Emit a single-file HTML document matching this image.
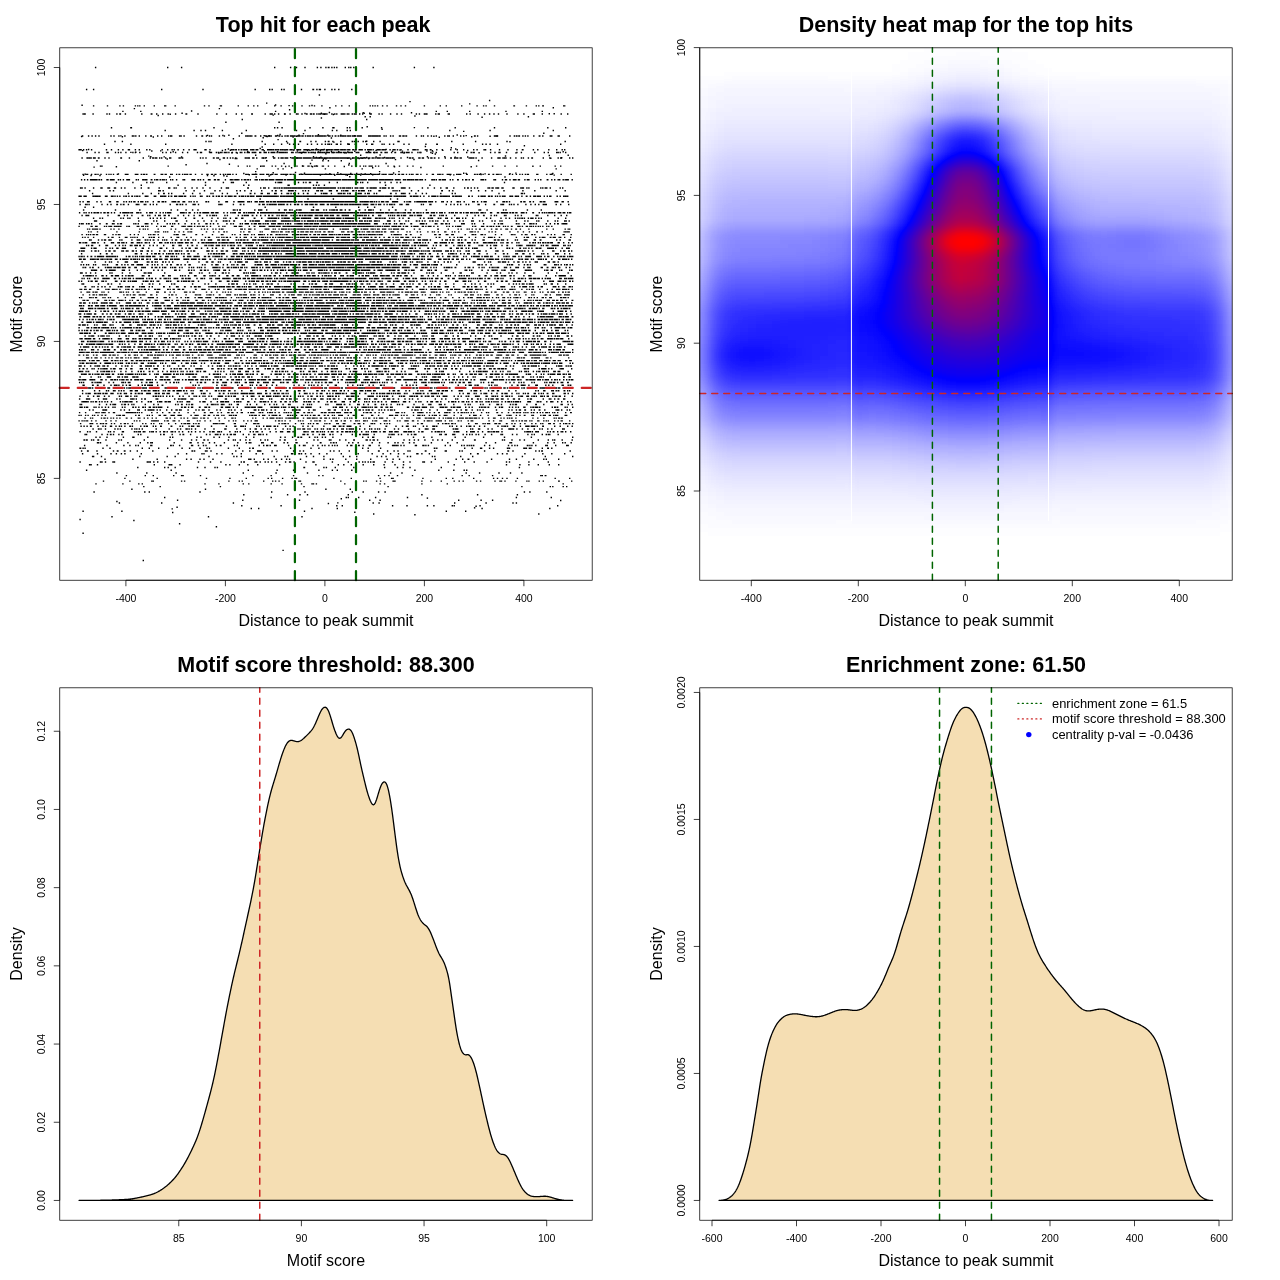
<!DOCTYPE html>
<html><head><meta charset="utf-8"><title>motif enrichment</title>
<style>html,body{margin:0;padding:0;background:#fff}svg{display:block;will-change:transform}text{font-family:"Liberation Sans", sans-serif;fill:#000}</style></head><body>
<svg width="1280" height="1280" viewBox="0 0 1280 1280">
<rect width="1280" height="1280" fill="#fff"/>
<defs>
<clipPath id="c0"><rect x="59.76" y="47.81" width="532.43" height="532.43"/></clipPath>
<clipPath id="c1"><rect x="699.76" y="47.81" width="532.43" height="532.43"/></clipPath>
<clipPath id="c2"><rect x="59.76" y="687.81" width="532.43" height="532.43"/></clipPath>
<clipPath id="c3"><rect x="699.76" y="687.81" width="532.43" height="532.43"/></clipPath>
</defs>
<g clip-path="url(#c0)"><g stroke="#000" stroke-width="1.45" fill="none">
<path d="M94.9 67.53h1.4m70.7 0h1.4m12.5 0h1.4m91.7 0h1.4m14.5 0h1.4m4.5 0h1.4m7.1 0h1.4m11 0h1.4m2.1 0h1.4m3.6 0h1.4m1.1 0h1.9m1.6 0h1.4m1.1 0h1.4m1 0h1.4m7.1 0h1.4m2.1 0h1.4m0.6 0h1.4m1.6 0h1.4m18 0h1.4m39.8 0h1.4m18.1 0h1.4"/>
<path d="M85.9 89.44h1.4m5.6 0h1.4m66.7 0h1.4m39.9 0h1.4m50.8 0h1.4m13.1 0h1.4m1.1 0h1.4m8 0h1.4m1.1 0h1.4m16 0h1.4m10.1 0h1.9m2 0h1.4m1.1 0h2.4m3.1 0h1.4m5.6 0h1.4m1.5 0h1.4m2.6 0h1.4m11.6 0h1.4"/>
<path d="M318.7 94.92h1.4"/>
<path d="M488.9 100.4h1.4"/>
<path d="M409.3 101.63h1.4"/>
<path d="M266 103.14h1.4"/>
<path d="M469 103.89h1.4"/>
<path d="M274.9 104.95h1.4"/>
<path d="M81.4 105.26h1.4"/>
<path d="M311.3 105.43h1.4"/>
<path d="M288.4 105.62h1.4"/>
<path d="M92.9 105.88h1.4m12.5 0h1.4m11 0h1.4m2.1 0h1.4m10.6 0h1.4m1 0h1.4m0.6 0h1.4m3.1 0h1.4m8.6 0h1.4m9 0h2.4m8.1 0h1.4m27.9 0h1.4m3.1 0h1.4m10 0h2.4m15.5 0h1.4m8.6 0h1.4m4.1 0h1.4m2.5 0h1.4m15.6 0h1.4m5 0h1.4m10.1 0h1.4m8 0h1.4m6.1 0h1.4m3.6 0h1.4m6 0h1.4m12.5 0h1.4m4.6 0h1.4m6.1 0h1.4m19.5 0h1.4m1.1 0h1.4m1 0h1.4m1.1 0h1.4m3.6 0h1.4m3.1 0h1.4m8 0h1.4m3.1 0h1.4m3.1 0h1.4m17.5 0h1.4m14.5 0h1.4m4.6 0h1.4m14 0h1.4m14 0h1.4m5.1 0h1.4m1.1 0h1.4m7 0h1.4m18.1 0h1.8m10.6 0h1.4m8.5 0h1.4m1.1 0h1.4m2.6 0h1.9m19 0h2.4"/>
<path d="M329.2 107.67h1.4m222 0h1.4"/>
<path d="M133.7 108.62h1.4m83.6 0h1.4"/>
<path d="M288.9 109.81h1.4"/>
<path d="M190.9 111.05h1.4"/>
<path d="M122.2 111.35h1.4m16.5 0h1.4m133.4 0h1.4m159.3 0h1.4m9.6 0h1.4m21 0h1.4m34.9 0h1.4m34.9 0h1.4"/>
<path d="M328.7 112.54h1.4"/>
<path d="M410.8 112.83h1.4"/>
<path d="M362.5 112.84h1.4"/>
<path d="M369 113.2h1.4"/>
<path d="M320.7 113.24h1.4"/>
<path d="M181.4 113.26h1.4"/>
<path d="M363.5 113.31h1.4"/>
<path d="M304.3 113.46h1.4"/>
<path d="M548.6 113.69h1.4"/>
<path d="M553.5 113.76h1.4"/>
<path d="M334.1 113.99h1.4"/>
<path d="M284.4 114h1.4"/>
<path d="M541.6 114.01h1.4"/>
<path d="M82.4 114.09h1.4m0.1 0h1.9m6.6 0h1.4m12.5 0h1.4m1.1 0h1.4m6 0h1.4m1.6 0h1.9m3.6 0h1.4m15 0h1.4m8.1 0h1.9m3.5 0h1.4m4.6 0h1.4m4.1 0h1.4m6 0h1.4m9.1 0h1.9m10 0h1.4m17.5 0h1.4m8.1 0h1.4m8.5 0h1.4m4.1 0h1.4m8.6 0h1.9m11.5 0h1.4m3.6 0h3.4m1.1 0h1.4m2.5 0h1.4m4.6 0h1.4m4.1 0h1.4m5 0h1.4m0.1 0h1.4m2.6 0h1.4m3.1 0h1.9m2.1 0h2.4m0.6 0h1.9m1.5 0h1.4m0.6 0h1.4m0.1 0h1.9m0.6 0h2.4m0.1 0h1.4m0.1 0h1.4m3.6 0h1.4m3.5 0h1.4m3.1 0h3.4m0.1 0h1.4m1.1 0h1.4m0.1 0h1.4m2.1 0h1.4m0.6 0h3.3m2.1 0h1.4m1.6 0h1.4m6.1 0h2.4m6.5 0h1.4m1.6 0h1.4m7.1 0h1.4m5 0h1.4m3.1 0h1.4m13.5 0h1.4m1.6 0h1.4m3.6 0h1.4m0.1 0h2.4m7.5 0h1.4m1.1 0h2.4m7.6 0h2.4m16 0h1.4m2.1 0h1.4m6.5 0h1.4m5.1 0h1.4m3.6 0h1.4m3 0h1.4m3.1 0h1.4m7.1 0h1.4m9.5 0h1.4m4.6 0h1.4m8.1 0h2.3m25.5 0h1.4m5.1 0h1.4"/>
<path d="M169.5 114.15h1.4"/>
<path d="M323.7 114.28h1.4"/>
<path d="M332.7 114.45h1.4"/>
<path d="M272.5 115.14h1.4"/>
<path d="M157.5 115.43h1.4"/>
<path d="M414.2 116.05h1.4"/>
<path d="M364.5 116.83h1.4m3.6 0h1.4m156.8 0h1.4"/>
<path d="M481.4 117.18h1.4"/>
<path d="M320.7 118.04h1.4"/>
<path d="M241.6 119.57h1.4m123 0h1.4"/>
<path d="M225.2 122.31h1.4m51.8 0h1.4m75.7 0h1.4"/>
<path d="M355 125.05h1.4"/>
<path d="M366.5 126.84h1.4"/>
<path d="M413.7 127.61h1.4"/>
<path d="M110.8 127.79h1.4m18 0h1.9m81.2 0h1.4m59.3 0h1.4m1.5 0h1.4m3.1 0h1.4m26.5 0h1.4m11.5 0h1.4m8.6 0h2.4m12 0h1.4m1.1 0h1.4m11 0h1.4m18 0h1.4m44.9 0h1.4m25.9 0h1.4m37.9 0h1.4m51.9 0h1.4m16.5 0h1.4"/>
<path d="M381.4 129.21h1.4"/>
<path d="M164.5 130.53h1.4m27.5 0h1.4m5.5 0h1.4m3.1 0h1.4m15.5 0h1.4m22.5 0h1.4m48.8 0h1.4m7.1 0h1.4m26 0h1.4m3 0h1.4m9.1 0h1.4m1.6 0h1.4m98.1 0h1.4m38.9 0h1.4m61.8 0h1.4"/>
<path d="M463 131.35h1.4"/>
<path d="M241.1 133.27h1.4m300.6 0h1.4"/>
<path d="M302.8 133.64h1.4"/>
<path d="M279.4 134.56h1.4"/>
<path d="M317.7 134.74h1.4"/>
<path d="M456.5 134.97h1.4"/>
<path d="M340.1 135.22h1.4"/>
<path d="M298.3 135.25h1.4m27.5 0h1.4"/>
<path d="M228.2 135.26h1.4"/>
<path d="M206.8 135.38h1.4"/>
<path d="M276.9 135.57h1.4"/>
<path d="M222.2 135.59h1.4"/>
<path d="M465.5 135.6h1.4"/>
<path d="M263.5 135.7h1.4"/>
<path d="M354.1 135.8h1.4"/>
<path d="M268.5 135.83h1.4"/>
<path d="M120.2 135.88h1.4"/>
<path d="M496.3 135.94h1.4"/>
<path d="M509.3 135.95h1.4"/>
<path d="M81.9 136.01h1.4m4.6 0h1.4m2.1 0h1.4m2.1 0h1.4m2 0h1.4m10.6 0h1.4m1.6 0h1.4m3.5 0h1.4m4.6 0h1.4m6.1 0h1.4m0.1 0h1.4m0.5 0h1.4m2.1 0h1.4m5.1 0h1.4m3.6 0h1.9m5 0h1.4m2.6 0h1.4m5.6 0h1.4m0.6 0h2.4m6.5 0h1.4m0.1 0h1.4m1.6 0h1.4m11 0h1.4m4.1 0h1.9m2.6 0h1.4m1.6 0h1.4m0.6 0h1.4m6.5 0h1.4m3.6 0h1.4m13.5 0h1.4m5.1 0h1.4m0.1 0h1.4m0.1 0h1.4m0.1 0h1.4m0.1 0h1.4m2 0h1.9m3.6 0h1.4m3.6 0h1.4m1.6 0h2.4m0.1 0h1.4m3 0h2.4m1.1 0h1.9m4.1 0h1.4m0.6 0h2.4m1.1 0h3.4m0.1 0h2.3m1.1 0h3.9m0.6 0h2.4m1.1 0h1.4m0.6 0h1.4m0.1 0h1.4m0.1 0h1.4m0.6 0h1.9m1 0h1.4m0.1 0h7.4m0.1 0h1.4m0.1 0h1.4m1.1 0h2.9m1.1 0h1.4m1.5 0h1.9m1.1 0h1.4m0.6 0h1.4m0.1 0h2.9m0.1 0h2.4m0.6 0h2.4m0.1 0h1.4m0.6 0h4.8m0.6 0h4.9m6.1 0h3.9m0.1 0h6.3m0.1 0h2.4m2.6 0h1.4m0.6 0h1.4m3.1 0h1.4m1.1 0h1.4m5 0h2.4m1.1 0h2.4m0.6 0h1.9m8.5 0h1.4m3.6 0h1.4m0.6 0h1.4m3.1 0h1.4m2.1 0h1.4m3.5 0h1.4m7.1 0h1.4m1.6 0h1.4m0.1 0h1.4m2.6 0h1.4m6 0h1.4m1.6 0h1.4m9.5 0h1.9m1.1 0h1.4m15.5 0h2.9m0.1 0h1.4m15.5 0h1.4m0.6 0h1.9m0.6 0h1.9m2.1 0h1.4m1.1 0h1.4m1.1 0h1.4m4.5 0h1.4m4.1 0h1.9m1.6 0h1.4m6.1 0h2.9m5 0h2.4m9.1 0h1.4"/>
<path d="M281.4 136.19h1.4"/>
<path d="M433.2 136.23h1.4"/>
<path d="M266 136.24h1.4"/>
<path d="M295.8 136.31h1.4"/>
<path d="M489.4 136.33h1.4"/>
<path d="M80.9 136.4h1.4"/>
<path d="M266.5 136.51h1.4"/>
<path d="M121.7 136.67h1.4"/>
<path d="M471 136.83h1.4"/>
<path d="M292.4 136.97h1.4"/>
<path d="M152.6 137.03h1.4"/>
<path d="M438.6 137.18h1.4"/>
<path d="M262.5 137.76h1.4"/>
<path d="M330.7 137.92h1.4"/>
<path d="M232.7 138.74h1.4"/>
<path d="M277.4 139.64h1.4"/>
<path d="M366 141.16h1.4"/>
<path d="M114.3 141.48h1.4m6 0h1.4m82.2 0h1.4m1.6 0h1.4m0.6 0h1.4m49.8 0h1.4m23 0h1.4m12 0h1.9m9.1 0h1.4m3.5 0h1.4m8.1 0h1.4m1.6 0h1.9m2.6 0h1.4m6.5 0h1.4m10.1 0h1.4m0.6 0h1.4m2.5 0h1.4m3.6 0h1.4m1.1 0h1.4m6.6 0h1.4m5 0h1.4m16.5 0h2.4m51.4 0h1.4m22.4 0h1.4m30 0h1.4m56.8 0h1.4"/>
<path d="M509.3 141.68h1.4"/>
<path d="M333.2 142.12h1.4"/>
<path d="M286.9 143.02h1.4"/>
<path d="M347.1 144.01h1.4"/>
<path d="M462.5 144.18h1.4"/>
<path d="M103.8 144.22h1.4m25 0h1.4m33.4 0h1.4m64.8 0h1.4m31.9 0h1.4m7.1 0h1.4m6.5 0h1.4m6.6 0h1.4m2.6 0h1.4m3.5 0h1.4m7.6 0h1.4m2.6 0h1.4m4.5 0h1.4m3.1 0h1.4m2.1 0h1.4m1.1 0h1.4m0.1 0h1.4m0.6 0h1.4m3.5 0h2.4m2.1 0h1.4m6.1 0h2.4m4.5 0h1.4m10.1 0h1.4m3.6 0h2.4m8 0h1.4m0.6 0h1.4m4.1 0h1.4m2.6 0h1.4m9 0h1.4m3.6 0h1.4m15.5 0h1.4m9.5 0h1.9m43.9 0h1.4m2.1 0h1.4m2.6 0h1.4m6 0h1.4m61.8 0h1.4"/>
<path d="M523.7 145.71h1.4"/>
<path d="M424.7 146.56h1.4"/>
<path d="M261.5 146.96h1.4"/>
<path d="M450.6 147.81h1.4"/>
<path d="M259.5 148.52h1.4"/>
<path d="M315.7 148.89h1.4"/>
<path d="M227.7 149.04h1.4m225.9 0h1.4"/>
<path d="M385.4 149.39h1.4"/>
<path d="M323.7 149.49h1.4"/>
<path d="M87.9 149.54h1.4"/>
<path d="M78.4 149.7h3.4m1.1 0h1.4m1.6 0h1.4m3.6 0h1.4m13.5 0h1.4m3.6 0h1.4m5.5 0h1.4m3.1 0h1.4m4.1 0h2.4m4.6 0h1.4m2.5 0h1.4m6.1 0h1.4m1.6 0h1.4m11 0h1.4m4.1 0h1.4m3.1 0h1.4m0.6 0h1.4m2.5 0h1.4m4.1 0h1.4m4.1 0h1.4m3.6 0h3.3m7.6 0h2.4m2.6 0h1.4m14 0h1.4m4.6 0h1.9m0.1 0h1.9m0.5 0h1.9m1.1 0h1.4m1.1 0h1.9m0.6 0h2.4m0.1 0h2.4m2.1 0h1.4m0.1 0h2.9m1 0h2.9m3.1 0h2.4m3.1 0h5.9m0.1 0h1.4m0.5 0h1.4m0.1 0h1.4m0.1 0h1.4m0.6 0h1.4m0.1 0h1.9m0.1 0h1.4m0.6 0h2.9m1.1 0h3.4m0.6 0h1.4m1.5 0h2.9m0.1 0h1.9m2.1 0h3.9m0.1 0h2.4m1.1 0h3.4m0.5 0h4.9m0.6 0h3.9m1.6 0h4.4m0.1 0h1.9m0.1 0h1.4m0.5 0h5.4m0.6 0h2.9m0.1 0h1.9m0.1 0h1.4m0.6 0h3.4m1.6 0h1.9m0.5 0h2.4m1.6 0h4.4m1.6 0h1.4m1.1 0h4.9m0.6 0h1.4m2.5 0h4.4m0.6 0h2.9m0.1 0h1.9m3.1 0h1.4m1.6 0h3.3m1.1 0h1.4m2.1 0h1.4m5.6 0h1.4m3.6 0h2.8m0.1 0h1.4m0.6 0h1.4m6.1 0h1.4m0.1 0h1.4m2.1 0h1.9m4.5 0h1.4m4.1 0h1.4m7.1 0h1.4m5 0h1.4m5.1 0h1.4m8.6 0h1.4m2 0h1.4m5.6 0h1.4m0.1 0h1.4m3.6 0h1.4m7.5 0h1.4m7.1 0h1.4m7.5 0h1.4m4.1 0h1.9m9.1 0h1.4m3 0h1.4m9.6 0h1.4m6.5 0h1.4m4.1 0h1.4m1.1 0h1.4"/>
<path d="M284.4 149.76h1.4"/>
<path d="M399.3 149.9h1.4"/>
<path d="M292.9 150.14h1.4"/>
<path d="M229.7 150.19h1.4"/>
<path d="M326.2 150.31h1.4"/>
<path d="M375.4 150.35h1.4m65.3 0h1.4"/>
<path d="M309.3 150.39h1.4"/>
<path d="M467 150.4h1.4"/>
<path d="M306.8 150.41h1.4"/>
<path d="M221.7 150.56h1.4"/>
<path d="M81.9 150.62h1.4"/>
<path d="M431.7 150.69h1.4"/>
<path d="M319.7 150.7h1.4"/>
<path d="M263.5 150.72h1.4"/>
<path d="M160 150.89h1.4"/>
<path d="M296.8 150.95h1.4"/>
<path d="M151.1 150.98h1.4"/>
<path d="M426.2 151.09h1.4"/>
<path d="M401.8 151.14h1.4"/>
<path d="M330.7 151.31h1.4m59.8 0h1.4"/>
<path d="M354.1 151.34h1.4"/>
<path d="M368 151.43h1.4"/>
<path d="M247.1 151.54h1.4"/>
<path d="M172.5 151.69h1.4"/>
<path d="M338.1 151.72h1.4"/>
<path d="M562.5 151.81h1.4"/>
<path d="M276.9 151.83h1.4"/>
<path d="M432.2 151.88h1.4"/>
<path d="M317.7 151.91h1.4m28 0h1.4"/>
<path d="M208.8 152.09h1.4"/>
<path d="M326.2 152.19h1.4"/>
<path d="M135.1 152.28h1.4"/>
<path d="M302.8 152.33h1.4"/>
<path d="M325.7 152.35h1.4"/>
<path d="M130.2 152.37h1.4"/>
<path d="M373.9 152.4h1.4m43.9 0h1.4"/>
<path d="M86.4 152.44h1.4m6.6 0h1.4m2.5 0h1.4m6.6 0h2.4m6.1 0h1.4m1.5 0h1.4m1.1 0h1.4m3.6 0h1.4m5.6 0h1.4m1.1 0h1.4m3 0h1.4m21.5 0h1.4m2.1 0h1.4m3.1 0h1.4m3.5 0h1.4m5.6 0h1.4m3.6 0h1.4m8.5 0h1.4m1.6 0h2.4m7.1 0h2.9m3.5 0h1.4m0.6 0h1.4m0.6 0h1.4m0.1 0h1.4m1.1 0h2.4m0.1 0h1.4m0.6 0h1.4m2.1 0h1.4m2.5 0h1.4m2.6 0h1.4m0.1 0h1.4m1.6 0h1.4m1.1 0h3.4m1.6 0h1.4m0.1 0h3.3m2.6 0h2.4m2.1 0h3.4m1.1 0h1.4m1.1 0h4.9m1 0h1.4m0.6 0h6.4m0.1 0h1.4m0.1 0h1.4m3.1 0h2.9m1.5 0h1.4m2.1 0h2.9m0.1 0h1.4m0.6 0h2.9m1.1 0h1.9m0.6 0h2.4m0.1 0h1.4m0.5 0h1.4m1.1 0h1.4m0.1 0h2.9m0.1 0h1.9m0.1 0h1.9m1.1 0h3.4m1.1 0h2.4m0.5 0h1.4m0.6 0h1.4m0.1 0h1.4m0.1 0h2.9m0.6 0h2.4m0.1 0h1.4m1.1 0h2.9m0.1 0h2.4m2.5 0h2.4m0.1 0h1.4m6.1 0h3.4m0.1 0h2.4m1.6 0h1.9m0.5 0h2.4m2.6 0h1.9m2.1 0h1.9m0.1 0h1.4m3.1 0h1.4m2 0h1.9m4.1 0h1.4m0.1 0h1.4m0.6 0h1.4m0.6 0h3.9m1.6 0h1.4m4.5 0h1.4m1.6 0h1.4m8.6 0h1.4m4 0h1.4m16.5 0h1.4m2.1 0h1.4m7.6 0h1.4m3.1 0h1.4m0.6 0h2.4m15 0h1.4m3 0h1.4m2.6 0h2.4m5.1 0h1.4m9 0h1.4m3.1 0h1.4m12 0h1.4m8.1 0h1.4m2.6 0h1.4m7 0h1.4m0.1 0h1.4m0.6 0h1.4m4.1 0h1.4"/>
<path d="M332.7 152.46h1.4"/>
<path d="M297.3 152.62h1.4"/>
<path d="M478.4 152.65h1.4"/>
<path d="M344.1 152.68h1.4"/>
<path d="M314.3 152.78h1.4"/>
<path d="M231.2 152.81h1.4"/>
<path d="M515.2 152.86h1.4"/>
<path d="M345.6 152.89h1.4"/>
<path d="M218.2 152.96h1.4"/>
<path d="M236.6 153h1.4"/>
<path d="M300.8 153.01h1.4"/>
<path d="M403.3 153.04h1.4"/>
<path d="M431.7 153.39h1.4"/>
<path d="M325.2 153.79h1.4"/>
<path d="M434.6 153.93h1.4"/>
<path d="M379.4 155.02h1.4"/>
<path d="M255 155.18h1.4m103.6 0h1.4m206.1 0h1.4"/>
<path d="M548.6 155.57h1.4"/>
<path d="M504.8 156.05h1.4"/>
<path d="M148.1 156.13h1.4"/>
<path d="M312.8 156.71h1.4"/>
<path d="M426.7 156.72h1.4"/>
<path d="M272.5 156.75h1.4"/>
<path d="M444.1 156.79h1.4"/>
<path d="M150.1 156.8h1.4"/>
<path d="M163.5 156.87h1.4"/>
<path d="M375.4 156.94h1.4"/>
<path d="M467 157.02h1.4"/>
<path d="M180.9 157.05h1.4"/>
<path d="M454.5 157.11h1.4"/>
<path d="M320.2 157.19h1.4"/>
<path d="M315.7 157.39h1.4"/>
<path d="M294.3 157.42h1.4"/>
<path d="M366 157.48h1.4"/>
<path d="M383.9 157.49h1.4"/>
<path d="M406.8 157.54h1.4"/>
<path d="M289.9 157.64h1.4"/>
<path d="M318.7 157.75h1.4"/>
<path d="M561 157.77h1.4"/>
<path d="M265.5 157.82h1.4"/>
<path d="M363.5 157.83h1.4m27.5 0h1.4"/>
<path d="M81.4 157.92h1.4m3.6 0h2.4m0.1 0h1.4m0.1 0h1.4m1.1 0h2.9m2 0h1.9m4.6 0h1.4m2.6 0h1.4m10.5 0h1.9m20.5 0h1.4m5.6 0h1.4m1.1 0h2.4m0.5 0h2.4m1.6 0h1.4m0.6 0h1.4m2.6 0h1.4m2.6 0h2.4m7 0h2.4m0.6 0h1.9m16.5 0h1.4m1.1 0h1.4m1.6 0h1.4m6.1 0h1.9m1.5 0h1.4m0.1 0h1.4m3.6 0h2.4m1.6 0h1.4m1.6 0h1.4m1.1 0h1.4m1.5 0h1.4m8.1 0h1.4m0.1 0h1.4m0.1 0h2.4m2.1 0h2.4m1.5 0h1.4m4.1 0h2.4m0.6 0h1.4m7.1 0h2.4m5 0h3.4m0.6 0h3.9m3.1 0h10.8m0.6 0h8.9m0.6 0h8.3m0.1 0h2.9m0.6 0h4.4m0.1 0h2.4m0.1 0h7.8m0.1 0h8.4m0.1 0h2.9m1.6 0h2.4m0.5 0h4.4m0.6 0h2.4m0.1 0h1.4m0.6 0h1.9m1.1 0h1.4m0.1 0h1.4m1.1 0h2.4m0.5 0h1.4m0.6 0h4.4m0.6 0h1.4m0.1 0h1.4m1.1 0h1.4m0.6 0h1.9m0.1 0h2.4m0.1 0h1.4m0.5 0h1.4m5.1 0h1.4m7.1 0h2.4m0.6 0h1.9m4.5 0h2.4m1.1 0h2.4m3.6 0h1.4m1.1 0h2.4m1.1 0h1.8m2.6 0h1.4m5.1 0h1.4m4.1 0h1.9m2 0h1.4m0.1 0h1.4m0.1 0h1.4m1.1 0h2.4m6.6 0h1.4m0.1 0h2.9m0.1 0h1.4m1 0h1.4m4.6 0h1.4m8.1 0h1.4m5 0h3.4m1.6 0h1.4m0.1 0h1.4m0.1 0h1.4m3.1 0h1.4m4 0h1.4m4.1 0h1.4m0.6 0h1.4m3.6 0h1.4m2.1 0h1.9m9.5 0h1.4m5.1 0h1.4m7 0h1.4m1.1 0h1.9m7.1 0h1.4m1.6 0h1.4"/>
<path d="M296.3 157.95h1.4"/>
<path d="M128.7 157.98h1.4m256.3 0h1.4"/>
<path d="M277.9 158.02h1.4m75.2 0h1.4"/>
<path d="M263 158.11h1.4"/>
<path d="M351.6 158.13h1.4"/>
<path d="M347.1 158.23h1.4"/>
<path d="M550.1 158.3h1.4"/>
<path d="M323.7 158.33h1.4"/>
<path d="M361.5 158.35h1.4"/>
<path d="M236.1 158.46h1.4m121 0h1.4"/>
<path d="M234.6 158.52h1.4"/>
<path d="M368 158.64h1.4"/>
<path d="M325.2 158.7h1.4"/>
<path d="M293.9 158.88h1.4"/>
<path d="M166.5 158.91h1.4"/>
<path d="M350.1 159.09h1.4"/>
<path d="M322.7 159.15h1.4"/>
<path d="M219.2 159.55h1.4"/>
<path d="M413.3 159.56h1.4"/>
<path d="M394.8 159.63h1.4"/>
<path d="M311.3 160.13h1.4"/>
<path d="M477.9 160.56h1.4"/>
<path d="M96.3 160.66h1.4m40.9 0h1.4m126 0h1.4m54.8 0h1.4m4.1 0h1.4m11.5 0h1.4"/>
<path d="M206.3 163.4h1.4m75.7 0h1.4m25 0h1.4m37.4 0h1.4m35.4 0h1.4"/>
<path d="M228.7 164.33h1.4"/>
<path d="M185.4 164.74h1.4"/>
<path d="M348.1 164.93h1.4"/>
<path d="M315.7 165.91h1.4"/>
<path d="M301.8 166.03h1.4"/>
<path d="M99.8 166.13h1.4m0.1 0h1.4m64.8 0h1.4m68.7 0h1.4m7.6 0h1.4m1.1 0h1.4m11 0h1.4m0.1 0h1.9m6.6 0h1.4m2 0h1.4m4.6 0h1.4m6.1 0h1.4m6.5 0h1.4m4.6 0h1.9m3.1 0h2.4m1.1 0h1.4m1.6 0h1.9m1 0h1.4m3.6 0h2.4m3.6 0h1.4m5 0h1.4m15.6 0h1.4m3 0h1.4m2.6 0h1.4m2.1 0h1.4m0.6 0h1.4m2.1 0h1.9m0.1 0h2.4m2 0h1.4m1.6 0h1.4m8.1 0h1.4m4.6 0h1.4m12 0h1.4m4.1 0h1.4m28.9 0h1.4m31.9 0h1.4m14.6 0h1.4m11 0h1.4m10.5 0h1.4m22 0h1.4m13.5 0h1.4m4.1 0h1.4"/>
<path d="M398.8 166.14h1.4"/>
<path d="M260 166.15h1.4"/>
<path d="M532.2 166.31h1.4"/>
<path d="M343.6 166.46h1.4"/>
<path d="M284.9 166.47h1.4"/>
<path d="M393.8 166.7h1.4"/>
<path d="M311.8 166.73h1.4"/>
<path d="M115.7 166.75h1.4"/>
<path d="M470.5 166.76h1.4"/>
<path d="M93.4 167.11h1.4"/>
<path d="M420.2 167.59h1.4"/>
<path d="M290.9 167.69h1.4"/>
<path d="M372 167.7h1.4"/>
<path d="M256.5 168.87h1.4m19.5 0h1.4m3.6 0h1.4m40.9 0h1.4m35.4 0h1.4m192.6 0h1.4"/>
<path d="M255 171.61h1.4m122.5 0h1.4m18 0h1.4"/>
<path d="M294.8 172.54h1.4"/>
<path d="M272.5 172.65h1.4"/>
<path d="M337.1 172.74h1.4"/>
<path d="M392.9 173h1.4"/>
<path d="M515.2 173.1h1.4"/>
<path d="M303.8 173.18h1.4"/>
<path d="M463 173.28h1.4"/>
<path d="M465.5 173.37h1.4"/>
<path d="M243.1 173.43h1.4"/>
<path d="M356 173.53h1.4m194.7 0h1.4"/>
<path d="M350.1 173.54h1.4"/>
<path d="M329.2 173.7h1.4"/>
<path d="M509.3 173.71h1.4"/>
<path d="M370 173.73h1.4"/>
<path d="M360.5 173.86h1.4"/>
<path d="M484.4 173.88h1.4"/>
<path d="M364.5 173.9h1.4"/>
<path d="M551.6 173.91h1.4"/>
<path d="M479.9 173.99h1.4"/>
<path d="M378.9 174h1.4"/>
<path d="M340.1 174.01h1.4"/>
<path d="M117.7 174.07h1.4"/>
<path d="M84.4 174.13h1.4"/>
<path d="M325.2 174.26h1.4"/>
<path d="M255 174.3h1.4"/>
<path d="M300.3 174.34h1.4"/>
<path d="M82.4 174.35h1.4m1.6 0h1.4m0.1 0h1.4m2.6 0h1.4m2.1 0h2.3m0.6 0h1.4m1.6 0h1.4m4.1 0h1.4m1.1 0h1.4m0.6 0h1.4m1.1 0h1.4m2.5 0h1.4m6.6 0h3.9m6.1 0h3.8m2.1 0h1.4m0.6 0h2.4m0.6 0h1.9m6.1 0h1.9m5 0h2.9m1.1 0h2.4m3.1 0h1.4m0.1 0h1.4m3 0h1.4m1.1 0h1.9m1.6 0h1.4m0.6 0h1.4m0.1 0h1.4m0.1 0h1.4m1.1 0h2.4m3 0h1.4m5.1 0h1.4m3.6 0h2.4m2.1 0h2.4m1.1 0h2.3m3.1 0h1.4m1.6 0h1.4m0.6 0h1.4m0.6 0h4.4m1.1 0h1.4m2 0h1.4m8.1 0h1.9m0.1 0h1.9m2.6 0h3.9m0.5 0h1.4m2.1 0h1.9m0.1 0h1.4m0.1 0h1.4m1.6 0h3.4m1.6 0h2.4m1.1 0h3.3m2.6 0h2.4m0.1 0h1.9m0.1 0h3.4m1.1 0h2.4m0.6 0h2.9m3.5 0h1.4m0.6 0h2.9m0.6 0h8.4m0.1 0h10.3m0.1 0h2.4m0.1 0h6.9m0.6 0h1.9m1 0h4.4m0.1 0h6.9m0.1 0h5.9m0.6 0h3.8m0.1 0h2.4m1.1 0h3.9m0.1 0h4.9m0.6 0h5.8m0.1 0h2.9m1.6 0h1.4m0.1 0h1.4m0.1 0h2.4m1.6 0h1.4m0.1 0h3.4m1.5 0h1.4m1.6 0h2.4m1.1 0h2.9m1.6 0h1.4m1.6 0h1.4m0.6 0h1.4m0.1 0h1.4m2 0h2.9m1.6 0h1.4m4.6 0h1.4m4.1 0h2.4m3 0h1.4m0.1 0h1.4m0.1 0h1.4m0.6 0h1.4m3.1 0h3.4m0.1 0h1.4m4.5 0h1.9m0.1 0h3.4m4.6 0h1.9m6 0h1.9m0.6 0h1.9m0.6 0h1.4m2.1 0h1.4m4.1 0h1.9m2.6 0h1.9m1.5 0h2.4m0.1 0h1.4m0.6 0h1.4m7.1 0h1.4m1.6 0h1.4m2.5 0h1.4m2.1 0h1.4m1.1 0h1.4m1.6 0h1.4m0.6 0h2.4m7 0h2.4m7.6 0h1.4m2.1 0h2.4m8.5 0h1.4m8.6 0h1.4"/>
<path d="M480.4 174.5h1.4"/>
<path d="M270 174.66h1.4"/>
<path d="M449.6 174.69h1.4"/>
<path d="M372 174.7h1.4"/>
<path d="M248.6 174.72h1.4m95.1 0h1.4"/>
<path d="M453.1 174.88h1.4"/>
<path d="M285.4 174.97h1.4"/>
<path d="M360 174.98h1.4"/>
<path d="M319.7 174.99h1.4"/>
<path d="M553.5 175.14h1.4"/>
<path d="M334.1 175.21h1.4"/>
<path d="M346.6 175.23h1.4"/>
<path d="M82.9 175.33h1.4"/>
<path d="M99.3 175.41h1.4"/>
<path d="M90.4 175.46h1.4"/>
<path d="M206.8 175.48h1.4"/>
<path d="M223.2 175.74h1.4"/>
<path d="M213.3 175.79h1.4"/>
<path d="M268.5 176.09h1.4"/>
<path d="M226.2 176.21h1.4"/>
<path d="M349.1 176.82h1.4"/>
<path d="M169 177.09h1.4m85.1 0h1.4m247.4 0h1.4"/>
<path d="M80.9 179.83h1.4m1.6 0h1.4m1.6 0h1.4m1.6 0h7.8m0.6 0h1.9m0.6 0h1.4m4.1 0h2.4m1.1 0h4.9m3 0h1.4m0.6 0h1.4m1.6 0h1.4m2.1 0h3.9m5.5 0h1.4m0.6 0h1.4m3.1 0h1.9m0.1 0h3.4m3.1 0h1.9m1.6 0h1.4m0.5 0h2.4m1.1 0h1.9m0.6 0h1.4m0.1 0h1.4m0.6 0h1.4m3.1 0h1.4m0.6 0h1.4m2.5 0h1.4m5.1 0h1.4m0.1 0h1.4m6.1 0h2.4m0.1 0h1.4m2 0h1.9m0.6 0h1.4m1.6 0h1.4m3.6 0h2.9m3.1 0h2.3m1.1 0h2.4m5.1 0h1.4m3.6 0h2.4m0.1 0h1.4m0.6 0h3.8m0.1 0h1.4m1.6 0h1.4m1.1 0h2.9m0.6 0h1.9m0.6 0h1.4m3.5 0h1.4m0.1 0h1.9m1.1 0h1.4m0.6 0h2.9m0.6 0h3.4m0.6 0h5.9m1 0h7.9m0.6 0h2.4m0.6 0h54.1m0.6 0h5.9m0.1 0h8.8m0.6 0h3.9m0.1 0h5.9m1.1 0h10.3m0.6 0h5.4m0.1 0h7.4m0.1 0h1.4m1.5 0h4.4m0.1 0h1.4m2.1 0h1.9m0.1 0h1.4m0.6 0h3.4m0.1 0h2.4m0.1 0h1.4m0.5 0h3.9m0.6 0h1.9m0.1 0h1.9m1.6 0h1.4m5.1 0h1.9m0.1 0h1.9m0.5 0h1.4m1.6 0h2.4m0.6 0h4.4m3.6 0h1.4m1.1 0h1.4m3.5 0h1.9m3.1 0h1.4m1.6 0h2.4m1.1 0h1.4m2.1 0h1.9m6.5 0h3.9m0.6 0h1.4m7 0h1.4m0.1 0h1.4m5.6 0h1.4m1.6 0h2.4m2.1 0h1.4m2.1 0h3.8m1.1 0h2.4m4.1 0h1.4m1.1 0h2.9m5 0h1.4m1.6 0h1.4m1.1 0h1.4m5.1 0h1.9m2.6 0h1.4m1.5 0h1.4m2.1 0h1.4m0.1 0h1.4m2.1 0h1.4m0.6 0h1.4m0.1 0h2.9m2.6 0h1.4"/>
<path d="M115.7 182.57h1.4m15.1 0h1.4m12.5 0h1.4m2.6 0h1.4m0.6 0h1.4m12.5 0h1.4m37.4 0h1.4m16.5 0h1.4m6.6 0h1.9m0.1 0h1.4m11.5 0h1.4m27.9 0h1.4m1.1 0h1.4m0.1 0h3.4m11.6 0h1.4m2.5 0h1.4m3.6 0h1.4m1.1 0h1.4m2.1 0h2.4m5 0h1.9m10.6 0h1.4m6.5 0h1.4m19 0h1.4m1.6 0h1.4m0.6 0h1.4m3.6 0h1.4m11 0h1.4m3.6 0h1.4m4.6 0h1.4m4.5 0h1.4m2.1 0h1.4m102.6 0h1.4"/>
<path d="M140.6 185.31h1.4m35.4 0h1.4m26 0h1.4m36.9 0h1.4m3.6 0h1.4m37.9 0h2.4m23 0h1.4m1.5 0h1.4m1.1 0h1.4m4.1 0h1.4m59.8 0h1.4m42.9 0h1.4"/>
<path d="M79.9 188.05h1.4m0.1 0h1.4m1.6 0h1.4m7.1 0h1.4m6 0h2.4m4.6 0h2.9m3.6 0h2.4m4.5 0h1.4m2.1 0h1.4m8.6 0h1.4m5 0h1.4m5.6 0h1.9m9 0h1.4m8.1 0h2.4m3.1 0h1.4m0.5 0h1.4m7.6 0h1.4m5.6 0h1.4m3.5 0h1.4m4.6 0h1.4m5.6 0h1.4m10 0h1.4m3.6 0h1.4m0.1 0h1.9m18 0h1.9m11 0h1.4m1.6 0h1.4m0.1 0h1.4m2.1 0h1.4m4.1 0h2.4m0.5 0h1.4m0.6 0h1.9m0.6 0h1.9m0.6 0h2.4m0.1 0h1.4m0.1 0h2.4m0.1 0h1.9m0.1 0h5.8m0.1 0h4.4m0.1 0h1.4m0.1 0h3.9m0.1 0h3.4m1.6 0h3.3m0.6 0h5.9m0.1 0h6.4m0.1 0h6.8m1.6 0h1.4m0.6 0h1.9m0.6 0h3.4m0.6 0h1.4m0.1 0h1.9m0.1 0h1.4m0.6 0h1.4m1.5 0h2.4m0.1 0h1.4m1.1 0h1.4m0.1 0h2.9m2.6 0h1.9m1.1 0h3.4m0.1 0h3.8m2.6 0h1.9m0.6 0h4.4m1.6 0h1.9m1.6 0h2.4m7 0h4.9m3.1 0h1.4m11.5 0h1.4m4.1 0h1.4m5.1 0h1.4m5 0h1.4m4.1 0h2.4m5.1 0h1.4m9.5 0h1.4m1.6 0h1.9m1.6 0h1.4m2 0h1.4m1.6 0h1.4m9.1 0h1.4m0.1 0h1.4m1.1 0h2.4m1.5 0h1.4m0.1 0h2.4m2.1 0h2.4m8.6 0h2.4m5.5 0h1.4m0.1 0h2.4m2.1 0h1.4m0.6 0h1.4m10.5 0h1.4m0.6 0h1.4m1.1 0h2.9m2.1 0h1.4m8.5 0h1.4m1.1 0h1.4"/>
<path d="M88.9 190.79h1.4m19 0h1.4m2.1 0h1.4m43.8 0h1.4m0.1 0h1.4m1.6 0h1.4m21.5 0h1.4m6.6 0h1.4m9 0h1.4m9.1 0h1.4m3.5 0h1.4m15.5 0h1.4m2.1 0h1.4m3.1 0h1.4m5.1 0h1.4m9 0h1.4m9.1 0h1.4m2 0h1.9m3.6 0h1.9m5.6 0h2.9m0.1 0h2.9m1 0h1.4m6.1 0h1.4m1.1 0h1.4m1.6 0h1.4m7 0h1.4m0.1 0h1.4m1.1 0h1.4m0.1 0h1.4m5.6 0h3.4m4 0h1.9m3.1 0h1.4m0.6 0h1.4m0.6 0h3.4m3.6 0h2.4m1 0h1.4m1.1 0h1.9m0.6 0h4.4m3.1 0h1.4m0.6 0h1.4m7 0h2.4m11.6 0h1.4m0.5 0h1.4m0.6 0h1.4m1.1 0h1.4m10.6 0h1.4m5.5 0h1.4m22 0h1.9m5.6 0h1.4m2.1 0h1.4m17 0h1.4m6 0h1.4m5.6 0h1.4m5.1 0h1.4m10.5 0h1.4m17.5 0h1.4m10.5 0h1.4m20 0h1.4m7.6 0h1.4"/>
<path d="M91.9 193.52h1.4m34.4 0h1.4m13 0h1.4m7.1 0h1.4m6 0h1.4m3.6 0h1.9m3.1 0h1.4m1.6 0h1.4m10.5 0h1.4m7.6 0h1.4m6 0h1.4m9.6 0h1.4m0.6 0h1.4m8 0h1.4m3.6 0h1.4m8.5 0h1.4m11.6 0h1.9m2.6 0h1.4m5 0h2.4m4.1 0h1.4m0.1 0h1.4m4.1 0h2.8m4.1 0h1.4m4.1 0h1.4m0.1 0h1.4m1.1 0h1.4m1.1 0h1.4m3.5 0h1.4m3.6 0h1.4m2.6 0h1.9m6 0h1.4m4.6 0h1.4m0.6 0h1.4m0.1 0h3.4m3.1 0h1.4m5.5 0h1.4m0.1 0h1.4m0.1 0h1.4m0.6 0h1.4m0.1 0h1.4m1.6 0h1.4m0.6 0h1.9m6.5 0h1.9m0.1 0h2.4m2.6 0h1.4m1.1 0h1.4m0.1 0h1.4m3.6 0h1.4m1 0h1.4m12.6 0h1.9m3.5 0h1.4m4.1 0h1.4m0.1 0h1.9m0.1 0h1.4m3.1 0h1.4m5 0h1.4m5.1 0h1.4m2.6 0h1.4m13 0h1.4m10.1 0h1.4m1.5 0h1.4m42.4 0h1.4m21 0h2.4m0.6 0h1.4"/>
<path d="M78.4 196.26h3.4m1.6 0h3.4m5.6 0h2.4m0.1 0h3.3m0.1 0h2.4m4.1 0h2.9m3.1 0h2.9m0.6 0h1.4m1 0h1.4m1.1 0h1.4m2.6 0h1.4m0.6 0h1.9m1.1 0h1.4m1.6 0h1.9m1.1 0h1.4m0.5 0h2.4m0.6 0h1.4m4.1 0h2.4m0.1 0h1.4m5.1 0h2.8m3.6 0h3.4m0.1 0h2.9m1.6 0h1.4m1.1 0h1.9m1.6 0h3.3m1.1 0h4.9m0.6 0h2.4m3.6 0h1.4m1.1 0h1.4m0.6 0h1.4m4 0h1.4m0.1 0h1.4m3.6 0h1.9m0.6 0h1.4m2.1 0h1.9m1.5 0h1.4m0.6 0h2.4m1.1 0h1.9m1.6 0h1.9m1.1 0h3.4m0.1 0h1.4m1.1 0h2.8m2.1 0h1.4m0.6 0h3.4m0.6 0h1.4m0.6 0h2.4m0.6 0h2.4m0.1 0h2.4m1.5 0h6.4m0.6 0h14.3m0.1 0h1.4m1.1 0h2.9m0.1 0h2.4m0.1 0h17.3m0.1 0h64.1m0.6 0h17.3m0.1 0h7.4m1.1 0h2.3m0.1 0h2.4m0.1 0h2.4m0.1 0h1.9m0.1 0h3.4m3.6 0h2.4m0.6 0h2.3m0.1 0h3.4m1.1 0h1.4m2.1 0h1.4m3.6 0h1.4m1.6 0h5.3m0.6 0h1.4m1.1 0h2.4m0.1 0h4.9m0.1 0h1.4m0.1 0h1.4m2.1 0h2.4m0.5 0h2.4m0.1 0h1.4m0.1 0h1.4m0.1 0h1.4m6.1 0h1.9m1.6 0h1.4m5 0h1.4m1.1 0h2.9m0.1 0h2.4m2.1 0h2.4m0.6 0h1.9m2 0h1.4m0.6 0h1.4m1.1 0h1.4m1.1 0h1.4m0.1 0h2.4m3.6 0h1.9m0.1 0h1.9m1.5 0h2.9m0.1 0h1.4m2.1 0h1.4m3.1 0h1.9m2.1 0h1.4m2 0h2.9m0.6 0h2.4m0.1 0h1.9m2.6 0h1.4m1.6 0h1.4m1.1 0h2.4m5 0h1.4m1.6 0h1.4m2.1 0h1.9m0.1 0h1.9m0.1 0h1.4"/>
<path d="M259.5 199h1.4m46.4 0h1.4m24 0h1.4m55.8 0h1.4m5.5 0h1.4"/>
<path d="M79.4 201.74h1.4m1.6 0h1.4m3.1 0h2.9m6.5 0h1.4m2.6 0h1.4m7.1 0h2.4m5 0h2.4m4.6 0h1.4m1.1 0h1.4m1.6 0h1.4m0.6 0h1.4m1.1 0h2.4m2 0h1.4m1.1 0h3.4m1.6 0h1.4m0.6 0h1.4m4.1 0h1.4m3.5 0h2.4m1.6 0h2.9m0.6 0h1.4m5.1 0h1.4m0.1 0h3.3m1.1 0h2.4m2.6 0h2.9m3.1 0h1.4m0.6 0h1.4m1.6 0h1.4m1.5 0h1.4m7.6 0h1.9m0.6 0h1.4m9 0h1.4m5.6 0h2.9m5.1 0h1.4m3 0h6.9m2.6 0h1.4m0.1 0h1.4m0.6 0h1.4m2.5 0h3.4m1.1 0h1.4m0.1 0h3.9m1.6 0h1.9m0.1 0h1.4m0.6 0h1.9m0.6 0h3.8m0.6 0h2.4m0.1 0h7.4m0.1 0h5.9m0.1 0h4.3m0.6 0h1.4m0.1 0h1.4m0.1 0h1.9m1.1 0h4.4m0.1 0h9.8m0.1 0h26.3m0.1 0h12.8m2.1 0h2.4m0.1 0h1.9m0.1 0h4.9m0.6 0h3.9m0.5 0h1.4m0.6 0h1.4m1.1 0h1.4m1.1 0h3.4m1.1 0h1.4m0.1 0h1.9m3.1 0h6.3m5.6 0h1.4m1.1 0h1.4m0.6 0h2.9m3 0h1.4m0.6 0h5.4m0.1 0h1.4m0.1 0h3.9m1.1 0h3.4m0.1 0h1.4m2 0h1.4m4.6 0h1.4m0.1 0h1.4m2.6 0h1.4m2.6 0h1.4m4.5 0h2.4m0.6 0h1.4m2.6 0h1.4m7.1 0h1.4m0.1 0h1.4m2 0h1.4m2.6 0h1.4m1.1 0h3.4m9.5 0h1.4m4.6 0h2.9m0.6 0h1.9m1.1 0h1.4m10 0h1.9m1.1 0h2.4m3.6 0h1.9m1.6 0h1.4m5.5 0h1.4m0.1 0h1.4m0.6 0h2.4m9 0h3.9m3.1 0h2.4m3.6 0h1.4"/>
<path d="M79.4 204.48h1.4m4.1 0h1.4m0.1 0h1.4m0.6 0h1.4m11.5 0h1.4m4.1 0h1.4m2.1 0h1.4m4.5 0h1.9m2.1 0h1.4m1.1 0h1.9m3.1 0h1.4m6.5 0h2.4m0.1 0h1.4m4.1 0h1.4m0.1 0h1.4m3.1 0h1.4m1.6 0h1.4m2 0h1.4m12.1 0h1.4m5 0h2.4m1.1 0h1.9m0.6 0h1.4m2.1 0h1.4m5.6 0h3.4m2 0h1.4m19 0h1.4m0.1 0h1.4m0.1 0h1.4m10.1 0h1.4m5.5 0h1.9m1.6 0h1.4m14 0h1.9m1.6 0h2.9m1.6 0h1.4m0.6 0h3.4m0.1 0h1.4m0.1 0h3.3m1.1 0h1.9m0.1 0h2.9m0.1 0h1.9m1.6 0h1.9m1.6 0h1.4m2.6 0h2.3m0.6 0h2.4m2.1 0h1.4m2.1 0h3.4m1.1 0h1.4m0.1 0h2.9m1 0h2.9m2.1 0h4.9m2.1 0h2.4m1.1 0h2.9m0.1 0h6.3m0.6 0h3.4m0.6 0h1.9m0.1 0h2.4m0.6 0h2.4m0.1 0h2.4m0.1 0h5.8m0.1 0h1.4m1.1 0h1.4m0.1 0h4.4m2.1 0h3.9m1 0h1.4m1.1 0h1.4m0.1 0h1.9m2.1 0h1.4m1.6 0h1.4m1.1 0h1.9m0.1 0h1.9m0.6 0h1.8m4.1 0h1.4m0.1 0h1.9m3.1 0h3.4m11.5 0h1.4m0.6 0h1.4m5.1 0h2.4m14 0h1.4m3.1 0h1.4m2 0h1.4m2.1 0h1.4m1.6 0h1.4m4.1 0h1.4m1.1 0h1.4m8 0h2.4m5.1 0h1.4m7 0h1.9m5.1 0h1.4m0.1 0h2.4m4.6 0h1.4m0.6 0h1.4m1.1 0h1.4m2.5 0h1.4m6.6 0h1.4m3.6 0h1.4m3 0h1.4m2.1 0h1.4m3.1 0h1.4m0.1 0h2.9m8.5 0h1.4m3.1 0h1.4m6.6 0h1.4"/>
<path d="M84.4 207.22h1.4m7.1 0h1.4m170.2 0h1.4m46.9 0h1.4m20.9 0h1.4m21.5 0h1.4m7.6 0h1.4m5.5 0h1.4m16.6 0h1.4"/>
<path d="M82.9 209.96h1.4m30.5 0h1.4m22.9 0h1.4m30 0h1.4m5 0h1.4m7.1 0h1.4m5.1 0h1.4m4 0h1.4m34 0h1.4m0.1 0h1.4m1 0h1.4m1.1 0h1.9m13.1 0h1.4m2.5 0h1.9m0.1 0h2.4m3.6 0h1.4m11 0h1.4m4.1 0h1.4m0.1 0h1.4m2.1 0h1.9m0.6 0h1.4m3 0h1.9m0.6 0h3.4m9.1 0h3.4m1.5 0h3.4m4.1 0h1.4m1.1 0h1.4m2.1 0h1.4m0.6 0h1.4m0.1 0h2.4m0.5 0h2.4m1.6 0h2.9m2.1 0h1.4m2.6 0h1.9m8 0h1.9m4.1 0h1.4m2.1 0h3.9m0.6 0h1.4m6 0h1.4m7.1 0h1.4m5 0h1.9m8.1 0h1.4m4.1 0h1.4m14 0h1.4m51.3 0h1.4m0.1 0h1.4m5.1 0h1.4m15 0h1.4m1.1 0h1.4m20 0h1.4m12.5 0h1.4"/>
<path d="M78.9 212.7h1.4m3.1 0h1.4m0.6 0h1.4m1.6 0h1.4m1.1 0h1.4m1.1 0h2.4m0.5 0h2.9m1.1 0h1.4m1.6 0h2.4m1.1 0h2.4m1.6 0h1.4m1.6 0h1.4m4.5 0h1.4m1.1 0h5.4m0.1 0h1.9m0.6 0h1.4m0.1 0h1.4m3 0h3.4m0.6 0h1.4m4.6 0h1.4m1.6 0h2.4m0.1 0h1.4m2.5 0h1.4m2.6 0h1.4m1.6 0h1.4m1.1 0h1.4m0.6 0h4.4m8.5 0h4.9m0.6 0h1.4m1.6 0h2.4m3.1 0h1.4m1.5 0h1.4m1.1 0h1.9m1.1 0h6.9m1.6 0h3.4m1 0h3.4m4.6 0h1.4m2.1 0h1.4m2.1 0h1.4m0.6 0h1.4m0.1 0h2.3m2.1 0h2.9m2.1 0h1.9m0.6 0h1.4m0.6 0h1.9m0.1 0h2.4m0.1 0h2.9m2 0h1.9m1.1 0h12.4m0.1 0h1.9m0.1 0h10.8m0.6 0h1.4m0.1 0h9.8m0.6 0h1.9m0.1 0h8.4m0.1 0h5.9m0.1 0h9.3m0.1 0h4.9m0.1 0h17.3m0.1 0h2.9m0.1 0h3.9m0.1 0h6.3m0.6 0h1.9m0.1 0h5.4m0.1 0h4.9m0.1 0h1.9m1 0h5.4m0.1 0h3.4m0.6 0h3.9m0.6 0h1.4m0.1 0h2.9m0.5 0h1.4m0.6 0h3.4m0.6 0h1.4m0.6 0h1.4m0.1 0h2.4m1.1 0h1.9m0.1 0h1.9m1.6 0h2.3m1.1 0h1.9m0.1 0h1.4m0.6 0h1.4m1.1 0h1.4m1.6 0h3.4m1.6 0h1.4m0.1 0h2.9m1 0h1.4m1.6 0h1.4m0.1 0h2.4m1.1 0h1.4m3.1 0h1.4m0.6 0h1.4m0.1 0h1.9m1 0h1.4m0.1 0h1.4m1.6 0h2.4m1.1 0h1.4m1.1 0h3.4m1.1 0h2.9m0.6 0h1.4m0.5 0h1.9m0.1 0h1.4m1.6 0h3.4m0.6 0h1.4m4.1 0h2.4m4.5 0h2.4m1.6 0h7.4m1.1 0h1.9m0.6 0h2.4m1 0h2.4m3.1 0h3.9m1.1 0h1.4m5.1 0h1.9m4.5 0h1.4m1.6 0h1.4m0.6 0h1.9m0.6 0h1.4m0.6 0h1.9m0.1 0h1.4m0.1 0h1.9m0.5 0h1.4m2.1 0h1.4m0.1 0h2.4m1.1 0h2.9m1.6 0h1.4m0.6 0h2.4"/>
<path d="M81.4 215.44h1.4m2.6 0h2.4m0.1 0h1.4m18 0h1.4m9 0h2.4m3.6 0h1.4m1.6 0h1.4m3.1 0h1.4m9 0h1.9m3.6 0h1.4m0.6 0h1.4m4.1 0h1.4m2 0h1.4m0.1 0h1.4m2.6 0h2.4m2.1 0h1.9m7.5 0h1.4m4.1 0h1.4m3.6 0h1.4m4.1 0h1.4m4 0h1.9m5.6 0h1.4m1.6 0h1.4m1.1 0h1.9m0.1 0h1.4m0.5 0h1.4m7.1 0h1.4m1.1 0h1.4m9.5 0h1.4m2.6 0h1.4m0.6 0h1.4m0.1 0h1.4m0.1 0h2.4m2.6 0h1.9m2.5 0h1.4m2.6 0h1.4m3.1 0h1.4m2.1 0h1.9m1.6 0h1.9m3 0h1.4m0.6 0h1.4m1.1 0h2.9m0.6 0h2.9m3.1 0h1.4m0.6 0h3.3m0.6 0h1.4m1.1 0h2.4m0.6 0h1.4m0.6 0h2.9m0.6 0h1.4m0.1 0h3.9m2 0h2.4m0.1 0h1.4m0.6 0h3.9m1.1 0h2.4m0.1 0h1.9m1.1 0h1.9m0.1 0h2.4m2.5 0h1.4m0.1 0h1.4m2.1 0h2.9m0.1 0h2.9m0.1 0h1.4m4.1 0h1.4m0.5 0h1.4m0.6 0h1.4m0.1 0h3.4m0.1 0h1.4m0.6 0h1.4m0.1 0h1.4m1.1 0h1.4m2.6 0h1.9m4 0h1.9m0.1 0h1.4m6.6 0h1.4m0.6 0h1.4m0.6 0h1.4m0.5 0h1.4m1.6 0h2.9m1.1 0h1.4m0.6 0h3.4m3.1 0h2.4m0.1 0h1.4m1 0h1.4m1.1 0h5.4m7.6 0h2.4m1.1 0h2.3m3.6 0h1.4m0.6 0h1.4m0.1 0h1.4m1.6 0h1.4m7 0h1.4m11.1 0h1.4m6.5 0h1.4m2.1 0h1.4m3.6 0h1.9m5.6 0h1.4m2 0h1.4m0.6 0h1.4m6.6 0h1.4m0.1 0h1.4m8 0h1.4m1.1 0h1.4m2.1 0h1.4m13.5 0h1.4m0.1 0h1.4m8.6 0h1.4m5.5 0h1.4m5.1 0h1.4m4.1 0h1.4"/>
<path d="M92.9 218.18h1.4m5 0h1.4m1.1 0h1.4m17 0h1.4m1.1 0h1.4m3.1 0h1.4m0.6 0h1.4m7 0h1.4m10.6 0h1.4m1.6 0h1.4m2.5 0h1.4m2.1 0h1.4m2.6 0h1.4m5.6 0h1.4m1.1 0h2.8m8.6 0h1.4m7.1 0h1.9m6.5 0h1.4m8.1 0h1.4m4.5 0h1.4m4.6 0h1.4m0.6 0h1.4m3.1 0h1.4m4 0h2.4m3.6 0h2.4m10.1 0h1.9m5.5 0h1.4m5.1 0h1.4m0.1 0h1.4m0.1 0h1.9m0.1 0h1.4m0.1 0h3.3m0.6 0h1.4m2.1 0h1.4m0.6 0h3.4m0.1 0h2.9m2.6 0h2.4m0.5 0h1.4m0.1 0h2.9m1.1 0h1.4m0.1 0h4.9m0.1 0h1.9m0.1 0h1.9m3.1 0h4.3m1.6 0h4.9m1.1 0h4.4m0.1 0h4.4m0.5 0h5.9m1.1 0h1.4m0.6 0h8.4m0.1 0h1.4m4 0h1.4m2.6 0h3.4m0.6 0h3.4m0.1 0h1.4m3.5 0h2.9m0.6 0h2.4m0.6 0h1.4m0.6 0h2.4m3.1 0h1.4m1.1 0h1.4m0.6 0h1.4m4 0h1.4m2.1 0h1.4m4.1 0h1.9m10 0h1.4m2.1 0h1.4m3.1 0h1.9m0.6 0h1.4m0.1 0h1.4m4.5 0h1.9m0.6 0h1.4m3.6 0h1.4m0.1 0h1.4m3.1 0h1.4m3.5 0h2.4m0.1 0h1.4m2.1 0h1.4m1.6 0h1.4m5.6 0h1.4m12.5 0h1.4m2.6 0h1.4m9 0h1.4m3.6 0h1.4m2.1 0h1.4m4.5 0h1.4m1.1 0h1.4m0.6 0h1.4m0.6 0h1.9m0.6 0h1.4m2.6 0h1.4m1.1 0h3.4m1.5 0h1.4m1.6 0h1.4m1.1 0h1.4m15.5 0h1.4m6.1 0h1.4"/>
<path d="M93.9 220.91h3.3m15.6 0h1.9m23.4 0h1.4m13.6 0h1.4m1.5 0h1.4m6.6 0h1.4m10 0h2.4m8.1 0h1.4m10 0h1.4m4.6 0h1.4m6.1 0h1.4m3.5 0h1.4m5.6 0h1.9m0.6 0h2.4m1.1 0h1.4m3.1 0h1.9m9.5 0h1.4m3.6 0h1.4m0.6 0h1.4m0.1 0h1.4m0.5 0h4.9m5.1 0h3.9m0.6 0h1.4m0.6 0h1.9m0.1 0h2.8m4.6 0h3.9m0.1 0h2.9m0.1 0h1.4m0.1 0h1.4m0.6 0h1.4m0.6 0h3.3m0.1 0h1.4m0.1 0h1.9m1.1 0h1.4m1.1 0h1.9m1.1 0h4.4m0.1 0h2.9m0.5 0h1.4m0.6 0h1.9m0.6 0h1.4m0.1 0h3.4m0.1 0h2.9m0.1 0h1.4m1.1 0h2.4m0.1 0h1.4m1 0h1.4m0.1 0h3.9m1.1 0h1.9m0.1 0h2.4m0.1 0h1.4m0.6 0h3.9m0.6 0h1.9m1.5 0h1.9m1.6 0h1.9m0.1 0h1.9m1.1 0h1.9m0.6 0h1.9m0.6 0h1.4m0.1 0h1.4m2 0h2.4m0.1 0h1.4m0.6 0h1.4m7.1 0h3.9m3 0h1.4m3.6 0h1.4m5.1 0h1.4m1.1 0h1.4m6.5 0h1.9m1.1 0h1.4m1.6 0h1.4m1.1 0h1.4m3.6 0h1.4m1.1 0h1.9m1.5 0h1.4m0.6 0h1.4m4.6 0h1.4m2.6 0h1.4m5.5 0h1.4m3.6 0h1.4m2.1 0h1.4m7.1 0h1.4m0.1 0h1.4m5 0h1.4m1.6 0h1.4m8.1 0h1.4m1.5 0h1.4m3.6 0h1.4m0.6 0h1.4m13 0h1.4m7.1 0h1.4m1.6 0h1.4m7.5 0h1.4m0.6 0h1.4m7.6 0h1.4m6 0h1.4m1.1 0h1.4m5.6 0h1.4m0.1 0h1.4m1.6 0h1.4"/>
<path d="M78.9 223.65h1.4m0.6 0h1.4m0.1 0h1.4m2.1 0h1.4m0.6 0h1.9m1.1 0h1.4m7 0h1.4m5.1 0h1.9m4.1 0h1.4m0.1 0h1.4m2.5 0h1.4m1.1 0h2.4m11.1 0h1.4m0.5 0h1.4m1.1 0h1.4m5.6 0h2.4m0.1 0h1.4m2.6 0h1.4m4.5 0h1.4m8.1 0h1.4m1.6 0h1.4m1.1 0h1.4m0.6 0h1.4m2.5 0h1.4m5.1 0h1.4m5.1 0h1.4m1.6 0h1.4m3 0h1.4m5.6 0h2.4m2.1 0h1.4m1.6 0h1.4m3 0h1.4m7.6 0h1.4m2.6 0h1.4m1.1 0h1.4m5.5 0h1.4m0.6 0h1.4m1.6 0h4.4m2.1 0h1.4m1.1 0h3.3m1.1 0h3.4m1.1 0h1.4m0.6 0h1.4m0.6 0h2.4m2.1 0h1.9m0.1 0h1.4m0.1 0h1.4m1.5 0h2.9m0.1 0h1.4m0.6 0h1.4m1.1 0h1.4m0.6 0h2.4m0.6 0h1.4m3 0h1.4m0.6 0h1.4m0.1 0h3.4m0.1 0h1.4m1.1 0h1.9m0.1 0h2.9m0.6 0h3.9m0.6 0h2.3m0.1 0h2.9m1.6 0h3.9m0.1 0h1.4m0.6 0h1.9m0.1 0h1.9m1.6 0h3.8m0.1 0h1.9m0.1 0h1.4m0.1 0h4.4m0.6 0h1.4m0.1 0h1.4m0.1 0h2.4m0.1 0h2.4m0.1 0h4.8m0.6 0h1.9m0.1 0h4.4m0.1 0h4.4m0.1 0h1.4m3.5 0h3.9m5.1 0h1.4m1.1 0h1.9m1.1 0h2.4m3 0h1.4m0.6 0h1.4m2.6 0h1.4m0.1 0h1.4m1.1 0h1.4m5.1 0h1.9m7.5 0h4.9m1.1 0h1.4m7.5 0h1.4m0.1 0h1.4m3.1 0h1.4m0.1 0h1.4m1.6 0h2.4m1.1 0h1.4m11 0h1.4m0.1 0h2.4m6.6 0h1.4m1 0h1.4m7.6 0h1.4m9.5 0h1.4m2.6 0h1.4m1.1 0h1.4m0.1 0h1.4m12.5 0h1.9m0.6 0h1.4m4.1 0h1.4m4.1 0h1.9m0.1 0h1.4m0.5 0h1.4m1.1 0h1.4m8.6 0h1.4m2.6 0h1.4m3 0h1.4m1.6 0h1.9m2.6 0h1.4m0.1 0h4.4"/>
<path d="M78.4 226.39h1.4m10.6 0h2.4m2.1 0h2.8m6.1 0h1.4m0.6 0h1.4m1.1 0h1.4m0.1 0h2.4m1.6 0h1.4m0.1 0h2.3m0.1 0h1.4m0.1 0h2.4m4.6 0h1.4m0.6 0h1.9m6.5 0h2.9m1.6 0h1.4m0.1 0h1.4m1.1 0h1.4m0.6 0h1.4m7.5 0h1.4m3.1 0h1.4m1.1 0h1.4m0.1 0h1.4m5.1 0h2.4m8 0h1.4m0.1 0h1.4m0.1 0h1.4m1.6 0h1.4m0.1 0h1.9m0.1 0h1.4m1.6 0h1.4m1.5 0h1.9m0.6 0h1.4m1.1 0h1.4m0.1 0h1.4m1.6 0h1.4m2.1 0h1.4m7 0h1.4m2.6 0h1.4m0.6 0h1.4m8.1 0h3.3m1.6 0h2.4m0.1 0h1.4m6.1 0h1.4m3.6 0h1.9m3.5 0h2.4m0.1 0h1.4m0.1 0h2.4m3.1 0h3.4m0.1 0h3.4m0.5 0h2.4m0.1 0h2.4m1.6 0h2.9m0.1 0h1.4m0.1 0h3.9m0.1 0h11.8m1.1 0h4.4m0.1 0h3.4m0.6 0h3.8m0.1 0h1.9m0.6 0h3.4m0.1 0h4.4m0.1 0h12.3m0.1 0h1.9m0.1 0h10.4m0.6 0h1.9m0.1 0h1.8m0.6 0h4.4m0.1 0h1.4m0.1 0h2.9m0.1 0h5.9m0.1 0h2.4m0.5 0h1.4m0.6 0h1.9m0.1 0h1.4m0.1 0h1.4m0.6 0h1.4m0.6 0h1.9m0.1 0h2.4m0.1 0h1.4m1.6 0h5.8m0.6 0h3.4m1.6 0h1.4m1.1 0h2.9m2.6 0h1.4m1.1 0h3.3m0.1 0h1.9m3.1 0h2.4m1.1 0h1.4m1.1 0h3.9m1.6 0h1.4m2.5 0h1.4m7.6 0h1.4m1.1 0h1.4m2.1 0h1.4m1.5 0h1.4m0.6 0h4.4m10.6 0h1.4m1 0h1.9m4.6 0h3.4m2.1 0h1.9m1.1 0h1.4m0.1 0h1.4m0.6 0h1.4m1.5 0h1.4m0.6 0h2.4m2.6 0h1.4m0.6 0h1.4m1.1 0h1.4m2.1 0h1.9m4.5 0h3.4m1.1 0h1.4m2.6 0h2.4m1.1 0h1.4m0.1 0h1.4m0.6 0h1.4m1 0h1.4m1.1 0h1.4m0.6 0h1.4m1.1 0h1.4m2.6 0h1.4m0.6 0h1.4m1.6 0h1.4"/>
<path d="M86.9 229.13h1.4m0.6 0h1.4m1.6 0h1.4m0.1 0h1.4m0.1 0h3.3m1.1 0h1.4m9.6 0h1.4m1.6 0h1.4m3.5 0h1.4m19.5 0h1.4m2.1 0h1.4m0.6 0h1.4m1.1 0h1.4m9 0h1.4m11.6 0h1.4m3 0h1.4m9.1 0h1.4m0.1 0h1.4m2.1 0h1.9m8.5 0h1.4m1.6 0h1.4m1.6 0h1.4m4.1 0h1.4m1.5 0h1.4m2.1 0h1.4m0.6 0h1.4m0.1 0h1.4m16.5 0h2.9m1.1 0h1.4m2.6 0h3.4m2.6 0h1.4m9 0h1.4m0.1 0h1.4m0.1 0h1.9m3.1 0h1.4m0.6 0h1.4m2.5 0h1.4m1.1 0h3.4m0.1 0h2.9m0.6 0h1.9m0.6 0h1.4m0.6 0h3.3m0.6 0h1.4m0.1 0h1.4m0.1 0h1.4m0.1 0h2.4m0.1 0h2.4m0.6 0h1.4m0.1 0h1.4m0.6 0h1.4m0.1 0h3.4m1 0h1.4m1.6 0h2.4m0.1 0h1.9m0.1 0h4.9m4.6 0h1.4m5.5 0h1.4m0.6 0h2.4m0.1 0h2.9m0.1 0h1.9m4.6 0h5.3m1.6 0h1.9m0.6 0h3.9m0.1 0h1.4m2.1 0h1.4m0.1 0h1.9m0.5 0h1.4m1.1 0h1.4m0.1 0h1.4m2.1 0h1.9m0.1 0h2.4m2.1 0h1.4m0.6 0h1.4m1.1 0h2.3m0.1 0h1.4m0.1 0h2.4m1.6 0h3.4m9.5 0h1.4m3.6 0h1.9m16.5 0h1.9m8.6 0h1.4m8.5 0h1.4m1.6 0h1.4m4.6 0h1.4m0.6 0h1.4m1.6 0h1.4m2.5 0h1.4m2.1 0h1.9m3.1 0h1.4m5.6 0h1.4m3 0h2.4m2.6 0h1.4m3.6 0h1.4m0.1 0h1.4m2.6 0h1.4m3 0h1.9m2.6 0h1.4m7.1 0h1.4m16.5 0h1.4m5.1 0h1.4m10.5 0h1.4m1.6 0h1.4m0.1 0h1.4"/>
<path d="M87.9 231.87h1.4m1.1 0h1.4m5 0h1.4m18 0h1.4m21 0h1.4m14.6 0h1.4m0.5 0h1.4m0.1 0h1.4m3.6 0h1.4m0.6 0h1.4m0.6 0h1.4m5.6 0h1.4m3 0h1.4m3.1 0h1.4m3.1 0h1.4m0.6 0h1.4m0.1 0h1.4m13.5 0h1.4m5.6 0h1.4m4 0h1.4m3.6 0h1.9m1.1 0h1.4m12.5 0h1.4m1.6 0h1.4m3.6 0h2.4m9 0h1.4m0.6 0h1.4m8.1 0h1.4m0.1 0h2.4m0.5 0h1.4m0.6 0h1.4m1.1 0h2.9m2.6 0h1.4m0.6 0h2.4m1.6 0h1.9m0.1 0h1.4m2.5 0h1.9m1.1 0h2.4m0.1 0h1.4m1.1 0h3.4m1.1 0h1.9m0.1 0h1.4m1.5 0h1.9m0.6 0h1.4m0.6 0h1.9m2.1 0h2.4m2.1 0h2.9m0.6 0h2.4m7.5 0h1.4m0.1 0h1.9m2.6 0h2.4m1.1 0h2.9m4 0h1.4m0.1 0h1.4m1.1 0h1.4m0.6 0h1.4m1.6 0h1.4m0.1 0h2.4m1.1 0h1.4m0.1 0h1.4m1 0h3.4m0.1 0h1.4m0.6 0h1.9m1.1 0h2.4m4.1 0h2.4m0.1 0h1.4m3 0h1.4m7.6 0h1.4m1.6 0h1.4m6 0h1.4m1.6 0h1.4m6.1 0h1.4m3.1 0h1.4m0.6 0h1.4m2.5 0h1.4m5.1 0h2.4m5.1 0h1.4m1 0h1.4m2.6 0h1.4m10.1 0h1.4m0.1 0h2.4m1 0h1.4m1.6 0h1.4m9.6 0h1.4m1.6 0h1.4m2 0h1.4m13.1 0h1.4m6.5 0h1.4m4.1 0h1.4m4.6 0h1.4m6 0h1.9m3.6 0h1.4m20.5 0h1.4m0.1 0h1.9m0.1 0h2.9"/>
<path d="M81.4 234.61h1.4m3.1 0h1.4m0.6 0h1.4m0.6 0h1.4m1.1 0h2.4m1 0h2.4m5.6 0h2.4m6.1 0h1.4m1.6 0h1.4m1 0h1.4m0.1 0h1.4m9.1 0h1.4m2.6 0h1.4m2.5 0h1.4m9.1 0h1.4m0.6 0h1.4m1.1 0h1.4m0.1 0h1.4m2 0h1.4m14.6 0h1.4m0.5 0h3.4m3.6 0h1.4m0.1 0h1.4m10 0h1.9m4.6 0h1.4m8.6 0h1.4m7.5 0h1.4m0.1 0h1.4m8.1 0h1.4m1.1 0h1.4m4 0h1.4m2.6 0h2.9m0.6 0h1.4m2.6 0h1.4m1.1 0h1.4m3 0h3.4m0.1 0h1.4m0.6 0h1.4m2.1 0h1.4m1.6 0h2.4m3 0h2.4m0.6 0h2.4m0.6 0h1.4m0.6 0h1.4m0.6 0h2.4m4.1 0h1.9m1 0h1.4m0.1 0h2.9m0.6 0h1.4m0.1 0h1.4m0.6 0h4.4m1.6 0h1.9m2.1 0h2.8m1.1 0h1.4m0.1 0h1.4m1.1 0h2.9m0.1 0h2.9m1.6 0h4.9m0.5 0h1.4m0.6 0h1.4m0.6 0h2.9m0.6 0h1.4m0.6 0h3.9m0.1 0h2.4m2.6 0h5.8m0.6 0h2.9m0.6 0h2.4m0.6 0h1.4m0.6 0h4.4m0.1 0h1.4m0.1 0h2.3m0.6 0h1.4m0.6 0h1.9m0.1 0h2.4m8.1 0h1.4m1.1 0h3.3m0.1 0h1.4m0.1 0h1.4m0.6 0h1.4m3.6 0h1.9m2.6 0h1.9m8.5 0h1.4m12.5 0h2.4m2.1 0h2.4m4.6 0h1.4m0.1 0h1.4m2.6 0h2.9m10.5 0h1.4m5.6 0h2.4m0.5 0h1.9m4.1 0h2.9m1.1 0h1.4m9 0h1.4m4.6 0h1.4m8.6 0h1.4m0.1 0h1.4m0.5 0h1.4m5.6 0h1.4m2.1 0h1.4m0.1 0h1.4m3.6 0h1.9m1 0h1.4m11.6 0h1.4m2.1 0h1.4m2 0h1.4m7.1 0h2.4m5.6 0h1.4"/>
<path d="M81.9 237.35h1.4m1.1 0h1.4m1.6 0h1.4m4.1 0h1.4m13.5 0h1.4m2.1 0h2.4m5 0h1.4m4.6 0h2.9m2.6 0h1.4m0.6 0h1.4m0.6 0h1.4m1 0h1.4m4.6 0h1.4m4.6 0h1.4m0.6 0h1.4m0.6 0h2.4m3 0h1.4m3.1 0h1.4m6.6 0h1.4m4.5 0h1.4m0.1 0h1.4m6.6 0h1.4m3.1 0h1.4m13 0h1.4m1.6 0h2.4m6 0h1.4m0.6 0h1.4m1.6 0h1.4m0.6 0h1.4m1.1 0h2.4m1.6 0h1.4m4.5 0h1.9m2.1 0h1.4m2.6 0h1.4m0.1 0h1.9m3.6 0h1.4m2.5 0h1.9m2.6 0h1.4m0.6 0h3.4m0.6 0h1.4m0.6 0h1.4m1.1 0h1.4m1.1 0h1.9m1 0h1.4m1.1 0h1.4m0.1 0h2.4m0.1 0h3.4m0.6 0h5.4m0.6 0h1.4m2 0h1.9m0.6 0h1.9m0.6 0h1.4m0.1 0h3.9m0.6 0h3.4m1.1 0h7.8m1.1 0h1.4m0.1 0h13.4m2 0h1.9m0.1 0h1.4m1.1 0h5.9m0.6 0h2.9m2.6 0h3.8m0.1 0h1.9m1.1 0h1.4m0.1 0h1.4m1.1 0h2.4m0.1 0h1.4m0.1 0h1.4m1.6 0h1.9m2 0h2.4m2.1 0h1.4m3.1 0h1.4m3.1 0h2.4m2.1 0h1.4m1.5 0h1.4m0.6 0h1.4m1.6 0h3.4m1.6 0h1.4m0.1 0h2.4m3.1 0h1.4m1 0h1.4m1.6 0h1.4m0.1 0h1.4m15 0h1.4m1.6 0h1.9m8.6 0h1.4m3 0h1.4m2.1 0h1.4m1.1 0h3.4m5.6 0h1.4m5 0h1.4m7.1 0h1.4m3.1 0h1.4m0.1 0h3.4m1 0h1.4m3.6 0h1.4m15.5 0h1.4m6.6 0h1.4m1.1 0h2.9m6 0h1.4m2.6 0h1.4m1.1 0h2.4m0.1 0h1.4m4.1 0h1.9m1.1 0h3.3m2.6 0h1.4m0.1 0h1.4m2.6 0h1.4m4.6 0h1.4"/>
<path d="M88.9 240.09h1.4m0.1 0h1.4m6 0h1.4m2.1 0h1.4m1.1 0h2.4m2.1 0h1.9m0.1 0h1.4m7.5 0h1.4m0.6 0h1.4m8.6 0h1.4m4 0h1.9m0.1 0h1.9m4.1 0h1.9m0.6 0h1.4m1.1 0h1.4m1.6 0h1.9m3 0h1.4m3.1 0h1.4m0.6 0h1.4m0.6 0h1.4m4.1 0h1.4m2 0h2.4m3.1 0h1.9m2.1 0h1.4m1.1 0h2.4m3.1 0h1.4m1 0h1.4m4.6 0h1.9m1.1 0h1.4m2.6 0h1.9m0.1 0h2.4m5 0h2.9m1.6 0h2.4m0.1 0h1.4m1.1 0h2.4m6.5 0h1.4m0.6 0h1.4m0.6 0h2.9m0.6 0h2.4m1.1 0h1.9m3.6 0h4.3m1.1 0h2.4m0.6 0h6.4m0.1 0h1.4m2.1 0h2.4m0.6 0h1.4m1.5 0h1.4m1.1 0h1.4m0.6 0h1.9m1.6 0h6.9m0.1 0h2.4m0.1 0h6.3m0.1 0h1.4m1.1 0h3.9m0.6 0h2.4m1.6 0h9.8m0.6 0h7.9m2.1 0h1.4m3 0h3.4m1.1 0h9.9m0.6 0h1.4m0.1 0h1.4m0.5 0h1.9m0.1 0h2.4m3.1 0h2.9m1.1 0h2.4m0.1 0h1.4m0.1 0h5.8m0.6 0h1.4m2.1 0h1.4m0.1 0h1.9m0.6 0h3.4m0.1 0h3.4m1.6 0h1.4m1.5 0h2.4m0.1 0h2.4m3.1 0h4.4m0.6 0h1.4m0.6 0h1.4m1.1 0h1.9m3 0h1.4m0.1 0h1.9m1.1 0h1.4m0.1 0h1.4m0.1 0h2.9m1.6 0h1.4m10.5 0h1.4m2.1 0h1.4m0.1 0h1.4m1.6 0h1.4m1.1 0h2.4m3 0h2.4m1.1 0h1.4m2.1 0h1.9m5.1 0h1.4m1.5 0h1.4m6.6 0h2.4m9 0h2.4m1.1 0h2.4m1.1 0h1.4m0.1 0h1.9m2.6 0h1.4m6.5 0h1.4m0.6 0h1.4m5.6 0h2.4m0.1 0h1.4m6 0h2.4m3.6 0h1.9m14.5 0h1.4m2.1 0h1.4m7.6 0h2.4"/>
<path d="M78.9 242.83h2.4m1.1 0h1.4m0.6 0h2.9m4.1 0h1.9m0.1 0h2.4m1.5 0h1.4m5.1 0h1.4m5.6 0h1.4m0.1 0h1.9m3 0h1.4m0.1 0h1.4m1.1 0h1.4m0.1 0h1.9m1.1 0h1.4m3.6 0h2.9m3 0h1.4m0.1 0h2.4m0.6 0h1.4m2.1 0h1.4m0.1 0h1.4m1.1 0h1.4m3.6 0h1.4m4 0h3.4m2.1 0h1.4m0.6 0h2.4m1.1 0h1.4m0.6 0h1.4m1.1 0h1.4m1.5 0h1.4m0.1 0h1.4m0.1 0h2.9m1.6 0h2.4m0.1 0h1.4m1.6 0h2.4m5 0h1.4m2.1 0h3.4m0.6 0h1.9m0.1 0h2.4m0.1 0h4.9m0.5 0h1.9m1.1 0h2.4m0.6 0h4.4m0.1 0h1.4m0.1 0h1.4m0.6 0h2.9m0.1 0h2.4m1.5 0h1.9m0.6 0h2.4m1.6 0h3.4m0.1 0h1.4m0.1 0h1.9m0.1 0h2.9m0.1 0h1.4m1.5 0h1.4m0.6 0h1.4m3.6 0h1.4m0.1 0h1.9m0.1 0h1.9m0.1 0h4.4m0.6 0h12.3m0.1 0h5.4m1.6 0h4.8m0.1 0h12.4m0.1 0h10.8m0.6 0h6.4m0.1 0h16.3m0.1 0h4.4m0.1 0h4.9m0.6 0h3.8m0.1 0h1.9m0.1 0h10.9m0.6 0h5.3m0.1 0h1.4m0.1 0h4.9m0.1 0h5.9m1.6 0h2.4m1.5 0h1.9m0.1 0h1.4m1.1 0h1.4m1.1 0h1.4m0.1 0h1.4m0.6 0h1.9m1.1 0h1.4m4 0h1.4m0.1 0h2.9m0.6 0h2.4m1.1 0h1.4m1.1 0h1.4m1.6 0h1.4m5 0h3.4m2.1 0h1.9m0.1 0h1.4m0.1 0h3.9m1.6 0h1.4m1.1 0h2.4m4 0h2.9m0.6 0h2.4m3.6 0h3.9m2.6 0h1.8m1.1 0h1.9m4.6 0h3.9m0.6 0h1.4m0.1 0h4.4m0.5 0h1.4m0.6 0h1.4m3.1 0h1.4m0.6 0h1.4m2.6 0h2.4m2.6 0h1.4m3.5 0h1.4m0.6 0h1.4m9.6 0h1.4m1.6 0h1.9m0.5 0h1.4m1.6 0h1.4m0.6 0h1.4m1.1 0h2.4m0.6 0h1.4m0.6 0h2.4m0.6 0h2.9m4.5 0h2.4m3.1 0h1.4m3.6 0h1.4m2.1 0h1.4"/>
<path d="M85.9 245.57h1.4m0.6 0h1.4m1.6 0h2.4m5.5 0h1.4m5.1 0h2.9m6.6 0h1.4m2.5 0h1.4m2.1 0h1.4m1.1 0h1.4m3.6 0h1.4m0.1 0h1.4m1.6 0h3.8m1.1 0h1.9m2.1 0h1.4m4.6 0h1.4m2.1 0h1.4m2.5 0h1.4m5.1 0h1.4m7.6 0h2.4m4 0h1.9m0.1 0h1.4m5.1 0h1.4m3.1 0h1.9m3 0h1.4m6.6 0h1.4m0.1 0h1.4m1.1 0h1.4m0.6 0h3.4m2 0h1.4m0.1 0h2.9m1.6 0h1.9m0.6 0h1.4m1.6 0h1.4m1.1 0h2.9m0.6 0h1.9m2.5 0h1.9m0.6 0h1.4m4.1 0h1.4m0.6 0h1.4m0.1 0h1.4m0.1 0h2.4m3.5 0h1.4m1.1 0h3.4m0.6 0h1.4m2.1 0h1.4m0.6 0h1.4m0.6 0h1.4m0.1 0h6.8m0.1 0h1.4m0.1 0h2.9m0.1 0h1.4m1.1 0h6.4m0.1 0h3.8m0.6 0h9.9m0.1 0h4.4m1.1 0h1.4m0.6 0h5.8m0.1 0h2.9m0.6 0h7.4m0.1 0h1.4m0.1 0h11.8m0.1 0h1.9m0.1 0h5.4m0.1 0h1.4m0.1 0h6.8m0.6 0h1.4m0.1 0h1.9m0.6 0h1.4m0.1 0h1.4m1.1 0h1.4m0.6 0h3.4m0.5 0h2.4m0.6 0h1.9m2.6 0h5.4m0.1 0h2.4m0.1 0h4.4m0.5 0h2.4m0.6 0h2.4m1.1 0h3.9m0.1 0h3.4m2.1 0h1.4m1 0h2.4m1.6 0h1.4m0.6 0h3.9m0.1 0h1.4m0.1 0h2.4m5.1 0h1.4m1.5 0h1.4m2.6 0h1.9m3.6 0h2.4m5.6 0h1.4m3 0h1.4m0.1 0h1.9m0.6 0h1.4m1.1 0h1.4m2.6 0h2.4m8 0h1.4m0.6 0h1.4m0.1 0h1.4m3.1 0h1.4m2.1 0h1.4m2 0h1.4m0.1 0h2.4m4.1 0h1.4m3.6 0h1.9m8 0h1.4m0.6 0h2.9m0.1 0h1.4m3.6 0h1.4m0.1 0h1.4m0.1 0h2.4m0.1 0h1.9m0.5 0h1.4m5.1 0h1.4m0.6 0h1.4m1.6 0h1.4m0.1 0h1.4m3.1 0h4.8m0.1 0h2.4m4.1 0h1.4m0.1 0h1.4m1.6 0h1.4m0.6 0h1.4"/>
<path d="M80.4 248.3h4.9m5.6 0h1.4m1.1 0h3.3m8.6 0h1.4m2.6 0h1.4m1.1 0h1.4m3 0h2.4m3.1 0h4.4m9 0h1.4m5.1 0h2.4m4.1 0h1.4m10 0h2.9m3.6 0h1.4m5.1 0h1.4m7.5 0h1.4m2.6 0h1.4m1.6 0h2.4m4 0h1.4m0.1 0h1.4m3.1 0h1.4m4.6 0h1.4m3.6 0h1.4m2 0h1.9m5.1 0h1.4m7.1 0h3.4m2 0h1.4m0.1 0h1.4m2.6 0h3.9m2.1 0h1.9m0.6 0h1.4m0.6 0h5.3m1.6 0h2.4m0.6 0h2.9m0.1 0h2.9m0.1 0h1.4m0.6 0h1.4m0.6 0h1.4m0.1 0h2.4m0.5 0h1.4m0.6 0h1.4m0.6 0h1.4m0.6 0h1.9m0.1 0h4.9m0.6 0h2.4m1.6 0h2.8m0.1 0h6.9m1.1 0h3.4m0.1 0h1.4m0.1 0h3.9m0.1 0h3.3m0.6 0h1.9m0.1 0h3.9m2.6 0h2.4m0.1 0h4.4m0.6 0h4.3m0.1 0h10.9m1.1 0h1.4m0.1 0h6.8m0.1 0h2.9m2.1 0h1.4m0.1 0h3.9m0.6 0h1.4m0.6 0h1.4m0.1 0h2.3m1.1 0h1.4m0.1 0h1.4m0.1 0h1.9m0.1 0h2.4m1.1 0h2.4m2.1 0h9.3m2.1 0h2.4m1.1 0h1.4m0.6 0h1.4m1.6 0h2.4m0.1 0h1.4m1.5 0h1.4m3.1 0h1.4m6.6 0h1.9m2.6 0h1.4m1 0h1.4m14.1 0h2.4m4 0h1.4m0.1 0h1.4m1.6 0h2.4m2.6 0h1.4m1.1 0h1.4m2.6 0h1.4m0.5 0h1.4m0.1 0h2.4m12.1 0h1.9m3 0h1.4m10.1 0h1.9m0.6 0h1.4m1.6 0h1.4m6 0h1.9m2.1 0h1.4m0.6 0h1.4m1.6 0h1.4m1.6 0h1.4m3 0h1.4m0.1 0h1.4m0.6 0h2.4m5.6 0h1.4m0.1 0h1.4m0.1 0h2.4m0.1 0h1.4m1 0h1.4m5.1 0h1.4m3.1 0h1.4m0.1 0h2.4"/>
<path d="M78.9 251.04h1.4m0.6 0h1.4m0.1 0h2.4m6.1 0h1.4m2.1 0h2.3m1.1 0h1.4m6.1 0h1.4m1.6 0h2.4m2.6 0h2.4m5.5 0h1.4m0.1 0h1.4m1.6 0h1.4m0.1 0h1.4m3.1 0h2.4m1.5 0h1.4m3.1 0h2.9m3.6 0h2.4m2.1 0h1.4m6.5 0h1.4m3.1 0h1.9m3.6 0h1.4m0.6 0h1.4m2.1 0h3.8m0.6 0h1.4m0.6 0h1.4m4.1 0h2.4m1.6 0h1.4m1.1 0h2.4m11 0h3.4m1.6 0h1.9m3 0h1.4m3.1 0h1.4m0.1 0h1.4m2.1 0h2.4m4.1 0h1.4m0.6 0h3.3m4.6 0h1.4m0.6 0h1.4m2.1 0h1.4m2.1 0h1.4m1.6 0h1.4m2.5 0h4.4m0.1 0h14.8m0.1 0h1.4m0.1 0h1.4m0.6 0h1.4m0.1 0h3.4m0.1 0h2.9m0.1 0h3.9m0.6 0h2.3m1.1 0h5.4m0.1 0h2.4m1.1 0h4.9m0.1 0h1.9m0.1 0h6.8m0.1 0h1.4m0.1 0h8.4m0.6 0h3.4m0.5 0h12.9m0.1 0h8.4m0.5 0h5.9m0.6 0h3.4m0.1 0h3.9m0.6 0h1.9m0.1 0h7.3m0.1 0h1.9m0.6 0h2.4m0.6 0h1.4m0.1 0h1.9m0.6 0h1.4m0.1 0h1.4m0.6 0h1.4m1.5 0h2.4m0.1 0h1.4m0.6 0h3.4m0.6 0h1.4m3.1 0h3.4m0.6 0h5.3m0.1 0h1.4m1.1 0h1.9m0.6 0h1.4m0.6 0h1.4m0.6 0h1.4m0.1 0h1.4m2.6 0h2.4m0.5 0h1.9m0.1 0h1.9m0.1 0h2.4m3.1 0h1.4m0.1 0h2.4m1.1 0h1.9m1.1 0h1.4m2.5 0h1.4m1.1 0h1.4m4.6 0h1.4m0.6 0h2.4m6.5 0h4.4m4.6 0h1.4m8.5 0h1.4m0.1 0h1.9m3.6 0h1.4m11.5 0h1.4m0.6 0h1.4m0.1 0h1.4m0.1 0h1.4m0.1 0h1.4m0.6 0h1.9m2.1 0h1.4m3.1 0h1.4m8.5 0h1.4m8.6 0h2.4m5.5 0h1.4m1.6 0h2.4m2.6 0h1.9m1.1 0h1.4"/>
<path d="M80.9 253.78h1.4m17.5 0h1.4m4.6 0h1.9m3.6 0h1.4m22 0h2.8m3.1 0h1.4m4.6 0h1.4m3.1 0h1.4m1.6 0h2.8m1.1 0h2.4m2.1 0h1.4m2.1 0h1.4m0.6 0h1.4m0.1 0h1.4m0.6 0h2.4m1.5 0h1.9m0.6 0h1.4m1.6 0h1.4m1.1 0h1.4m2.6 0h2.4m7.5 0h1.4m9.1 0h1.4m1.1 0h1.4m1.1 0h2.4m0.5 0h1.9m0.6 0h1.9m0.6 0h4.4m7.6 0h2.9m0.5 0h1.4m2.1 0h2.4m0.1 0h2.4m1.6 0h1.4m0.6 0h2.9m0.6 0h1.4m0.1 0h1.4m2.5 0h1.4m1.1 0h1.4m1.6 0h2.9m0.1 0h1.4m0.6 0h1.4m2.1 0h1.9m2 0h1.9m1.1 0h1.4m1.1 0h1.4m3.6 0h6.9m0.1 0h3.8m0.6 0h2.9m0.1 0h1.4m0.1 0h3.9m0.6 0h1.4m1.6 0h4.9m0.1 0h2.8m1.6 0h1.9m0.6 0h3.9m1.1 0h4.4m1.6 0h5.8m1.1 0h1.4m1.1 0h1.9m0.1 0h5.9m0.6 0h3.9m1 0h2.9m1.1 0h5.9m0.1 0h1.4m0.1 0h1.4m1.1 0h1.4m1.6 0h3.8m0.1 0h1.4m1.6 0h2.4m1.1 0h2.4m1.6 0h2.4m0.1 0h2.9m1.1 0h1.4m1 0h2.9m3.1 0h1.4m0.1 0h1.4m0.1 0h1.4m2.1 0h1.4m0.6 0h3.4m1 0h1.4m4.1 0h1.4m0.1 0h1.4m0.1 0h1.4m1.1 0h1.4m2.6 0h2.4m6 0h1.4m3.1 0h1.4m5.1 0h1.4m0.6 0h1.4m0.1 0h1.4m0.1 0h1.4m1 0h1.4m3.1 0h1.4m2.1 0h1.4m2.1 0h1.4m0.1 0h1.4m3.6 0h1.8m3.1 0h1.9m6.1 0h1.4m7 0h1.4m6.6 0h1.9m2.1 0h1.4m7 0h1.4m0.1 0h1.4m4.1 0h2.4m4.6 0h1.4m2.5 0h1.4m6.6 0h1.4m0.6 0h1.4m2.6 0h1.4m6.5 0h2.4m0.1 0h1.4m5.1 0h1.4m3.6 0h1.4"/>
<path d="M78.4 256.52h1.4m0.6 0h2.4m0.6 0h1.4m2.1 0h1.4m2.1 0h1.9m2.1 0h1.4m1 0h5.9m0.1 0h1.4m1.6 0h2.9m0.1 0h1.4m0.1 0h1.4m0.1 0h1.4m0.1 0h1.4m0.1 0h1.4m0.5 0h1.4m7.6 0h1.4m1.1 0h2.4m1.6 0h1.4m1.1 0h1.4m0.5 0h1.4m1.1 0h1.4m0.6 0h3.4m1.1 0h2.4m0.1 0h2.9m1.1 0h3.4m4 0h1.9m3.6 0h3.9m1.6 0h2.4m0.6 0h1.4m1 0h1.4m5.6 0h1.9m2.1 0h1.4m0.1 0h1.4m0.1 0h1.4m2.1 0h3.3m0.1 0h1.4m0.1 0h1.4m4.1 0h2.4m1.6 0h2.4m2.1 0h1.4m0.6 0h4.3m0.1 0h1.4m0.6 0h1.9m3.6 0h1.4m3.1 0h3.9m1.5 0h3.9m0.6 0h2.4m1.1 0h3.9m0.6 0h1.4m0.6 0h1.9m0.6 0h2.8m1.1 0h4.4m0.1 0h2.9m0.1 0h1.4m0.1 0h5.9m0.6 0h2.4m0.5 0h5.4m0.1 0h1.9m0.1 0h11.9m0.5 0h3.9m0.1 0h9.9m0.1 0h1.4m0.1 0h5.8m0.6 0h9.9m0.1 0h3.4m0.1 0h13.3m0.6 0h3.4m0.1 0h1.4m0.1 0h4.4m0.1 0h4.8m0.1 0h1.4m0.1 0h28.8m1.6 0h1.9m0.1 0h2.8m0.1 0h1.9m2.1 0h1.4m0.6 0h1.4m0.6 0h6.4m2.1 0h1.4m3 0h1.4m0.6 0h1.4m1.1 0h2.4m0.1 0h1.4m2.1 0h1.4m1.6 0h1.4m0.1 0h1.4m3 0h3.4m2.6 0h1.4m3.6 0h3.4m2.1 0h2.3m0.6 0h1.4m0.1 0h1.4m4.6 0h1.4m1.1 0h1.4m4.1 0h1.4m0.6 0h2.3m0.1 0h4.4m1.6 0h1.4m1.1 0h4.9m1.1 0h1.4m0.1 0h1.4m5 0h1.4m4.1 0h1.4m0.6 0h2.4m0.6 0h1.4m2.6 0h3.8m2.1 0h1.4m1.1 0h1.4m3.1 0h2.4m0.1 0h3.4m5 0h4.4m0.1 0h1.4m2.1 0h1.4m1.6 0h2.4m3.6 0h1.4m2.5 0h1.4m1.1 0h1.4m0.1 0h1.4m0.6 0h2.4m1.6 0h1.4m0.6 0h2.9m0.1 0h1.4"/>
<path d="M78.9 259.26h2.9m1.1 0h2.9m4.1 0h1.9m0.1 0h2.4m0.1 0h1.4m0.5 0h2.9m1.1 0h1.4m0.1 0h1.9m0.6 0h1.4m0.6 0h2.4m0.6 0h2.9m2.6 0h2.8m2.1 0h1.4m1.1 0h2.9m0.1 0h1.9m0.1 0h1.4m1.6 0h1.9m0.6 0h1.9m0.1 0h1.4m0.5 0h1.4m0.6 0h1.4m1.1 0h2.9m2.1 0h2.4m1.1 0h1.4m3.1 0h3.8m1.1 0h3.4m2.1 0h3.4m2.1 0h1.4m0.1 0h1.9m0.6 0h2.3m0.1 0h3.4m3.6 0h3.9m0.1 0h1.9m1.6 0h1.9m0.1 0h3.8m1.6 0h1.9m1.6 0h4.4m3.1 0h1.9m3.1 0h1.4m2.5 0h1.4m0.6 0h2.4m1.1 0h2.9m1.1 0h1.4m0.1 0h1.9m0.1 0h3.4m0.5 0h3.4m0.1 0h1.4m0.6 0h1.4m2.6 0h1.4m0.6 0h7.4m0.5 0h3.9m2.1 0h3.9m0.6 0h7.4m1.6 0h5.3m0.1 0h7.4m0.1 0h6.9m0.1 0h4.3m0.1 0h3.9m0.1 0h9.9m0.1 0h4.8m0.1 0h4.9m0.1 0h1.4m0.1 0h9.9m0.1 0h8.8m0.1 0h12.4m1 0h7.4m1.6 0h7.4m0.1 0h7.8m0.6 0h7.4m0.1 0h3.4m0.1 0h5.3m0.6 0h1.4m1.1 0h1.4m0.6 0h2.9m0.1 0h2.4m0.6 0h2.9m1.1 0h7.3m1.1 0h2.4m0.6 0h1.4m2.1 0h4.4m6.5 0h3.4m1.6 0h2.9m0.1 0h1.4m0.6 0h1.9m1.6 0h2.4m2 0h1.4m0.1 0h1.4m2.1 0h1.4m0.1 0h1.4m2.1 0h1.4m1.6 0h1.4m6.5 0h4.9m0.6 0h1.9m2.1 0h1.4m0.6 0h5.4m1 0h1.4m0.1 0h1.4m0.1 0h1.4m2.1 0h1.4m1.1 0h1.4m0.6 0h1.4m0.1 0h1.4m0.6 0h1.9m0.6 0h1.4m5 0h2.4m0.6 0h1.9m1.6 0h1.4m0.1 0h2.4m2.1 0h1.4m0.6 0h1.4m3.5 0h1.4m0.1 0h1.4m0.1 0h1.4m0.6 0h1.4m1.1 0h1.9m4.1 0h1.4m5.5 0h2.4m1.6 0h2.4m0.1 0h1.4m0.1 0h1.4m0.6 0h1.4m1.6 0h1.4"/>
<path d="M81.4 262h1.4m11.6 0h1.4m9 0h1.4m2.6 0h1.4m0.6 0h1.4m5 0h1.4m6.1 0h3.4m6.1 0h3.8m8.6 0h1.4m0.1 0h1.4m1.6 0h1.9m1.6 0h1.4m0.5 0h1.4m4.1 0h1.9m1.1 0h1.4m2.1 0h1.4m2.1 0h1.4m13.5 0h1.4m10 0h1.4m6.1 0h2.4m3.1 0h2.4m4 0h1.4m0.6 0h1.4m8.6 0h1.4m3.5 0h1.4m1.1 0h5.4m2.6 0h2.9m6.5 0h3.9m1.1 0h1.9m2.6 0h1.4m0.1 0h2.4m1.6 0h1.4m3.6 0h2.3m0.1 0h1.9m4.1 0h1.4m1.6 0h1.4m1.1 0h1.4m0.1 0h1.4m1.6 0h1.4m2 0h1.4m0.6 0h2.9m0.6 0h4.9m1.1 0h4.4m1.1 0h1.4m1 0h3.4m0.6 0h1.4m0.6 0h2.4m0.6 0h2.4m0.1 0h1.9m0.1 0h1.4m1.1 0h1.9m3.5 0h2.4m0.6 0h2.4m0.6 0h2.9m1.6 0h1.4m0.1 0h1.4m1.6 0h1.9m0.1 0h2.3m2.1 0h1.4m0.6 0h2.4m6.6 0h1.4m0.6 0h1.4m0.1 0h2.3m1.6 0h2.4m0.6 0h1.9m7.6 0h1.4m1.1 0h2.4m1 0h1.4m5.1 0h1.4m0.6 0h3.4m2.6 0h1.4m0.6 0h1.4m3 0h2.4m0.6 0h1.4m0.6 0h1.4m4.6 0h1.4m5.1 0h2.3m1.6 0h1.4m4.6 0h1.4m2.1 0h1.9m1.1 0h1.4m7 0h1.4m12.6 0h3.3m8.1 0h1.4m2.6 0h1.4m0.6 0h1.4m6.5 0h1.4m0.1 0h1.4m1.1 0h2.4m0.1 0h1.9m1.6 0h1.4m4.1 0h1.4m2.5 0h2.4m2.6 0h1.4m1.6 0h1.4m2.6 0h1.4m4 0h1.4m0.1 0h1.9m9.6 0h2.4m2.6 0h2.8m2.1 0h1.4"/>
<path d="M80.4 264.74h1.4m1.1 0h1.4m1.6 0h1.4m0.6 0h1.4m3.6 0h1.4m0.6 0h1.4m6 0h1.4m0.6 0h1.4m1.1 0h1.4m7.5 0h2.4m3.1 0h1.4m1.6 0h1.4m1.6 0h1.4m2.6 0h1.4m0.1 0h1.4m2.5 0h2.9m0.1 0h3.4m3.6 0h1.9m3.1 0h1.4m1.1 0h1.4m1.5 0h1.4m3.1 0h1.4m3.6 0h1.4m2.1 0h1.9m4.5 0h2.4m1.6 0h1.4m2.6 0h1.4m2.6 0h2.4m11 0h1.4m1.1 0h1.4m5.6 0h1.4m2.5 0h1.9m0.1 0h1.4m4.1 0h1.4m2.6 0h1.4m3.1 0h1.4m0.6 0h1.4m2 0h1.9m3.1 0h1.9m0.1 0h1.4m9.5 0h1.4m0.6 0h2.9m0.1 0h2.9m2.6 0h3.4m2.1 0h3.9m0.1 0h2.3m1.1 0h1.4m1.1 0h2.4m0.6 0h5.9m0.6 0h7.3m1.1 0h1.9m2.6 0h4.4m1.6 0h5.9m0.5 0h1.9m1.1 0h1.4m0.1 0h1.9m0.1 0h1.9m0.1 0h1.4m1.1 0h4.9m0.6 0h1.9m0.1 0h6.3m0.1 0h5.4m0.1 0h4.4m0.1 0h2.4m0.1 0h1.4m2.5 0h4.4m0.1 0h2.9m0.1 0h1.9m0.1 0h3.9m0.6 0h1.4m0.1 0h11.3m1.1 0h1.4m1.1 0h3.4m0.6 0h1.4m0.6 0h2.3m0.1 0h1.4m0.6 0h2.4m0.1 0h1.4m2.1 0h1.4m0.1 0h1.4m3.6 0h1.4m2.1 0h3.3m0.1 0h1.4m3.1 0h1.9m0.1 0h1.4m0.1 0h1.4m0.6 0h3.4m1.1 0h1.4m0.6 0h4.8m2.6 0h1.4m14 0h1.4m20 0h1.4m0.1 0h1.4m1.1 0h1.4m2.6 0h1.4m3.6 0h1.4m15 0h1.4m0.6 0h1.4m0.6 0h2.4m5 0h1.4m4.1 0h1.4m1.6 0h1.9m1.1 0h1.4m12.5 0h1.4m0.1 0h1.4m7.5 0h1.4m0.1 0h1.4m0.6 0h1.4m1.6 0h1.4m2.1 0h1.4m0.6 0h1.9m1.6 0h1.4m1.1 0h1.4"/>
<path d="M82.4 267.48h1.4m0.6 0h1.9m3.1 0h1.4m1.1 0h1.9m4 0h1.4m5.6 0h1.4m0.6 0h2.4m0.1 0h1.4m0.1 0h1.4m1.1 0h1.4m0.1 0h1.4m0.5 0h3.9m1.1 0h2.9m0.1 0h1.4m2.1 0h2.4m3.6 0h2.8m4.1 0h1.4m0.1 0h1.9m0.1 0h1.4m5.1 0h1.9m1.6 0h2.8m1.6 0h1.4m1.6 0h1.4m0.6 0h2.4m3.6 0h1.4m0.6 0h1.4m0.6 0h2.3m2.6 0h1.4m1.1 0h1.4m5.6 0h1.4m1.1 0h1.4m0.6 0h1.4m2.5 0h1.4m0.6 0h1.4m0.6 0h1.4m2.1 0h1.4m6.6 0h4.8m0.1 0h1.4m0.6 0h1.4m1.6 0h1.4m3.1 0h2.9m1.1 0h1.4m0.6 0h1.4m0.1 0h2.8m0.6 0h1.4m1.1 0h2.9m1.1 0h1.4m0.6 0h1.4m3.6 0h3.9m0.5 0h2.4m1.6 0h1.4m1.1 0h1.4m2.1 0h2.4m0.1 0h2.4m1.6 0h5.8m0.1 0h3.4m0.6 0h1.4m0.6 0h1.9m2.1 0h1.4m3.1 0h2.4m1 0h2.9m0.6 0h1.4m1.6 0h4.9m0.6 0h12.3m0.1 0h7.4m0.6 0h6.9m0.5 0h1.4m0.1 0h4.4m0.1 0h2.9m0.6 0h1.4m0.6 0h1.4m0.1 0h5.4m0.1 0h3.8m0.1 0h3.9m0.6 0h2.4m0.6 0h1.4m0.1 0h8.3m0.6 0h4.4m1.1 0h7.9m0.1 0h1.4m0.6 0h4.8m0.1 0h1.9m0.1 0h1.4m2.1 0h2.4m0.1 0h2.4m0.1 0h1.4m0.1 0h1.4m5.5 0h2.4m3.6 0h2.9m0.6 0h1.4m0.1 0h1.4m2.6 0h1.4m1.6 0h1.4m1 0h1.4m6.6 0h1.4m0.6 0h1.4m0.1 0h3.4m0.6 0h1.4m2 0h1.9m8.1 0h1.4m1.6 0h1.4m0.1 0h1.4m2.1 0h1.4m4.5 0h1.4m1.6 0h1.4m0.6 0h1.4m4.1 0h1.4m1.1 0h2.4m0.5 0h1.4m0.6 0h2.9m4.6 0h1.4m0.1 0h1.9m2.6 0h1.4m4 0h1.9m0.1 0h1.9m4.1 0h1.4m2.6 0h1.4m0.1 0h1.9m10 0h2.4m3.6 0h1.9m3.1 0h2.4m0.5 0h1.4m2.1 0h2.4m5.1 0h1.4m2.1 0h1.4"/>
<path d="M90.9 270.22h1.4m0.1 0h1.4m0.1 0h3.3m3.1 0h1.9m3.6 0h1.4m1.6 0h6.9m6 0h3.4m3.6 0h1.4m6.5 0h1.4m2.6 0h1.4m11.1 0h1.4m3 0h1.4m2.6 0h1.4m11.1 0h2.8m2.1 0h1.4m7.6 0h1.9m1.1 0h1.4m1.1 0h1.4m5 0h2.4m1.6 0h2.4m1.1 0h1.4m4.6 0h1.4m0.5 0h1.4m0.1 0h3.4m3.1 0h1.4m0.1 0h1.4m2.6 0h1.4m9 0h2.4m3.1 0h1.4m6.1 0h1.4m0.1 0h1.9m1 0h1.4m1.6 0h2.9m1.6 0h1.4m1.6 0h1.4m2.1 0h1.4m1.1 0h1.4m2.5 0h1.4m1.6 0h4.4m0.6 0h1.4m1.6 0h2.9m0.1 0h1.4m0.1 0h4.3m1.1 0h1.4m0.6 0h1.4m1.6 0h4.9m2.1 0h1.9m6 0h5.4m0.6 0h1.4m0.6 0h1.9m2.1 0h1.4m2.1 0h5.8m0.1 0h2.4m0.1 0h2.4m0.1 0h3.4m0.1 0h2.9m1.6 0h2.9m1 0h4.4m0.6 0h2.4m0.1 0h2.9m0.1 0h3.9m3.1 0h1.8m2.1 0h1.4m0.1 0h2.4m0.1 0h1.4m2.6 0h1.4m0.1 0h1.4m0.1 0h7.3m1.6 0h2.4m4.6 0h1.4m0.1 0h1.4m1.1 0h1.4m1.1 0h3.9m5.5 0h2.4m4.6 0h1.4m0.1 0h1.4m0.6 0h1.4m2.5 0h2.4m7.6 0h1.4m0.1 0h1.4m17 0h1.4m0.1 0h1.4m1.6 0h1.4m0.6 0h1.4m9 0h1.4m4.6 0h1.4m2.6 0h3.3m0.1 0h1.4m0.1 0h1.4m3.6 0h1.4m0.6 0h2.4m4.6 0h1.4m0.1 0h3.3m9.6 0h2.4m0.1 0h1.9m0.1 0h1.4m0.1 0h1.4m12 0h1.4m0.6 0h2.4m2.1 0h2.4m6 0h1.4m0.6 0h1.4m6.6 0h1.4m0.6 0h1.9"/>
<path d="M79.9 272.96h2.9m2.6 0h1.4m3.1 0h1.4m3.6 0h1.4m13 0h1.4m0.6 0h1.4m9 0h1.4m6.1 0h1.4m13 0h1.4m0.1 0h1.4m1.1 0h1.4m0.1 0h1.4m0.1 0h1.4m12 0h1.4m23.5 0h1.9m0.1 0h1.4m6.5 0h1.4m1.1 0h1.4m6.1 0h1.4m4.5 0h1.4m5.6 0h2.4m1.1 0h1.4m1.6 0h1.4m13.5 0h1.9m0.6 0h1.4m0.6 0h1.4m1.1 0h1.4m0.6 0h1.9m0.1 0h1.4m15.5 0h1.4m2.5 0h1.4m0.1 0h1.4m2.1 0h1.4m4.6 0h1.4m4.1 0h2.4m0.5 0h1.9m0.1 0h2.4m7.6 0h1.4m0.6 0h1.4m1.6 0h1.4m0.6 0h1.4m3.5 0h2.4m0.6 0h1.4m0.6 0h1.4m0.1 0h1.4m0.1 0h1.4m0.6 0h1.4m1.6 0h1.4m1.5 0h1.4m0.1 0h1.4m1.6 0h1.9m5.1 0h1.9m5.1 0h1.4m0.5 0h1.4m1.6 0h2.9m0.1 0h1.4m0.6 0h1.4m2.1 0h1.4m0.6 0h1.4m0.6 0h2.4m0.1 0h2.8m5.1 0h1.4m9.1 0h1.4m1.1 0h1.4m2.5 0h2.9m1.1 0h2.4m0.1 0h2.4m1.6 0h1.4m4.1 0h1.4m11.5 0h1.4m1.1 0h1.4m1.1 0h1.4m0.1 0h1.4m6.5 0h1.4m10.6 0h1.4m5.5 0h2.4m9.1 0h1.4m0.1 0h1.4m12.5 0h1.4m8.5 0h1.4m2.1 0h1.4m7.1 0h1.4m1.6 0h1.4m3.5 0h1.4m6.6 0h1.4m7.5 0h1.4m13.1 0h1.4m7 0h1.4m10.1 0h1.4"/>
<path d="M82.9 275.69h1.4m1.1 0h1.4m0.1 0h1.4m0.1 0h3.4m0.6 0h1.4m1.5 0h1.4m4.6 0h2.4m2.1 0h1.4m3.6 0h2.4m1.6 0h4.3m2.6 0h1.4m2.1 0h1.4m1.1 0h1.4m0.1 0h1.4m0.6 0h2.4m8 0h1.4m0.1 0h1.4m3.6 0h1.9m12 0h2.4m3.6 0h1.4m0.1 0h1.4m9 0h1.4m0.6 0h1.4m1.1 0h1.4m2.1 0h1.4m4.6 0h2.8m6.6 0h2.4m3.6 0h1.4m0.6 0h2.4m0.6 0h1.4m3 0h1.4m6.1 0h2.4m3.1 0h2.4m2.5 0h2.9m5.6 0h1.4m0.6 0h1.4m2.6 0h4.8m0.1 0h2.4m1.1 0h1.4m2.6 0h1.4m0.6 0h1.9m1.1 0h1.4m0.1 0h1.4m2.1 0h2.4m3 0h1.4m2.6 0h1.4m0.6 0h2.9m0.1 0h1.4m0.6 0h2.4m0.1 0h1.9m0.5 0h3.9m0.6 0h3.4m1.1 0h1.9m1.1 0h1.4m0.1 0h2.4m1.1 0h3.9m2 0h1.4m2.6 0h1.4m1.1 0h1.4m0.1 0h1.4m0.6 0h1.9m0.6 0h1.4m2.5 0h1.9m4.1 0h2.4m0.1 0h1.4m2.6 0h1.9m1.1 0h1.9m0.1 0h2.4m4.5 0h1.4m1.6 0h2.4m1.1 0h2.9m0.1 0h1.4m3.6 0h1.4m0.5 0h1.4m0.1 0h1.4m2.1 0h3.4m0.1 0h1.4m0.6 0h1.4m0.1 0h2.9m2.6 0h2.4m1.5 0h2.9m0.6 0h1.9m2.6 0h3.4m3.1 0h1.4m8.5 0h1.4m0.1 0h1.4m4.1 0h1.4m3.6 0h1.4m3 0h1.4m6.6 0h1.9m0.6 0h1.4m0.6 0h1.4m3.5 0h1.4m2.6 0h1.4m0.6 0h1.9m1.1 0h1.4m1.1 0h1.9m0.6 0h1.4m8.5 0h1.9m4.1 0h2.4m3.6 0h1.4m2.5 0h1.4m0.1 0h2.4m2.6 0h1.9m0.6 0h2.9m3.1 0h2.4m1.6 0h1.4m8.5 0h1.4m3.6 0h1.9m0.1 0h1.4m14 0h1.4m8 0h1.4m2.1 0h7.4m4.6 0h1.4"/>
<path d="M81.4 278.43h1.4m0.6 0h1.4m2.1 0h1.4m0.6 0h1.4m3.6 0h2.4m1 0h1.4m3.6 0h3.4m0.1 0h3.9m4.1 0h2.4m2.5 0h1.4m1.6 0h1.4m0.6 0h1.4m0.1 0h1.4m1.1 0h1.4m0.1 0h1.9m1.6 0h1.4m1.5 0h1.4m0.1 0h1.4m0.1 0h2.9m0.1 0h2.4m2.1 0h1.4m1.1 0h1.4m0.6 0h2.4m2 0h1.4m3.1 0h1.9m2.1 0h1.4m0.1 0h1.9m0.6 0h1.4m0.6 0h1.4m2.6 0h3.3m0.1 0h1.4m3.1 0h2.4m1.1 0h1.9m0.6 0h3.4m5.5 0h1.4m2.6 0h2.9m0.6 0h1.4m4.1 0h1.4m0.1 0h1.4m3 0h1.4m0.1 0h3.4m2.1 0h3.4m0.1 0h3.4m0.1 0h1.4m2.6 0h4.3m0.6 0h1.4m0.1 0h1.4m1.6 0h3.4m1.1 0h2.9m1.1 0h4.4m1 0h1.9m0.1 0h5.9m0.6 0h1.4m0.6 0h2.4m0.1 0h2.9m1.6 0h1.4m0.5 0h2.4m1.1 0h4.9m0.1 0h1.4m1.6 0h12.8m0.1 0h2.4m0.1 0h5.4m0.1 0h1.4m0.1 0h10.3m0.6 0h4.9m0.6 0h1.9m0.1 0h8.8m1.1 0h3.4m0.6 0h6.9m0.1 0h5.4m0.5 0h3.4m0.1 0h4.4m0.1 0h3.4m2.6 0h1.4m0.1 0h2.9m0.5 0h5.4m2.1 0h2.4m0.6 0h1.4m0.1 0h1.4m0.1 0h1.4m0.1 0h1.4m0.1 0h1.4m3 0h1.9m0.1 0h1.4m4.6 0h1.4m1.1 0h4.9m2.1 0h1.9m0.5 0h2.4m3.1 0h3.9m0.1 0h1.9m0.6 0h1.4m0.6 0h1.4m0.6 0h2.4m2 0h3.4m2.1 0h2.4m4.6 0h1.9m2.6 0h2.8m3.6 0h1.9m0.1 0h1.4m0.1 0h4.4m1.6 0h1.9m0.6 0h1.4m0.6 0h1.9m0.5 0h1.4m0.6 0h1.4m0.6 0h2.4m0.1 0h1.4m1.6 0h1.4m1.6 0h2.9m4 0h1.4m1.1 0h2.4m1.1 0h1.4m0.6 0h1.4m6.1 0h1.4m2.1 0h1.4m3 0h2.4m0.6 0h1.4m0.1 0h1.4m1.1 0h1.4m2.6 0h3.4m0.6 0h3.8m0.6 0h2.9m1.6 0h1.4m1.6 0h1.4m0.6 0h1.4m0.1 0h1.4m0.1 0h1.4m8 0h2.9m2.1 0h1.9m0.1 0h1.4m0.6 0h1.9m0.1 0h3.4"/>
<path d="M78.4 281.17h1.4m1.1 0h1.4m5.6 0h1.4m1.1 0h2.4m2.1 0h2.8m3.6 0h1.4m0.1 0h1.4m1.1 0h1.4m8.1 0h2.8m3.1 0h1.4m1.1 0h2.4m2.1 0h1.4m0.6 0h1.4m0.6 0h1.4m0.1 0h3.8m5.6 0h1.4m0.6 0h2.4m0.1 0h1.4m1.6 0h1.9m0.6 0h1.4m2.5 0h1.4m0.1 0h1.4m6.6 0h1.4m0.1 0h1.9m0.6 0h1.4m5.5 0h2.4m1.6 0h1.4m0.6 0h1.4m0.1 0h1.4m0.1 0h1.4m0.6 0h2.4m1.1 0h1.4m0.1 0h1.4m3.5 0h1.4m11.6 0h1.4m6.5 0h1.4m0.1 0h1.4m5.1 0h2.9m2.1 0h1.4m0.6 0h2.8m0.1 0h1.9m6.6 0h1.4m2.1 0h1.9m0.6 0h1.4m0.1 0h2.4m1 0h1.4m0.1 0h1.9m1.6 0h2.9m1.6 0h1.4m0.1 0h1.4m1.1 0h1.4m1.1 0h1.4m0.1 0h2.8m2.1 0h1.9m0.6 0h1.4m1.1 0h1.4m0.1 0h1.4m0.6 0h1.9m0.1 0h2.9m0.6 0h5.8m0.1 0h1.9m3.1 0h2.9m2.1 0h1.4m1.6 0h4.8m1.1 0h1.4m0.1 0h1.4m2.1 0h1.4m0.1 0h1.4m0.1 0h2.9m1.6 0h1.4m0.1 0h1.4m0.6 0h6.8m0.1 0h8.4m1.1 0h1.9m2.1 0h1.9m1 0h1.4m1.1 0h3.4m0.6 0h1.4m1.1 0h2.9m2.1 0h1.9m1.1 0h1.8m2.1 0h1.4m0.1 0h1.9m0.6 0h1.4m4.6 0h1.4m0.1 0h1.9m2.1 0h1.9m0.5 0h1.4m0.1 0h2.9m4.1 0h2.4m2.6 0h1.4m0.1 0h1.4m0.6 0h2.4m1.5 0h1.4m4.1 0h1.4m1.6 0h1.4m3.6 0h1.4m0.6 0h1.4m1.5 0h1.9m3.1 0h1.4m3.1 0h2.4m8.5 0h1.4m0.1 0h1.9m4.1 0h3.9m1.6 0h1.4m0.6 0h1.4m6.5 0h1.4m4.6 0h2.4m10 0h1.9m2.6 0h2.4m2.1 0h2.4m5.1 0h3.3m0.6 0h1.4m0.1 0h2.9m3.6 0h1.4m4.1 0h1.4m11.5 0h1.4m4.6 0h2.4m0.1 0h2.4m3.5 0h3.9m1.1 0h1.4m0.6 0h1.9m2.6 0h1.9m1.1 0h1.4"/>
<path d="M81.4 283.91h1.4m0.1 0h1.4m13.5 0h1.4m8.1 0h1.9m1.6 0h1.4m7 0h1.4m21 0h1.4m5.6 0h1.9m1.6 0h1.4m5.5 0h1.4m10.6 0h1.4m1.1 0h1.9m16.5 0h1.4m11 0h1.4m2.1 0h1.4m6 0h1.4m11.6 0h1.4m1.6 0h1.9m0.1 0h1.4m1.5 0h1.9m5.6 0h1.4m1.1 0h1.4m1.6 0h1.4m2.6 0h1.4m0.5 0h1.4m5.6 0h1.4m3.1 0h1.4m0.1 0h1.4m1.1 0h2.4m4.5 0h1.4m11.6 0h1.4m1.6 0h2.3m7.1 0h1.4m4.6 0h1.4m1.1 0h1.9m1.5 0h2.4m7.6 0h2.4m2.1 0h1.4m0.1 0h2.4m7 0h2.4m3.6 0h1.4m0.6 0h2.4m1.1 0h1.4m0.6 0h1.9m5 0h1.4m0.1 0h1.4m3.1 0h1.4m0.6 0h1.9m5 0h1.9m3.1 0h2.9m2.1 0h1.4m6.1 0h1.4m6.5 0h3.4m2.1 0h1.4m1.6 0h1.4m1.6 0h1.4m4.5 0h2.4m4.1 0h2.4m3.6 0h1.4m7 0h1.4m4.6 0h1.4m6.6 0h1.4m10 0h1.4m5.1 0h1.4m2 0h1.4m3.6 0h1.4m6.6 0h1.4m1.6 0h1.4m1.1 0h1.4m14 0h1.4m3.1 0h1.4m1.5 0h1.4m1.6 0h1.4m1.6 0h1.4m0.1 0h1.4m1.6 0h1.4m1.1 0h1.4m0.1 0h1.9m0.1 0h1.4m10 0h1.4m0.6 0h1.4m3.6 0h2.4m4 0h1.4m6.6 0h1.4"/>
<path d="M84.4 286.65h1.9m5.1 0h1.4m0.6 0h1.4m2.5 0h1.4m2.6 0h1.4m1.6 0h1.4m3.6 0h1.4m7 0h1.4m0.6 0h2.9m2.6 0h1.4m0.6 0h1.4m0.1 0h1.4m2.1 0h1.9m5 0h1.4m0.6 0h3.9m3.6 0h1.4m1.6 0h1.4m10 0h1.9m4.1 0h1.4m5.5 0h1.4m0.1 0h1.4m5.1 0h1.9m4.6 0h1.4m2.1 0h2.8m1.1 0h1.4m0.1 0h1.4m7.6 0h1.4m0.6 0h1.4m0.1 0h2.4m0.1 0h1.8m0.6 0h1.4m0.6 0h1.9m0.1 0h1.4m0.1 0h2.9m1.1 0h1.4m0.1 0h1.4m0.1 0h1.4m1.1 0h2.9m2 0h3.9m1.1 0h1.4m0.6 0h1.4m0.6 0h1.4m1.1 0h1.9m0.1 0h1.4m4 0h2.4m1.1 0h2.9m0.6 0h1.4m1.1 0h1.4m0.1 0h1.4m1.1 0h1.9m3.1 0h6.8m0.6 0h1.4m0.6 0h1.9m0.1 0h2.4m0.1 0h2.9m2.1 0h1.9m3 0h1.4m0.1 0h1.4m0.6 0h1.4m0.1 0h3.9m0.1 0h2.4m1.6 0h1.4m0.6 0h9.8m1.1 0h2.4m0.1 0h1.4m1.1 0h3.9m0.6 0h2.3m0.1 0h6.9m0.6 0h1.4m0.1 0h1.4m0.6 0h2.4m0.6 0h3.4m0.6 0h4.8m1.1 0h1.9m1.6 0h1.9m3.1 0h1.4m0.6 0h5.8m3.1 0h1.4m0.1 0h1.4m0.1 0h1.4m3.1 0h1.9m1.1 0h5.4m4 0h2.9m2.1 0h1.4m1.1 0h5.4m4 0h2.4m5.1 0h1.4m3.6 0h1.4m1.1 0h1.4m1.6 0h2.3m1.1 0h3.4m4.1 0h1.4m0.1 0h2.9m4.1 0h1.4m8 0h1.4m0.1 0h1.4m1.6 0h2.4m1.6 0h1.4m2 0h2.9m3.1 0h1.4m3.1 0h1.9m3.6 0h1.4m8.5 0h3.4m0.1 0h1.4m6.1 0h1.4m1 0h1.4m4.1 0h1.4m1.6 0h4.9m2.1 0h1.4m1.1 0h2.4m3.5 0h1.4m1.6 0h2.4m9.6 0h2.3m0.1 0h1.4m1.6 0h1.4m3.1 0h1.4m0.1 0h1.4m3.1 0h2.4m0.6 0h1.4"/>
<path d="M79.4 289.39h1.4m0.1 0h1.4m1.6 0h1.4m0.1 0h1.4m2.1 0h2.4m5.5 0h2.4m6.1 0h1.4m0.6 0h2.4m2.1 0h2.4m0.1 0h1.4m0.5 0h1.4m1.6 0h1.4m4.6 0h1.4m0.6 0h2.4m1.6 0h1.9m2.5 0h1.4m0.1 0h1.4m0.6 0h1.4m0.6 0h1.4m1.1 0h2.4m2.1 0h1.4m4.6 0h2.3m0.6 0h3.4m6.6 0h1.9m0.6 0h1.4m1.6 0h2.4m2.5 0h2.9m1.6 0h2.4m10.5 0h1.9m4.6 0h2.4m0.1 0h1.9m2.6 0h1.4m5 0h1.4m1.1 0h2.4m3.6 0h1.4m2.6 0h2.4m0.1 0h1.9m3 0h1.4m0.1 0h1.4m0.6 0h4.4m0.6 0h3.9m1.6 0h1.9m0.1 0h1.4m0.1 0h3.8m0.6 0h2.4m0.6 0h1.4m1.6 0h2.4m2.6 0h6.4m0.6 0h2.8m0.1 0h2.4m1.6 0h6.4m0.1 0h1.9m0.1 0h2.4m0.6 0h5.3m0.1 0h1.4m0.1 0h6.4m0.1 0h1.9m2.1 0h1.9m0.1 0h1.4m1 0h1.9m0.1 0h1.9m0.6 0h2.4m1.6 0h3.9m0.6 0h1.4m4.1 0h6.8m0.1 0h3.4m2.6 0h4.4m2.6 0h4.8m0.1 0h3.9m0.1 0h1.4m1.6 0h1.9m0.6 0h3.4m0.6 0h2.4m0.5 0h3.4m1.1 0h3.9m0.1 0h1.4m0.1 0h1.9m0.1 0h2.4m0.6 0h1.4m0.6 0h1.4m0.6 0h1.4m0.5 0h4.9m0.1 0h1.4m0.1 0h1.9m2.1 0h1.9m4.1 0h1.4m6 0h2.4m0.1 0h2.9m1.1 0h1.4m3.1 0h3.4m0.1 0h3.8m0.6 0h1.4m0.1 0h2.4m4.6 0h1.4m2.1 0h2.9m1 0h3.4m0.1 0h1.4m0.1 0h1.4m5.6 0h2.4m0.6 0h3.9m2 0h2.4m0.1 0h1.4m0.6 0h1.4m0.6 0h1.4m3.1 0h1.4m9.5 0h1.9m0.1 0h1.4m1.1 0h1.9m1.1 0h1.4m3.6 0h2.4m0.1 0h1.9m0.5 0h1.4m5.6 0h1.4m3.6 0h1.4m1.1 0h1.4m1.1 0h1.4m0.1 0h1.4m5 0h1.4m6.1 0h1.4m3.6 0h1.4m3 0h2.9m0.1 0h1.4m1.6 0h2.4m0.1 0h1.4m0.1 0h1.4m0.6 0h1.4m2.1 0h1.4"/>
<path d="M80.4 292.13h1.4m4.6 0h2.4m0.1 0h1.4m2.1 0h1.9m0.6 0h2.8m3.6 0h1.4m0.6 0h1.4m3.1 0h1.4m10 0h2.9m0.6 0h1.4m1.6 0h1.4m0.6 0h1.4m3.6 0h1.4m2.5 0h1.4m0.1 0h1.4m6.1 0h1.4m9 0h2.9m5.1 0h1.9m3.6 0h1.4m2.6 0h1.4m9 0h3.4m2.1 0h1.4m1.6 0h2.4m11 0h1.4m3.6 0h1.4m4 0h1.4m4.6 0h1.4m1.1 0h1.4m1.6 0h1.4m1.1 0h1.4m12.5 0h1.4m3.6 0h1.4m3.6 0h1.4m2.5 0h1.9m2.1 0h1.4m1.1 0h1.4m1.1 0h1.4m1.1 0h1.4m1.1 0h3.4m0.5 0h1.4m0.1 0h2.9m1.6 0h2.4m2.1 0h1.4m0.1 0h1.9m0.1 0h4.4m1 0h1.4m2.1 0h1.4m0.1 0h1.9m0.1 0h1.4m1.1 0h4.4m0.6 0h2.4m0.1 0h1.4m2 0h1.9m0.6 0h2.9m0.1 0h1.4m1.1 0h4.9m0.1 0h1.4m0.6 0h1.9m1.1 0h2.8m2.6 0h1.4m0.6 0h3.4m1.6 0h1.4m1.1 0h1.9m2.6 0h1.9m2 0h2.9m1.1 0h1.9m1.1 0h1.4m0.1 0h1.4m2.6 0h1.4m2.1 0h1.9m5 0h2.9m0.1 0h2.4m1.1 0h2.4m0.1 0h2.9m0.6 0h1.9m4 0h1.4m1.6 0h1.9m1.6 0h1.4m0.1 0h2.9m0.6 0h2.9m1 0h1.4m0.1 0h1.4m0.1 0h1.4m2.6 0h1.4m0.1 0h1.9m0.1 0h1.4m5.1 0h1.4m0.1 0h2.9m0.5 0h1.9m2.1 0h1.4m1.1 0h1.4m2.6 0h1.4m0.6 0h1.4m5 0h1.4m1.6 0h1.4m0.1 0h1.4m0.6 0h1.4m1.1 0h2.4m1.6 0h1.9m0.6 0h2.4m1.1 0h1.4m1.5 0h1.4m7.6 0h2.9m2.6 0h1.4m2 0h2.4m6.1 0h1.9m1.6 0h2.9m3.6 0h1.4m2 0h1.4m0.6 0h1.4m4.1 0h1.4m0.1 0h1.4m4.6 0h1.9m1 0h1.4m4.1 0h1.4m1.1 0h1.4m3.6 0h1.9m1.6 0h1.4m0.1 0h2.8m3.1 0h1.4m2.6 0h1.9m1.1 0h1.4m1.1 0h2.4"/>
<path d="M82.4 294.87h1.4m5.1 0h1.4m2.1 0h2.4m1 0h1.4m1.6 0h2.4m0.1 0h1.9m0.6 0h1.9m0.1 0h1.4m16 0h1.4m1.6 0h2.4m1.1 0h1.4m1.6 0h2.9m3 0h1.4m0.1 0h1.4m0.6 0h3.4m4.6 0h2.4m3.5 0h1.4m11.1 0h1.4m1.1 0h2.4m2 0h1.4m8.6 0h1.4m8 0h1.4m0.1 0h1.4m0.6 0h1.4m0.1 0h1.4m5.1 0h1.4m0.6 0h3.4m1.1 0h1.4m4.5 0h1.9m5.6 0h1.9m0.1 0h1.4m0.1 0h1.4m3.1 0h1.8m0.6 0h1.4m1.1 0h1.9m0.1 0h1.4m0.6 0h3.9m3.1 0h1.9m0.6 0h1.4m0.1 0h1.4m3 0h1.4m3.1 0h1.4m5.6 0h1.4m0.1 0h2.4m5 0h1.9m3.6 0h1.4m2.6 0h1.4m1.1 0h1.4m0.1 0h2.4m2.5 0h1.9m0.1 0h2.4m2.1 0h1.4m0.6 0h1.4m1.6 0h1.9m1.1 0h1.9m0.6 0h1.4m0.5 0h3.9m1.1 0h2.9m1.1 0h1.4m1.6 0h1.4m0.1 0h1.9m1.6 0h3.3m0.1 0h2.4m1.1 0h1.4m0.1 0h1.9m1.1 0h2.4m5.6 0h3.3m0.6 0h1.4m0.1 0h1.4m0.1 0h1.4m2.6 0h1.4m0.1 0h1.4m0.1 0h1.4m0.6 0h1.9m2.6 0h2.8m0.6 0h2.9m2.6 0h3.4m1.1 0h1.4m1.1 0h1.9m1.6 0h1.4m0.5 0h2.4m0.1 0h1.4m0.1 0h1.4m5.6 0h2.4m3.1 0h1.4m0.1 0h2.4m2 0h1.4m3.6 0h1.4m1.6 0h1.4m3.6 0h1.4m5 0h1.4m0.6 0h2.4m7.6 0h1.4m1.1 0h1.4m12.5 0h1.9m0.1 0h1.4m2.1 0h2.4m0.1 0h1.4m3.5 0h1.4m1.1 0h1.4m2.6 0h1.4m0.1 0h2.9m0.1 0h1.4m6.5 0h2.4m2.6 0h1.4m6.6 0h1.4m3.5 0h1.4m0.1 0h1.4m1.6 0h1.4m5.1 0h1.4m4.6 0h1.4m0.5 0h1.4m10.1 0h2.9m2.1 0h1.4m5 0h1.9m0.1 0h3.4m2.6 0h2.9m0.1 0h2.9"/>
<path d="M78.9 297.61h1.4m0.6 0h1.4m6.6 0h1.4m0.1 0h1.4m0.6 0h1.4m1.1 0h2.3m5.1 0h1.4m0.6 0h1.4m2.1 0h1.4m0.6 0h1.4m6 0h1.4m6.1 0h1.4m5.1 0h3.9m5 0h1.4m6.1 0h1.4m0.1 0h2.4m0.1 0h2.4m2.5 0h1.4m5.6 0h3.4m2.1 0h1.4m6 0h1.4m2.6 0h1.4m3.1 0h1.4m0.6 0h2.4m5.1 0h1.4m2 0h4.9m2.6 0h1.4m0.1 0h1.4m0.1 0h2.9m4 0h2.9m0.6 0h1.4m0.1 0h1.4m0.1 0h2.9m0.6 0h1.4m4.1 0h1.4m4 0h1.4m0.6 0h1.4m1.1 0h1.4m0.6 0h4.4m0.6 0h1.4m2.1 0h1.9m0.1 0h2.8m2.1 0h1.9m1.6 0h1.9m0.1 0h1.4m0.1 0h1.4m0.1 0h2.4m0.6 0h1.9m4.5 0h1.4m1.1 0h2.4m1.6 0h1.9m1.1 0h3.9m2.6 0h4.8m6.1 0h4.9m0.6 0h1.4m1.1 0h1.4m2.1 0h1.8m0.1 0h1.4m1.6 0h1.4m0.1 0h2.4m0.1 0h5.4m0.1 0h8.8m0.1 0h2.4m0.6 0h1.4m1.6 0h1.9m0.1 0h2.4m1.6 0h2.4m0.1 0h1.9m0.1 0h2.3m0.1 0h4.9m1.6 0h1.9m1.6 0h4.9m1.1 0h2.4m1.5 0h1.4m0.6 0h2.9m0.6 0h1.4m0.6 0h1.4m3.1 0h1.9m0.6 0h1.4m5 0h2.9m9.1 0h1.4m0.1 0h2.4m0.1 0h2.3m0.6 0h1.4m0.1 0h1.4m9.1 0h2.4m0.6 0h1.9m1 0h1.4m4.6 0h1.4m3.1 0h1.9m5.6 0h1.4m5 0h1.4m3.1 0h1.4m3.1 0h1.9m0.6 0h2.9m3.5 0h1.9m0.1 0h1.4m0.1 0h1.9m1.1 0h1.9m1.1 0h1.9m0.6 0h1.4m2.1 0h1.4m2.5 0h1.4m0.6 0h1.4m3.1 0h1.4m0.1 0h1.4m2.1 0h1.4m1.1 0h1.4m2.1 0h1.4m0.5 0h3.4m1.1 0h1.4m7.1 0h1.9m0.6 0h1.4m1.5 0h1.4m1.6 0h1.4m3.6 0h2.4m1.1 0h1.4m2.6 0h2.9m8 0h2.4m0.6 0h1.9m0.1 0h1.4m1.1 0h1.4"/>
<path d="M82.4 300.35h1.4m0.1 0h1.4m1.1 0h2.4m8 0h2.4m5.1 0h1.4m0.1 0h1.4m1.6 0h1.4m1.1 0h1.9m0.1 0h1.4m3.5 0h2.4m0.1 0h1.4m0.1 0h1.4m1.1 0h1.4m3.1 0h1.4m1.1 0h1.4m3.5 0h2.4m2.6 0h1.9m1.1 0h2.4m2.1 0h1.4m4.1 0h3.3m6.6 0h3.9m0.1 0h1.4m1.6 0h1.4m3 0h1.4m0.1 0h1.4m3.6 0h1.4m0.6 0h1.4m1.1 0h2.4m6 0h2.4m4.1 0h1.4m0.1 0h1.4m3.1 0h1.4m1.1 0h1.4m2.1 0h1.4m1.5 0h1.4m0.6 0h1.4m0.6 0h1.4m0.6 0h1.9m0.1 0h2.4m2.6 0h1.4m1.6 0h1.4m0.5 0h1.9m2.1 0h1.4m0.1 0h3.4m3.6 0h1.4m1.6 0h1.4m0.1 0h1.4m0.6 0h1.4m2 0h1.9m0.6 0h1.4m0.6 0h4.9m1.1 0h1.4m0.1 0h6.4m3.5 0h2.4m0.6 0h2.4m1.1 0h2.4m0.1 0h3.4m1.6 0h1.9m1 0h1.9m1.1 0h1.4m1.1 0h1.4m1.1 0h1.9m1.1 0h2.4m0.6 0h3.4m0.6 0h4.8m0.1 0h2.4m0.1 0h1.4m3.1 0h1.9m2.1 0h2.4m0.6 0h1.4m0.5 0h1.4m2.6 0h1.4m0.1 0h2.9m0.1 0h1.4m1.1 0h1.4m0.6 0h4.9m0.1 0h1.4m1 0h1.4m0.1 0h4.9m3.6 0h1.9m0.1 0h1.9m0.6 0h1.9m1.6 0h1.9m1 0h1.9m0.1 0h2.4m0.1 0h1.4m0.6 0h2.9m0.6 0h1.4m0.1 0h1.9m1.1 0h1.9m0.1 0h4.8m1.6 0h2.4m1.6 0h1.4m3.1 0h1.9m0.1 0h3.9m1.5 0h1.4m2.1 0h1.4m0.6 0h2.4m1.1 0h1.4m6.6 0h1.4m1 0h2.4m2.6 0h1.4m2.1 0h1.4m0.1 0h4.9m4.5 0h2.4m0.1 0h1.4m0.6 0h3.4m2.1 0h1.4m6.6 0h1.4m0.6 0h1.4m1 0h2.4m0.6 0h1.4m0.1 0h2.4m0.6 0h2.4m1.1 0h2.4m1.6 0h1.4m1 0h1.4m4.1 0h1.4m1.6 0h1.9m0.1 0h1.4m3.1 0h2.4m4 0h1.4m0.6 0h1.4m5.6 0h1.4m2.1 0h2.4m0.6 0h1.4m1.1 0h1.4m1 0h1.4m0.1 0h1.4m0.6 0h1.9m0.1 0h1.4m4.6 0h1.4m0.1 0h1.9m2.1 0h2.8m1.1 0h2.4m1.6 0h2.9m2.6 0h1.4m4.6 0h1.9"/>
<path d="M79.4 303.08h2.4m1.1 0h2.9m3.1 0h1.4m1.6 0h1.4m0.6 0h1.4m0.5 0h1.9m3.1 0h1.4m0.1 0h1.4m0.1 0h1.4m0.1 0h2.4m1.6 0h3.4m3.5 0h1.4m1.1 0h1.4m5.6 0h5.4m2.1 0h1.4m0.1 0h1.4m2.5 0h1.4m0.6 0h1.4m4.6 0h1.4m0.1 0h1.4m2.6 0h1.4m1.1 0h2.8m0.1 0h1.4m1.6 0h1.4m0.1 0h2.4m6.6 0h2.4m3.5 0h1.4m1.6 0h1.4m0.1 0h2.4m0.1 0h4.9m0.6 0h5.4m2 0h1.4m0.1 0h1.4m0.1 0h2.4m0.1 0h1.4m1.1 0h1.4m1.6 0h1.4m2.1 0h1.9m0.1 0h1.4m0.5 0h1.9m3.1 0h3.4m1.1 0h1.4m0.1 0h3.4m0.1 0h1.4m0.1 0h1.4m5 0h2.4m0.6 0h1.4m1.6 0h2.9m1.6 0h1.9m0.1 0h1.4m0.1 0h1.4m1.1 0h1.4m1 0h2.9m0.1 0h2.4m1.1 0h1.4m0.1 0h3.9m0.6 0h3.4m1.6 0h2.8m1.6 0h1.9m0.1 0h3.4m0.6 0h2.9m0.6 0h1.4m0.6 0h2.9m0.1 0h1.4m0.5 0h2.4m0.1 0h2.4m0.1 0h3.9m0.6 0h1.9m1.1 0h1.9m1.1 0h1.4m0.1 0h1.9m2.5 0h1.9m0.1 0h6.4m1.1 0h5.9m0.1 0h7.3m0.6 0h4.4m0.6 0h3.4m0.1 0h1.4m0.6 0h1.4m0.1 0h6.3m0.1 0h3.9m1.6 0h1.4m1.6 0h2.4m2.6 0h3.8m0.6 0h6.4m0.6 0h2.9m0.1 0h1.4m1.1 0h1.4m0.6 0h1.9m0.1 0h2.8m1.1 0h4.9m0.1 0h2.4m0.1 0h2.4m0.1 0h1.4m0.6 0h5.4m6.5 0h1.4m0.1 0h3.4m0.1 0h1.4m0.1 0h1.9m0.6 0h1.4m0.1 0h2.9m0.5 0h1.4m0.6 0h1.9m0.1 0h1.9m0.1 0h1.4m1.1 0h1.4m4.1 0h2.4m2.1 0h1.4m0.5 0h1.4m0.1 0h1.4m0.6 0h1.4m2.6 0h2.4m0.1 0h1.4m0.6 0h1.4m2.6 0h1.9m1.1 0h1.4m2 0h1.4m1.1 0h2.4m1.1 0h1.4m0.1 0h1.4m6.1 0h1.4m1 0h1.4m0.1 0h1.9m4.1 0h2.4m0.1 0h1.9m1.6 0h1.9m0.1 0h1.4m4.5 0h1.4m1.1 0h1.4m4.1 0h1.9m0.1 0h2.9m0.6 0h1.4m0.1 0h1.4m1 0h1.4m3.1 0h2.9m2.6 0h1.4m1.1 0h2.9m0.6 0h1.4m1.1 0h1.9m2.5 0h1.4m0.1 0h1.4m0.1 0h1.4m1.1 0h1.9m0.1 0h1.4m1.1 0h2.9m2.1 0h1.4"/>
<path d="M78.9 305.82h1.9m0.1 0h1.4m0.6 0h1.4m3.6 0h2.4m0.6 0h1.9m2.1 0h4.3m1.1 0h1.4m0.1 0h3.4m1.6 0h1.4m0.6 0h2.9m0.1 0h4.9m3 0h2.4m0.1 0h1.4m1.6 0h1.4m0.1 0h1.4m0.6 0h3.4m0.1 0h1.4m0.1 0h7.8m0.6 0h1.4m0.1 0h1.4m1.6 0h1.4m4.1 0h1.4m0.6 0h5.3m0.1 0h1.9m2.1 0h1.9m1.1 0h4.4m3.1 0h3.3m0.1 0h2.4m0.6 0h4.4m0.1 0h1.4m0.6 0h2.4m0.1 0h3.4m1.1 0h6.8m0.1 0h2.4m0.6 0h3.4m0.6 0h1.9m0.1 0h1.4m0.1 0h1.4m2 0h1.4m0.1 0h2.4m0.1 0h2.4m0.6 0h3.9m1.1 0h1.4m1.6 0h1.9m2.6 0h3.8m0.6 0h3.4m1.6 0h2.4m0.1 0h1.4m0.6 0h3.9m0.1 0h2.4m1.5 0h1.9m1.1 0h3.9m0.1 0h1.9m0.6 0h1.4m0.6 0h1.4m0.6 0h2.9m0.1 0h1.4m2 0h3.9m0.1 0h8.4m0.6 0h1.4m2.1 0h1.9m0.5 0h2.4m0.6 0h1.4m0.1 0h2.9m1.6 0h1.4m0.6 0h7.4m1.1 0h5.3m0.1 0h3.9m0.1 0h5.4m0.1 0h1.4m0.6 0h2.4m3.5 0h1.4m0.1 0h1.4m0.6 0h2.9m2.6 0h1.9m0.1 0h4.4m0.1 0h3.8m0.6 0h3.9m0.1 0h5.9m0.1 0h2.4m1.6 0h4.3m0.6 0h4.4m0.1 0h1.4m0.6 0h1.9m2.6 0h1.4m0.6 0h2.9m2.5 0h2.4m0.1 0h1.4m1.1 0h4.4m0.1 0h2.9m1.1 0h6.4m1 0h1.4m1.1 0h2.4m0.1 0h1.4m0.1 0h3.4m1.6 0h1.4m0.1 0h1.4m0.6 0h1.9m1.1 0h3.3m1.6 0h2.4m2.1 0h1.9m0.1 0h1.9m0.6 0h5.9m1 0h5.4m1.1 0h1.9m2.1 0h3.9m0.6 0h2.4m2.1 0h1.4m0.5 0h4.9m0.6 0h1.9m0.1 0h3.9m2.1 0h2.4m0.1 0h1.9m0.5 0h1.4m2.1 0h5.4m0.6 0h2.9m2.1 0h1.9m1.1 0h3.4m2 0h1.4m1.1 0h2.9m0.6 0h1.4m0.1 0h1.4m1.1 0h1.9m1.6 0h1.9m0.6 0h1.4m2 0h2.9m1.1 0h1.4m1.1 0h2.4m0.6 0h4.4m1.1 0h1.9m1 0h1.9m0.6 0h1.4m1.1 0h2.4m0.6 0h2.4m0.6 0h1.9m0.6 0h1.4m0.1 0h2.4m0.1 0h1.4"/>
<path d="M79.9 308.56h1.4m0.1 0h2.4m4.1 0h3.9m0.1 0h1.4m1.1 0h1.9m1 0h1.4m0.1 0h1.9m0.1 0h1.4m0.1 0h2.9m1.6 0h1.9m2.6 0h1.9m0.6 0h3.8m3.1 0h1.4m0.6 0h1.4m1.1 0h2.9m0.1 0h2.4m1.1 0h1.9m2.5 0h1.4m0.1 0h1.9m1.6 0h1.4m3.1 0h1.4m0.1 0h1.4m6.1 0h2.3m0.6 0h1.4m0.1 0h1.4m0.1 0h1.4m2.6 0h1.9m0.6 0h2.9m0.1 0h1.4m0.1 0h1.4m1.1 0h3.8m0.1 0h1.4m2.1 0h1.9m0.6 0h2.4m2.1 0h1.9m0.1 0h1.9m0.1 0h1.4m0.1 0h1.4m0.5 0h1.4m2.1 0h1.4m0.1 0h1.9m0.6 0h2.9m0.1 0h2.9m0.1 0h1.4m0.1 0h1.4m0.6 0h2.4m4 0h3.9m0.1 0h1.4m0.6 0h4.4m0.1 0h1.4m1.6 0h1.9m1 0h2.4m4.1 0h3.9m0.6 0h1.9m0.6 0h1.4m0.1 0h1.9m2 0h1.4m2.6 0h2.4m0.1 0h2.4m0.1 0h1.4m1.1 0h1.4m0.6 0h9.8m0.6 0h2.4m0.6 0h3.9m0.1 0h5.9m0.6 0h11.8m1.6 0h6.9m0.1 0h2.4m0.5 0h2.4m0.1 0h2.4m0.6 0h2.4m0.1 0h3.4m0.1 0h3.9m2.1 0h3.8m0.1 0h3.9m0.1 0h2.4m0.6 0h2.4m0.6 0h1.9m1.1 0h1.4m1.1 0h2.4m1 0h4.9m0.6 0h1.4m0.6 0h1.4m0.1 0h1.4m1.1 0h1.4m1.6 0h1.4m0.1 0h4.8m1.6 0h2.9m0.1 0h3.4m0.6 0h1.4m1.1 0h2.4m0.1 0h1.4m0.6 0h6.8m0.6 0h1.9m0.1 0h2.4m0.1 0h1.4m0.1 0h6.9m0.6 0h2.3m0.6 0h5.9m0.6 0h2.4m0.6 0h1.4m1.1 0h1.4m1.1 0h1.4m2.1 0h1.4m1 0h2.9m1.1 0h1.4m0.6 0h1.4m3.1 0h1.4m0.6 0h2.4m0.1 0h3.8m0.6 0h2.4m2.6 0h1.4m0.6 0h1.4m3.1 0h1.4m1.6 0h1.9m0.1 0h5.3m1.1 0h2.9m0.1 0h1.4m1.1 0h1.4m0.1 0h2.4m0.6 0h1.9m0.6 0h1.4m0.1 0h2.8m1.6 0h2.9m4.6 0h1.4m0.6 0h2.9m0.1 0h1.9m3 0h1.4m0.1 0h1.4m0.6 0h3.4m0.1 0h2.4m0.6 0h1.4m3.1 0h2.4m0.6 0h3.8m0.1 0h1.9m1.1 0h1.4m2.1 0h2.4m6.1 0h2.9m0.5 0h1.4m1.6 0h1.9m1.6 0h1.9m0.6 0h4.9m0.6 0h1.9"/>
<path d="M78.9 311.3h1.4m0.1 0h3.9m0.6 0h2.9m1.1 0h1.4m4.6 0h1.4m4 0h1.4m1.6 0h2.9m1.1 0h1.9m3.6 0h1.4m1.5 0h1.4m1.6 0h2.4m0.6 0h1.4m0.6 0h1.4m2.1 0h1.4m0.6 0h2.4m0.1 0h1.4m2 0h1.4m1.1 0h2.9m1.1 0h1.4m0.1 0h1.4m0.6 0h1.4m0.1 0h3.9m1.6 0h1.4m0.1 0h3.8m0.1 0h1.9m1.6 0h1.9m0.1 0h2.4m0.1 0h1.4m4.1 0h1.4m0.1 0h2.4m1.5 0h1.9m1.1 0h1.4m0.6 0h3.9m2.6 0h1.4m2.6 0h1.9m2.5 0h1.4m0.6 0h1.4m5.1 0h1.4m1.1 0h1.4m0.6 0h1.4m0.6 0h1.4m1.6 0h1.4m0.5 0h2.4m1.6 0h2.4m0.1 0h1.9m0.1 0h1.4m0.1 0h1.4m1.1 0h1.4m0.1 0h1.4m1.6 0h3.8m0.1 0h1.4m1.6 0h1.4m1.1 0h1.4m1.6 0h1.4m0.1 0h2.4m3.6 0h1.9m2.5 0h2.4m0.6 0h1.9m0.1 0h2.4m4.1 0h4.9m0.1 0h6.3m0.1 0h1.4m1.6 0h1.4m0.1 0h5.4m1.6 0h7.3m0.1 0h4.4m1.1 0h1.4m0.1 0h4.4m0.1 0h2.9m0.6 0h2.3m0.6 0h1.4m0.1 0h7.4m0.1 0h2.9m2.1 0h1.4m0.6 0h4.3m1.1 0h1.4m0.1 0h4.4m0.1 0h1.4m0.1 0h1.4m0.6 0h1.4m0.6 0h5.8m0.1 0h2.9m0.1 0h5.9m1.6 0h1.9m2.1 0h2.4m0.6 0h2.8m0.6 0h1.9m0.6 0h1.4m1.1 0h1.9m1.1 0h2.4m1.6 0h1.9m0.1 0h4.3m1.6 0h1.9m0.6 0h1.9m0.6 0h5.9m2.6 0h1.4m2.5 0h1.4m3.1 0h1.4m4.6 0h2.4m0.1 0h1.9m0.6 0h1.4m1.1 0h2.4m0.5 0h2.4m1.1 0h1.9m0.6 0h1.4m0.6 0h2.4m4.6 0h2.4m0.1 0h1.4m1.5 0h1.4m4.6 0h3.4m0.6 0h1.4m0.1 0h3.4m0.6 0h1.9m0.1 0h3.3m0.1 0h2.4m1.1 0h1.4m0.6 0h1.4m2.1 0h1.4m0.6 0h2.9m1.6 0h3.8m0.1 0h2.9m0.6 0h2.4m1.1 0h1.9m0.1 0h1.4m3.1 0h1.4m1.1 0h1.4m2.5 0h1.4m4.1 0h3.4m0.1 0h2.4m0.6 0h1.9m0.1 0h2.9m4.5 0h1.4m0.6 0h4.9m8.6 0h1.4m3.5 0h1.9m0.1 0h3.9m1.6 0h1.9m3.1 0h1.4"/>
<path d="M78.4 314.04h1.4m0.1 0h1.4m2.6 0h1.4m1.1 0h1.4m0.1 0h2.4m0.1 0h1.4m2.1 0h2.4m5.5 0h1.9m2.6 0h1.4m2.1 0h2.4m2.6 0h1.9m1 0h1.4m0.1 0h1.4m4.1 0h1.4m2.1 0h3.4m1.6 0h1.4m4 0h2.9m0.6 0h1.4m4.1 0h1.4m0.6 0h1.4m0.1 0h1.4m9.5 0h2.9m0.1 0h1.4m1.6 0h1.4m5.5 0h1.9m1.1 0h1.4m1.6 0h2.4m1.1 0h1.9m4.6 0h1.4m0.1 0h2.4m5 0h1.4m0.1 0h2.9m0.6 0h2.4m2.1 0h2.9m2.1 0h1.4m1 0h1.4m0.1 0h3.9m1.6 0h1.4m0.1 0h1.4m0.1 0h4.4m1.6 0h1.9m0.5 0h2.4m0.6 0h1.9m2.6 0h1.4m0.1 0h1.4m0.6 0h1.4m1.6 0h1.4m1.1 0h4.8m0.6 0h2.4m1.6 0h1.4m0.6 0h1.4m4.6 0h1.4m0.6 0h1.9m0.6 0h2.8m0.1 0h1.9m2.1 0h3.9m1.1 0h1.4m0.1 0h4.4m0.6 0h2.4m1 0h1.4m1.1 0h1.4m3.1 0h1.4m0.1 0h3.9m0.6 0h2.4m0.6 0h2.9m0.1 0h1.4m1 0h3.4m0.1 0h1.4m0.1 0h2.4m0.1 0h5.9m2.1 0h1.4m0.5 0h3.4m0.6 0h4.9m0.1 0h4.9m1.6 0h1.4m1.6 0h1.4m1.5 0h2.4m0.1 0h1.4m1.1 0h1.4m0.1 0h1.4m1.1 0h1.9m0.1 0h2.9m0.1 0h3.9m1 0h1.4m0.1 0h1.4m1.1 0h1.9m4.1 0h4.4m0.1 0h3.9m3.5 0h1.4m3.6 0h1.9m2.1 0h1.4m2.1 0h1.4m5 0h2.4m6.6 0h1.4m0.1 0h1.4m0.6 0h2.4m0.6 0h1.4m1.6 0h1.4m0.5 0h1.4m2.1 0h1.4m1.6 0h1.4m4.1 0h1.9m2.6 0h2.8m0.1 0h1.4m1.1 0h1.4m1.6 0h1.4m2.1 0h1.4m0.1 0h1.4m0.6 0h1.4m0.1 0h1.4m0.6 0h3.4m2.5 0h3.4m4.6 0h1.4m0.6 0h1.4m1.6 0h2.9m4 0h1.4m3.1 0h1.4m0.6 0h1.9m3.6 0h1.9m1.1 0h1.4m3 0h1.4m0.1 0h1.4m1.1 0h2.9m2.6 0h1.4m1.6 0h1.4m1.6 0h2.4m3.5 0h1.4m1.6 0h1.4m0.6 0h1.4m0.1 0h3.4m1.1 0h1.4m0.6 0h4.8m1.1 0h1.4m1.1 0h2.4m0.1 0h1.4m3.1 0h1.4m3.1 0h1.4"/>
<path d="M79.4 316.78h1.9m2.1 0h6.9m2.1 0h2.9m1 0h1.9m1.1 0h2.4m1.6 0h1.9m2.1 0h1.4m0.6 0h1.4m1.6 0h1.9m2 0h4.4m0.6 0h3.9m1.1 0h1.4m1.1 0h1.4m1.6 0h3.4m1 0h1.9m1.1 0h1.4m0.1 0h2.4m1.6 0h1.4m1.6 0h1.4m5.6 0h1.4m1.5 0h1.9m1.1 0h2.9m1.6 0h1.4m0.1 0h1.9m0.1 0h2.4m0.6 0h1.9m3.5 0h1.4m0.6 0h2.4m0.1 0h1.4m0.1 0h2.9m2.6 0h8.3m0.6 0h1.4m0.6 0h1.9m1.6 0h1.4m0.1 0h1.4m2.6 0h1.9m1.1 0h1.9m0.1 0h2.8m0.6 0h1.4m4.6 0h2.4m0.6 0h2.9m1.6 0h9.3m0.6 0h3.9m0.6 0h2.4m0.1 0h1.4m0.1 0h4.9m2 0h4.4m1.6 0h4.9m0.1 0h3.4m0.1 0h1.9m0.1 0h4.8m0.6 0h3.4m0.1 0h3.9m0.1 0h5.4m0.1 0h3.4m0.5 0h4.9m0.1 0h1.4m0.1 0h2.9m0.6 0h4.9m0.1 0h3.9m0.1 0h3.8m0.1 0h2.9m2.1 0h1.9m0.6 0h5.9m0.1 0h4.4m1.5 0h4.9m0.6 0h1.4m0.1 0h2.4m0.6 0h2.4m0.1 0h2.4m0.1 0h13.8m1.1 0h1.4m0.1 0h1.4m0.1 0h2.9m1.5 0h2.9m1.1 0h2.9m0.1 0h1.4m2.1 0h1.4m0.1 0h1.9m1.6 0h7.3m1.1 0h1.4m0.1 0h2.4m0.6 0h1.9m0.6 0h1.9m0.1 0h2.4m0.6 0h3.4m0.1 0h2.3m0.6 0h1.4m2.1 0h1.4m0.6 0h1.4m4.6 0h1.4m1.6 0h1.4m3 0h1.9m1.6 0h1.4m2.6 0h2.9m1.6 0h2.4m2.6 0h5.3m0.1 0h3.4m0.1 0h2.4m0.1 0h2.9m0.1 0h2.4m0.1 0h1.9m1.1 0h1.4m3 0h3.4m0.1 0h1.9m2.1 0h1.4m1.1 0h3.4m2.1 0h3.8m1.6 0h1.9m1.1 0h2.9m0.1 0h1.4m5.1 0h2.9m2.5 0h1.9m1.1 0h1.4m3.6 0h1.4m4.1 0h1.4m7 0h1.4m1.1 0h2.9m0.1 0h1.4m0.1 0h1.4m0.6 0h1.4m0.1 0h1.4m0.1 0h4.4m5 0h3.4m0.6 0h1.9m0.6 0h3.9m2.6 0h1.9"/>
<path d="M78.9 319.52h1.4m2.1 0h1.4m2.6 0h1.4m1.1 0h1.4m1.1 0h2.4m1.1 0h1.4m1.5 0h1.4m0.1 0h2.4m0.6 0h1.4m3.1 0h1.4m1.1 0h1.4m0.1 0h1.4m0.6 0h1.9m7.5 0h1.4m0.1 0h2.4m0.1 0h1.4m0.1 0h2.4m0.1 0h4.4m0.5 0h3.9m3.1 0h1.4m0.6 0h1.9m1.1 0h1.4m0.1 0h1.4m0.6 0h2.4m1.6 0h1.4m2 0h2.4m0.1 0h1.4m2.1 0h1.9m1.1 0h1.4m1.1 0h1.4m2.6 0h6.3m0.1 0h1.4m1.6 0h1.4m0.1 0h1.9m1.1 0h1.9m1.1 0h2.4m3.5 0h2.9m1.1 0h1.4m1.1 0h1.4m0.1 0h1.4m0.1 0h1.4m0.1 0h2.4m1.1 0h1.4m3 0h1.9m1.6 0h1.9m0.6 0h1.4m0.6 0h3.4m0.6 0h1.9m3.1 0h1.4m0.1 0h5.3m0.1 0h1.9m0.6 0h1.4m1.1 0h1.9m1.1 0h1.9m1.6 0h1.4m0.1 0h2.4m2 0h1.9m0.1 0h2.4m0.6 0h7.4m0.6 0h1.4m0.1 0h1.9m0.1 0h1.4m0.5 0h1.4m0.1 0h7.9m0.6 0h1.4m1.6 0h1.9m1.6 0h1.4m0.1 0h1.9m3.5 0h6.9m0.6 0h5.9m1.1 0h1.4m0.5 0h2.9m1.1 0h1.4m0.6 0h5.4m1.1 0h2.4m0.6 0h2.9m1.5 0h5.4m0.1 0h5.4m0.1 0h1.4m1.6 0h2.4m0.1 0h4.8m0.6 0h9.4m0.6 0h1.4m1.6 0h1.9m2.1 0h2.8m0.1 0h1.4m1.1 0h1.9m1.6 0h2.4m2.1 0h2.4m0.1 0h1.9m0.6 0h4.8m1.1 0h1.4m0.1 0h2.9m0.1 0h1.4m0.6 0h2.9m0.6 0h1.9m2.6 0h3.3m1.1 0h1.4m0.1 0h1.4m0.1 0h1.4m0.1 0h1.9m0.6 0h1.4m2.6 0h1.4m0.1 0h2.9m4 0h1.4m0.6 0h1.4m1.1 0h3.4m1.1 0h1.9m0.1 0h2.4m1.1 0h1.9m1 0h1.9m1.6 0h1.4m0.6 0h3.9m0.1 0h3.4m0.6 0h1.9m0.6 0h1.4m1.6 0h2.8m0.1 0h1.4m0.1 0h3.4m2.1 0h3.4m0.6 0h1.4m0.6 0h1.4m0.1 0h2.4m1 0h2.4m4.6 0h1.4m0.1 0h1.4m0.6 0h1.4m0.6 0h2.4m0.6 0h1.9m2.6 0h3.3m0.6 0h3.4m1.6 0h1.9m0.1 0h1.4m1.1 0h3.4m0.1 0h1.4m0.1 0h1.4m1 0h1.4m2.1 0h2.4m0.6 0h2.9m0.6 0h2.9m0.1 0h1.4m0.6 0h1.9m0.1 0h2.4m0.5 0h3.9m0.6 0h1.4m1.6 0h2.4m1.6 0h3.4m0.6 0h1.9"/>
<path d="M81.4 322.26h1.9m3.1 0h5.4m1.1 0h1.4m1.5 0h5.9m0.1 0h1.4m0.6 0h2.4m0.1 0h1.4m4.6 0h1.4m2 0h1.4m2.1 0h2.4m2.1 0h5.4m0.1 0h1.9m1.6 0h1.4m0.6 0h4.8m3.1 0h5.4m1.1 0h1.4m0.1 0h1.4m0.1 0h1.9m1 0h1.4m0.6 0h1.4m0.1 0h1.4m0.6 0h1.4m1.6 0h3.4m0.6 0h1.4m0.6 0h2.9m0.6 0h1.9m0.5 0h1.4m0.1 0h1.9m1.1 0h4.9m3.1 0h3.4m1.1 0h4.3m0.1 0h3.4m0.6 0h2.4m0.1 0h1.4m1.1 0h2.4m0.1 0h1.9m0.1 0h2.4m0.6 0h3.8m0.6 0h1.4m1.6 0h1.9m1.6 0h2.4m0.1 0h1.4m1.1 0h1.9m0.1 0h2.4m2.5 0h3.4m0.1 0h1.4m2.1 0h1.9m0.1 0h10.8m0.1 0h1.9m0.6 0h1.4m0.1 0h8.9m1.1 0h2.4m0.1 0h1.9m0.5 0h2.9m3.6 0h1.4m0.1 0h1.9m1.1 0h1.4m0.6 0h3.9m0.1 0h1.4m0.6 0h8.3m0.6 0h1.4m0.1 0h4.9m0.1 0h1.9m0.1 0h3.4m1 0h1.4m0.1 0h7.9m0.1 0h4.4m0.1 0h1.4m0.1 0h2.4m0.1 0h8.3m0.1 0h3.4m0.1 0h11.3m1.1 0h1.4m0.1 0h4.4m0.1 0h1.9m2.6 0h3.9m0.6 0h4.8m0.6 0h3.4m0.1 0h2.4m0.1 0h2.4m1.6 0h7.3m0.6 0h1.4m0.1 0h2.9m0.6 0h2.4m1.1 0h4.4m0.6 0h6.8m1.1 0h1.9m0.1 0h1.4m0.1 0h2.4m1.1 0h1.4m0.1 0h1.4m4.1 0h4.8m1.1 0h2.4m0.6 0h6.9m0.6 0h1.4m1.1 0h1.4m1.5 0h1.4m0.1 0h1.4m2.1 0h2.4m1.1 0h1.4m5.1 0h2.4m0.6 0h1.9m0.1 0h1.4m1 0h2.9m0.1 0h1.4m4.6 0h3.9m0.1 0h2.9m0.1 0h2.8m0.6 0h1.4m0.6 0h1.4m1.1 0h1.9m2.6 0h3.4m0.6 0h2.9m0.1 0h4.3m0.6 0h1.4m0.1 0h3.4m0.6 0h2.4m0.1 0h1.9m0.1 0h1.4m1.1 0h2.9m0.1 0h1.4m1 0h1.4m2.1 0h1.4m0.6 0h2.9m0.1 0h2.9m0.6 0h3.4m1.6 0h1.4m0.1 0h1.9m1 0h2.9m1.1 0h2.4m0.6 0h1.4m1.1 0h5.4m1.6 0h1.4"/>
<path d="M78.4 325h2.4m1.1 0h3.9m1.1 0h1.4m5.6 0h1.4m1 0h1.4m4.6 0h2.4m0.1 0h1.4m3.1 0h2.4m0.6 0h1.4m8 0h2.4m5.1 0h2.4m5.5 0h1.4m0.1 0h1.4m0.6 0h2.4m0.6 0h1.4m0.1 0h1.4m3.1 0h2.4m0.6 0h2.9m2 0h1.4m1.1 0h1.4m4.1 0h1.4m0.1 0h2.4m0.6 0h1.4m1.6 0h3.8m1.1 0h1.4m1.6 0h1.4m2.1 0h1.4m2.6 0h1.4m8 0h1.4m1.1 0h3.4m0.6 0h1.4m10.5 0h3.4m4.1 0h1.4m0.6 0h1.4m0.6 0h1.4m1.1 0h1.4m0.6 0h1.4m0.6 0h2.8m1.1 0h2.9m1.1 0h1.4m1.6 0h1.4m0.6 0h2.4m4.1 0h1.9m3.5 0h2.4m5.6 0h1.9m0.1 0h1.9m1.1 0h2.4m3 0h1.4m0.1 0h1.4m0.1 0h2.4m2.6 0h2.9m2.6 0h4.8m0.6 0h4.9m0.6 0h1.4m0.6 0h1.4m2.1 0h2.9m1.6 0h2.4m0.5 0h1.4m2.6 0h2.9m0.6 0h1.4m0.6 0h1.9m0.1 0h2.9m0.6 0h1.4m0.1 0h4.3m6.1 0h1.4m1.1 0h1.9m0.1 0h1.9m4.1 0h1.4m3 0h1.4m10.1 0h2.4m9 0h1.4m3.6 0h1.4m0.1 0h1.4m2.6 0h1.4m0.6 0h1.4m1.5 0h1.9m5.6 0h1.4m6.6 0h2.4m1 0h1.4m0.6 0h3.4m0.1 0h1.4m7.1 0h2.4m1.1 0h1.9m2 0h1.4m1.6 0h1.4m1.1 0h1.4m1.1 0h1.4m1.6 0h1.4m4.6 0h1.9m2.5 0h1.9m4.6 0h1.4m1.1 0h1.4m10 0h1.4m0.1 0h1.4m3.1 0h2.4m0.1 0h1.4m2.6 0h1.4m0.1 0h1.4m6.5 0h1.4m1.1 0h1.4m3.6 0h1.4m2.6 0h1.9m2 0h1.9m1.1 0h1.9m7.1 0h1.9m0.1 0h1.4m4.5 0h2.9m1.1 0h1.4m0.1 0h1.4m1.6 0h1.4m2.6 0h1.4m1.1 0h1.4m0.1 0h2.4m0.5 0h2.4m3.1 0h2.4m0.1 0h1.4m3.1 0h1.4m4.1 0h1.4"/>
<path d="M78.4 327.74h1.4m6.6 0h1.4m0.1 0h1.4m1.6 0h1.4m1.1 0h3.8m0.6 0h2.4m1.1 0h1.4m0.1 0h1.4m0.1 0h1.9m0.1 0h2.9m1.6 0h1.4m0.6 0h1.4m0.6 0h1.4m3.5 0h1.4m1.1 0h1.4m0.6 0h1.9m0.1 0h3.4m0.1 0h2.4m1.1 0h1.4m1 0h2.4m0.6 0h2.9m5.1 0h1.4m0.6 0h1.9m2.1 0h1.4m2 0h1.9m1.1 0h1.4m5.1 0h2.4m0.1 0h1.4m0.6 0h1.4m1.1 0h1.4m1 0h2.4m1.1 0h2.4m0.1 0h2.4m1.1 0h1.4m0.1 0h1.4m0.1 0h3.4m0.1 0h4.4m0.5 0h2.4m1.6 0h2.4m2.1 0h2.4m1.6 0h1.4m0.6 0h1.4m1.1 0h1.4m1.5 0h1.4m0.6 0h1.9m1.6 0h3.4m0.1 0h1.4m0.6 0h3.4m2.6 0h2.4m2 0h1.9m0.6 0h1.4m5.1 0h1.4m0.1 0h2.9m7.5 0h1.4m0.6 0h2.4m2.6 0h1.9m0.1 0h1.4m1.1 0h2.9m0.1 0h4.3m0.1 0h1.9m3.6 0h3.4m1.1 0h1.9m0.1 0h2.4m0.6 0h1.9m3.5 0h1.4m0.1 0h1.4m3.6 0h2.9m1.6 0h1.4m0.1 0h2.9m0.6 0h2.8m0.1 0h4.9m1.1 0h1.4m0.1 0h1.9m0.6 0h1.9m0.1 0h5.4m0.5 0h2.4m1.1 0h1.4m1.6 0h2.9m0.6 0h1.4m0.1 0h1.9m0.1 0h4.4m0.6 0h11.3m2.6 0h1.9m0.1 0h1.4m1.6 0h3.8m1.6 0h2.4m0.1 0h4.4m0.1 0h1.4m0.1 0h1.4m1.1 0h2.4m2.6 0h2.3m0.1 0h1.9m2.1 0h1.4m0.1 0h2.9m2.6 0h1.9m3.1 0h1.4m3.5 0h1.4m2.6 0h1.4m4.6 0h1.4m0.1 0h2.9m0.6 0h1.9m1 0h1.4m0.6 0h1.9m0.6 0h1.4m4.1 0h1.4m3.1 0h2.4m0.1 0h1.4m0.1 0h1.4m0.5 0h3.9m1.6 0h1.9m2.6 0h2.4m2.1 0h1.4m5.5 0h2.4m2.1 0h2.9m0.1 0h1.4m1.6 0h1.4m0.1 0h1.4m0.6 0h1.9m2.5 0h3.4m1.1 0h3.9m2.6 0h2.9m0.1 0h3.9m1.5 0h1.4m0.6 0h1.4m0.6 0h1.4m1.6 0h3.4m0.6 0h1.4m1.6 0h1.4m5.5 0h1.4m0.6 0h2.4m2.6 0h1.9m0.6 0h1.4m5.1 0h1.4m2.5 0h1.4m0.1 0h4.4m1.1 0h2.4m0.1 0h1.4m2.1 0h1.4m0.6 0h2.9"/>
<path d="M78.4 330.47h1.4m1.6 0h1.4m1.1 0h1.4m0.6 0h2.4m1.6 0h1.9m1.6 0h1.4m1 0h1.4m0.1 0h1.4m1.6 0h2.4m3.6 0h4.4m1.1 0h1.4m0.6 0h1.4m1 0h1.9m2.6 0h1.4m0.1 0h2.4m5.6 0h1.4m0.1 0h1.4m2.5 0h1.9m0.6 0h2.4m1.1 0h1.9m0.1 0h1.4m5.6 0h1.9m19 0h1.4m0.6 0h2.4m2 0h3.4m0.1 0h1.4m2.6 0h1.4m0.1 0h1.9m5.6 0h2.3m0.6 0h1.4m3.6 0h1.4m0.6 0h2.4m1.1 0h1.9m10.5 0h1.4m0.6 0h1.4m1.6 0h1.4m0.1 0h3.4m0.1 0h1.4m5.5 0h2.4m0.6 0h1.4m0.6 0h1.4m4.6 0h1.4m0.6 0h1.4m2.1 0h1.4m5 0h3.9m3.1 0h3.4m0.6 0h2.4m1.1 0h1.4m2 0h2.4m1.6 0h2.4m0.6 0h2.4m1.6 0h1.4m1.6 0h1.4m0.1 0h3.8m1.1 0h1.4m5.1 0h1.4m0.6 0h1.4m0.6 0h1.4m2.6 0h3.8m4.6 0h2.9m1.1 0h2.4m4.6 0h4.3m0.6 0h4.4m1.6 0h5.9m0.6 0h1.4m0.1 0h1.4m0.1 0h4.3m3.1 0h1.4m5.6 0h1.4m0.6 0h2.4m0.6 0h1.4m0.1 0h2.3m0.1 0h1.4m0.6 0h1.4m5.1 0h1.4m0.1 0h3.4m2.6 0h1.4m0.1 0h2.3m2.1 0h2.4m0.6 0h1.4m2.1 0h1.4m1.1 0h3.9m2.1 0h1.4m6 0h2.4m0.6 0h2.4m5.6 0h1.4m1.5 0h3.4m2.1 0h1.4m0.1 0h2.4m3.6 0h2.4m0.1 0h1.4m0.6 0h1.4m1 0h1.4m0.1 0h1.9m1.6 0h2.4m0.1 0h1.4m5.6 0h1.4m0.6 0h1.9m0.1 0h2.4m2.5 0h1.4m0.1 0h2.9m0.1 0h1.4m2.1 0h1.4m1.6 0h2.4m1.1 0h1.4m2.5 0h1.4m1.1 0h1.4m1.6 0h2.9m0.1 0h1.4m0.1 0h1.4m0.6 0h1.4m0.6 0h1.4m4 0h4.4m1.6 0h1.4m0.1 0h4.4m1.1 0h2.4m4 0h1.4m6.1 0h1.4m0.1 0h1.4m1.1 0h1.9m3.1 0h1.4m2.5 0h2.4m0.1 0h1.4m5.6 0h1.4m1.1 0h1.4"/>
<path d="M79.4 333.21h3.9m0.6 0h4.4m0.6 0h1.9m3.1 0h1.9m9 0h1.9m1.6 0h4.4m0.6 0h1.4m1 0h1.9m0.6 0h1.4m1.1 0h4.9m2.6 0h4.4m0.1 0h1.4m1 0h3.4m3.1 0h2.4m0.1 0h2.4m1.1 0h1.4m0.1 0h2.9m0.1 0h1.4m2.5 0h1.4m0.6 0h1.4m0.1 0h1.4m0.1 0h1.4m0.6 0h2.4m1.6 0h1.4m0.6 0h1.9m0.1 0h3.4m0.1 0h1.4m1 0h2.4m4.1 0h1.4m0.6 0h1.4m0.1 0h2.4m0.6 0h1.4m0.1 0h1.9m2 0h2.4m1.1 0h1.9m4.6 0h5.4m0.1 0h1.9m2.5 0h2.4m1.1 0h3.9m1.1 0h1.9m1.6 0h1.4m1.6 0h2.4m0.1 0h1.9m1 0h2.4m0.6 0h1.4m0.6 0h1.9m1.6 0h1.4m0.6 0h1.9m1.1 0h2.4m0.6 0h1.4m0.1 0h5.3m0.1 0h1.4m0.1 0h1.4m0.1 0h1.9m1.1 0h1.9m0.1 0h2.4m0.6 0h2.4m0.1 0h5.8m0.1 0h1.9m2.6 0h2.9m0.6 0h3.4m0.1 0h3.4m0.6 0h1.8m1.1 0h1.9m1.6 0h2.4m0.1 0h4.4m1.1 0h2.9m0.1 0h4.8m0.1 0h5.4m0.1 0h1.4m2.1 0h2.9m0.1 0h2.4m0.1 0h2.9m0.1 0h1.4m0.5 0h1.9m0.1 0h4.9m0.1 0h1.9m0.6 0h2.9m0.1 0h2.9m3.1 0h2.3m0.6 0h2.4m2.1 0h1.4m0.1 0h7.9m0.1 0h5.3m1.1 0h3.4m0.6 0h1.4m0.6 0h1.4m2.1 0h1.4m1.1 0h2.9m1.1 0h1.8m0.1 0h1.9m2.1 0h8.4m0.1 0h3.9m0.1 0h1.4m0.5 0h1.4m1.1 0h1.9m0.6 0h1.4m0.6 0h1.4m0.1 0h2.4m0.1 0h2.4m4.1 0h4.3m0.1 0h2.4m1.1 0h3.9m0.1 0h1.4m1.1 0h1.4m0.6 0h1.4m1.1 0h1.4m0.6 0h1.4m4 0h1.4m1.6 0h2.9m1.1 0h1.4m0.6 0h1.4m3.1 0h1.4m0.1 0h2.4m2.5 0h1.4m1.1 0h1.4m0.1 0h1.4m2.1 0h2.9m0.1 0h2.4m2.6 0h2.8m2.6 0h4.4m0.6 0h1.4m0.1 0h1.9m1.1 0h1.4m0.1 0h1.4m0.1 0h3.4m3 0h4.4m0.6 0h1.9m1.1 0h4.4m3.1 0h1.4m1.5 0h2.4m1.6 0h2.4m0.6 0h1.9m2.6 0h3.9m0.1 0h2.9m1.5 0h1.9m0.1 0h2.4m1.1 0h5.4m1.1 0h1.4"/>
<path d="M84.4 335.95h1.4m2.6 0h1.4m0.6 0h1.4m0.1 0h2.4m3.5 0h1.4m1.1 0h1.4m0.1 0h1.4m0.1 0h1.4m1.6 0h1.4m0.6 0h1.4m9 0h1.4m5.1 0h1.9m1.1 0h1.4m9 0h1.9m0.1 0h1.4m2.6 0h1.9m2.1 0h2.4m0.6 0h1.4m5.5 0h1.4m0.6 0h1.4m6.6 0h1.4m8 0h1.9m0.6 0h1.4m1.1 0h1.9m1.1 0h1.4m0.6 0h1.4m2.1 0h1.4m1.1 0h2.3m2.6 0h1.4m0.6 0h1.4m4.1 0h1.4m2.1 0h1.9m6.5 0h1.4m6.6 0h1.4m3.1 0h1.4m0.1 0h1.4m0.1 0h1.4m3.5 0h1.4m2.1 0h1.4m3.1 0h1.4m0.6 0h1.4m4.5 0h2.4m0.6 0h1.9m0.1 0h2.4m3.1 0h1.4m1.1 0h1.4m0.1 0h1.9m0.1 0h1.4m26.9 0h1.4m5.6 0h2.9m0.1 0h1.4m2.6 0h1.4m1.5 0h2.4m3.1 0h2.4m7.6 0h1.4m1.5 0h1.4m3.1 0h1.4m2.6 0h1.4m3.6 0h1.4m2.1 0h1.4m0.6 0h1.9m3.5 0h3.9m0.1 0h1.4m0.1 0h1.4m0.6 0h1.4m5.6 0h1.4m0.5 0h1.4m1.6 0h2.9m0.6 0h1.9m3.1 0h2.4m5 0h1.4m2.6 0h1.4m0.6 0h1.4m3.6 0h2.9m6 0h1.4m6.6 0h1.4m0.6 0h1.4m0.6 0h1.4m3.6 0h1.4m0.1 0h1.4m10.5 0h1.4m0.1 0h1.4m5.1 0h1.4m3 0h1.9m11.1 0h1.4m3.5 0h1.4m7.6 0h1.4m3.1 0h1.9m0.6 0h1.4m8 0h1.4m10.1 0h1.4m3 0h2.4m3.6 0h1.4m9.1 0h1.8m2.1 0h1.4m0.6 0h1.9m7.6 0h1.4m1.1 0h1.4m2.5 0h1.4m1.1 0h1.4m0.1 0h1.4m6.6 0h2.4m2.1 0h1.4"/>
<path d="M79.4 338.69h1.4m0.1 0h1.9m1.6 0h3.4m0.1 0h3.4m1.6 0h2.4m3.5 0h1.4m2.1 0h1.4m0.1 0h4.4m0.1 0h1.4m1.1 0h1.4m5.5 0h1.4m0.1 0h2.4m4.1 0h1.4m0.1 0h1.9m3.1 0h2.4m0.5 0h1.4m2.1 0h2.4m0.6 0h1.4m0.6 0h2.4m0.1 0h2.4m0.1 0h2.9m2.6 0h1.4m0.5 0h1.4m2.6 0h1.4m2.6 0h1.4m0.1 0h2.4m2.1 0h1.4m0.6 0h2.9m0.5 0h1.4m0.6 0h1.4m0.6 0h1.4m8.1 0h1.4m4.5 0h1.9m1.6 0h1.9m1.6 0h2.4m4.6 0h1.4m3.6 0h1.4m8.5 0h2.9m2.1 0h1.4m5 0h1.9m0.1 0h1.4m1.1 0h1.4m0.1 0h1.4m4.6 0h1.4m2.1 0h1.4m0.1 0h1.4m3.5 0h1.4m1.1 0h1.4m0.1 0h3.9m2.1 0h1.4m1.6 0h3.4m3.5 0h1.4m9.1 0h1.4m2.6 0h1.4m6 0h2.4m3.1 0h1.9m0.6 0h1.4m0.6 0h1.4m1.6 0h2.9m3.5 0h1.9m1.1 0h1.4m0.1 0h1.4m0.1 0h1.4m2.6 0h1.9m0.1 0h1.9m2.5 0h3.4m1.6 0h2.4m4.6 0h1.9m0.6 0h4.4m1.5 0h2.4m2.1 0h2.9m0.1 0h1.9m0.6 0h1.4m2.6 0h2.9m0.6 0h1.4m4.5 0h1.4m0.6 0h1.4m0.6 0h2.9m8.1 0h2.8m1.1 0h2.4m0.6 0h1.4m1.1 0h1.4m3.1 0h1.4m0.6 0h5.8m0.6 0h2.9m1.6 0h1.4m1.1 0h1.4m0.6 0h2.4m1.6 0h1.4m1.1 0h3.9m4.5 0h1.4m0.1 0h1.9m1.1 0h2.4m0.1 0h3.4m2.1 0h1.4m0.5 0h1.4m2.1 0h2.4m2.1 0h2.4m0.1 0h1.9m0.1 0h3.4m5 0h1.4m1.1 0h3.9m1.6 0h1.4m7.1 0h1.4m1 0h1.4m0.1 0h1.4m0.1 0h1.4m9.6 0h1.9m1.1 0h1.4m3 0h2.4m0.6 0h2.4m2.1 0h1.4m1.1 0h1.4m1.6 0h1.4m2.1 0h1.9m0.5 0h1.4m1.6 0h1.4m2.1 0h1.4m0.1 0h1.4m3.6 0h2.4m0.1 0h2.4m0.1 0h1.4m0.5 0h1.4m0.6 0h1.4m0.1 0h1.4m0.6 0h1.4m0.1 0h2.4m4.6 0h1.4"/>
<path d="M80.9 341.43h1.9m0.1 0h1.4m2.6 0h1.9m0.6 0h1.9m0.1 0h2.4m0.1 0h2.8m0.6 0h1.4m0.6 0h4.9m4.1 0h1.4m1.6 0h1.9m1.1 0h1.4m1 0h1.4m0.6 0h4.4m0.6 0h1.4m1.6 0h2.9m1.1 0h2.4m0.1 0h3.8m2.1 0h1.9m0.1 0h1.9m2.6 0h1.4m2.6 0h1.4m3.1 0h2.3m1.6 0h1.4m1.6 0h2.4m0.1 0h1.4m2.1 0h1.4m1.1 0h1.4m1.6 0h1.4m2 0h1.4m1.1 0h1.4m4.6 0h1.4m1.1 0h1.4m2.1 0h1.4m1.6 0h1.4m1 0h1.4m0.1 0h2.4m0.6 0h1.4m1.1 0h1.4m0.1 0h3.9m4.1 0h1.4m1 0h2.4m0.6 0h1.4m2.6 0h1.4m2.1 0h8.9m4 0h4.9m5.1 0h2.9m0.6 0h4.8m0.6 0h1.4m0.6 0h2.4m0.6 0h2.4m1.6 0h1.4m3.1 0h1.9m0.1 0h3.8m0.1 0h2.4m1.1 0h1.9m2.1 0h1.4m1.1 0h1.4m0.1 0h1.4m1.1 0h1.4m5 0h5.9m0.6 0h1.9m0.1 0h1.4m0.1 0h2.9m0.1 0h3.4m0.1 0h3.8m0.6 0h4.9m1.1 0h1.4m1.1 0h1.4m1.6 0h1.4m1.6 0h3.8m0.1 0h1.4m1.6 0h1.4m6.1 0h1.4m1.1 0h2.4m0.6 0h1.4m2.5 0h1.9m0.1 0h2.4m0.6 0h3.4m1.1 0h1.4m4.1 0h1.9m4 0h2.4m1.1 0h1.4m0.1 0h1.4m0.6 0h1.4m1.1 0h1.4m0.1 0h2.4m0.6 0h1.4m0.1 0h1.9m3 0h3.4m1.1 0h2.4m1.1 0h3.4m0.6 0h1.4m0.1 0h1.4m4.5 0h1.4m0.1 0h1.4m0.1 0h1.4m1.1 0h1.4m2.1 0h1.4m4.1 0h1.4m0.1 0h2.8m3.1 0h1.4m1.1 0h2.9m1.1 0h1.4m2.1 0h1.9m1.6 0h2.4m3.5 0h1.4m3.1 0h3.4m3.1 0h5.4m0.5 0h3.4m1.1 0h1.4m2.1 0h1.4m0.6 0h1.4m2.1 0h1.4m0.1 0h1.4m7.5 0h1.4m1.1 0h1.4m1.6 0h1.9m3.6 0h1.4m1.6 0h1.4m2 0h3.4m3.1 0h1.4m1.6 0h4.9m0.1 0h1.4m0.6 0h3.3m1.1 0h2.9m4.1 0h2.4m3.6 0h1.4m11 0h1.4m0.1 0h2.4m0.1 0h2.4m0.1 0h1.4m0.6 0h2.4"/>
<path d="M78.4 344.17h1.4m1.1 0h1.9m3.1 0h1.9m0.6 0h1.9m0.1 0h2.4m0.1 0h2.4m1 0h1.4m0.1 0h3.4m0.1 0h1.4m0.6 0h1.4m0.6 0h2.4m0.6 0h1.9m0.1 0h2.9m5.5 0h1.9m1.1 0h1.4m1.1 0h1.4m2.6 0h1.4m4.6 0h1.4m3.5 0h2.4m2.6 0h1.9m0.1 0h2.4m0.1 0h1.4m0.6 0h1.9m1.1 0h1.4m2 0h1.4m1.1 0h2.9m0.1 0h1.4m0.6 0h1.9m1.1 0h2.9m4.1 0h1.4m0.5 0h1.4m3.1 0h2.4m2.1 0h1.9m1.6 0h2.4m0.6 0h1.4m4 0h2.9m1.1 0h3.4m0.1 0h1.4m1.6 0h1.4m2.1 0h1.9m3.5 0h1.4m0.1 0h1.4m0.1 0h1.4m0.1 0h4.4m0.6 0h1.9m0.1 0h1.4m0.1 0h2.4m0.1 0h1.4m1 0h1.4m0.1 0h3.9m3.1 0h10.9m2.5 0h1.9m2.6 0h1.4m1.6 0h3.4m2.1 0h1.4m0.6 0h2.4m0.1 0h3.3m0.1 0h1.4m0.6 0h2.4m1.1 0h1.4m1.6 0h1.9m0.1 0h1.4m1.1 0h2.9m1 0h1.9m0.6 0h1.9m1.6 0h3.4m1.1 0h2.4m0.1 0h3.4m1.1 0h1.9m1 0h1.4m0.6 0h1.4m0.1 0h1.4m0.1 0h2.9m2.6 0h1.4m0.6 0h1.9m0.6 0h6.3m0.1 0h3.9m0.6 0h1.4m2.1 0h2.9m1.6 0h5.9m0.5 0h2.9m0.1 0h3.4m0.1 0h3.4m0.1 0h1.4m0.6 0h1.4m2.6 0h1.4m0.1 0h1.4m1 0h1.9m2.1 0h1.4m0.6 0h1.4m0.6 0h2.9m1.6 0h1.4m2.6 0h4.8m1.6 0h3.9m4.1 0h1.4m0.6 0h1.4m1.6 0h2.4m1 0h1.4m1.6 0h2.4m0.1 0h2.9m1.1 0h2.9m2.6 0h1.4m0.1 0h3.4m1 0h2.9m1.1 0h3.4m2.1 0h3.4m0.1 0h1.4m0.6 0h1.9m0.6 0h2.3m0.1 0h1.4m1.1 0h1.4m0.1 0h2.4m3.6 0h1.4m2.6 0h1.9m0.6 0h1.4m1 0h1.4m3.6 0h4.4m4.1 0h1.4m1.6 0h3.4m0.5 0h1.4m1.1 0h2.9m2.1 0h1.9m0.1 0h1.4m0.1 0h1.4m0.1 0h1.9m0.6 0h1.9m1.1 0h1.4m4 0h1.4m4.6 0h1.4m0.6 0h2.4m2.6 0h1.4m0.6 0h1.4m2 0h1.4m0.1 0h1.4m1.6 0h1.4m2.6 0h1.4m3.6 0h1.4m2.1 0h1.4m2 0h1.4m0.1 0h2.9m6.6 0h2.4m0.1 0h3.4"/>
<path d="M79.9 346.91h1.4m1.6 0h4.9m0.1 0h1.4m2.6 0h1.4m1.6 0h2.3m1.6 0h1.4m1.6 0h1.4m1.1 0h1.4m1.1 0h1.9m2.6 0h1.9m3.5 0h2.4m2.1 0h1.4m0.6 0h2.9m0.6 0h1.4m0.1 0h2.9m2.1 0h1.9m2.5 0h2.4m0.1 0h2.9m1.1 0h2.4m1.6 0h1.4m1.1 0h3.4m0.1 0h1.4m3 0h1.4m2.6 0h1.9m3.1 0h1.4m2.6 0h3.4m3.5 0h1.4m0.1 0h1.4m1.6 0h1.4m4.6 0h1.4m4.1 0h2.3m1.6 0h1.4m0.1 0h1.4m4.1 0h1.9m2.6 0h3.4m2 0h2.4m1.6 0h1.4m1.1 0h1.4m0.1 0h1.4m1.1 0h1.4m1.1 0h1.4m0.1 0h1.4m1.1 0h3.8m2.6 0h1.4m2.1 0h1.4m3.1 0h1.4m0.1 0h2.4m0.6 0h1.4m1.1 0h4.3m1.6 0h1.4m0.1 0h2.9m0.1 0h1.4m3.1 0h1.4m1.6 0h1.4m0.1 0h1.4m2.5 0h1.4m0.6 0h1.9m3.6 0h2.9m2.1 0h1.4m1.1 0h1.4m0.6 0h1.4m5 0h1.9m2.1 0h1.4m1.1 0h2.9m4.1 0h3.3m1.6 0h1.4m1.1 0h1.9m3.6 0h4.9m3.5 0h3.9m1.6 0h1.9m1.1 0h1.4m0.1 0h4.9m0.6 0h1.4m0.1 0h1.9m0.1 0h2.8m2.1 0h2.9m1.1 0h1.4m1.1 0h1.4m2.6 0h1.4m1.6 0h2.8m2.1 0h1.9m4.1 0h1.4m0.1 0h2.4m1.6 0h1.4m0.6 0h2.4m1 0h1.4m2.6 0h1.4m3.6 0h1.4m6.1 0h1.4m10 0h1.4m11 0h1.4m2.1 0h1.4m0.1 0h1.4m2.1 0h1.4m1.6 0h1.4m7 0h2.4m1.1 0h1.4m0.1 0h1.4m8.6 0h1.4m2.6 0h2.3m0.1 0h1.4m1.1 0h1.9m1.1 0h2.4m0.1 0h1.4m0.1 0h2.4m5.5 0h1.4m0.6 0h1.4m1.1 0h1.4m4.1 0h1.9m0.1 0h1.4m6.1 0h1.4m0.5 0h2.4m0.6 0h1.4m2.6 0h1.4m2.6 0h1.4m4.1 0h1.4m0.5 0h1.9m3.6 0h1.4m1.1 0h1.4m0.1 0h1.4m0.1 0h1.4m0.1 0h1.4m1.6 0h2.4m2.1 0h1.8m1.6 0h1.4m0.6 0h1.9m0.1 0h1.4m2.1 0h1.4"/>
<path d="M78.9 349.65h1.4m0.6 0h2.4m1.1 0h1.4m5.1 0h1.9m0.1 0h1.4m3 0h1.4m4.6 0h2.9m0.6 0h3.4m3.6 0h1.9m4.5 0h1.9m1.1 0h1.4m0.1 0h1.9m2.1 0h1.9m1.1 0h1.4m5 0h1.4m1.6 0h1.4m1.1 0h1.4m0.6 0h2.9m0.6 0h1.4m0.1 0h7.3m0.6 0h1.9m2.6 0h1.4m1.6 0h1.9m3.6 0h1.4m2 0h2.4m0.1 0h1.4m4.1 0h2.4m3.6 0h1.4m0.1 0h1.4m1.6 0h1.4m1 0h1.4m0.6 0h1.4m0.1 0h2.9m1.1 0h1.4m0.1 0h1.4m0.6 0h1.4m0.1 0h2.4m1.1 0h1.4m0.1 0h1.4m1.5 0h1.4m0.6 0h2.4m0.1 0h1.4m0.1 0h1.4m1.6 0h1.4m0.1 0h1.4m1.1 0h1.4m4.5 0h1.9m0.1 0h1.4m1.1 0h1.4m1.1 0h2.4m0.1 0h1.4m6.1 0h2.4m0.5 0h1.4m0.1 0h1.9m1.1 0h1.4m2.6 0h1.9m3.6 0h1.4m0.1 0h1.4m1.6 0h1.4m4.5 0h1.4m0.6 0h2.4m1.1 0h1.4m1.6 0h1.4m0.1 0h1.4m4 0h4.4m4.6 0h2.4m2.6 0h2.4m0.6 0h1.4m2 0h1.9m4.1 0h7.4m5.5 0h1.4m4.6 0h1.4m14.5 0h1.4m1.6 0h1.4m3.1 0h1.4m0.6 0h1.4m1.1 0h1.9m0.6 0h2.4m1 0h1.4m1.1 0h2.4m0.1 0h2.4m0.1 0h1.4m0.1 0h1.4m0.1 0h1.4m1.1 0h1.9m0.1 0h1.9m4 0h1.4m0.1 0h1.4m0.6 0h1.4m0.1 0h1.4m2.6 0h1.4m2.1 0h1.4m2.1 0h2.4m0.5 0h1.4m0.1 0h2.9m0.6 0h2.9m6.1 0h1.4m6 0h1.4m0.1 0h1.4m1.6 0h1.4m2.6 0h1.4m1.1 0h2.9m0.6 0h1.4m0.1 0h1.4m0.1 0h1.4m1 0h1.4m2.6 0h1.4m3.6 0h3.4m0.1 0h3.4m0.6 0h1.4m0.1 0h3.3m0.1 0h1.4m0.1 0h1.4m1.6 0h1.4m0.6 0h1.4m1.1 0h1.4m2.6 0h1.4m3 0h2.9m0.6 0h3.4m0.1 0h2.4m0.6 0h2.4m2.6 0h1.4m2.1 0h1.4m0.5 0h1.4m1.6 0h2.4m0.6 0h1.4m0.6 0h1.4m0.6 0h1.4m3.1 0h1.4m0.1 0h3.4m1.5 0h2.4m2.1 0h1.4m7.1 0h2.4m0.1 0h1.4m1.1 0h1.4m1 0h5.4m1.6 0h2.4m7.1 0h1.4"/>
<path d="M78.9 352.39h4.4m0.1 0h1.4m0.6 0h1.4m0.1 0h2.9m1.1 0h1.9m0.1 0h1.4m0.6 0h2.3m0.1 0h1.4m1.1 0h1.4m0.1 0h9.4m0.1 0h3.4m2.5 0h2.4m0.1 0h1.4m0.6 0h1.4m0.1 0h4.4m0.6 0h1.9m1.1 0h1.9m0.6 0h4.8m1.1 0h3.4m0.1 0h1.4m0.1 0h4.9m0.6 0h2.4m3 0h1.9m0.6 0h2.4m0.6 0h1.4m0.1 0h1.4m0.1 0h1.4m0.6 0h2.4m0.1 0h2.4m0.6 0h1.4m0.6 0h5.3m0.1 0h2.4m1.1 0h2.4m1.1 0h3.9m0.6 0h1.4m0.1 0h1.9m0.1 0h4.3m1.6 0h1.4m0.1 0h4.4m0.1 0h1.4m1.1 0h1.4m0.1 0h2.4m1.6 0h2.8m0.1 0h4.9m1.6 0h1.9m0.1 0h1.4m0.1 0h1.4m0.1 0h2.4m0.1 0h1.4m0.1 0h2.4m0.1 0h2.8m1.6 0h1.4m0.1 0h3.9m1.6 0h6.4m0.1 0h1.4m3 0h4.4m0.1 0h1.9m0.1 0h2.4m1.1 0h2.9m0.6 0h4.9m0.5 0h4.9m0.6 0h5.9m1.6 0h1.9m0.6 0h1.4m1.6 0h2.8m1.6 0h2.4m4.6 0h4.4m1.6 0h6.3m0.1 0h2.9m0.1 0h1.9m0.6 0h1.9m0.1 0h1.4m0.1 0h1.9m0.6 0h7.3m0.6 0h2.4m0.1 0h2.4m0.1 0h4.4m0.6 0h1.4m0.6 0h8.8m0.1 0h1.4m1.1 0h5.4m0.6 0h1.4m0.1 0h2.9m0.1 0h9.3m1.6 0h1.4m0.6 0h1.4m0.1 0h2.4m0.6 0h1.4m0.1 0h1.4m0.6 0h3.3m0.1 0h3.4m0.1 0h3.9m0.6 0h1.9m1.1 0h1.4m0.1 0h5.4m1 0h3.4m0.1 0h2.9m0.1 0h3.4m1.1 0h1.9m1.6 0h2.9m3 0h1.9m0.1 0h3.9m0.1 0h6.4m1.6 0h3.4m1.1 0h1.4m0.5 0h1.9m0.1 0h2.9m0.1 0h6.4m0.6 0h1.4m0.1 0h1.4m0.1 0h4.4m3 0h4.4m1.1 0h5.9m0.1 0h2.4m0.1 0h2.4m3.5 0h1.4m0.1 0h6.9m0.6 0h2.4m0.6 0h1.9m0.6 0h1.4m0.1 0h1.8m3.6 0h5.4m4.1 0h2.9m0.1 0h1.4m0.5 0h4.4m0.1 0h1.9m0.1 0h1.4m0.6 0h1.9m1.1 0h1.4m2.6 0h1.4m0.6 0h5.3m0.1 0h1.4m0.1 0h1.4m1.1 0h1.4m0.1 0h2.9m0.6 0h5.9m1.1 0h1.4"/>
<path d="M78.4 355.13h1.9m2.6 0h1.4m1.6 0h1.4m0.1 0h1.4m4.1 0h1.4m1.5 0h1.9m4.6 0h4.4m2.1 0h2.4m1.1 0h1.9m0.1 0h1.4m1.5 0h1.4m6.1 0h1.4m2.1 0h2.4m3.1 0h2.4m0.5 0h1.4m2.6 0h1.9m4.6 0h2.4m0.6 0h1.4m0.1 0h1.4m1.1 0h2.3m0.6 0h1.4m0.1 0h1.9m0.1 0h1.4m0.6 0h1.4m1.6 0h1.4m2.1 0h1.4m1.1 0h2.4m2 0h3.4m0.1 0h1.4m1.6 0h1.9m1.1 0h1.4m0.1 0h1.4m0.1 0h1.4m2.1 0h1.4m4.5 0h1.9m1.1 0h1.4m0.1 0h1.4m3.1 0h1.4m0.1 0h4.4m6.5 0h1.4m0.6 0h4.9m1.1 0h3.9m5 0h1.4m0.1 0h2.4m1.1 0h1.4m1.1 0h1.4m8.6 0h3.3m4.6 0h1.4m2.1 0h1.4m0.1 0h1.4m1.1 0h2.4m1.6 0h1.4m0.5 0h1.4m0.1 0h1.9m2.6 0h3.4m1.6 0h1.4m1.6 0h3.4m0.6 0h3.3m1.6 0h3.9m0.6 0h3.4m3.1 0h1.4m0.6 0h1.9m0.6 0h2.8m1.1 0h2.4m0.6 0h2.4m0.6 0h1.4m0.6 0h1.4m0.6 0h1.4m1.1 0h1.4m1.6 0h1.4m1 0h2.9m1.6 0h1.4m0.1 0h2.4m0.1 0h1.4m0.1 0h1.9m1.6 0h1.4m6.5 0h1.4m2.6 0h1.9m3.6 0h1.4m0.1 0h1.4m0.6 0h1.4m1.6 0h1.4m1 0h1.9m4.1 0h1.4m0.6 0h1.4m0.6 0h1.4m1.1 0h1.4m0.1 0h1.4m0.6 0h2.4m1 0h4.4m3.1 0h1.4m0.1 0h1.4m0.1 0h6.9m0.1 0h1.4m1 0h1.4m4.1 0h1.4m1.6 0h2.9m0.1 0h1.4m2.1 0h1.4m4 0h2.9m2.1 0h4.4m0.6 0h1.4m4.1 0h1.4m0.6 0h1.4m0.5 0h2.4m2.1 0h1.4m0.1 0h1.4m3.6 0h2.4m1.6 0h1.4m5.5 0h1.9m1.1 0h2.9m1.1 0h1.4m1.6 0h1.4m0.1 0h1.4m1.6 0h2.4m3.5 0h1.4m0.1 0h1.4m0.1 0h2.9m3.6 0h3.4m2.1 0h2.9m3 0h1.4m5.6 0h2.9m2.6 0h1.9m0.1 0h4.8m0.1 0h4.9m1.1 0h1.4m0.1 0h2.4m12 0h3.4m1.1 0h1.9m0.6 0h1.4m0.1 0h1.9"/>
<path d="M85.9 357.86h3.4m1.6 0h1.4m2.1 0h3.3m2.6 0h1.4m3.1 0h1.4m2.1 0h1.4m1.6 0h1.4m3 0h1.4m0.1 0h1.4m1.6 0h2.9m2.1 0h1.4m1.1 0h1.4m1.1 0h1.4m2.1 0h3.8m0.6 0h1.4m3.6 0h1.9m0.1 0h1.9m0.1 0h1.4m4.6 0h1.4m0.1 0h1.4m0.5 0h2.4m13.6 0h1.4m1.5 0h1.4m10.1 0h1.4m0.6 0h1.4m1.6 0h1.4m0.6 0h3.3m1.6 0h1.4m8.1 0h1.4m0.6 0h1.9m0.1 0h1.4m1 0h2.4m0.6 0h1.9m0.1 0h1.4m0.1 0h1.4m1.6 0h2.4m7.6 0h2.3m0.6 0h1.4m1.6 0h1.4m5.1 0h1.4m2.1 0h1.4m1.6 0h2.4m0.5 0h1.4m3.1 0h1.4m7.6 0h1.4m0.1 0h1.4m0.1 0h1.4m2.5 0h1.9m2.6 0h1.9m0.6 0h1.4m6.6 0h1.4m3.5 0h1.9m2.1 0h1.9m0.1 0h1.4m3.1 0h1.4m1.6 0h1.4m2.1 0h1.9m0.5 0h1.4m0.1 0h1.4m1.1 0h1.4m5.1 0h1.4m2.1 0h2.4m2 0h1.9m1.1 0h1.9m0.6 0h1.4m1.6 0h1.4m2.6 0h2.4m0.6 0h2.4m1.1 0h2.8m0.1 0h1.4m1.6 0h1.4m4.1 0h1.4m1.6 0h1.4m4.1 0h1.4m0.5 0h1.4m3.1 0h3.4m1.1 0h1.4m3.1 0h1.9m3.1 0h2.3m1.1 0h3.9m0.6 0h1.4m0.6 0h1.4m0.6 0h1.4m3.6 0h1.4m4 0h1.4m0.1 0h1.9m0.1 0h1.4m1.1 0h1.4m0.1 0h1.4m0.1 0h1.4m2.6 0h5.4m1 0h1.4m2.6 0h2.9m1.1 0h1.4m1.1 0h1.4m3.1 0h1.4m1.1 0h1.4m4 0h1.4m4.6 0h1.4m1.6 0h1.4m0.6 0h1.4m2.6 0h1.4m0.5 0h1.4m1.1 0h1.4m0.1 0h2.9m1.6 0h1.4m10.5 0h3.9m3.6 0h1.4m1.1 0h1.4m0.1 0h1.4m0.6 0h1.4m6.5 0h3.4m0.6 0h1.4m0.6 0h2.4m6.1 0h2.4m0.5 0h4.4m0.1 0h1.4m5.6 0h1.4m0.1 0h1.4m1.6 0h1.4m16.5 0h1.4"/>
<path d="M78.4 360.6h2.4m0.6 0h1.9m0.1 0h2.4m3.1 0h1.4m1.1 0h3.4m1.5 0h3.4m3.6 0h4.9m2.6 0h2.4m1.1 0h2.4m0.5 0h1.4m1.1 0h1.4m0.6 0h1.4m1.6 0h2.9m3.1 0h2.9m2 0h2.4m0.6 0h3.9m0.6 0h1.9m0.6 0h1.4m0.6 0h2.9m0.6 0h1.4m1.6 0h3.3m0.1 0h2.4m0.1 0h2.4m0.1 0h1.9m1.1 0h4.4m1.1 0h1.4m0.6 0h1.4m1 0h4.9m1.6 0h2.9m0.6 0h2.4m0.6 0h1.4m1.6 0h2.4m0.6 0h1.8m2.6 0h1.9m0.6 0h2.9m0.1 0h1.4m0.1 0h2.9m1.1 0h1.4m0.1 0h1.4m1.6 0h2.8m1.1 0h2.4m1.6 0h1.4m1.6 0h2.4m0.1 0h3.4m1.6 0h1.4m6 0h2.4m3.1 0h1.4m1.6 0h1.4m0.6 0h1.4m2.1 0h1.8m0.1 0h1.4m0.1 0h4.4m1.1 0h2.4m1.1 0h1.4m4.6 0h1.4m1 0h2.9m1.1 0h2.4m1.6 0h1.4m0.6 0h1.4m0.6 0h2.4m0.1 0h1.4m1.1 0h1.4m0.1 0h1.4m0.5 0h2.9m1.1 0h4.4m2.1 0h2.4m1.6 0h1.4m0.1 0h1.4m0.1 0h3.3m0.6 0h1.4m2.1 0h1.4m0.1 0h2.4m2.1 0h3.4m1.1 0h1.9m1.1 0h3.3m1.6 0h3.9m0.1 0h1.4m2.1 0h1.4m0.1 0h1.4m0.1 0h4.4m1.5 0h1.4m0.6 0h1.4m0.6 0h1.4m3.6 0h2.9m0.1 0h1.4m1.1 0h1.4m3 0h1.9m0.6 0h1.9m0.6 0h4.9m0.6 0h2.9m0.6 0h1.4m0.1 0h1.4m5 0h3.4m1.1 0h2.4m0.1 0h1.4m0.1 0h1.4m0.6 0h1.9m1.6 0h1.4m0.1 0h1.4m0.1 0h2.8m0.1 0h1.4m2.6 0h1.4m0.6 0h3.9m0.1 0h1.4m1.6 0h1.9m3.1 0h1.4m0.5 0h2.9m0.1 0h2.9m1.1 0h1.9m3.1 0h3.4m2.5 0h1.4m1.6 0h2.9m1.6 0h3.9m0.6 0h1.4m1.6 0h1.4m1.1 0h3.4m1.5 0h1.4m0.6 0h1.4m0.6 0h1.4m0.6 0h1.4m4.1 0h1.4m0.1 0h1.4m0.1 0h4.8m0.6 0h2.4m2.6 0h2.4m0.1 0h1.4m0.6 0h1.9m1.1 0h1.4m1.1 0h1.4m2.5 0h1.4m1.1 0h3.4m0.1 0h3.9m1.6 0h3.9m1.1 0h1.4m1 0h1.4m0.1 0h1.9m2.1 0h3.4m1.6 0h3.9m0.6 0h1.9m2.1 0h3.3m1.6 0h1.9m0.1 0h1.4m4.1 0h2.4m1.6 0h2.9"/>
<path d="M79.4 363.34h1.4m0.6 0h2.9m1.6 0h1.4m0.1 0h1.4m0.6 0h1.4m0.1 0h1.9m0.6 0h1.4m0.1 0h1.8m3.1 0h1.4m3.1 0h6.9m1.1 0h1.4m1.1 0h1.4m1.5 0h1.4m0.6 0h1.4m0.1 0h1.9m2.6 0h1.4m0.6 0h2.4m1.1 0h1.4m1.1 0h1.9m0.5 0h1.4m3.1 0h3.4m3.6 0h1.9m0.6 0h1.9m0.1 0h1.4m0.1 0h2.8m3.6 0h1.4m0.6 0h1.4m1.6 0h1.4m5.1 0h1.9m0.1 0h2.4m5 0h1.4m3.1 0h1.9m0.1 0h1.4m2.1 0h1.4m0.6 0h4.3m3.6 0h1.4m1.6 0h1.4m5.6 0h1.4m1.1 0h2.4m1 0h3.4m4.6 0h2.9m0.1 0h1.4m5.5 0h2.9m0.6 0h1.4m2.1 0h1.9m2.1 0h1.4m0.1 0h1.4m0.1 0h1.4m1.1 0h2.4m0.1 0h2.8m2.1 0h1.4m1.1 0h1.4m0.6 0h2.4m0.6 0h3.4m1.1 0h2.4m2 0h1.4m1.6 0h1.4m1.1 0h1.4m0.6 0h1.4m0.6 0h1.4m0.1 0h3.4m0.1 0h4.4m3 0h2.4m0.1 0h2.4m1.6 0h4.4m1.1 0h1.4m0.1 0h2.4m0.1 0h1.4m0.1 0h5.8m0.6 0h1.9m7.6 0h1.4m0.6 0h1.4m0.5 0h1.4m2.1 0h1.9m1.6 0h2.4m0.6 0h1.4m1.1 0h2.4m1.1 0h2.4m1.1 0h1.4m0.5 0h1.9m0.6 0h1.4m0.1 0h2.9m0.6 0h1.9m0.6 0h1.4m1.6 0h1.4m3.1 0h2.3m3.6 0h4.4m0.6 0h1.4m0.1 0h1.9m2.1 0h3.9m4.5 0h1.4m0.6 0h1.9m0.1 0h1.4m2.1 0h1.9m2.6 0h1.4m0.6 0h1.4m1.5 0h1.4m1.1 0h1.4m1.1 0h1.4m1.1 0h2.4m1.1 0h4.4m1.1 0h1.4m1.1 0h1.4m1.5 0h1.4m0.1 0h1.4m0.1 0h1.9m2.1 0h1.4m0.1 0h1.4m1.6 0h1.9m2.1 0h3.3m1.1 0h1.4m0.6 0h2.4m1.1 0h1.4m2.1 0h1.4m1.1 0h1.9m1.6 0h3.8m0.1 0h1.4m0.1 0h5.9m1.6 0h1.4m1.1 0h4.4m0.1 0h2.4m1.5 0h2.4m2.1 0h1.4m2.1 0h1.9m0.1 0h3.4m4.6 0h1.8m1.1 0h1.9m2.6 0h1.4m0.6 0h2.4m1.1 0h1.4m0.1 0h1.4m0.6 0h1.4m0.1 0h2.4m0.5 0h2.9m0.1 0h1.4m0.1 0h1.4m1.1 0h1.4m0.6 0h1.4m0.1 0h2.4m0.1 0h1.4m0.1 0h1.4m1.6 0h1.4m0.5 0h2.4m0.6 0h1.4m1.1 0h3.4m7.1 0h1.4m1.1 0h1.4"/>
<path d="M78.4 366.08h3.4m2.1 0h1.4m4.6 0h1.4m3.1 0h1.4m0.5 0h2.4m0.1 0h1.4m2.1 0h1.4m0.1 0h1.4m1.6 0h1.9m6.6 0h1.4m4.5 0h1.4m2.1 0h1.4m0.6 0h1.9m2.6 0h1.4m7 0h2.4m3.1 0h1.4m0.1 0h1.4m0.1 0h1.4m0.1 0h2.4m1.1 0h1.4m2.5 0h1.9m4.1 0h1.4m2.6 0h1.4m0.6 0h1.4m7.5 0h1.4m2.6 0h1.4m0.1 0h1.4m5.6 0h1.4m1.6 0h1.4m5.5 0h1.4m6.1 0h1.4m2.6 0h1.4m3.5 0h1.4m0.6 0h3.4m1.6 0h1.4m3.1 0h1.4m0.6 0h1.4m1.1 0h1.4m0.5 0h1.4m0.1 0h1.4m1.1 0h1.9m4.1 0h1.4m1.1 0h1.4m2.6 0h1.4m3 0h1.4m2.6 0h1.4m0.1 0h1.9m0.1 0h3.9m1.1 0h1.4m1.6 0h1.4m1.1 0h4.8m4.6 0h1.9m1.1 0h2.4m0.1 0h1.4m0.6 0h1.4m0.1 0h1.9m1.5 0h1.4m0.1 0h1.4m0.6 0h1.4m0.1 0h1.9m0.6 0h1.4m0.1 0h2.9m1.1 0h1.4m0.6 0h1.4m0.6 0h1.4m1 0h1.4m2.6 0h1.4m0.1 0h1.4m0.1 0h1.4m1.1 0h1.4m1.6 0h2.4m1.1 0h1.9m0.1 0h2.4m1 0h1.4m7.6 0h1.4m6.6 0h1.4m2 0h1.4m2.1 0h1.9m1.1 0h1.4m3.6 0h1.9m1.6 0h4.3m0.1 0h3.9m0.6 0h2.9m1.6 0h1.4m2.6 0h1.4m0.6 0h1.9m0.1 0h3.3m0.6 0h1.9m2.6 0h2.4m7.1 0h1.4m0.6 0h2.8m0.1 0h1.4m0.6 0h1.4m6.1 0h1.4m0.1 0h1.4m1.1 0h2.4m0.6 0h1.4m0.1 0h1.4m2 0h1.9m0.6 0h1.4m0.1 0h1.4m1.6 0h1.4m0.1 0h2.4m3.1 0h1.4m1.5 0h1.4m2.1 0h1.4m3.1 0h1.4m0.6 0h1.4m0.6 0h1.4m0.1 0h1.4m0.1 0h2.9m1.6 0h2.8m0.6 0h3.9m2.6 0h1.4m1.1 0h1.4m0.1 0h1.4m0.6 0h1.4m0.6 0h2.4m11.5 0h1.9m2.6 0h1.4m1.6 0h1.4m8 0h1.4m0.6 0h1.9m1.6 0h1.9m1.1 0h1.4m0.1 0h2.3m0.1 0h2.4m1.1 0h1.4m5.6 0h1.4m9.5 0h1.4m0.6 0h2.9m0.1 0h1.4m3.1 0h1.4m0.6 0h1.4m0.6 0h2.4"/>
<path d="M78.9 368.82h1.4m2.1 0h1.9m2.1 0h1.4m3.6 0h1.4m0.6 0h1.4m3 0h1.4m1.1 0h1.4m0.6 0h1.4m0.1 0h1.4m0.1 0h2.4m2.6 0h1.4m1.1 0h2.9m3.5 0h1.4m0.1 0h1.4m3.6 0h1.4m3.1 0h2.4m7 0h1.4m0.1 0h1.9m2.6 0h1.4m1.6 0h1.4m3.6 0h4.3m5.1 0h1.4m6.1 0h1.4m1.6 0h1.9m1 0h1.4m1.1 0h1.4m0.1 0h1.4m3.1 0h1.9m1.6 0h1.4m5.5 0h1.4m0.1 0h1.9m0.1 0h2.4m0.1 0h1.4m8.6 0h2.4m3.5 0h2.4m1.1 0h1.4m1.1 0h1.4m3.1 0h1.9m1.1 0h1.4m2.1 0h2.8m1.6 0h4.4m4.6 0h2.9m1.1 0h1.4m3 0h1.4m0.1 0h1.4m5.6 0h1.4m1.1 0h3.9m1.6 0h1.4m2.5 0h1.4m0.1 0h1.4m2.1 0h3.4m10.5 0h2.4m0.1 0h1.4m0.6 0h2.4m2.1 0h1.4m4.1 0h1.9m0.1 0h1.9m2.5 0h1.4m7.1 0h1.4m0.1 0h2.4m2.1 0h1.4m0.1 0h1.4m0.5 0h1.4m0.1 0h2.4m7.6 0h1.9m1.1 0h1.4m3.6 0h3.3m4.1 0h1.9m1.1 0h1.4m1.1 0h1.4m7.5 0h2.9m5.1 0h3.4m0.6 0h1.4m3.1 0h2.9m7 0h1.4m5.1 0h1.4m0.6 0h3.9m0.5 0h1.4m8.1 0h1.9m1.1 0h1.4m0.1 0h1.4m4.5 0h2.4m1.6 0h1.4m3.1 0h1.4m0.6 0h1.9m4.1 0h1.9m2 0h2.4m2.6 0h1.4m11.1 0h1.4m4.5 0h1.4m0.1 0h1.4m2.1 0h1.9m3.6 0h1.4m0.1 0h1.4m1.5 0h2.4m1.6 0h1.4m0.1 0h1.4m0.6 0h3.4m0.6 0h1.9m5.6 0h1.4m10 0h1.4m0.1 0h1.4m0.6 0h1.9m9.5 0h1.4m1.1 0h5.4m1.6 0h1.4m1.6 0h1.4m7 0h1.4m0.1 0h2.9m7.1 0h1.4"/>
<path d="M78.4 371.56h3.4m0.1 0h1.4m2.1 0h1.4m0.6 0h1.9m7.5 0h1.4m2.1 0h1.4m0.6 0h1.4m0.1 0h1.4m0.6 0h1.9m0.1 0h2.4m1.1 0h1.4m1.1 0h1.4m5 0h1.4m3.6 0h1.4m4.6 0h1.4m5 0h1.4m1.1 0h1.9m1.1 0h1.4m4.1 0h1.9m1.6 0h1.4m4 0h1.4m3.1 0h1.4m3.1 0h1.4m2.1 0h1.9m0.6 0h1.4m0.6 0h1.4m1 0h1.4m2.1 0h1.4m0.6 0h1.4m2.6 0h1.4m1.6 0h1.9m0.6 0h1.4m3 0h2.4m1.1 0h1.4m2.1 0h2.9m8.5 0h1.4m1.1 0h1.4m1.6 0h1.4m1.6 0h1.4m5.6 0h1.4m0.6 0h1.4m4.5 0h1.4m0.1 0h1.4m4.1 0h2.4m0.1 0h1.4m3.6 0h1.4m2.5 0h1.4m0.1 0h1.4m12.1 0h1.4m2 0h1.4m0.1 0h1.4m1.1 0h1.4m1.1 0h2.4m1.1 0h1.4m0.6 0h1.4m3.1 0h1.4m7 0h1.9m1.1 0h1.4m4.1 0h2.4m1.6 0h2.9m0.5 0h1.4m4.1 0h1.4m4.1 0h1.4m2.6 0h2.9m1 0h1.9m1.6 0h1.4m1.1 0h1.4m7.6 0h1.4m1.6 0h1.4m0.1 0h3.3m7.1 0h1.4m2.1 0h1.4m0.6 0h1.4m5 0h1.9m0.1 0h2.4m0.6 0h1.4m1.6 0h2.4m1.1 0h1.4m7 0h1.4m3.1 0h1.4m2.1 0h1.4m9.5 0h1.4m0.1 0h1.4m8.6 0h1.4m7.5 0h1.4m2.1 0h1.4m0.6 0h1.4m0.1 0h1.4m15 0h1.4m8.6 0h1.4m2.6 0h1.4m1.5 0h1.4m0.6 0h1.4m0.1 0h2.4m0.6 0h2.4m0.1 0h1.4m0.1 0h1.4m4.1 0h1.4m2 0h1.4m3.1 0h1.4m1.1 0h1.4m3.6 0h1.4m0.6 0h1.4m8 0h1.4m0.6 0h1.4m2.1 0h1.4m0.1 0h1.4m0.6 0h1.4m3.6 0h1.4m2 0h1.4m0.6 0h2.4m1.6 0h1.4m0.1 0h1.4m0.6 0h1.4m0.6 0h1.4m4.1 0h2.8m1.6 0h2.9m7.1 0h1.4"/>
<path d="M80.9 374.3h1.4m0.1 0h1.4m0.1 0h2.9m1.6 0h2.4m1.1 0h1.4m1.1 0h1.4m0.5 0h1.4m0.1 0h1.9m1.1 0h3.4m1.1 0h2.4m0.1 0h2.4m1.6 0h2.4m3.5 0h1.4m0.6 0h3.9m1.6 0h1.4m0.6 0h6.4m1.1 0h1.4m0.5 0h1.4m0.6 0h1.4m0.6 0h1.4m0.6 0h3.9m2.6 0h1.4m3.6 0h1.4m0.5 0h1.4m0.1 0h1.4m4.1 0h8.4m1.6 0h1.9m1 0h1.4m0.1 0h1.4m1.1 0h1.4m0.6 0h1.9m1.6 0h1.9m0.1 0h1.4m0.1 0h2.4m0.1 0h2.9m1 0h1.9m11.6 0h1.4m2.6 0h2.9m0.5 0h2.9m0.6 0h1.4m4.6 0h1.4m2.6 0h1.4m1.1 0h1.4m0.1 0h2.3m1.1 0h1.4m0.1 0h4.4m2.6 0h2.9m1.1 0h1.9m0.6 0h1.9m2.5 0h1.4m3.1 0h2.4m7.1 0h1.4m2.6 0h3.3m0.6 0h3.4m1.6 0h1.4m2.6 0h1.4m0.1 0h1.4m2.6 0h4.3m0.1 0h1.4m1.6 0h1.4m1.1 0h2.4m0.6 0h2.4m1.1 0h1.9m3.1 0h1.4m2.5 0h1.9m0.1 0h1.4m0.1 0h1.4m0.6 0h2.9m0.1 0h2.9m1.6 0h4.3m0.1 0h1.4m1.1 0h3.9m1.1 0h3.4m2.1 0h1.4m1.1 0h2.4m0.6 0h6.3m0.1 0h1.4m1.1 0h1.4m0.1 0h2.9m0.6 0h3.4m0.1 0h1.4m0.6 0h1.8m0.1 0h1.9m1.1 0h1.4m0.6 0h3.4m2.6 0h2.4m1.6 0h2.4m0.1 0h1.4m1 0h3.4m0.1 0h2.4m0.6 0h1.4m1.1 0h2.4m1.6 0h3.9m5 0h2.4m1.1 0h1.9m0.6 0h2.4m1.1 0h1.4m0.1 0h1.4m0.1 0h1.4m1.1 0h1.4m0.5 0h4.4m0.1 0h1.4m0.6 0h2.9m0.1 0h1.4m2.1 0h2.4m3.1 0h1.4m0.5 0h1.4m4.6 0h2.4m2.6 0h1.9m2.1 0h3.4m1 0h1.4m0.1 0h1.4m1.6 0h3.9m3.1 0h1.4m3.1 0h3.4m1 0h2.4m0.1 0h2.9m1.6 0h1.9m2.1 0h1.4m0.1 0h1.4m0.6 0h1.9m0.1 0h1.4m0.1 0h5.8m7.6 0h1.4m0.6 0h1.9m0.1 0h1.4m4.5 0h1.4m3.6 0h1.4m1.1 0h1.4m3.1 0h1.4m0.6 0h1.4m0.1 0h4.3m1.6 0h3.9m1.6 0h2.4m0.6 0h1.4m1.1 0h2.9"/>
<path d="M79.4 377.04h1.4m9.6 0h1.4m6 0h1.4m0.6 0h1.4m5.6 0h4.4m6 0h1.4m0.1 0h1.4m1.6 0h1.4m1.1 0h2.4m0.1 0h1.4m4.1 0h3.4m0.5 0h2.4m16.5 0h1.9m3.1 0h3.4m2.1 0h1.4m0.1 0h1.4m3.6 0h3.4m13 0h1.4m2.6 0h1.4m0.1 0h2.3m5.1 0h1.4m0.1 0h1.4m1.1 0h2.4m6.6 0h2.8m0.1 0h1.9m0.6 0h1.4m1.1 0h1.4m0.6 0h1.4m4.6 0h1.4m3 0h2.4m1.1 0h1.9m1.6 0h1.4m0.1 0h1.4m2.6 0h2.9m1.1 0h1.4m9 0h1.4m1.6 0h1.4m0.1 0h1.4m0.6 0h1.4m7 0h1.4m5.1 0h1.4m4.1 0h1.4m1.1 0h1.9m1.1 0h1.4m1 0h1.9m4.1 0h1.4m1.6 0h1.4m3.1 0h1.9m0.6 0h1.4m2 0h1.4m3.1 0h1.4m3.1 0h1.4m0.1 0h1.4m4.1 0h1.9m0.1 0h1.4m2 0h1.4m3.6 0h1.4m4.1 0h3.9m2.1 0h2.3m0.6 0h1.4m7.1 0h3.4m3.6 0h1.4m2 0h1.4m10.6 0h1.4m0.6 0h1.4m3.5 0h1.4m5.6 0h2.4m12 0h1.4m4.6 0h1.4m0.6 0h1.4m0.6 0h1.4m5.1 0h1.4m0.1 0h2.8m1.1 0h1.4m0.1 0h1.9m7.1 0h1.4m4 0h1.4m3.1 0h1.4m2.6 0h1.4m3.6 0h1.4m4.1 0h1.4m0.5 0h1.4m10.1 0h1.4m2.1 0h3.4m3 0h1.4m1.1 0h1.4m2.1 0h1.4m5.1 0h1.4m3.1 0h1.9m2 0h2.9m2.1 0h2.4m6.1 0h1.4m1.1 0h1.4m2.5 0h1.4m1.1 0h1.4m0.1 0h1.4m0.6 0h1.4m5.6 0h1.4m12 0h1.9m3.6 0h2.4"/>
<path d="M78.4 379.78h2.4m0.6 0h1.4m0.1 0h3.4m3.1 0h4.4m0.1 0h1.4m5 0h2.4m2.6 0h1.4m3.6 0h2.9m0.6 0h2.4m0.5 0h1.4m1.1 0h1.4m0.6 0h3.4m1.1 0h1.4m0.1 0h1.4m1.6 0h1.9m2.1 0h2.3m0.1 0h2.4m0.6 0h3.9m2.6 0h2.9m0.1 0h1.9m0.6 0h1.4m2 0h1.4m3.1 0h1.4m0.1 0h2.4m0.6 0h1.9m0.6 0h3.9m4.1 0h1.8m0.6 0h1.4m0.1 0h1.4m2.1 0h1.4m1.6 0h1.9m1.1 0h2.4m0.1 0h3.4m1 0h3.4m2.1 0h1.9m0.1 0h1.4m1.1 0h1.4m0.6 0h1.4m0.6 0h1.9m2.1 0h1.4m2.5 0h1.4m1.6 0h2.4m4.6 0h1.9m2.6 0h1.4m0.1 0h1.4m1.5 0h1.4m0.1 0h2.9m0.6 0h1.4m2.6 0h1.4m2.6 0h5.4m0.1 0h1.8m1.1 0h2.9m0.6 0h1.9m0.1 0h3.9m2.1 0h2.4m1.6 0h1.4m0.1 0h7.3m1.6 0h1.4m1.1 0h1.9m0.1 0h2.4m0.1 0h1.4m2.1 0h1.4m0.5 0h3.4m1.6 0h1.4m0.6 0h1.4m1.6 0h4.4m0.1 0h1.4m1.1 0h5.8m0.1 0h5.4m0.1 0h2.4m0.1 0h1.4m5.1 0h3.3m1.1 0h1.4m2.1 0h2.4m2.6 0h5.4m0.1 0h3.9m0.5 0h1.9m1.1 0h1.4m3.6 0h1.4m0.1 0h2.4m0.1 0h2.4m1.6 0h1.4m2 0h1.4m0.6 0h2.9m6.1 0h1.9m0.1 0h1.4m1.1 0h1.9m4 0h4.9m2.1 0h1.4m0.1 0h1.4m0.1 0h3.4m0.1 0h3.4m0.5 0h3.4m2.1 0h3.4m1.6 0h2.9m3.1 0h3.4m0.1 0h2.3m0.1 0h2.9m3.1 0h1.4m1.6 0h1.9m1.6 0h1.4m2.1 0h2.8m1.1 0h1.9m1.6 0h1.9m1.1 0h1.4m1.1 0h1.4m0.1 0h1.4m2.6 0h1.4m1.6 0h1.8m4.6 0h1.4m0.1 0h1.9m0.1 0h2.9m6.6 0h3.3m0.1 0h1.9m0.6 0h1.9m0.1 0h3.4m1.6 0h1.4m1.1 0h1.4m1.1 0h4.8m1.6 0h2.4m0.6 0h1.4m4.1 0h1.4m0.1 0h1.4m0.6 0h2.9m0.1 0h3.3m1.6 0h1.9m0.1 0h1.9m1.1 0h1.4m1.1 0h2.4m0.1 0h1.9m2.1 0h1.4m1.5 0h1.9m0.6 0h1.4m1.1 0h1.4m2.6 0h1.4m1.6 0h1.4m1.1 0h1.9m0.6 0h2.4"/>
<path d="M78.9 382.52h1.4m0.6 0h1.4m0.6 0h1.4m7.1 0h1.9m1.1 0h1.4m0.5 0h1.9m0.1 0h3.4m6.6 0h1.4m3.1 0h1.4m7 0h1.4m0.1 0h1.4m0.6 0h1.4m1.6 0h2.9m10.5 0h1.4m3.1 0h1.9m1.6 0h3.9m3.5 0h1.4m7.6 0h1.4m2.6 0h1.4m2.1 0h1.9m1 0h1.4m0.6 0h1.4m10.6 0h1.4m5.5 0h1.4m1.6 0h2.4m2.1 0h1.9m6.1 0h1.9m2 0h2.4m3.6 0h2.4m0.1 0h2.4m3.6 0h1.4m2.5 0h1.4m0.1 0h1.9m0.6 0h1.4m4.6 0h2.4m2.1 0h4.9m3 0h2.4m3.6 0h1.4m0.1 0h2.4m0.1 0h1.9m3.1 0h2.4m5.5 0h1.9m0.6 0h1.9m2.1 0h2.4m3.6 0h2.4m0.5 0h2.4m7.1 0h1.4m1.6 0h1.4m2.1 0h1.4m2.5 0h1.4m1.1 0h1.9m1.6 0h1.4m2.1 0h2.4m1.6 0h3.9m5 0h1.4m6.1 0h1.4m0.6 0h1.4m0.6 0h1.9m0.1 0h1.4m0.1 0h2.9m5.5 0h2.9m0.6 0h1.9m0.6 0h1.4m1.6 0h5.8m0.6 0h1.4m1.1 0h1.4m1.6 0h1.4m0.6 0h1.4m1.1 0h1.4m3.6 0h1.4m2.5 0h1.4m8.6 0h1.4m7 0h1.4m0.6 0h1.4m4.1 0h1.4m0.1 0h1.4m0.1 0h2.4m1.6 0h1.4m1.1 0h1.4m0.1 0h1.4m0.5 0h1.9m0.1 0h1.4m0.1 0h2.4m1.1 0h1.4m1.1 0h1.4m4.1 0h1.4m0.6 0h2.4m1.5 0h1.4m2.1 0h2.4m1.6 0h2.4m3.1 0h3.4m9 0h1.4m1.1 0h1.4m3.6 0h1.4m1.6 0h1.4m0.1 0h1.4m11.5 0h1.4m2.6 0h1.4m2.6 0h1.4m3.5 0h1.4m1.1 0h1.4m1.1 0h1.4m6.6 0h1.4m1 0h1.4m9.1 0h1.4m0.6 0h1.4m1.6 0h1.4m0.1 0h1.4m0.6 0h2.8m1.6 0h1.4m2.1 0h2.9m3.6 0h1.9"/>
<path d="M82.4 385.25h2.4m7.1 0h1.9m3 0h1.9m4.6 0h1.4m5.6 0h1.4m2.1 0h1.4m0.1 0h2.3m0.6 0h1.4m2.6 0h1.4m2.1 0h1.4m1.6 0h2.4m6.5 0h1.4m2.6 0h1.4m1.1 0h1.9m1.1 0h1.4m0.1 0h1.9m0.1 0h2.4m4 0h1.4m3.1 0h1.9m29 0h1.4m1 0h1.4m2.1 0h1.4m16.5 0h1.4m3.6 0h1.4m1.1 0h1.4m0.1 0h1.4m10.5 0h1.4m2.6 0h1.9m6.6 0h1.4m0.6 0h1.4m3 0h1.4m2.1 0h2.4m4.1 0h1.4m4.1 0h1.4m3 0h1.4m16.1 0h1.4m3.5 0h1.4m3.6 0h1.4m3.6 0h1.4m1.1 0h1.4m1.1 0h1.4m2.5 0h1.4m2.6 0h1.4m4.6 0h1.4m6 0h2.4m10.1 0h1.4m3.6 0h1.4m3.5 0h1.4m1.1 0h1.9m0.6 0h1.4m5.1 0h1.4m2.6 0h1.4m6 0h2.4m1.1 0h1.4m16.5 0h1.4m3.1 0h1.9m1.6 0h1.4m1.6 0h1.4m2 0h1.4m7.6 0h2.4m15.5 0h1.4m13.5 0h1.4m6.1 0h1.4m2.1 0h3.4m2.5 0h1.4m0.6 0h2.4m9.6 0h1.4m1.1 0h1.4m2 0h1.4m0.6 0h1.4m13.6 0h1.4m4 0h1.9m2.1 0h3.4m0.1 0h1.4m2.6 0h1.4m5.5 0h2.9m7.1 0h1.4m1.6 0h1.4m2.6 0h1.4m8 0h2.4m3.6 0h1.4m0.6 0h1.9"/>
<path d="M81.9 387.99h1.9m0.1 0h1.9m1.6 0h1.4m0.1 0h2.4m0.6 0h1.4m3 0h1.4m0.1 0h1.4m1.6 0h1.4m1.6 0h1.4m2.1 0h2.9m2.6 0h2.4m0.1 0h1.4m0.5 0h3.9m2.6 0h1.4m1.1 0h1.4m0.6 0h2.9m1.1 0h1.4m8.5 0h1.9m0.1 0h1.4m0.1 0h1.4m3.1 0h1.4m0.1 0h1.4m0.6 0h1.4m9.5 0h2.4m0.1 0h2.4m2.1 0h1.9m2 0h2.4m3.6 0h1.4m2.6 0h2.4m3.1 0h1.4m5 0h1.4m0.6 0h1.4m1.1 0h2.4m0.6 0h2.4m3.1 0h1.4m0.6 0h1.4m2 0h3.4m1.6 0h1.4m5.1 0h1.4m0.6 0h1.4m0.1 0h2.9m4.5 0h1.4m2.1 0h1.4m1.6 0h1.4m4.1 0h1.4m2.6 0h1.4m3 0h1.4m8.6 0h2.4m5 0h2.4m2.6 0h1.9m0.1 0h1.4m1.1 0h1.4m2.1 0h1.9m1.6 0h1.9m1 0h1.9m2.1 0h2.9m0.6 0h1.9m0.1 0h1.4m1.1 0h1.4m1.6 0h4.9m1 0h1.4m0.6 0h1.4m0.1 0h1.9m0.1 0h1.4m1.1 0h1.4m0.1 0h1.4m2.6 0h1.4m6 0h1.4m0.1 0h1.4m0.6 0h2.4m2.1 0h1.4m0.1 0h1.4m1.1 0h3.4m1.1 0h1.4m2 0h1.4m0.1 0h5.4m0.1 0h1.4m0.1 0h1.4m3.6 0h1.4m2.5 0h1.4m0.1 0h3.9m2.1 0h1.9m0.6 0h1.4m1.1 0h1.4m1.6 0h1.4m1.6 0h2.3m5.6 0h1.9m0.1 0h2.9m0.6 0h1.9m4.1 0h2.4m1 0h2.4m2.6 0h4.4m0.1 0h1.4m0.6 0h1.4m1.1 0h1.4m0.1 0h1.4m1.5 0h1.4m0.6 0h1.9m2.1 0h1.4m1.1 0h1.4m1.6 0h1.9m1.1 0h1.9m5.5 0h1.4m5.6 0h3.4m5.6 0h2.4m2.5 0h1.4m0.6 0h1.4m4.1 0h1.4m0.6 0h1.4m1.6 0h1.4m0.6 0h1.4m0.5 0h2.4m0.6 0h5.4m1.6 0h2.4m1.1 0h1.4m2.6 0h1.4m0.1 0h1.4m1 0h1.9m4.6 0h1.4m0.6 0h1.9m1.6 0h2.4m0.1 0h1.4m1.6 0h2.8m4.6 0h1.4m0.1 0h3.9m4.6 0h1.9m1.1 0h1.4m1 0h2.4m0.6 0h2.4m2.1 0h1.4m1.1 0h1.4m2.6 0h2.4"/>
<path d="M81.9 390.73h1.4m10.6 0h1.4m3.5 0h1.4m5.6 0h1.4m0.6 0h1.4m3.6 0h1.4m0.1 0h1.4m2.5 0h1.4m1.1 0h1.4m1.1 0h1.4m5.1 0h2.9m2.1 0h3.3m3.1 0h1.4m1.1 0h1.4m0.1 0h1.4m1.1 0h1.4m0.1 0h1.4m2.1 0h1.4m0.1 0h2.8m0.6 0h1.9m3.1 0h1.4m0.6 0h1.4m1.6 0h1.4m0.1 0h1.4m2.1 0h2.4m1.5 0h5.4m1.1 0h1.9m1.1 0h1.4m3.1 0h1.4m0.6 0h1.4m6 0h2.9m3.6 0h1.4m7 0h2.4m1.1 0h1.4m1.1 0h1.4m0.6 0h1.4m0.1 0h1.4m2.6 0h2.4m3.6 0h1.4m5.5 0h1.4m7.6 0h2.4m12.5 0h1.9m4.6 0h1.4m0.1 0h1.4m1.5 0h1.4m2.6 0h1.4m4.6 0h2.4m9.5 0h1.4m0.1 0h1.4m2.6 0h1.9m11 0h2.4m2.6 0h1.9m0.6 0h1.4m3.1 0h1.4m2.6 0h1.4m0.1 0h1.4m0.5 0h1.4m2.6 0h2.4m1.6 0h1.4m2.6 0h1.4m4.6 0h2.8m3.1 0h3.9m1.6 0h1.4m0.6 0h1.4m0.1 0h1.4m0.1 0h1.4m1.6 0h2.8m13.1 0h1.4m2.1 0h2.8m2.1 0h2.4m5.6 0h1.4m2.1 0h1.4m7 0h1.4m1.6 0h1.4m0.6 0h1.4m5.1 0h1.9m0.1 0h1.4m4.5 0h1.4m0.1 0h1.9m1.6 0h2.4m0.6 0h3.4m3.1 0h1.4m6 0h2.4m0.1 0h1.9m7.6 0h1.4m1.6 0h3.8m2.6 0h1.4m6.6 0h1.4m2.1 0h1.4m0.1 0h1.4m2.5 0h2.4m9.1 0h1.4m5.5 0h1.4m18.5 0h1.4m1.1 0h1.4m4.1 0h2.4m5.6 0h1.4m0.1 0h1.4m1.5 0h1.4m0.6 0h1.9m4.1 0h1.9m1.6 0h1.4m0.6 0h1.4"/>
<path d="M81.9 393.47h1.4m2.1 0h1.4m0.6 0h3.4m3.1 0h2.8m0.6 0h2.4m0.1 0h1.4m1.1 0h1.9m0.6 0h2.9m2.6 0h3.4m3.5 0h1.4m1.1 0h1.9m2.1 0h1.9m0.1 0h1.4m3.1 0h1.9m2.6 0h1.8m1.1 0h1.4m0.1 0h1.4m0.6 0h1.9m3.1 0h4.9m3.6 0h2.8m0.6 0h1.9m2.1 0h1.4m0.1 0h1.4m1.6 0h3.4m6.5 0h2.4m5.6 0h1.4m0.6 0h1.4m3.6 0h2.4m7 0h1.4m0.6 0h2.9m3.6 0h1.4m8 0h1.9m2.1 0h1.9m3.1 0h1.4m1.1 0h1.4m0.6 0h1.4m0.6 0h2.3m0.6 0h1.4m2.1 0h4.9m0.1 0h2.4m0.6 0h2.9m0.1 0h2.9m2.5 0h3.4m0.1 0h1.4m3.1 0h2.4m2.1 0h1.4m2.6 0h2.8m0.6 0h1.4m0.1 0h1.4m1.6 0h1.4m0.1 0h1.4m1.1 0h1.4m0.6 0h1.4m10 0h1.4m3.6 0h2.4m0.1 0h1.4m1.6 0h1.4m1.6 0h1.4m2.5 0h1.4m2.1 0h2.9m3.6 0h1.9m1.1 0h1.4m1.6 0h1.4m1.5 0h4.4m0.1 0h1.4m0.6 0h1.4m0.1 0h1.4m1.1 0h1.4m3.6 0h2.4m0.1 0h3.8m2.1 0h1.4m4.1 0h1.9m4.6 0h1.4m0.6 0h1.4m1.5 0h1.9m1.1 0h1.9m0.6 0h2.4m0.1 0h1.4m1.1 0h3.9m0.6 0h1.4m0.6 0h1.4m0.5 0h1.4m0.6 0h2.4m0.1 0h1.4m3.1 0h1.9m0.6 0h1.4m5.1 0h1.4m1 0h2.9m0.1 0h1.4m0.1 0h1.9m1.1 0h1.9m2.6 0h1.4m2.1 0h2.4m0.1 0h3.8m0.6 0h1.4m1.6 0h2.4m16 0h1.4m2.1 0h1.4m3.1 0h2.9m3.6 0h1.4m0.5 0h1.4m3.6 0h1.4m1.6 0h1.4m0.1 0h2.4m3.6 0h1.4m4 0h1.4m3.6 0h1.9m1.1 0h3.4m3.6 0h1.4m3.5 0h1.4m0.6 0h1.4m3.1 0h1.4m0.6 0h1.4m1.1 0h1.9m4.5 0h2.4m2.1 0h1.4m1.1 0h1.4m0.6 0h1.4m2.6 0h1.9m3.6 0h2.4m9 0h2.4m1.6 0h1.4m3.1 0h1.4"/>
<path d="M79.4 396.21h1.4m6.6 0h1.4m4.1 0h1.4m2.5 0h1.4m0.1 0h1.4m4.1 0h1.4m3.1 0h1.4m9 0h1.4m0.6 0h1.4m3.1 0h3.4m1.6 0h1.4m2.6 0h1.4m0.5 0h1.4m15.1 0h1.4m0.6 0h2.8m0.6 0h1.4m0.6 0h1.4m1.1 0h1.4m2.1 0h1.4m1.6 0h1.4m1.6 0h1.4m5.5 0h1.4m2.1 0h1.4m4.6 0h1.4m3.6 0h1.4m0.5 0h1.9m1.6 0h1.4m2.1 0h1.4m0.6 0h1.4m2.6 0h1.4m1.1 0h1.4m5.5 0h5.4m2.1 0h1.4m1.1 0h1.9m1.1 0h1.4m1.1 0h2.8m6.6 0h1.4m2.6 0h1.4m2.6 0h2.4m0.1 0h1.4m4 0h1.4m2.1 0h2.4m1.6 0h1.4m0.1 0h2.4m0.1 0h1.4m1.6 0h1.4m0.5 0h1.9m0.1 0h1.9m0.6 0h1.4m2.1 0h2.4m1.1 0h1.9m1.6 0h1.4m6.5 0h1.4m0.6 0h1.4m1.1 0h1.4m3.6 0h1.4m1.6 0h2.4m3.5 0h1.9m1.6 0h1.4m1.1 0h1.4m3.6 0h2.4m0.1 0h1.4m0.6 0h1.9m1.5 0h1.9m1.1 0h1.4m6.6 0h1.9m0.1 0h1.4m1.1 0h3.4m0.5 0h2.4m0.6 0h1.4m8.6 0h2.9m0.1 0h1.4m0.1 0h1.9m2.5 0h1.4m1.1 0h1.9m1.1 0h1.4m0.6 0h1.4m0.6 0h2.4m3.6 0h1.4m5.5 0h1.4m0.6 0h1.4m0.6 0h2.4m4.1 0h1.4m0.1 0h2.4m0.5 0h1.4m0.6 0h2.4m2.6 0h1.9m2.1 0h1.9m0.6 0h2.4m1.6 0h1.4m0.1 0h1.4m2.5 0h1.4m0.6 0h1.4m2.6 0h2.4m0.1 0h2.4m6 0h1.4m2.6 0h1.4m1.6 0h1.4m3.6 0h1.4m0.6 0h1.9m5.5 0h1.9m0.1 0h1.4m0.1 0h1.4m5.6 0h2.4m3.6 0h1.4m0.1 0h1.4m0.5 0h1.4m0.6 0h1.4m3.1 0h1.9m2.1 0h2.9m0.6 0h1.4m1.1 0h1.4m5.5 0h1.4m0.6 0h2.9m3.1 0h2.9m2.1 0h1.4m0.5 0h1.9m0.6 0h1.4m3.1 0h2.9m0.6 0h1.4m1.6 0h2.4m3.1 0h1.4m1 0h1.4m0.1 0h1.4m1.1 0h2.4m3.1 0h1.4m6.1 0h1.4"/>
<path d="M78.9 398.95h1.4m5.6 0h2.9m0.1 0h1.4m7.5 0h1.4m3.6 0h1.4m0.1 0h1.4m0.1 0h1.4m9 0h1.4m1.6 0h1.4m9.6 0h1.4m0.1 0h1.4m0.1 0h1.4m1 0h1.4m4.1 0h1.4m1.6 0h1.9m9.5 0h1.4m0.1 0h1.4m15.6 0h1.4m2.5 0h1.9m0.6 0h1.4m0.1 0h1.4m0.1 0h1.4m0.1 0h1.4m4.1 0h1.4m0.1 0h1.4m12 0h1.4m6.1 0h1.4m0.5 0h1.4m0.6 0h1.4m6.6 0h2.4m9 0h2.9m2.6 0h2.4m7.1 0h1.4m2.5 0h1.4m3.6 0h1.4m0.1 0h1.9m5.6 0h1.4m0.6 0h1.4m8.5 0h1.4m0.1 0h1.4m2.1 0h1.4m1.6 0h1.4m0.1 0h1.4m2.1 0h1.4m1 0h1.4m5.6 0h1.4m2.6 0h1.4m2.1 0h1.4m1.1 0h2.8m4.1 0h1.9m0.1 0h1.4m3.1 0h1.4m0.6 0h2.4m1.6 0h2.8m2.6 0h1.4m5.1 0h1.4m2.1 0h3.4m6.5 0h2.4m3.6 0h1.9m0.6 0h1.4m1.1 0h1.4m3.5 0h3.4m5.6 0h2.4m1.6 0h1.4m0.1 0h1.9m2.1 0h1.9m3.5 0h1.4m5.1 0h1.4m3.1 0h1.4m1.6 0h1.4m4 0h1.4m16 0h1.4m5.1 0h1.4m2.6 0h1.4m8.5 0h1.4m0.6 0h1.4m8.6 0h1.4m2.6 0h1.9m4 0h1.9m1.1 0h1.4m4.1 0h1.4m1.1 0h1.4m1.1 0h1.4m0.1 0h1.9m2 0h2.9m2.1 0h2.9m3.6 0h1.4m4.1 0h2.3m3.1 0h1.9m7.1 0h1.4m1.1 0h2.4m10.5 0h1.4m4.6 0h1.4m0.1 0h1.4m2.5 0h1.4m2.1 0h1.9m3.6 0h2.4"/>
<path d="M81.4 401.69h1.4m0.1 0h4.4m0.1 0h1.4m1.6 0h1.4m0.6 0h1.4m1.1 0h2.3m1.6 0h1.4m1.1 0h1.4m1.6 0h1.4m1.1 0h1.4m2.6 0h1.4m7.5 0h1.4m1.1 0h1.4m0.6 0h2.9m0.1 0h1.4m0.6 0h3.4m3.5 0h1.4m3.6 0h1.4m5.1 0h1.4m0.6 0h2.4m5 0h1.4m0.6 0h3.4m2.1 0h2.4m0.6 0h3.4m6 0h1.4m1.1 0h1.4m0.6 0h1.4m3.6 0h1.9m0.1 0h1.9m9 0h1.4m1.6 0h3.4m4.6 0h1.4m5 0h1.4m2.1 0h3.9m0.6 0h2.9m0.1 0h1.4m4.6 0h1.4m1 0h1.4m0.1 0h1.9m0.6 0h1.4m5.6 0h2.4m4.6 0h1.4m4 0h2.4m0.6 0h2.4m0.1 0h1.4m1.1 0h1.4m2.1 0h1.4m2.1 0h1.8m3.6 0h1.9m2.6 0h2.4m2.6 0h1.4m1.6 0h1.4m1 0h1.4m0.1 0h1.4m5.6 0h1.9m0.6 0h1.4m0.6 0h1.4m0.1 0h1.9m2.1 0h1.4m3 0h1.9m7.1 0h1.4m2.1 0h2.4m1.5 0h2.4m5.1 0h3.4m4.6 0h1.4m2.1 0h2.8m2.1 0h1.4m4.6 0h1.4m0.6 0h1.4m1.1 0h1.4m2.1 0h1.4m1 0h1.4m1.6 0h1.9m1.6 0h1.4m3.1 0h1.4m4.1 0h6.3m0.6 0h1.4m3.6 0h3.4m2.6 0h1.4m5 0h1.4m1.6 0h1.4m0.6 0h1.4m5.1 0h1.4m2.1 0h2.9m2.5 0h2.9m1.6 0h1.4m6.6 0h1.4m1.6 0h3.4m0.5 0h1.4m1.6 0h1.4m2.1 0h1.4m0.1 0h1.4m1.6 0h1.4m0.6 0h1.4m2.1 0h1.4m2.5 0h2.4m1.6 0h1.4m0.6 0h1.4m2.6 0h1.4m0.6 0h2.4m1.1 0h1.4m1 0h1.4m0.6 0h1.4m0.6 0h1.4m2.6 0h1.4m2.1 0h1.4m1.1 0h2.9m0.6 0h1.4m0.6 0h1.4m0.5 0h4.4m0.6 0h1.4m6.1 0h3.9m5.5 0h1.4m0.1 0h1.4m0.6 0h1.4m4.6 0h1.4m2.6 0h1.9m0.1 0h1.4m3.5 0h1.4m2.6 0h1.4m4.6 0h1.4m1.6 0h1.4"/>
<path d="M79.4 404.43h1.4m0.1 0h1.4m16.5 0h1.4m5.6 0h1.4m2.6 0h1.4m1.1 0h1.4m0.1 0h2.4m5 0h1.4m1.1 0h2.4m1.6 0h1.4m2.1 0h1.4m0.6 0h1.4m10 0h1.4m7.1 0h1.4m3 0h1.4m16 0h1.4m1.1 0h1.4m2.1 0h1.9m3.1 0h1.4m1.1 0h1.4m1.1 0h2.4m13.5 0h1.4m2.6 0h2.4m0.1 0h1.4m0.5 0h1.4m0.6 0h1.4m2.1 0h2.4m0.1 0h1.4m4.1 0h1.4m0.6 0h1.4m4.5 0h2.4m7.6 0h1.4m1.6 0h1.4m5 0h1.4m6.6 0h1.4m3.6 0h1.4m3.1 0h1.4m1 0h1.4m5.1 0h1.4m4.1 0h1.4m0.1 0h1.4m12 0h1.4m2.6 0h1.4m0.6 0h1.4m0.6 0h1.4m13 0h1.4m0.6 0h1.4m7.5 0h2.9m0.1 0h1.4m0.1 0h1.4m1.6 0h1.9m3.6 0h1.4m6.5 0h1.4m0.1 0h1.4m3.1 0h1.4m3.1 0h1.4m5.5 0h1.9m4.6 0h1.4m0.6 0h1.4m1.6 0h1.4m3.1 0h1.4m5 0h1.4m0.6 0h1.4m1.6 0h1.4m10.1 0h1.4m7.5 0h1.4m4.6 0h1.4m0.1 0h1.9m7 0h1.9m0.1 0h1.4m2.1 0h1.4m7.6 0h1.4m10 0h1.4m1.6 0h1.4m0.6 0h1.4m9 0h1.4m1.1 0h1.4m5.1 0h1.4m6 0h2.9m1.6 0h1.4m7.6 0h1.4m1.1 0h1.4m1 0h2.4m9.1 0h1.4m7.5 0h1.9m6.1 0h1.4m16 0h2.4m4.6 0h1.4m2.6 0h1.4"/>
<path d="M79.4 407.17h3.4m1.1 0h1.4m0.6 0h2.4m5.1 0h1.4m0.5 0h1.4m1.6 0h1.4m1.6 0h1.4m2.1 0h1.4m1.6 0h1.4m3.1 0h1.4m0.6 0h1.4m6 0h1.4m1.1 0h1.4m6.6 0h1.9m1 0h1.4m1.6 0h1.4m2.6 0h1.9m0.6 0h1.4m2.6 0h2.4m1.6 0h1.4m0.1 0h1.4m0.5 0h1.4m0.6 0h1.9m0.1 0h2.4m4.6 0h1.4m12.5 0h1.9m1.1 0h2.4m1.6 0h1.4m1.6 0h2.4m5.5 0h1.9m3.6 0h2.9m1.1 0h1.9m10.5 0h2.4m2.1 0h1.4m0.1 0h3.9m2.1 0h1.4m2.5 0h1.4m6.6 0h1.4m0.1 0h1.4m0.1 0h1.4m0.1 0h1.4m0.6 0h1.9m0.1 0h2.8m1.6 0h1.4m0.1 0h3.4m8.1 0h2.4m0.6 0h2.8m0.1 0h1.4m0.1 0h1.4m1.6 0h1.4m0.6 0h1.4m0.1 0h1.9m2.1 0h1.4m1.1 0h2.9m0.1 0h1.4m1.5 0h1.4m2.6 0h1.4m0.1 0h1.4m1.6 0h3.9m0.1 0h2.4m8 0h1.4m11.6 0h1.4m0.5 0h2.4m2.1 0h1.9m0.1 0h1.9m3.1 0h1.4m3.6 0h1.4m2 0h1.4m1.1 0h1.4m3.1 0h1.4m0.1 0h3.9m0.6 0h1.4m0.6 0h1.4m0.6 0h1.4m1.5 0h2.9m3.1 0h2.4m2.6 0h1.4m0.1 0h1.4m1.6 0h1.4m0.1 0h1.4m14 0h2.4m3.1 0h1.4m1.5 0h3.4m0.1 0h1.4m1.6 0h3.4m0.1 0h1.9m3.1 0h1.4m0.6 0h1.4m6 0h1.4m0.1 0h2.9m0.6 0h1.4m0.1 0h1.4m3.1 0h1.4m0.6 0h2.8m1.1 0h1.9m0.1 0h2.4m4.1 0h1.4m2.1 0h1.4m1.6 0h1.4m6 0h1.4m0.6 0h1.9m0.6 0h1.4m0.1 0h1.4m1.1 0h1.9m5.5 0h1.4m2.6 0h1.4m0.6 0h2.4m5.6 0h1.4m1.6 0h1.4m2 0h1.4m1.1 0h1.4m4.1 0h2.4m4.6 0h1.4m0.6 0h1.9m0.5 0h3.4m0.6 0h1.9m11.1 0h1.4m1 0h2.4m0.6 0h1.4m6.1 0h1.4m0.6 0h1.4m4.1 0h1.4"/>
<path d="M88.9 409.91h1.4m2.1 0h1.4m8.5 0h2.4m0.1 0h2.4m13 0h1.4m2.1 0h1.4m3.6 0h1.4m7 0h1.4m0.1 0h1.4m4.6 0h1.4m1.6 0h1.4m0.1 0h3.4m0.1 0h1.9m2 0h1.4m1.6 0h1.4m5.1 0h1.4m3.6 0h1.4m3 0h2.4m1.1 0h1.4m0.1 0h1.4m5.6 0h1.4m6.5 0h1.4m1.6 0h1.4m2.1 0h1.4m0.1 0h1.4m3.6 0h1.4m6.5 0h1.4m2.1 0h1.4m7.1 0h1.4m1.1 0h1.4m2.1 0h1.4m5 0h1.4m11.6 0h2.8m1.6 0h1.4m1.6 0h1.9m0.1 0h1.4m1.6 0h1.4m3.1 0h1.4m2.6 0h1.4m8 0h1.4m6.6 0h1.9m0.1 0h3.8m0.6 0h2.4m7.6 0h1.4m3.1 0h1.4m0.1 0h1.4m12 0h1.4m0.1 0h1.4m3.1 0h2.3m5.6 0h1.4m1.6 0h1.4m1.1 0h1.9m5.1 0h1.4m3 0h2.4m1.6 0h1.4m1.6 0h1.4m0.6 0h2.4m1.6 0h1.9m5 0h1.4m1.1 0h1.4m1.6 0h1.4m2.1 0h1.4m1.1 0h1.4m0.1 0h1.4m1 0h1.4m16.1 0h1.4m1.5 0h2.4m0.6 0h1.4m2.1 0h1.4m7.1 0h1.4m6 0h1.4m9.1 0h1.4m0.1 0h1.4m0.1 0h1.4m4.5 0h1.4m3.1 0h1.4m3.1 0h2.4m4.1 0h1.4m4 0h1.4m1.1 0h1.4m1.6 0h1.4m12 0h1.4m11.1 0h1.4m1.6 0h1.4m3 0h1.4m1.6 0h2.4m3.1 0h1.9m4.6 0h1.4m1.5 0h1.4m3.6 0h1.9m3.6 0h1.4m10 0h1.4m0.1 0h2.4m1.6 0h1.4m4.1 0h1.4m1.1 0h1.4"/>
<path d="M78.9 412.64h1.4m4.6 0h1.4m9 0h2.4m0.6 0h1.4m1.6 0h1.4m0.1 0h1.4m0.1 0h1.4m2.6 0h1.4m3.1 0h2.4m10.5 0h7.4m0.1 0h1.4m0.1 0h1.4m0.5 0h1.4m0.6 0h1.4m1.1 0h1.4m8.6 0h1.4m4 0h1.4m4.1 0h1.4m5.1 0h1.9m3.1 0h1.9m3 0h1.4m7.6 0h1.4m4.6 0h1.4m9 0h1.9m4.1 0h1.4m0.1 0h1.9m4 0h1.4m2.1 0h1.4m5.1 0h2.4m1.6 0h2.4m3 0h1.4m2.6 0h2.4m4.6 0h1.4m1.1 0h2.4m0.1 0h1.9m4 0h1.4m0.1 0h1.4m0.6 0h1.4m3.6 0h1.4m0.6 0h2.4m0.1 0h1.4m1.6 0h1.4m2.5 0h1.4m3.6 0h1.4m0.6 0h1.9m0.6 0h1.4m1.1 0h1.4m4.5 0h2.9m4.1 0h1.9m2.1 0h1.4m0.1 0h1.4m1.1 0h1.4m8 0h2.4m0.6 0h2.9m1.6 0h2.4m0.6 0h1.9m0.1 0h1.9m1 0h3.4m0.1 0h1.4m3.1 0h2.4m0.1 0h1.9m1.1 0h2.4m11 0h1.4m1.1 0h1.4m0.1 0h1.4m1.1 0h2.4m2.5 0h1.4m2.6 0h1.4m2.6 0h1.4m11.5 0h3.9m2.1 0h1.4m1.1 0h1.4m7.6 0h1.4m3 0h1.4m0.1 0h3.4m0.1 0h1.4m2.6 0h1.4m1.6 0h1.4m3.1 0h1.4m3 0h1.9m4.1 0h1.4m0.1 0h1.4m0.1 0h1.4m0.6 0h1.4m3 0h1.4m2.6 0h1.4m1.6 0h2.4m0.6 0h1.4m0.6 0h1.4m0.6 0h1.4m1.6 0h1.4m1.1 0h1.4m6.5 0h1.4m3.6 0h1.4m0.6 0h1.4m7 0h1.9m3.1 0h1.4m5.1 0h1.4m3.6 0h1.9m1 0h1.4m0.1 0h1.4m0.6 0h1.9m2.1 0h1.4m0.6 0h1.4m0.6 0h1.4m2.1 0h1.4m0.6 0h1.8m2.1 0h1.4m1.6 0h1.4m1.1 0h1.4m1.6 0h2.9m0.6 0h1.4m2.1 0h1.4m0.5 0h1.4m1.6 0h1.4m6.6 0h1.4m3.6 0h1.9"/>
<path d="M78.4 415.38h1.4m0.6 0h1.4m3.1 0h1.4m1.1 0h1.4m3.1 0h1.4m0.6 0h1.4m2 0h1.4m2.6 0h1.4m2.1 0h1.4m10 0h1.4m0.6 0h2.9m1.1 0h2.9m10 0h1.4m1.6 0h1.9m6.6 0h1.4m0.6 0h1.4m1.6 0h1.4m5.5 0h2.4m2.6 0h2.9m4.1 0h4.4m2.5 0h4.4m8.6 0h1.4m2.6 0h2.8m0.1 0h1.4m4.6 0h2.4m2.1 0h2.4m3.1 0h1.4m1.5 0h1.4m0.1 0h1.4m2.1 0h1.4m0.6 0h1.4m4.1 0h1.4m0.1 0h1.9m0.6 0h1.4m0.5 0h2.4m12.1 0h1.4m0.6 0h2.4m0.6 0h2.8m1.6 0h1.4m2.1 0h1.4m0.1 0h1.9m3.1 0h1.4m1.6 0h1.4m0.1 0h1.4m0.1 0h2.8m1.6 0h1.9m6.1 0h2.4m0.6 0h1.4m0.6 0h1.4m0.6 0h1.4m0.5 0h1.4m3.6 0h2.4m1.6 0h1.4m0.6 0h1.4m1.6 0h1.4m1.6 0h2.9m2 0h2.4m3.6 0h1.9m1.6 0h1.9m2.6 0h1.4m0.6 0h1.4m3 0h2.4m0.1 0h2.4m4.6 0h1.4m3.6 0h1.4m0.1 0h2.3m4.6 0h2.4m7.6 0h2.4m4.5 0h1.4m9.6 0h2.4m0.1 0h1.9m1.5 0h1.4m0.1 0h1.9m2.6 0h1.4m1.1 0h1.4m1.6 0h1.4m5.1 0h1.4m3 0h3.4m1.1 0h1.4m0.6 0h1.4m3.6 0h1.4m1.6 0h1.4m0.6 0h1.8m0.1 0h1.4m2.1 0h1.4m3.1 0h2.4m0.1 0h1.4m6 0h1.4m5.6 0h1.4m7.1 0h1.4m2.6 0h3.8m3.1 0h1.4m6.1 0h1.4m9 0h1.4m0.1 0h1.9m5.1 0h1.4m0.6 0h1.9m0.1 0h1.4m4 0h1.4m2.1 0h1.4m3.1 0h1.9m5.6 0h1.4m0.1 0h1.4m6 0h1.4m1.1 0h3.4m2.6 0h2.4m2.1 0h1.4m0.5 0h3.4m6.1 0h2.9"/>
<path d="M84.4 418.12h1.4m4.1 0h1.4m0.6 0h1.4m7.5 0h1.4m1.1 0h2.4m1.1 0h1.4m2.1 0h1.4m1.1 0h1.4m2 0h1.4m1.6 0h1.4m5.1 0h1.9m3.1 0h1.4m5.5 0h1.4m0.1 0h1.4m3.1 0h1.4m2.1 0h1.4m3.1 0h1.4m2.5 0h1.4m8.6 0h2.4m1.6 0h1.4m3.1 0h1.4m5 0h1.4m1.6 0h1.4m2.1 0h1.4m4.1 0h1.4m0.1 0h1.9m0.5 0h1.4m2.6 0h1.4m1.1 0h2.4m2.1 0h1.4m6 0h1.4m2.1 0h1.4m4.6 0h1.4m5.6 0h2.4m1 0h1.4m16.1 0h1.4m1.5 0h1.4m6.1 0h1.4m2.6 0h1.4m1.6 0h4.9m1.5 0h1.9m0.6 0h2.4m0.6 0h1.4m2.6 0h1.4m0.6 0h1.4m0.1 0h2.4m0.1 0h3.4m1.5 0h2.4m4.1 0h1.4m2.6 0h1.4m0.1 0h2.4m1.1 0h2.4m0.1 0h1.4m0.5 0h1.4m2.1 0h2.4m2.1 0h2.9m1.6 0h1.4m2.1 0h1.4m0.1 0h1.4m0.5 0h1.4m1.1 0h1.4m4.6 0h1.4m1.1 0h1.4m1.1 0h1.4m0.6 0h1.4m3 0h1.4m6.1 0h1.4m1.1 0h1.4m1.1 0h2.4m3.1 0h1.4m1 0h1.4m1.6 0h1.4m0.1 0h2.9m3.1 0h1.4m6 0h1.4m6.1 0h1.4m3.6 0h1.4m0.6 0h1.4m6.5 0h1.4m0.6 0h2.4m4.1 0h1.4m0.1 0h1.4m0.6 0h1.4m0.1 0h2.4m0.6 0h2.4m3.5 0h1.4m2.6 0h1.4m1.1 0h1.4m0.6 0h2.4m0.1 0h2.4m1.1 0h1.4m2 0h1.4m1.1 0h1.4m0.1 0h1.4m0.1 0h1.9m1.1 0h2.9m0.6 0h2.9m0.1 0h1.4m0.6 0h3.8m1.1 0h1.4m2.1 0h1.4m4.6 0h1.4m3.6 0h2.8m4.6 0h1.4m1.6 0h1.4m2.1 0h1.4m0.6 0h1.4m0.6 0h1.9m2.5 0h1.4m15.6 0h1.4m3.5 0h1.4m4.6 0h1.4m9 0h1.4m0.6 0h1.4m1.1 0h2.4m0.6 0h1.9"/>
<path d="M78.4 420.86h1.4m1.6 0h1.4m0.6 0h1.4m0.6 0h1.4m0.1 0h1.4m2.6 0h1.4m3 0h1.4m8.6 0h1.4m3.6 0h1.4m3.6 0h1.4m17 0h1.4m1 0h1.4m1.6 0h1.4m10.6 0h1.4m0.1 0h4.8m0.1 0h1.4m5.1 0h1.4m1.1 0h2.4m3.6 0h1.4m0.1 0h1.4m3 0h1.4m7.1 0h1.4m0.1 0h1.4m7 0h1.4m1.1 0h1.4m3.6 0h1.4m4.1 0h1.4m7.5 0h1.4m8.1 0h1.4m3.1 0h1.4m1 0h1.4m6.6 0h1.4m2.6 0h1.4m2.1 0h1.4m2.5 0h3.4m17 0h1.4m1.6 0h2.4m1.1 0h1.4m1.6 0h1.4m3.6 0h1.4m7 0h1.4m0.6 0h1.4m1.1 0h1.4m6.6 0h1.4m2.6 0h1.4m0.5 0h1.4m1.1 0h2.4m3.1 0h1.4m5.1 0h1.4m3 0h2.9m2.6 0h1.4m1.6 0h2.4m4.1 0h1.4m3.5 0h1.4m0.1 0h1.4m0.6 0h1.4m3.1 0h2.9m0.6 0h1.4m4.1 0h1.4m1 0h1.4m0.1 0h1.4m6.1 0h1.4m0.1 0h2.4m1.6 0h1.4m6.5 0h1.4m1.1 0h1.4m3.6 0h4.4m3.1 0h2.4m3 0h1.4m5.1 0h1.4m1.6 0h2.4m0.1 0h1.4m0.6 0h1.4m3 0h1.4m0.1 0h2.9m0.1 0h1.9m2.6 0h1.4m3.1 0h1.4m0.6 0h1.4m5 0h1.9m1.1 0h1.4m5.6 0h1.4m1.6 0h2.9m15 0h1.4m3.1 0h1.4m5 0h1.4m0.1 0h1.4m9.1 0h1.4m0.1 0h1.4m1.5 0h1.4m1.6 0h1.4m1.1 0h1.9m1.1 0h1.4m0.1 0h1.4m2.1 0h1.4m0.6 0h1.4m4.5 0h2.4m3.6 0h1.4m1.1 0h1.4m0.6 0h1.4m5 0h1.4m2.1 0h1.4m1.6 0h2.4m6.1 0h1.4"/>
<path d="M79.9 423.6h1.4m8.1 0h2.4m0.1 0h1.4m3 0h1.4m2.1 0h1.9m0.6 0h1.9m1.1 0h1.9m3.6 0h1.4m1.6 0h1.4m5 0h1.4m2.1 0h2.4m1.1 0h1.4m3.1 0h1.4m9 0h1.4m1.6 0h1.4m4.1 0h1.4m1.1 0h1.4m4.5 0h1.4m0.6 0h1.4m5.6 0h1.4m5.5 0h1.4m4.6 0h1.4m1.1 0h1.4m0.1 0h1.4m0.6 0h3.4m2.6 0h1.4m1 0h1.4m1.1 0h1.9m13.1 0h1.4m0.1 0h2.8m0.1 0h1.4m0.6 0h1.4m0.6 0h3.4m9.1 0h2.3m9.6 0h1.4m6.1 0h2.8m0.6 0h1.4m0.1 0h1.4m19 0h1.4m1.6 0h1.4m0.6 0h2.9m1.1 0h1.4m6 0h1.4m4.6 0h1.4m0.6 0h1.4m3.6 0h1.4m0.6 0h1.4m1.6 0h1.4m2 0h2.4m5.6 0h1.4m0.6 0h1.4m1.1 0h1.9m5.5 0h1.4m0.1 0h1.4m3.6 0h2.9m8.1 0h1.9m2 0h2.9m2.6 0h1.4m6.1 0h1.4m0.1 0h1.4m0.5 0h1.4m4.6 0h1.4m2.6 0h1.4m1.1 0h1.4m1.1 0h1.4m17 0h1.4m8.5 0h1.4m2.1 0h2.4m14.5 0h1.4m3.1 0h1.4m1.1 0h2.9m0.6 0h1.4m1.6 0h2.4m1 0h1.4m12.1 0h1.4m5.5 0h1.4m0.1 0h1.4m4.6 0h1.4m0.6 0h1.4m1.1 0h1.4m0.1 0h1.9m4 0h2.9m1.1 0h2.4m5.1 0h1.9m3.6 0h1.4m1.5 0h1.4m4.1 0h1.4m3.1 0h1.4m5.6 0h1.4m2.5 0h1.4m3.6 0h1.4m0.6 0h1.4m4.6 0h2.9m2.1 0h1.8m4.6 0h1.4m2.1 0h1.4m0.6 0h2.4m1.1 0h1.9m1.6 0h1.4"/>
<path d="M80.4 426.34h1.4m1.6 0h1.4m1.6 0h1.4m2.1 0h1.9m5.5 0h1.4m3.6 0h1.4m1.1 0h1.4m3.6 0h2.4m3.1 0h1.4m2 0h1.4m0.6 0h1.4m2.1 0h1.4m3.6 0h1.9m0.6 0h1.4m7 0h1.4m2.1 0h1.4m0.6 0h2.4m4.6 0h1.4m1 0h1.4m3.6 0h1.9m8.6 0h1.9m7 0h1.4m1.1 0h1.4m5.1 0h1.4m1.1 0h1.4m0.1 0h1.9m2.5 0h1.4m0.1 0h1.4m11.1 0h1.4m13.5 0h1.4m7.1 0h2.3m3.6 0h2.4m0.1 0h1.4m0.6 0h1.4m10 0h1.4m1.1 0h1.4m3.1 0h1.4m1.6 0h2.4m0.1 0h1.4m0.1 0h1.4m2.1 0h2.4m1 0h1.4m6.6 0h1.4m3.1 0h1.4m1.6 0h1.4m8.5 0h1.4m3.6 0h1.4m3.1 0h1.4m10 0h1.4m8.1 0h3.3m2.6 0h1.4m0.1 0h1.4m1.1 0h1.9m2.1 0h1.4m0.1 0h3.4m8 0h1.4m8.1 0h1.4m15 0h1.9m8 0h1.4m5.1 0h1.4m2.6 0h2.9m4.1 0h1.4m0.5 0h1.4m6.6 0h1.4m2.1 0h1.4m4.6 0h2.9m0.5 0h1.9m11.6 0h1.4m1.1 0h1.4m3 0h1.4m3.1 0h1.4m4.1 0h1.4m1.1 0h2.9m2.1 0h1.4m4 0h1.4m3.6 0h1.4m12 0h1.4m2.6 0h1.4m0.6 0h1.4m0.1 0h1.4m0.6 0h1.4m4.6 0h2.3m4.6 0h1.4m4.1 0h4.4m1.1 0h4.8m1.1 0h1.4m4.1 0h1.9m10 0h1.4m4.1 0h1.4m6.1 0h1.4m3.1 0h1.4"/>
<path d="M92.4 429.08h1.4m4 0h1.9m0.6 0h1.4m3.1 0h1.4m8.1 0h1.4m1.5 0h1.4m1.1 0h1.4m10.1 0h1.4m1.6 0h1.4m0.5 0h1.4m1.1 0h1.4m1.6 0h1.4m12.5 0h1.4m11.6 0h1.4m7 0h1.4m1.6 0h1.4m4.1 0h2.4m0.6 0h1.4m1.1 0h1.4m2.5 0h1.4m8.1 0h1.4m7.6 0h1.4m9.5 0h2.4m9.5 0h1.4m7.1 0h1.4m3.6 0h1.4m3.5 0h2.4m3.6 0h1.4m2.6 0h1.4m2.6 0h1.4m5 0h1.4m6.1 0h1.4m3.1 0h1.4m1.1 0h1.4m6.5 0h1.4m0.6 0h1.4m1.6 0h2.9m2.1 0h1.4m0.6 0h1.4m3.6 0h1.4m1 0h1.4m2.6 0h1.4m0.6 0h1.4m2.6 0h1.4m0.6 0h2.4m2.1 0h1.4m2 0h1.4m3.1 0h1.4m0.1 0h1.4m2.1 0h1.4m1.1 0h1.4m0.1 0h2.4m0.1 0h1.4m5 0h1.4m3.6 0h1.4m3.6 0h1.4m0.6 0h1.4m2 0h1.4m1.1 0h1.4m0.6 0h1.4m4.1 0h1.4m8 0h1.4m2.6 0h1.4m8.6 0h1.4m9.5 0h1.4m4.6 0h2.4m0.1 0h1.4m3.6 0h2.9m17.5 0h1.4m0.5 0h3.9m11.6 0h1.4m0.6 0h1.4m4.5 0h2.4m7.1 0h1.4m2.6 0h1.4m8.5 0h1.4m5.6 0h2.9m0.1 0h1.4m0.1 0h1.4m2 0h1.4m4.1 0h1.4m4.1 0h1.4m5 0h1.4m4.1 0h1.4m1.1 0h1.4m4.1 0h1.4m2.6 0h1.4m9.5 0h1.4m0.1 0h1.4"/>
<path d="M79.4 431.82h1.4m6.1 0h1.4m1.1 0h1.4m5 0h1.4m10.6 0h1.4m0.6 0h1.4m2.1 0h1.4m7 0h2.4m9.6 0h1.9m0.5 0h1.4m0.6 0h1.4m0.1 0h1.4m1.6 0h1.4m0.1 0h1.4m3.6 0h1.4m0.6 0h1.4m0.1 0h1.4m1.5 0h1.4m2.6 0h1.4m2.1 0h2.4m1.1 0h1.4m2.6 0h1.4m0.1 0h1.4m1.1 0h1.4m2.5 0h1.4m2.1 0h1.4m4.6 0h1.4m1.6 0h1.4m2.5 0h1.4m3.1 0h1.4m2.6 0h1.4m4.6 0h1.4m1.1 0h2.9m2.5 0h1.4m0.1 0h1.4m0.6 0h1.4m7.1 0h1.4m4 0h1.4m0.6 0h1.4m1.6 0h1.4m8.6 0h1.4m1.6 0h1.4m1.5 0h1.4m0.1 0h1.4m3.1 0h1.4m6.6 0h1.4m4.5 0h1.4m3.1 0h1.9m0.1 0h1.4m3.6 0h3.4m2.1 0h1.4m0.5 0h1.4m7.6 0h1.9m0.1 0h1.4m0.6 0h1.4m2.6 0h1.4m0.1 0h1.4m2 0h2.4m1.1 0h1.4m0.6 0h1.4m0.6 0h1.4m2.6 0h1.4m1.6 0h1.4m0.1 0h1.4m3 0h1.9m2.6 0h2.4m1.6 0h3.4m0.6 0h1.9m0.6 0h1.4m0.6 0h1.4m1 0h1.4m3.6 0h1.4m3.1 0h1.4m0.6 0h1.4m2.1 0h1.4m0.6 0h4.3m2.1 0h1.4m2.1 0h2.9m3.1 0h1.9m0.1 0h1.9m1.5 0h2.9m0.1 0h1.4m4.6 0h3.9m0.6 0h1.9m0.1 0h2.4m1.1 0h1.4m3.5 0h1.4m1.6 0h2.4m7.6 0h1.4m2 0h1.9m0.6 0h1.9m0.1 0h1.4m0.6 0h1.4m1.1 0h1.4m8.5 0h1.4m0.6 0h3.9m6.6 0h1.4m2.6 0h1.4m0.1 0h3.4m2.5 0h1.4m3.1 0h1.4m4.1 0h2.4m0.6 0h1.4m0.6 0h2.8m0.6 0h1.9m0.1 0h1.4m2.1 0h1.4m21.5 0h1.4m0.6 0h3.4m0.1 0h1.4m0.6 0h1.4m2 0h1.9m0.1 0h1.9m8.1 0h1.4m1.1 0h1.4m1.6 0h1.9m2.5 0h1.4m2.1 0h1.4m0.1 0h1.4m1.6 0h1.4m3.6 0h1.4"/>
<path d="M84.4 434.56h1.4m0.1 0h1.4m14 0h1.4m4.1 0h1.4m1.6 0h1.9m1.1 0h1.4m4 0h1.4m1.6 0h1.4m15 0h1.4m1.1 0h1.4m18.5 0h1.4m1.6 0h1.9m6.6 0h1.4m6.5 0h1.4m1.6 0h1.9m5.6 0h1.4m14.5 0h1.4m2.1 0h1.4m4 0h1.4m0.1 0h2.4m1.1 0h1.4m2.1 0h1.4m2.1 0h1.4m1.6 0h2.4m1.1 0h2.8m6.6 0h1.4m4.1 0h1.4m3.6 0h2.4m2.5 0h1.4m0.1 0h1.9m1.1 0h1.4m2.1 0h1.4m34.9 0h2.9m1.6 0h1.9m3.6 0h1.4m5 0h1.4m1.6 0h3.4m4.1 0h1.9m1.1 0h1.4m7 0h1.4m9.6 0h1.4m6 0h1.9m1.6 0h1.9m0.1 0h1.4m0.1 0h1.4m0.1 0h1.4m4.6 0h1.4m13.5 0h1.4m0.6 0h1.4m0.1 0h1.4m0.1 0h1.4m3 0h1.4m1.6 0h1.4m5.1 0h1.4m2.1 0h1.4m1.5 0h2.9m22.5 0h1.4m0.1 0h1.4m2.6 0h2.4m5.1 0h3.3m7.1 0h1.4m2.1 0h1.4m1.6 0h1.4m1.1 0h1.4m2.5 0h1.4m1.1 0h1.4m5.1 0h1.4m5.1 0h1.4m8 0h1.4m0.1 0h1.4m8.6 0h1.4m3 0h1.4m9.6 0h1.4m2.6 0h1.4m1 0h1.4m6.6 0h1.4m2.6 0h1.4m0.6 0h1.4m0.1 0h1.4m7 0h1.4"/>
<path d="M95.3 437.3h1.4m2.6 0h1.4m5.6 0h1.4m15 0h1.4m8.1 0h2.4m12.5 0h1.4m21 0h1.4m1.1 0h1.4m22.9 0h1.4m2.6 0h1.4m11.6 0h1.4m4 0h1.4m8.1 0h1.4m16 0h1.4m6.1 0h1.4m25.4 0h1.4m3.1 0h1.4m6.1 0h1.4m4 0h1.9m1.1 0h1.9m6.6 0h1.4m4.1 0h1.4m1 0h1.4m3.6 0h1.4m1.6 0h1.4m6.1 0h1.4m28.4 0h1.4m4.1 0h1.4m3.1 0h2.4m13 0h1.4m1.1 0h1.4m21.5 0h1.4m9 0h1.4m6.6 0h1.4m21.9 0h1.4m8.6 0h1.4m17 0h1.4m19.5 0h1.4m25.5 0h1.4m39.9 0h1.4"/>
<path d="M83.4 440.03h1.9m0.6 0h1.9m3.1 0h1.4m0.6 0h1.4m3 0h1.9m6.1 0h1.4m11.5 0h1.4m1.1 0h1.4m21.5 0h1.4m24 0h1.4m10.5 0h1.4m8.6 0h1.4m3.5 0h1.4m6.1 0h1.9m2.1 0h1.4m19 0h1.4m3.6 0h1.4m0.5 0h1.4m3.6 0h1.4m4.1 0h1.4m2.6 0h1.4m9.5 0h1.4m3.1 0h1.4m1.1 0h1.4m11 0h1.4m3.1 0h1.9m9.5 0h1.4m16.6 0h1.4m2.5 0h1.4m10.1 0h1.4m0.1 0h1.4m7.5 0h1.4m4.6 0h1.4m6.6 0h1.9m10.5 0h2.4m1.6 0h1.4m1.6 0h2.4m2 0h1.4m25 0h1.4m4.1 0h1.4m3.5 0h1.4m2.6 0h1.4m5.1 0h1.4m6.6 0h1.4m3.5 0h1.4m3.1 0h1.4m8.6 0h1.4m9.5 0h1.4m10 0h1.9m26 0h1.4m0.6 0h1.4m6.1 0h1.4m6.5 0h1.4m3.1 0h1.4m12.5 0h1.4m8.6 0h1.4m3.1 0h1.4m0.5 0h1.4m6.1 0h1.4m8.6 0h1.4"/>
<path d="M96.8 442.77h2.4m0.6 0h1.4m14.5 0h1.4m10.1 0h1.4m11 0h1.4m6.1 0h1.4m1.6 0h1.4m0.1 0h1.4m20.5 0h1.4m14.5 0h2.4m5.5 0h1.4m3.6 0h1.4m5.1 0h1.4m3.6 0h1.4m8.5 0h1.4m12 0h1.4m7.1 0h1.4m1.6 0h1.4m0.1 0h1.4m9.5 0h1.4m0.1 0h1.4m7.1 0h2.4m10 0h1.4m2.1 0h1.4m7 0h2.4m8.6 0h1.4m12 0h1.9m8.6 0h1.4m1.1 0h1.9m1 0h1.4m11.1 0h1.4m2.6 0h1.4m4 0h1.4m12.6 0h1.4m6 0h1.4m7.1 0h1.4m5.5 0h1.4m1.6 0h1.4m3.6 0h1.4m5.1 0h1.4m3.1 0h1.4m16 0h1.4m15 0h1.4m8 0h1.4m27.5 0h1.4m8 0h1.4m13.1 0h1.4m0.1 0h1.4m20.5 0h1.4m13 0h1.4m5 0h1.4m7.1 0h1.4m1.1 0h1.4m4.6 0h1.4"/>
<path d="M83.9 445.51h1.4m21 0h1.4m15.5 0h1.4m4.6 0h1.4m4.5 0h1.4m1.1 0h1.4m11.1 0h2.4m17.5 0h1.9m0.6 0h1.4m5 0h1.4m10.6 0h2.4m4.5 0h1.4m3.6 0h1.4m1.1 0h1.4m9 0h1.4m2.6 0h1.9m12.1 0h1.4m1.5 0h1.4m20.5 0h1.4m3.1 0h1.4m1.6 0h2.4m1.1 0h1.4m3.1 0h2.8m11.1 0h1.4m9.5 0h1.4m2.6 0h1.4m0.1 0h1.4m6.6 0h1.4m3.5 0h1.4m3.1 0h1.4m1.1 0h1.4m2.6 0h1.4m2.1 0h1.4m1 0h1.4m1.1 0h1.4m8.6 0h1.4m2.1 0h2.4m5.5 0h1.9m2.6 0h1.4m4.6 0h2.4m7.5 0h1.4m12.1 0h3.8m0.1 0h1.4m0.1 0h1.4m1.6 0h1.4m1.6 0h1.4m10 0h2.4m5.1 0h2.4m0.6 0h1.4m1.1 0h1.4m15.5 0h1.4m3.6 0h1.4m10 0h1.4m1.1 0h1.4m1.6 0h1.4m0.6 0h1.4m0.6 0h1.9m0.6 0h1.4m9.5 0h1.4m3.6 0h1.4m17.5 0h1.4m2.1 0h1.4m1.5 0h1.4m1.1 0h1.4m8.6 0h1.9m0.6 0h1.4m0.6 0h1.4m2.5 0h1.4m8.6 0h1.4m0.1 0h1.4m7 0h1.4m9.6 0h2.9"/>
<path d="M79.4 448.25h1.9m1.1 0h1.4m0.6 0h1.4m16.5 0h1.4m5.6 0h1.4m30.9 0h1.4m5.6 0h1.4m8 0h1.4m7.6 0h1.4m13 0h1.4m6.1 0h1.4m9 0h1.4m5.6 0h1.4m1.1 0h1.4m17.5 0h1.4m9.5 0h1.4m9.1 0h1.4m1.6 0h1.9m35.9 0h1.4m3 0h1.4m14.6 0h1.4m6.5 0h1.4m42.4 0h1.4m4.1 0h1.4m11 0h1.4m52.4 0h1.8m0.6 0h1.4m26.5 0h1.4m6.1 0h1.4m7 0h2.4m6.6 0h1.4m2.6 0h1.4m12.5 0h1.4m0.1 0h1.9m13 0h2.4m0.1 0h1.4m1.6 0h1.4m0.1 0h1.4m10 0h1.4m4.1 0h1.9m2.1 0h1.4"/>
<path d="M80.9 450.99h1.4m4.6 0h1.9m7.5 0h1.4m15.1 0h1.4m2.5 0h1.9m5.1 0h1.9m4.1 0h1.4m5.5 0h1.4m14.1 0h1.4m37.9 0h1.9m0.6 0h1.4m9.5 0h1.4m0.1 0h1.4m2.6 0h1.4m23.4 0h1.4m5.6 0h1.4m5.6 0h1.4m6.5 0h4.4m10.1 0h1.4m3.5 0h1.4m15.1 0h2.4m4 0h1.4m2.1 0h1.4m25.5 0h1.4m2.1 0h1.4m4 0h1.4m8.6 0h1.4m17.5 0h1.4m9 0h1.9m7.1 0h1.4m5.1 0h1.4m2.5 0h1.4m8.6 0h1.4m0.6 0h1.4m14 0h1.9m7.5 0h1.4m9.1 0h2.4m12 0h1.4m1.1 0h1.4m21 0h1.4m22 0h1.9m3.1 0h1.4m21.4 0h1.4m2.1 0h1.4m1.1 0h1.9m26.5 0h1.4"/>
<path d="M81.9 453.73h1.4m13.5 0h1.4m12.1 0h1.4m4 0h1.4m3.6 0h1.4m2.1 0h1.4m15 0h1.4m35.4 0h1.4m7.1 0h1.4m14 0h1.4m0.6 0h1.4m11.5 0h1.4m3.6 0h1.4m9.1 0h1.4m7.5 0h1.4m13.5 0h1.4m5.1 0h1.4m27.5 0h2.4m5 0h1.9m0.6 0h1.4m2.6 0h1.4m4.1 0h1.4m7 0h1.4m6.1 0h1.4m13 0h1.4m15.5 0h1.4m12.6 0h1.4m9.5 0h1.4m6.1 0h1.4m6.5 0h1.4m4.1 0h1.4m11.5 0h2.4m2.6 0h1.4m6.1 0h1.4m39.9 0h1.4m5.5 0h1.9m18 0h1.4m3.6 0h1.4m3.1 0h1.4m16.5 0h1.4m16.5 0h1.4m7.6 0h1.4m11.5 0h1.4"/>
<path d="M91.9 456.47h2.4m6.5 0h1.4m36.9 0h1.4m26 0h1.4m6.6 0h1.4m32.4 0h1.4m23.5 0h1.4m1.5 0h1.4m3.1 0h1.4m31.5 0h1.4m9.5 0h1.4m1.1 0h1.4m17.5 0h1.4m5.6 0h1.4m9 0h1.4m18 0h1.4m5.1 0h1.4m5.5 0h1.4m19 0h1.4m3.1 0h1.4m3.1 0h1.4m10.5 0h1.4m8.1 0h1.4m1.6 0h1.4m20.5 0h1.4m1 0h1.4m24.5 0h1.4m10.6 0h1.4m48.3 0h1.4m21.5 0h1.4m26 0h1.4"/>
<path d="M104.3 459.21h1.4m26.5 0h1.4m22.9 0h1.4m28 0h1.4m3.1 0h1.4m7.5 0h1.4m2.6 0h1.4m7.6 0h1.4m34.4 0h1.4m0.1 0h1.9m2.1 0h1.4m8 0h1.4m3.1 0h1.4m6.5 0h1.4m4.1 0h1.4m3.6 0h1.4m1.6 0h1.4m9.5 0h1.4m22 0h1.4m5.1 0h1.4m1.1 0h1.4m11.5 0h1.4m9.5 0h1.4m12.6 0h1.4m15 0h1.4m4.6 0h1.4m5 0h1.4m34.4 0h1.4m19.5 0h1.4m5.1 0h1.4m4.1 0h1.9m21.5 0h1.4m16.5 0h1.4m5.5 0h1.4m16 0h1.4m8.6 0h1.4m1.1 0h1.4m11 0h1.4"/>
<path d="M79.4 461.95h1.4m19 0h1.4m0.1 0h1.4m2.1 0h1.4m6.1 0h1.4m0.1 0h1.4m31.4 0h1.4m0.1 0h1.4m0.1 0h1.4m2.1 0h1.4m2.5 0h1.4m5.6 0h1.4m32.4 0h1.4m10.6 0h1.4m9 0h1.4m19 0h1.4m1.1 0h1.9m9.5 0h1.4m0.1 0h1.4m2.1 0h1.4m3.6 0h1.4m1.6 0h1.4m2.1 0h1.4m3.5 0h1.4m7.6 0h1.4m2.6 0h2.4m2.1 0h1.4m10.5 0h1.4m5.6 0h2.4m17 0h1.4m14.5 0h1.4m9.5 0h1.4m2.1 0h1.4m1.1 0h1.4m1.6 0h1.4m1.1 0h1.4m1.1 0h2.4m9.5 0h1.4m6.1 0h1.4m9.5 0h1.4m5.1 0h1.4m11.5 0h1.4m0.1 0h1.4m5.6 0h1.4m15.5 0h1.4m15 0h1.4m8.1 0h1.4m11.5 0h1.4m18 0h1.4m1.6 0h1.4m18 0h1.4m18 0h1.4"/>
<path d="M88.9 464.69h1.4m0.1 0h1.4m5 0h1.4m55.4 0h1.4m13.5 0h2.4m0.1 0h1.4m7 0h1.4m44.4 0h1.4m2.6 0h1.4m8 0h1.4m7.1 0h1.4m8.5 0h1.4m20.5 0h1.4m34.9 0h1.4m21 0h1.4m4.1 0h1.4m6.1 0h1.4m10.5 0h1.4m9.1 0h1.4m9 0h1.4m9.5 0h1.4m7.1 0h1.4m49.3 0h1.4m50.9 0h1.4m12 0h1.4m7.6 0h1.4m8 0h1.4m9.6 0h1.4m8 0h1.4"/>
<path d="M137.1 467.42h1.4m25.5 0h1.4m2.1 0h1.4m5.6 0h1.4m20.9 0h1.4m6.1 0h1.4m8.6 0h1.4m1 0h1.4m85.2 0h1.9m18 0h1.4m1.1 0h1.4m7.5 0h1.4m17.1 0h1.4m29.4 0h1.4m11.5 0h1.4m4.1 0h1.4m5.6 0h1.4m29.9 0h1.4m76.7 0h1.4"/>
<path d="M85.9 470.16h1.4m83.2 0h1.4m75.7 0h1.4m27.4 0h1.4m15.1 0h1.4m23.9 0h1.4m12.1 0h1.4m3.5 0h1.4m13.1 0h1.4m61.7 0h1.4m22.5 0h1.4m13.6 0h1.4m9 0h1.4m1.1 0h1.4"/>
<path d="M116.2 472.9h1.4m28.5 0h1.4m27.9 0h1.4m65.8 0h1.4m31.4 0h1.4m30 0h1.4m81.7 0h1.4m10 0h1.4m62.8 0h1.4m12 0h1.4m18 0h1.4m10.1 0h1.4m10 0h1.4"/>
<path d="M125.7 475.64h1.4m17.5 0h1.4m6.6 0h1.4m19 0h1.4m6.5 0h1.4m0.1 0h1.4m16 0h1.4m50.9 0h1.4m17 0h1.4m21 0h1.4m23.9 0h1.4m2.6 0h1.4m54.3 0h1.4m4.6 0h1.4m3.1 0h1.4m7 0h1.4m13.6 0h1.4m48.3 0h1.4m5.6 0h1.4m22 0h1.4m46.8 0h1.4m0.1 0h1.4m1.6 0h1.9"/>
<path d="M124.2 478.38h1.4m30.9 0h1.4m47.9 0h1.4m22 0h1.4m15 0h1.4m20.5 0h1.4m2.1 0h1.4m9.5 0h1.4m8.1 0h1.4m1.5 0h1.4m0.1 0h1.4m36 0h1.4m16 0h1.4m27.4 0h1.4m10.1 0h1.4m0.1 0h1.4m28.4 0h1.4m22 0h1.4m5.1 0h1.4m19.5 0h1.4m18.5 0h1.4m2.5 0h1.4m3.6 0h1.4m3.1 0h1.4m9 0h1.4m36.4 0h1.4m13.1 0h1.4"/>
<path d="M102.8 481.12h1.4m25 0h1.4m20.5 0h1.4m0.1 0h1.4m26.9 0h1.4m1.6 0h1.4m42.9 0h1.4m9 0h1.4m1.6 0h1.4m20 0h1.4m7.6 0h1.4m1.5 0h1.4m2.1 0h1.4m18.5 0h1.4m0.1 0h1.4m38.9 0h1.4m21.5 0h1.4m1.1 0h1.4m9 0h1.4m2.6 0h1.4m11.1 0h3.3m25.5 0h1.4m7.6 0h1.4m9 0h1.4m11.5 0h1.4m3.6 0h1.4m2.6 0h1.4m12 0h1.4m2.6 0h1.4m13 0h1.4m3.6 0h1.4m0.1 0h1.4m2.1 0h1.4m9.5 0h1.4m9.6 0h1.4m0.6 0h1.4m9 0h1.4m2.6 0h1.4m14 0h1.9m11.1 0h1.4"/>
<path d="M95.3 483.86h1.4m25.5 0h1.4m14.5 0h1.4m2.1 0h1.4m61.3 0h1.4m12.5 0h1.4m23 0h1.4m4.1 0h1.4m21 0h1.4m9.5 0h1.4m18 0h1.4m9.1 0h1.4m0.1 0h1.4m1.5 0h1.4m27 0h1.4m33.9 0h1.4m3.1 0h1.4m35.9 0h1.4m24 0h1.4m114.5 0h1.4"/>
<path d="M143.1 486.6h1.4m15 0h1.4m58.8 0h1.4m82.2 0h1.4m82.7 0h1.4m132.4 0h1.4m27 0h1.4m1.1 0h1.4m9 0h1.4m2.1 0h1.4"/>
<path d="M131.2 489.34h1.4m72.2 0h1.4m119 0h1.4m23 0h1.4"/>
<path d="M93.4 492.08h1.4m49.3 0h1.4m3.1 0h1.4m49.3 0h1.4m70.3 0h1.4m31.9 0h1.4m45.9 0h1.4m9.5 0h1.4m14 0h1.4m5.1 0h1.4m137.9 0h1.4m4.1 0h1.4m15.5 0h1.4"/>
<path d="M243.1 494.81h1.4m42.4 0h1.4m11 0h1.4m6.1 0h1.4m39.4 0h1.4m72.2 0h1.4m54.3 0h1.4m38.4 0h1.4"/>
<path d="M164 497.55h1.4m105.1 0h1.4m73.7 0h1.4m0.6 0h1.4m9 0h1.4m15.5 0h1.4m30.5 0h1.4m107.5 0h1.4m33.5 0h1.4"/>
<path d="M426.7 498.1h1.4"/>
<path d="M340.6 498.73h1.4"/>
<path d="M176.9 500.29h1.4m63.8 0h1.4m55.3 0h1.4m68.8 0h1.4m9 0h1.4m77.2 0h1.4m21 0h1.4m10.1 0h1.4"/>
<path d="M560 500.42h1.4"/>
<path d="M116.2 501.42h1.4"/>
<path d="M337.1 502.89h1.4"/>
<path d="M118.7 503.03h1.4m40.9 0h1.4m70.3 0h1.4m138.4 0h1.4m4.5 0h1.4m74.2 0h1.4m30 0h1.4m25.5 0h1.4m2 0h1.4"/>
<path d="M327.7 503.53h1.4"/>
<path d="M241.1 505.77h1.4m37.9 0h1.4m54.3 0h1.4m4.1 0h1.4m48.9 0h1.4m13 0h1.4m19 0h1.4m5.1 0h1.4m17 0h1.4m0.5 0h1.4m24.5 0h1.4m76.2 0h1.4"/>
<path d="M475.4 506.32h1.4"/>
<path d="M176.4 507.28h1.4"/>
<path d="M473.9 507.83h1.4"/>
<path d="M250.6 508.51h1.4m6 0h1.4m51.9 0h1.4m23.9 0h1.4m143.4 0h1.4m66.3 0h1.4"/>
<path d="M171.5 508.85h1.4"/>
<path d="M121.2 511.25h1.4m323 0h1.4m18 0h1.4"/>
<path d="M82.4 511.27h1.4"/>
<path d="M303.8 511.32h1.4"/>
<path d="M354.1 512.22h1.4"/>
<path d="M172 512.47h1.4"/>
<path d="M373 513.99h1.4m163.7 0h1.4"/>
<path d="M414.2 514.69h1.4"/>
<path d="M111.3 516.73h1.4m95.1 0h1.4m92.1 0h1.4"/>
<path d="M79.4 519.47h1.4"/>
<path d="M133.2 520.41h1.4"/>
<path d="M178.9 523.83h1.4"/>
<path d="M215.7 526.82h1.4"/>
<path d="M82.4 533.34h1.4"/>
<path d="M282.4 550.35h1.4"/>
<path d="M142.6 560.55h1.4"/>
</g></g>
<path d="M59.76 387.99H592.19" stroke="#cd2626" stroke-width="2.25" stroke-dasharray="9 9" stroke-linecap="round" fill="none"/>
<path d="M294.9 580.24V47.81" stroke="#006400" stroke-width="2.25" stroke-dasharray="9 9" stroke-linecap="round" fill="none"/>
<path d="M356 580.24V47.81" stroke="#006400" stroke-width="2.25" stroke-dasharray="9 9" stroke-linecap="round" fill="none"/>
<rect x="59.76" y="47.81" width="532.43" height="532.43" fill="none" stroke="#000" stroke-width="0.75"/>
<text x="323.18" y="31.91" text-anchor="middle" font-weight="bold" font-size="21.5">Top hit for each peak</text>
<text x="325.98" y="626.14" text-anchor="middle" font-size="16">Distance to peak summit</text>
<text transform="translate(21.96 314.02) rotate(-90)" text-anchor="middle" font-size="15.7">Motif score</text>
<path d="M125.9 580.24H523.9M125.9 580.24v5.98M225.4 580.24v5.98M324.9 580.24v5.98M424.4 580.24v5.98M523.9 580.24v5.98" fill="none" stroke="#000" stroke-width="0.75"/>
<text x="125.9" y="601.74" text-anchor="middle" font-size="10.5">-400</text>
<text x="225.4" y="601.74" text-anchor="middle" font-size="10.5">-200</text>
<text x="324.9" y="601.74" text-anchor="middle" font-size="10.5">0</text>
<text x="424.4" y="601.74" text-anchor="middle" font-size="10.5">200</text>
<text x="523.9" y="601.74" text-anchor="middle" font-size="10.5">400</text>
<path d="M59.76 67.53V478.38M59.76 478.38h-5.98M59.76 341.43h-5.98M59.76 204.48h-5.98M59.76 67.53h-5.98" fill="none" stroke="#000" stroke-width="0.75"/>
<text transform="translate(45.06 478.38) rotate(-90)" text-anchor="middle" font-size="10.5">85</text>
<text transform="translate(45.06 341.43) rotate(-90)" text-anchor="middle" font-size="10.5">90</text>
<text transform="translate(45.06 204.48) rotate(-90)" text-anchor="middle" font-size="10.5">95</text>
<text transform="translate(45.06 67.53) rotate(-90)" text-anchor="middle" font-size="10.5">100</text>
<filter id="hm" filterUnits="userSpaceOnUse" x="675.76" y="27.81" width="584" height="576" color-interpolation-filters="sRGB">
<feGaussianBlur stdDeviation="4 2.2"/>
<feComponentTransfer><feFuncR type="table" tableValues="1 0 1"/><feFuncG type="table" tableValues="1 0 0"/><feFuncB type="table" tableValues="1 1 0"/></feComponentTransfer></filter>
<g clip-path="url(#c1)"><g filter="url(#hm)" shape-rendering="crispEdges">
<rect x="675.76" y="27.81" width="584" height="576" fill="#000"/>
<g stroke-width="4.3" fill="none">
<path stroke="#010101" d="M931.8 29.8h72M931.8 33.8h72M931.8 37.8h72M931.8 41.8h72M931.8 45.8h72M923.8 49.8h88M907.8 53.8h48M979.8 53.8h48M907.8 57.8h24M995.8 57.8h32M899.8 61.8h24M1011.8 61.8h24M891.8 65.8h24M1019.8 65.8h24M891.8 69.8h16M1027.8 69.8h24M723.8 73.8h176M1035.8 73.8h64M675.8 77.8h56M827.8 77.8h24M1075.8 77.8h184M675.8 81.8h24M1227.8 81.8h32M675.8 521.8h24M1227.8 521.8h32M675.8 525.8h32M1219.8 525.8h40M675.8 529.8h584M707.8 533.8h512"/>
<path stroke="#020202" d="M955.8 53.8h24M931.8 57.8h64M923.8 61.8h24M987.8 61.8h24M915.8 65.8h16M1003.8 65.8h16M907.8 69.8h16M1011.8 69.8h16M899.8 73.8h8M1019.8 73.8h16M731.8 77.8h96M851.8 77.8h40M1043.8 77.8h32M699.8 81.8h24M1195.8 81.8h32M675.8 85.8h32M1227.8 85.8h32M675.8 89.8h24M1227.8 89.8h32M1227.8 93.8h32M675.8 509.8h24M1227.8 509.8h32M675.8 513.8h32M1227.8 513.8h32M675.8 517.8h40M1219.8 517.8h40M699.8 521.8h32M835.8 521.8h16M1051.8 521.8h8M1195.8 521.8h32M707.8 525.8h512"/>
<path stroke="#030303" d="M947.8 61.8h40M931.8 65.8h16M979.8 65.8h24M923.8 69.8h8M1003.8 69.8h8M907.8 73.8h16M1011.8 73.8h8M891.8 77.8h16M1027.8 77.8h16M723.8 81.8h160M1051.8 81.8h144M707.8 85.8h8M1203.8 85.8h24M699.8 89.8h8M1219.8 89.8h8M675.8 93.8h32M1219.8 93.8h8M675.8 97.8h24M1227.8 97.8h32M675.8 101.8h24M1227.8 101.8h32M675.8 105.8h24M1227.8 105.8h32M675.8 497.8h24M1227.8 497.8h32M675.8 501.8h24M1227.8 501.8h32M675.8 505.8h32M1227.8 505.8h32M699.8 509.8h16M1219.8 509.8h8M707.8 513.8h16M1211.8 513.8h16M715.8 517.8h208M1051.8 517.8h168M731.8 521.8h104M851.8 521.8h200M1059.8 521.8h136"/>
<path stroke="#040404" d="M947.8 65.8h32M931.8 69.8h16M987.8 69.8h16M923.8 73.8h8M1003.8 73.8h8M907.8 77.8h8M1011.8 77.8h16M883.8 81.8h16M1027.8 81.8h24M715.8 85.8h160M1051.8 85.8h152M707.8 89.8h16M843.8 89.8h8M1075.8 89.8h144M707.8 93.8h8M1211.8 93.8h8M699.8 97.8h8M1219.8 97.8h8M699.8 101.8h8M1219.8 101.8h8M699.8 105.8h8M675.8 109.8h24M1227.8 109.8h32M675.8 113.8h24M1227.8 113.8h32M1227.8 117.8h32M675.8 493.8h24M1227.8 493.8h32M699.8 497.8h8M699.8 501.8h8M1219.8 501.8h8M707.8 505.8h8M1211.8 505.8h16M715.8 509.8h136M1051.8 509.8h8M1075.8 509.8h144M723.8 513.8h216M995.8 513.8h216M923.8 517.8h128"/>
<path stroke="#050505" d="M947.8 69.8h40M931.8 73.8h8M995.8 73.8h8M915.8 77.8h8M1003.8 77.8h8M899.8 81.8h16M1019.8 81.8h8M875.8 85.8h16M1043.8 85.8h8M723.8 89.8h120M851.8 89.8h24M1051.8 89.8h24M715.8 93.8h136M1059.8 93.8h152M707.8 97.8h16M1099.8 97.8h120M707.8 101.8h8M1211.8 101.8h8M707.8 105.8h8M1219.8 105.8h8M699.8 109.8h8M1219.8 109.8h8M699.8 113.8h8M1219.8 113.8h8M675.8 117.8h32M675.8 121.8h24M1227.8 121.8h32M675.8 125.8h24M1227.8 125.8h32M675.8 485.8h24M1227.8 485.8h32M675.8 489.8h24M1227.8 489.8h32M699.8 493.8h8M707.8 497.8h8M1219.8 497.8h8M707.8 501.8h16M1211.8 501.8h8M715.8 505.8h136M1051.8 505.8h160M851.8 509.8h88M1003.8 509.8h48M1059.8 509.8h16M939.8 513.8h56"/>
<path stroke="#060606" d="M939.8 73.8h16M979.8 73.8h16M923.8 77.8h8M995.8 77.8h8M915.8 81.8h8M1011.8 81.8h8M891.8 85.8h16M1027.8 85.8h16M875.8 89.8h16M1043.8 89.8h8M851.8 93.8h24M1051.8 93.8h8M723.8 97.8h128M1051.8 97.8h48M715.8 101.8h136M1067.8 101.8h144M715.8 105.8h8M1099.8 105.8h120M707.8 109.8h8M1211.8 109.8h8M1219.8 117.8h8M699.8 121.8h8M675.8 129.8h24M1227.8 129.8h32M1227.8 133.8h32M675.8 481.8h24M1227.8 481.8h32M699.8 485.8h8M699.8 489.8h8M707.8 493.8h8M1219.8 493.8h8M715.8 497.8h8M1211.8 497.8h8M723.8 501.8h128M1051.8 501.8h160M851.8 505.8h80M1003.8 505.8h48M939.8 509.8h64"/>
<path stroke="#070707" d="M955.8 73.8h24M931.8 77.8h16M987.8 77.8h8M923.8 81.8h8M1003.8 81.8h8M907.8 85.8h8M1019.8 85.8h8M891.8 89.8h8M1035.8 89.8h8M875.8 93.8h16M851.8 97.8h32M851.8 101.8h16M1051.8 101.8h16M723.8 105.8h128M1059.8 105.8h40M715.8 109.8h16M819.8 109.8h32M1067.8 109.8h144M707.8 113.8h8M1203.8 113.8h16M707.8 117.8h8M1211.8 117.8h8M1219.8 121.8h8M699.8 125.8h8M1219.8 125.8h8M699.8 129.8h8M675.8 133.8h24M675.8 137.8h24M1227.8 137.8h32M1227.8 141.8h32M675.8 477.8h24M1227.8 477.8h32M699.8 481.8h8M707.8 489.8h8M1219.8 489.8h8M715.8 493.8h8M1211.8 493.8h8M723.8 497.8h128M1051.8 497.8h160M851.8 501.8h72M1011.8 501.8h40M931.8 505.8h72"/>
<path stroke="#080808" d="M947.8 77.8h8M979.8 77.8h8M931.8 81.8h8M995.8 81.8h8M1011.8 85.8h8M899.8 89.8h8M1027.8 89.8h8M891.8 93.8h8M1035.8 93.8h16M883.8 97.8h8M867.8 101.8h16M851.8 105.8h24M1051.8 105.8h8M731.8 109.8h88M1051.8 109.8h16M715.8 113.8h136M1067.8 113.8h136M715.8 117.8h8M1115.8 117.8h96M707.8 121.8h8M1211.8 121.8h8M1219.8 129.8h8M699.8 133.8h8M675.8 141.8h24M675.8 145.8h24M1227.8 145.8h32M1227.8 149.8h32M675.8 473.8h24M1227.8 473.8h32M699.8 477.8h8M707.8 485.8h8M1219.8 485.8h8M715.8 489.8h8M1211.8 489.8h8M723.8 493.8h128M1051.8 493.8h160M851.8 497.8h64M1019.8 497.8h24M923.8 501.8h88"/>
<path stroke="#090909" d="M955.8 77.8h24M987.8 81.8h8M915.8 85.8h8M907.8 89.8h8M1019.8 89.8h8M1043.8 97.8h8M883.8 101.8h8M1043.8 101.8h8M875.8 105.8h8M851.8 109.8h24M851.8 113.8h16M1051.8 113.8h16M723.8 117.8h128M1067.8 117.8h48M715.8 121.8h8M1091.8 121.8h120M707.8 125.8h8M1211.8 125.8h8M707.8 129.8h8M1219.8 133.8h8M699.8 137.8h8M1219.8 137.8h8M699.8 141.8h8M675.8 149.8h24M1227.8 153.8h32M675.8 469.8h24M1227.8 469.8h32M699.8 473.8h8M1219.8 481.8h8M1211.8 485.8h8M723.8 489.8h128M1091.8 489.8h120M851.8 493.8h56M915.8 497.8h104M1043.8 497.8h8"/>
<path stroke="#0a0a0a" d="M939.8 81.8h16M979.8 81.8h8M923.8 85.8h8M1003.8 85.8h8M899.8 93.8h8M1027.8 93.8h8M891.8 97.8h8M1035.8 97.8h8M883.8 105.8h8M1043.8 105.8h8M875.8 109.8h8M867.8 113.8h8M851.8 117.8h8M1059.8 117.8h8M723.8 121.8h128M1067.8 121.8h24M715.8 125.8h8M1091.8 125.8h120M1211.8 129.8h8M707.8 133.8h8M1211.8 133.8h8M1219.8 141.8h8M699.8 145.8h8M675.8 153.8h24M1227.8 157.8h32M675.8 465.8h24M1227.8 465.8h32M699.8 469.8h8M1219.8 477.8h8M707.8 481.8h8M1211.8 481.8h8M715.8 485.8h16M843.8 485.8h8M1203.8 485.8h8M859.8 489.8h32M1051.8 489.8h40M907.8 493.8h32M995.8 493.8h56"/>
<path stroke="#0b0b0b" d="M955.8 81.8h24M931.8 85.8h8M995.8 85.8h8M915.8 89.8h8M1011.8 89.8h8M1019.8 93.8h8M899.8 97.8h8M1027.8 97.8h8M891.8 101.8h8M1035.8 101.8h8M891.8 105.8h8M1035.8 105.8h8M883.8 109.8h8M1043.8 109.8h8M875.8 113.8h8M859.8 117.8h16M1051.8 117.8h8M1059.8 121.8h8M723.8 125.8h128M1067.8 125.8h24M715.8 129.8h8M1091.8 129.8h120M1203.8 133.8h8M707.8 137.8h8M1211.8 137.8h8M1219.8 145.8h8M699.8 149.8h8M675.8 157.8h24M675.8 161.8h24M1227.8 161.8h32M1227.8 165.8h32M675.8 461.8h24M1227.8 461.8h32M699.8 465.8h8M1219.8 473.8h8M707.8 477.8h8M715.8 481.8h8M731.8 485.8h112M1051.8 485.8h152M851.8 489.8h8M891.8 489.8h32M1011.8 489.8h40M939.8 493.8h56"/>
<path stroke="#0c0c0c" d="M987.8 85.8h8M907.8 93.8h8M1027.8 101.8h8M891.8 109.8h8M1035.8 109.8h8M883.8 113.8h8M875.8 117.8h8M851.8 121.8h24M1051.8 121.8h8M1059.8 125.8h8M723.8 129.8h128M1075.8 129.8h16M715.8 133.8h8M1091.8 133.8h112M1203.8 137.8h8M707.8 141.8h8M1211.8 141.8h8M1219.8 149.8h8M699.8 153.8h8M675.8 165.8h24M1227.8 169.8h32M675.8 457.8h24M1227.8 457.8h32M1219.8 469.8h8M707.8 473.8h8M715.8 477.8h8M1211.8 477.8h8M723.8 481.8h128M1051.8 481.8h8M1075.8 481.8h136M851.8 485.8h56M923.8 489.8h88"/>
<path stroke="#0d0d0d" d="M939.8 85.8h8M923.8 89.8h8M1003.8 89.8h8M1011.8 93.8h8M1019.8 97.8h8M899.8 101.8h8M1027.8 105.8h8M1043.8 113.8h8M851.8 125.8h16M1067.8 129.8h8M723.8 133.8h128M1075.8 133.8h16M715.8 137.8h8M1091.8 137.8h112M707.8 145.8h8M1211.8 145.8h8M1219.8 153.8h8M699.8 157.8h8M675.8 169.8h24M1227.8 173.8h32M1227.8 177.8h32M675.8 453.8h24M1227.8 453.8h32M699.8 461.8h8M1219.8 465.8h8M707.8 469.8h8M1211.8 473.8h8M723.8 477.8h8M835.8 477.8h16M1203.8 477.8h8M859.8 481.8h24M1059.8 481.8h16M907.8 485.8h32M1003.8 485.8h48"/>
<path stroke="#0e0e0e" d="M947.8 85.8h8M971.8 85.8h16M915.8 93.8h8M907.8 97.8h8M899.8 105.8h8M891.8 113.8h8M1035.8 113.8h8M883.8 117.8h8M875.8 121.8h8M867.8 125.8h8M1051.8 125.8h8M851.8 129.8h16M1059.8 129.8h8M1067.8 133.8h8M723.8 137.8h128M1075.8 137.8h16M715.8 141.8h8M1099.8 141.8h112M707.8 149.8h8M1211.8 149.8h8M1219.8 157.8h8M699.8 161.8h8M675.8 173.8h24M675.8 177.8h24M1227.8 181.8h32M675.8 449.8h24M1227.8 449.8h32M699.8 457.8h8M715.8 473.8h8M731.8 477.8h104M1051.8 477.8h152M851.8 481.8h8M883.8 481.8h32M1027.8 481.8h8M939.8 485.8h64"/>
<path stroke="#0f0f0f" d="M955.8 85.8h16M931.8 89.8h8M995.8 89.8h8M907.8 101.8h8M1019.8 101.8h8M899.8 109.8h8M1027.8 109.8h8M1043.8 117.8h8M867.8 129.8h8M1051.8 129.8h8M851.8 133.8h8M1059.8 133.8h8M1067.8 137.8h8M723.8 141.8h128M1075.8 141.8h24M715.8 145.8h8M1131.8 145.8h80M707.8 153.8h8M1219.8 161.8h8M699.8 165.8h8M699.8 169.8h8M675.8 181.8h24M1227.8 185.8h32M1227.8 189.8h32M1219.8 461.8h8M707.8 465.8h8M1211.8 469.8h8M723.8 473.8h128M1107.8 473.8h104M851.8 477.8h40M915.8 481.8h24M995.8 481.8h32M1035.8 481.8h16"/>
<path stroke="#101010" d="M923.8 93.8h8M1003.8 93.8h8M915.8 97.8h8M1011.8 97.8h8M907.8 105.8h8M1019.8 105.8h8M883.8 121.8h8M875.8 125.8h8M859.8 133.8h8M1059.8 137.8h8M1067.8 141.8h8M723.8 145.8h8M827.8 145.8h24M1083.8 145.8h48M715.8 149.8h8M1203.8 149.8h8M1211.8 153.8h8M1219.8 165.8h8M699.8 173.8h8M675.8 185.8h24M1227.8 193.8h32M675.8 445.8h24M1227.8 445.8h32M699.8 453.8h8M1219.8 457.8h8M1211.8 465.8h8M715.8 469.8h8M843.8 469.8h8M1203.8 469.8h8M1051.8 473.8h56M891.8 477.8h24M1027.8 477.8h16M939.8 481.8h56"/>
<path stroke="#111111" d="M939.8 89.8h8M987.8 89.8h8M1019.8 109.8h8M899.8 113.8h8M1027.8 113.8h8M891.8 117.8h8M1035.8 117.8h8M1043.8 121.8h8M875.8 129.8h8M867.8 133.8h8M1051.8 133.8h8M851.8 137.8h16M1059.8 141.8h8M731.8 145.8h96M1067.8 145.8h16M1083.8 149.8h120M1203.8 153.8h8M707.8 157.8h8M1211.8 157.8h8M1219.8 169.8h8M699.8 177.8h8M675.8 189.8h24M675.8 193.8h24M1227.8 197.8h32M1227.8 201.8h32M675.8 441.8h24M1227.8 441.8h32M699.8 449.8h8M707.8 461.8h8M715.8 465.8h8M723.8 469.8h120M1091.8 469.8h112M851.8 473.8h48M915.8 477.8h24M995.8 477.8h32M1043.8 477.8h8"/>
<path stroke="#121212" d="M947.8 89.8h8M979.8 89.8h8M995.8 93.8h8M915.8 101.8h8M1011.8 101.8h8M907.8 109.8h8M883.8 125.8h8M867.8 137.8h8M1051.8 137.8h8M851.8 141.8h16M723.8 149.8h128M1075.8 149.8h8M715.8 153.8h8M1099.8 153.8h104M707.8 161.8h8M1211.8 161.8h8M1219.8 173.8h8M699.8 181.8h8M675.8 197.8h24M1227.8 205.8h32M1219.8 453.8h8M707.8 457.8h8M1211.8 461.8h8M723.8 465.8h8M843.8 465.8h8M1203.8 465.8h8M1051.8 469.8h40M899.8 473.8h16M1027.8 473.8h16M939.8 477.8h56"/>
<path stroke="#131313" d="M955.8 89.8h24M931.8 93.8h8M923.8 97.8h8M1003.8 97.8h8M1011.8 105.8h8M891.8 121.8h8M1035.8 121.8h8M1043.8 125.8h8M875.8 133.8h8M1051.8 141.8h8M851.8 145.8h8M1059.8 145.8h8M1067.8 149.8h8M723.8 153.8h8M827.8 153.8h24M1075.8 153.8h24M715.8 157.8h8M1195.8 157.8h16M707.8 165.8h8M1211.8 165.8h8M1219.8 177.8h8M699.8 185.8h8M675.8 201.8h24M675.8 205.8h24M1227.8 209.8h32M1227.8 213.8h32M675.8 437.8h24M1227.8 437.8h32M699.8 445.8h8M715.8 461.8h8M731.8 465.8h112M1083.8 465.8h120M851.8 469.8h40M915.8 473.8h16M1003.8 473.8h24M1043.8 473.8h8"/>
<path stroke="#141414" d="M915.8 105.8h8M1019.8 113.8h8M899.8 117.8h8M1027.8 117.8h8M883.8 129.8h8M867.8 141.8h8M859.8 145.8h8M1059.8 149.8h8M731.8 153.8h96M1067.8 153.8h8M1083.8 157.8h112M1203.8 161.8h8M707.8 169.8h8M1219.8 181.8h8M699.8 189.8h8M675.8 209.8h24M675.8 213.8h24M1227.8 217.8h32M1219.8 449.8h8M707.8 453.8h8M1211.8 457.8h8M723.8 461.8h8M843.8 461.8h8M1203.8 461.8h8M1051.8 465.8h32M891.8 469.8h16M931.8 473.8h72"/>
<path stroke="#151515" d="M939.8 93.8h8M987.8 93.8h8M1003.8 101.8h8M915.8 109.8h8M1011.8 109.8h8M907.8 113.8h8M1043.8 129.8h8M875.8 137.8h8M867.8 145.8h8M1051.8 145.8h8M851.8 149.8h16M723.8 157.8h128M1075.8 157.8h8M715.8 161.8h8M1099.8 161.8h104M1203.8 165.8h8M1211.8 169.8h8M707.8 173.8h8M1219.8 185.8h8M699.8 193.8h8M675.8 217.8h24M1227.8 221.8h32M675.8 433.8h24M1227.8 433.8h32M699.8 441.8h8M715.8 457.8h8M731.8 461.8h112M1091.8 461.8h112M859.8 465.8h32M907.8 469.8h16M1011.8 469.8h40"/>
<path stroke="#161616" d="M995.8 97.8h8M923.8 101.8h8M891.8 125.8h8M1035.8 125.8h8M883.8 133.8h8M875.8 141.8h8M1051.8 149.8h8M1059.8 153.8h8M1067.8 157.8h8M723.8 161.8h8M827.8 161.8h24M1083.8 161.8h16M715.8 165.8h8M1187.8 165.8h16M1211.8 173.8h8M1219.8 189.8h8M699.8 197.8h8M675.8 221.8h24M1227.8 225.8h32M1219.8 445.8h8M1211.8 453.8h8M843.8 457.8h8M1203.8 457.8h8M1051.8 461.8h40M851.8 465.8h8M891.8 465.8h16M923.8 469.8h24M987.8 469.8h24"/>
<path stroke="#171717" d="M947.8 93.8h8M979.8 93.8h8M931.8 97.8h8M1003.8 105.8h8M1027.8 121.8h8M1043.8 133.8h8M867.8 149.8h8M851.8 153.8h16M731.8 161.8h96M1075.8 161.8h8M723.8 165.8h8M1083.8 165.8h104M715.8 169.8h8M1203.8 169.8h8M707.8 177.8h8M1211.8 177.8h8M1219.8 193.8h8M699.8 201.8h8M699.8 205.8h8M675.8 429.8h24M1227.8 429.8h32M699.8 437.8h8M707.8 449.8h8M715.8 453.8h8M723.8 457.8h120M1115.8 457.8h88M859.8 461.8h24M907.8 465.8h8M1019.8 465.8h24M947.8 469.8h40"/>
<path stroke="#181818" d="M971.8 93.8h8M923.8 105.8h8M1011.8 113.8h8M1019.8 117.8h8M899.8 121.8h8M883.8 137.8h8M875.8 145.8h8M1051.8 153.8h8M1059.8 157.8h8M1067.8 161.8h8M731.8 165.8h120M1075.8 165.8h8M1091.8 169.8h112M1203.8 173.8h8M707.8 181.8h8M1211.8 181.8h8M1219.8 197.8h8M699.8 209.8h8M675.8 225.8h24M1203.8 453.8h8M1051.8 457.8h64M851.8 461.8h8M883.8 461.8h16M915.8 465.8h16M1003.8 465.8h16M1043.8 465.8h8"/>
<path stroke="#191919" d="M955.8 93.8h16M987.8 97.8h8M931.8 101.8h8M995.8 101.8h8M1003.8 109.8h8M915.8 113.8h8M907.8 117.8h8M891.8 129.8h8M1035.8 129.8h8M1043.8 137.8h8M875.8 149.8h8M867.8 153.8h8M851.8 157.8h16M1059.8 161.8h8M1067.8 165.8h8M723.8 169.8h8M827.8 169.8h24M1083.8 169.8h8M715.8 173.8h8M1107.8 173.8h96M1203.8 177.8h8M707.8 185.8h8M1211.8 185.8h8M1219.8 201.8h8M1219.8 205.8h8M699.8 213.8h8M699.8 217.8h8M1227.8 229.8h32M675.8 425.8h24M1227.8 425.8h32M699.8 433.8h8M1219.8 441.8h8M707.8 445.8h8M1211.8 449.8h8M723.8 453.8h8M835.8 453.8h16M1195.8 453.8h8M899.8 461.8h8M931.8 465.8h24M979.8 465.8h24"/>
<path stroke="#1a1a1a" d="M939.8 97.8h8M923.8 109.8h8M883.8 141.8h8M1051.8 157.8h8M731.8 169.8h96M1075.8 169.8h8M723.8 173.8h8M843.8 173.8h8M1083.8 173.8h24M715.8 177.8h8M1195.8 177.8h8M707.8 189.8h8M1211.8 189.8h8M1219.8 209.8h8M675.8 229.8h24M1227.8 233.8h32M715.8 449.8h8M731.8 453.8h104M1091.8 453.8h104M851.8 457.8h40M907.8 461.8h16M1011.8 461.8h40M955.8 465.8h24"/>
<path stroke="#1b1b1b" d="M979.8 97.8h8M931.8 105.8h8M995.8 105.8h8M899.8 125.8h8M1027.8 125.8h8M891.8 133.8h8M1035.8 133.8h8M1043.8 141.8h8M875.8 153.8h8M867.8 157.8h8M851.8 161.8h16M1059.8 165.8h8M1067.8 169.8h8M731.8 173.8h112M1075.8 173.8h8M1091.8 177.8h104M715.8 181.8h8M1203.8 181.8h8M707.8 193.8h8M1219.8 213.8h8M699.8 221.8h8M1227.8 237.8h32M699.8 429.8h8M1219.8 437.8h8M707.8 441.8h8M1211.8 445.8h8M1203.8 449.8h8M1051.8 453.8h40M891.8 457.8h8M923.8 461.8h16M1003.8 461.8h8"/>
<path stroke="#1c1c1c" d="M947.8 97.8h8M987.8 101.8h8M883.8 145.8h8M1051.8 161.8h8M851.8 165.8h8M1067.8 173.8h8M723.8 177.8h16M827.8 177.8h24M1083.8 177.8h8M1099.8 181.8h104M1203.8 185.8h8M1211.8 193.8h8M707.8 197.8h8M1219.8 217.8h8M675.8 233.8h24M1227.8 241.8h32M1227.8 245.8h32M1227.8 249.8h32M675.8 421.8h24M1227.8 421.8h32M723.8 449.8h16M835.8 449.8h16M1195.8 449.8h8M899.8 457.8h16M939.8 461.8h16M979.8 461.8h24"/>
<path stroke="#1d1d1d" d="M971.8 97.8h8M939.8 101.8h8M995.8 109.8h8M1003.8 113.8h8M907.8 121.8h8M1019.8 121.8h8M1043.8 145.8h8M867.8 161.8h8M859.8 165.8h8M1059.8 169.8h8M739.8 177.8h88M1075.8 177.8h8M723.8 181.8h8M1083.8 181.8h16M715.8 185.8h8M1131.8 185.8h72M1203.8 189.8h8M1211.8 197.8h8M707.8 201.8h8M1219.8 221.8h8M699.8 225.8h8M675.8 237.8h24M1227.8 253.8h32M1227.8 257.8h32M1219.8 433.8h8M715.8 445.8h8M739.8 449.8h96M1083.8 449.8h112M851.8 453.8h40M915.8 457.8h8M1011.8 457.8h40M955.8 461.8h24"/>
<path stroke="#1e1e1e" d="M955.8 97.8h16M987.8 105.8h8M931.8 109.8h8M923.8 113.8h8M915.8 117.8h8M1011.8 117.8h8M1027.8 129.8h8M891.8 137.8h8M1035.8 137.8h8M883.8 149.8h8M875.8 157.8h8M1051.8 165.8h8M851.8 169.8h8M1067.8 177.8h8M731.8 181.8h120M1075.8 181.8h8M1091.8 185.8h40M715.8 189.8h8M1195.8 189.8h8M1203.8 193.8h8M1211.8 201.8h8M707.8 205.8h8M675.8 241.8h24M675.8 245.8h24M675.8 249.8h24M675.8 417.8h24M1227.8 417.8h32M699.8 425.8h8M707.8 437.8h8M1211.8 441.8h8M1203.8 445.8h8M1051.8 449.8h32M891.8 453.8h8M923.8 457.8h8M1003.8 457.8h8"/>
<path stroke="#1f1f1f" d="M979.8 101.8h8M939.8 105.8h8M899.8 129.8h8M1043.8 149.8h8M867.8 165.8h8M859.8 169.8h8M1059.8 173.8h8M723.8 185.8h16M827.8 185.8h24M1083.8 185.8h8M1099.8 189.8h96M715.8 193.8h8M1211.8 205.8h8M707.8 209.8h8M1219.8 225.8h8M675.8 253.8h24M1227.8 261.8h32M723.8 445.8h16M835.8 445.8h16M1195.8 445.8h8M899.8 453.8h8M931.8 457.8h16M987.8 457.8h16"/>
<path stroke="#202020" d="M947.8 101.8h8M891.8 141.8h8M1035.8 141.8h8M883.8 153.8h8M875.8 161.8h8M1051.8 169.8h8M851.8 173.8h8M1067.8 181.8h8M739.8 185.8h88M1075.8 185.8h8M723.8 189.8h8M1091.8 189.8h8M1131.8 193.8h72M1203.8 197.8h8M1211.8 209.8h8M707.8 213.8h8M699.8 229.8h8M675.8 257.8h24M1227.8 265.8h32M675.8 413.8h24M1227.8 413.8h32M1219.8 429.8h8M715.8 441.8h8M739.8 445.8h96M1083.8 445.8h112M859.8 449.8h32M907.8 453.8h16M1019.8 453.8h32M947.8 457.8h40"/>
<path stroke="#212121" d="M955.8 101.8h8M971.8 101.8h8M979.8 105.8h8M987.8 109.8h8M1019.8 125.8h8M1027.8 133.8h8M1043.8 153.8h8M867.8 169.8h8M859.8 173.8h8M1059.8 177.8h8M731.8 189.8h120M1083.8 189.8h8M1099.8 193.8h32M715.8 197.8h8M1195.8 197.8h8M1203.8 201.8h8M1211.8 213.8h8M707.8 217.8h8M675.8 261.8h24M1227.8 269.8h32M675.8 409.8h24M1227.8 409.8h32M699.8 421.8h8M707.8 433.8h8M1211.8 437.8h8M1203.8 441.8h8M1051.8 445.8h32M851.8 449.8h8M891.8 449.8h8M923.8 453.8h8M1003.8 453.8h16"/>
<path stroke="#222222" d="M963.8 101.8h8M947.8 105.8h8M939.8 109.8h8M995.8 113.8h8M907.8 125.8h8M899.8 133.8h8M891.8 145.8h8M1035.8 145.8h8M883.8 157.8h8M875.8 165.8h8M1051.8 173.8h8M851.8 177.8h16M1067.8 185.8h8M1075.8 189.8h8M723.8 193.8h16M1091.8 193.8h8M1107.8 197.8h88M715.8 201.8h8M1195.8 201.8h8M1203.8 205.8h8M1211.8 217.8h8M699.8 233.8h8M675.8 265.8h24M723.8 441.8h8M835.8 441.8h16M1195.8 441.8h8M899.8 449.8h8M931.8 453.8h8M995.8 453.8h8"/>
<path stroke="#232323" d="M971.8 105.8h8M931.8 113.8h8M1011.8 121.8h8M867.8 173.8h8M1059.8 181.8h8M739.8 193.8h112M1083.8 193.8h8M723.8 197.8h8M1091.8 197.8h16M1155.8 201.8h40M715.8 205.8h8M1203.8 209.8h8M707.8 221.8h8M1211.8 221.8h8M1219.8 229.8h8M699.8 237.8h8M1227.8 273.8h32M675.8 405.8h24M1227.8 405.8h32M1219.8 425.8h8M715.8 437.8h8M731.8 441.8h104M1099.8 441.8h96M859.8 445.8h24M907.8 449.8h8M1027.8 449.8h16M939.8 453.8h24M971.8 453.8h24"/>
<path stroke="#242424" d="M955.8 105.8h16M979.8 109.8h8M1003.8 117.8h8M915.8 121.8h8M1027.8 137.8h8M891.8 149.8h8M1035.8 149.8h8M1043.8 157.8h8M1051.8 177.8h8M851.8 181.8h8M1067.8 189.8h8M1075.8 193.8h8M731.8 197.8h104M723.8 201.8h8M1107.8 201.8h48M1179.8 205.8h24M715.8 209.8h8M1203.8 213.8h8M699.8 241.8h8M699.8 245.8h8M675.8 269.8h24M1227.8 277.8h32M699.8 417.8h8M707.8 429.8h8M1211.8 433.8h8M1203.8 437.8h8M1051.8 441.8h48M851.8 445.8h8M883.8 445.8h8M915.8 449.8h8M1011.8 449.8h16M1043.8 449.8h8M963.8 453.8h8"/>
<path stroke="#252525" d="M947.8 109.8h8M923.8 117.8h8M899.8 137.8h8M883.8 161.8h8M875.8 169.8h8M867.8 177.8h8M859.8 181.8h8M1059.8 185.8h8M835.8 197.8h16M1083.8 197.8h8M731.8 201.8h16M1091.8 201.8h16M1147.8 205.8h32M1187.8 209.8h16M715.8 213.8h8M1203.8 217.8h8M1219.8 233.8h8M699.8 249.8h8M699.8 253.8h8M675.8 273.8h24M675.8 401.8h24M1227.8 401.8h32M723.8 437.8h8M843.8 437.8h8M891.8 445.8h8M923.8 449.8h8M1003.8 449.8h8"/>
<path stroke="#262626" d="M971.8 109.8h8M987.8 113.8h8M907.8 129.8h8M1019.8 129.8h8M891.8 153.8h8M1035.8 153.8h8M1051.8 181.8h8M851.8 185.8h8M1075.8 197.8h8M747.8 201.8h96M723.8 205.8h16M1099.8 205.8h48M1163.8 209.8h24M1187.8 213.8h16M715.8 217.8h8M707.8 225.8h8M1219.8 237.8h8M699.8 257.8h8M1227.8 281.8h32M699.8 413.8h8M715.8 433.8h8M731.8 437.8h112M1115.8 437.8h88M899.8 445.8h8M931.8 449.8h16M987.8 449.8h16"/>
<path stroke="#272727" d="M955.8 109.8h16M939.8 113.8h8M899.8 141.8h8M1027.8 141.8h8M1043.8 161.8h8M875.8 173.8h8M867.8 181.8h8M859.8 185.8h8M1067.8 193.8h8M843.8 201.8h8M1083.8 201.8h8M739.8 205.8h88M1091.8 205.8h8M723.8 209.8h8M1139.8 209.8h24M1171.8 213.8h16M1195.8 217.8h8M1203.8 221.8h8M1211.8 225.8h8M1219.8 241.8h8M1219.8 245.8h8M699.8 261.8h8M675.8 277.8h24M675.8 397.8h24M1227.8 397.8h32M1219.8 421.8h8M707.8 425.8h8M1211.8 429.8h8M1203.8 433.8h8M1075.8 437.8h40M859.8 441.8h32M907.8 445.8h8M1019.8 445.8h24M947.8 449.8h40"/>
<path stroke="#282828" d="M883.8 165.8h8M851.8 189.8h8M1059.8 189.8h8M827.8 205.8h16M731.8 209.8h88M1099.8 209.8h40M723.8 213.8h8M1163.8 213.8h8M1187.8 217.8h8M715.8 221.8h8M1219.8 249.8h8M1219.8 253.8h8M675.8 281.8h24M1227.8 285.8h32M699.8 409.8h8M723.8 433.8h8M843.8 433.8h8M1051.8 437.8h24M851.8 441.8h8M891.8 441.8h8M915.8 445.8h8M1011.8 445.8h8M1043.8 445.8h8"/>
<path stroke="#292929" d="M1011.8 125.8h8M1019.8 133.8h8M899.8 145.8h8M1027.8 145.8h8M891.8 157.8h8M1035.8 157.8h8M875.8 177.8h8M1051.8 185.8h8M859.8 189.8h8M1067.8 197.8h8M1075.8 201.8h8M843.8 205.8h8M1083.8 205.8h8M819.8 209.8h16M1091.8 209.8h8M731.8 213.8h88M1147.8 213.8h16M723.8 217.8h8M1171.8 217.8h16M1195.8 221.8h8M1219.8 257.8h8M699.8 265.8h8M1227.8 289.8h32M715.8 429.8h8M731.8 433.8h8M827.8 433.8h16M1195.8 433.8h8M899.8 441.8h8M923.8 445.8h8M1003.8 445.8h8"/>
<path stroke="#2a2a2a" d="M979.8 113.8h8M995.8 117.8h8M915.8 125.8h8M907.8 133.8h8M1043.8 165.8h8M867.8 185.8h8M1059.8 193.8h8M835.8 209.8h16M819.8 213.8h16M1099.8 213.8h48M731.8 217.8h72M1163.8 217.8h8M1187.8 221.8h8M707.8 229.8h8M1211.8 229.8h8M675.8 285.8h24M675.8 393.8h24M1227.8 393.8h32M699.8 405.8h8M1219.8 417.8h8M739.8 433.8h88M1091.8 433.8h104M859.8 437.8h16M907.8 441.8h8M931.8 445.8h16M987.8 445.8h16"/>
<path stroke="#2b2b2b" d="M947.8 113.8h8M931.8 117.8h8M1003.8 121.8h8M1027.8 149.8h8M883.8 169.8h8M851.8 193.8h8M1075.8 205.8h8M1083.8 209.8h8M835.8 213.8h8M1091.8 213.8h8M803.8 217.8h24M1155.8 217.8h8M723.8 221.8h8M1179.8 221.8h8M1203.8 225.8h8M1219.8 261.8h8M699.8 269.8h8M675.8 289.8h24M1227.8 293.8h32M1211.8 425.8h8M1203.8 429.8h8M1051.8 433.8h8M1067.8 433.8h24M851.8 437.8h8M875.8 437.8h16M915.8 441.8h8M1019.8 441.8h32M947.8 445.8h40"/>
<path stroke="#2c2c2c" d="M923.8 121.8h8M899.8 149.8h8M891.8 161.8h8M1043.8 169.8h8M875.8 181.8h8M1051.8 189.8h8M859.8 193.8h8M1067.8 201.8h8M843.8 213.8h8M1083.8 213.8h8M827.8 217.8h8M1107.8 217.8h8M1139.8 217.8h16M731.8 221.8h72M1171.8 221.8h8M715.8 225.8h8M1227.8 297.8h32M675.8 389.8h24M1227.8 389.8h32M707.8 421.8h8M723.8 429.8h8M843.8 429.8h8M1059.8 433.8h8M891.8 437.8h8M1011.8 441.8h8"/>
<path stroke="#2d2d2d" d="M971.8 113.8h8M1019.8 137.8h8M1035.8 161.8h8M883.8 173.8h8M867.8 189.8h8M851.8 197.8h8M1059.8 197.8h8M1075.8 209.8h8M835.8 217.8h8M1091.8 217.8h16M1115.8 217.8h24M803.8 221.8h24M1163.8 221.8h8M1195.8 225.8h8M707.8 233.8h8M1211.8 233.8h8M1219.8 265.8h8M699.8 273.8h8M675.8 293.8h24M699.8 401.8h8M1219.8 413.8h8M715.8 425.8h8M731.8 429.8h8M827.8 429.8h16M1187.8 429.8h16M899.8 437.8h8M923.8 441.8h8M1003.8 441.8h8"/>
<path stroke="#2e2e2e" d="M955.8 113.8h16M1011.8 129.8h8M907.8 137.8h8M899.8 153.8h8M1027.8 153.8h8M1067.8 205.8h8M843.8 217.8h8M827.8 221.8h8M1155.8 221.8h8M1187.8 225.8h8M707.8 237.8h8M699.8 277.8h8M675.8 297.8h24M1227.8 301.8h32M1227.8 385.8h32M739.8 429.8h88M1091.8 429.8h96M859.8 433.8h16M907.8 437.8h8M931.8 441.8h16M987.8 441.8h16"/>
<path stroke="#2f2f2f" d="M1043.8 173.8h8M875.8 185.8h8M1051.8 193.8h8M859.8 197.8h8M1075.8 213.8h8M1083.8 217.8h8M835.8 221.8h8M1147.8 221.8h8M723.8 225.8h8M1179.8 225.8h8M1203.8 229.8h8M1211.8 237.8h8M707.8 241.8h8M707.8 245.8h8M1219.8 269.8h8M675.8 385.8h24M699.8 397.8h8M1219.8 409.8h8M707.8 417.8h8M1211.8 421.8h8M1203.8 425.8h8M1051.8 429.8h8M1067.8 429.8h24M851.8 433.8h8M875.8 433.8h16M1019.8 437.8h24M947.8 441.8h8M979.8 441.8h8"/>
<path stroke="#303030" d="M987.8 117.8h8M915.8 129.8h8M1019.8 141.8h8M891.8 165.8h8M1035.8 165.8h8M883.8 177.8h8M867.8 193.8h8M851.8 201.8h8M1059.8 201.8h8M1067.8 209.8h8M843.8 221.8h8M1091.8 221.8h56M731.8 225.8h72M1171.8 225.8h8M715.8 229.8h8M1211.8 241.8h8M1211.8 245.8h8M707.8 249.8h8M699.8 281.8h8M675.8 301.8h24M1227.8 305.8h32M843.8 425.8h8M1059.8 429.8h8M891.8 433.8h8M915.8 437.8h8M1011.8 437.8h8M1043.8 437.8h8M955.8 441.8h24"/>
<path stroke="#313131" d="M939.8 117.8h8M907.8 141.8h8M1075.8 217.8h8M803.8 225.8h16M1195.8 229.8h8M1211.8 249.8h8M707.8 253.8h8M1211.8 253.8h8M1219.8 273.8h8M675.8 305.8h24M1227.8 309.8h32M675.8 381.8h24M1227.8 381.8h32M1219.8 405.8h8M723.8 425.8h8M835.8 425.8h8M1195.8 425.8h8M923.8 437.8h8M1003.8 437.8h8"/>
<path stroke="#323232" d="M1003.8 125.8h8M1019.8 145.8h8M899.8 157.8h8M1027.8 157.8h8M1043.8 177.8h8M875.8 189.8h8M1051.8 197.8h8M859.8 201.8h8M851.8 205.8h8M1083.8 221.8h8M819.8 225.8h16M1163.8 225.8h8M1203.8 233.8h8M707.8 257.8h8M699.8 285.8h8M675.8 309.8h24M1227.8 313.8h32M699.8 393.8h8M707.8 413.8h8M715.8 421.8h8M731.8 425.8h104M1115.8 425.8h80M867.8 429.8h8M899.8 433.8h8M931.8 437.8h8M995.8 437.8h8"/>
<path stroke="#333333" d="M995.8 121.8h8M923.8 125.8h8M1011.8 133.8h8M907.8 145.8h8M891.8 169.8h8M1035.8 169.8h8M883.8 181.8h8M867.8 197.8h8M1059.8 205.8h8M1067.8 213.8h8M835.8 225.8h8M1155.8 225.8h8M723.8 229.8h8M1187.8 229.8h8M715.8 233.8h8M1211.8 257.8h8M707.8 261.8h8M1219.8 277.8h8M675.8 313.8h24M1227.8 317.8h32M1227.8 321.8h32M675.8 377.8h24M1227.8 377.8h32M1211.8 417.8h8M1083.8 425.8h32M859.8 429.8h8M875.8 429.8h8M907.8 433.8h8M1027.8 433.8h16M939.8 437.8h8M987.8 437.8h8"/>
<path stroke="#343434" d="M931.8 121.8h8M859.8 205.8h8M851.8 209.8h8M1075.8 221.8h8M1147.8 225.8h8M1179.8 229.8h8M1203.8 237.8h8M1211.8 261.8h8M699.8 289.8h8M675.8 317.8h24M675.8 321.8h24M675.8 325.8h24M1227.8 325.8h32M1227.8 329.8h32M1227.8 333.8h32M1227.8 369.8h32M1227.8 373.8h32M1219.8 401.8h8M707.8 409.8h8M1203.8 421.8h8M1051.8 425.8h32M851.8 429.8h8M883.8 429.8h8M915.8 433.8h8M1019.8 433.8h8M1043.8 433.8h8M947.8 437.8h40"/>
<path stroke="#353535" d="M979.8 117.8h8M915.8 133.8h8M1019.8 149.8h8M1043.8 181.8h8M875.8 193.8h8M1051.8 201.8h8M1059.8 209.8h8M1067.8 217.8h8M843.8 225.8h8M1091.8 225.8h24M1139.8 225.8h8M731.8 229.8h72M1171.8 229.8h8M1195.8 233.8h8M715.8 237.8h8M1203.8 241.8h8M1203.8 245.8h8M1219.8 281.8h8M675.8 329.8h24M675.8 333.8h24M1227.8 337.8h32M1227.8 341.8h32M1227.8 345.8h32M1227.8 349.8h32M1227.8 361.8h32M1227.8 365.8h32M675.8 373.8h24M699.8 389.8h8M843.8 421.8h8M891.8 429.8h8M1011.8 433.8h8"/>
<path stroke="#363636" d="M947.8 117.8h8M907.8 149.8h8M899.8 161.8h8M1027.8 161.8h8M891.8 173.8h8M1035.8 173.8h8M883.8 185.8h8M867.8 201.8h8M851.8 213.8h8M1115.8 225.8h24M803.8 229.8h16M1187.8 233.8h8M715.8 241.8h8M1203.8 249.8h8M707.8 265.8h8M699.8 293.8h8M675.8 337.8h24M1227.8 353.8h32M1227.8 357.8h32M675.8 369.8h24M1211.8 413.8h8M723.8 421.8h8M835.8 421.8h8M899.8 429.8h8M923.8 433.8h8M1003.8 433.8h8"/>
<path stroke="#373737" d="M859.8 209.8h8M1083.8 225.8h8M819.8 229.8h8M1163.8 229.8h8M723.8 233.8h8M1195.8 237.8h8M1195.8 241.8h8M715.8 245.8h8M715.8 249.8h8M1203.8 253.8h8M1211.8 265.8h8M699.8 297.8h8M675.8 341.8h24M675.8 345.8h24M675.8 365.8h24M1219.8 397.8h8M707.8 405.8h8M715.8 417.8h8M731.8 421.8h104M1139.8 421.8h64M859.8 425.8h16M907.8 429.8h8M931.8 433.8h8M995.8 433.8h8"/>
<path stroke="#383838" d="M971.8 117.8h8M1011.8 137.8h8M1019.8 153.8h8M1043.8 185.8h8M1051.8 205.8h8M1059.8 213.8h8M827.8 229.8h8M731.8 233.8h8M1179.8 233.8h8M1187.8 237.8h8M1195.8 245.8h8M715.8 253.8h8M1203.8 257.8h8M707.8 269.8h8M1219.8 285.8h8M675.8 349.8h24M675.8 353.8h24M675.8 357.8h24M675.8 361.8h24M699.8 385.8h8M1091.8 421.8h48M875.8 425.8h16M1019.8 429.8h24M939.8 433.8h8M987.8 433.8h8"/>
<path stroke="#393939" d="M955.8 117.8h8M1003.8 129.8h8M915.8 137.8h8M907.8 153.8h8M891.8 177.8h8M1035.8 177.8h8M875.8 197.8h8M867.8 205.8h8M859.8 213.8h8M851.8 217.8h8M1067.8 221.8h8M1075.8 225.8h8M835.8 229.8h8M1155.8 229.8h8M739.8 233.8h64M1171.8 233.8h8M723.8 237.8h8M723.8 241.8h8M1187.8 241.8h8M1195.8 249.8h8M1195.8 253.8h8M715.8 257.8h8M1211.8 269.8h8M699.8 301.8h8M1211.8 409.8h8M1203.8 417.8h8M1051.8 421.8h40M851.8 425.8h8M915.8 429.8h8M1011.8 429.8h8M1043.8 429.8h8M947.8 433.8h40"/>
<path stroke="#3a3a3a" d="M963.8 117.8h8M987.8 121.8h8M923.8 129.8h8M899.8 165.8h8M1027.8 165.8h8M883.8 189.8h8M843.8 229.8h8M1147.8 229.8h8M803.8 233.8h16M731.8 237.8h48M1179.8 237.8h8M1179.8 241.8h8M723.8 245.8h8M1187.8 245.8h8M1187.8 249.8h8M1203.8 261.8h8M707.8 273.8h8M1219.8 289.8h8M1219.8 393.8h8M707.8 401.8h8M715.8 413.8h8M723.8 417.8h8M843.8 417.8h8M891.8 425.8h8M923.8 429.8h8"/>
<path stroke="#3b3b3b" d="M939.8 121.8h8M995.8 125.8h8M1011.8 141.8h8M1051.8 209.8h8M1059.8 217.8h8M1091.8 229.8h24M819.8 233.8h8M1163.8 233.8h8M779.8 237.8h32M1171.8 237.8h8M731.8 241.8h48M1179.8 245.8h8M723.8 249.8h8M1179.8 249.8h8M1187.8 253.8h8M1195.8 257.8h8M715.8 261.8h8M699.8 305.8h8M699.8 381.8h8M835.8 417.8h8M1195.8 417.8h8M899.8 425.8h8M1003.8 429.8h8"/>
<path stroke="#3c3c3c" d="M931.8 125.8h8M891.8 181.8h8M1035.8 181.8h8M1043.8 189.8h8M875.8 201.8h8M867.8 209.8h8M859.8 217.8h8M851.8 221.8h8M1083.8 229.8h8M1115.8 229.8h32M827.8 233.8h8M811.8 237.8h8M779.8 241.8h32M1171.8 241.8h8M731.8 245.8h56M731.8 249.8h8M723.8 253.8h8M1179.8 253.8h8M1187.8 257.8h8M1195.8 261.8h8M1203.8 265.8h8M1211.8 273.8h8M1219.8 293.8h8M1211.8 405.8h8M1203.8 413.8h8M731.8 417.8h104M1115.8 417.8h80M907.8 425.8h8M931.8 429.8h8M995.8 429.8h8"/>
<path stroke="#3d3d3d" d="M915.8 141.8h8M1019.8 157.8h8M1027.8 169.8h8M883.8 193.8h8M835.8 233.8h8M1155.8 233.8h8M819.8 237.8h8M1163.8 237.8h8M811.8 241.8h8M787.8 245.8h24M1171.8 245.8h8M739.8 249.8h56M1171.8 249.8h8M731.8 253.8h8M1171.8 253.8h8M723.8 257.8h8M1179.8 257.8h8M707.8 277.8h8M699.8 309.8h8M715.8 409.8h8M843.8 413.8h8M1051.8 417.8h8M1075.8 417.8h40M859.8 421.8h24M1019.8 425.8h24M939.8 429.8h8M987.8 429.8h8"/>
<path stroke="#3e3e3e" d="M1003.8 133.8h8M1011.8 145.8h8M907.8 157.8h8M899.8 169.8h8M867.8 213.8h8M1051.8 213.8h8M1059.8 221.8h8M1067.8 225.8h8M843.8 233.8h8M827.8 237.8h8M819.8 241.8h8M1163.8 241.8h8M811.8 245.8h8M1163.8 245.8h8M795.8 249.8h16M1163.8 249.8h8M739.8 253.8h56M1163.8 253.8h8M1171.8 257.8h8M1179.8 261.8h16M715.8 265.8h8M1211.8 277.8h8M1219.8 297.8h8M699.8 313.8h8M699.8 317.8h8M699.8 377.8h8M1219.8 389.8h8M707.8 397.8h8M723.8 413.8h8M835.8 413.8h8M1059.8 417.8h16M851.8 421.8h8M883.8 421.8h8M915.8 425.8h8M1043.8 425.8h8M947.8 429.8h40"/>
<path stroke="#3f3f3f" d="M915.8 145.8h8M859.8 221.8h8M1075.8 229.8h8M1099.8 233.8h8M1147.8 233.8h8M835.8 237.8h8M1155.8 237.8h8M827.8 241.8h8M819.8 245.8h8M811.8 249.8h16M795.8 253.8h16M731.8 257.8h40M1163.8 257.8h8M723.8 261.8h8M1171.8 261.8h8M1195.8 265.8h8M1203.8 269.8h8M707.8 281.8h8M699.8 321.8h8M699.8 325.8h8M699.8 373.8h8M1203.8 409.8h8M731.8 413.8h16M811.8 413.8h24M1187.8 413.8h16M891.8 421.8h8M923.8 425.8h8M1011.8 425.8h8"/>
<path stroke="#404040" d="M979.8 121.8h8M923.8 133.8h8M1011.8 149.8h8M891.8 185.8h8M1035.8 185.8h8M1043.8 193.8h8M875.8 205.8h8M1091.8 233.8h8M1107.8 233.8h8M843.8 237.8h8M835.8 241.8h8M1155.8 241.8h8M827.8 245.8h8M1155.8 249.8h8M811.8 253.8h8M1155.8 253.8h8M771.8 257.8h32M1155.8 257.8h8M1163.8 261.8h8M1179.8 265.8h16M699.8 329.8h8M699.8 333.8h8M1211.8 401.8h8M715.8 405.8h8M843.8 409.8h8M747.8 413.8h64M1091.8 413.8h96M899.8 421.8h8M1003.8 425.8h8"/>
<path stroke="#414141" d="M947.8 121.8h8M1019.8 161.8h8M1027.8 173.8h8M883.8 197.8h8M867.8 217.8h8M1051.8 217.8h8M851.8 225.8h8M1083.8 233.8h8M1115.8 233.8h32M1147.8 237.8h8M835.8 245.8h8M1155.8 245.8h8M827.8 249.8h8M819.8 253.8h8M1147.8 253.8h8M803.8 257.8h16M1147.8 257.8h8M731.8 261.8h16M1155.8 261.8h8M1171.8 265.8h8M715.8 269.8h8M1211.8 281.8h8M707.8 285.8h8M1219.8 301.8h8M699.8 337.8h8M699.8 369.8h8M1219.8 385.8h8M707.8 393.8h8M723.8 409.8h8M1051.8 413.8h40M867.8 417.8h8M931.8 425.8h8M995.8 425.8h8"/>
<path stroke="#424242" d="M915.8 149.8h8M899.8 173.8h8M1091.8 237.8h24M843.8 241.8h8M1147.8 241.8h8M1147.8 245.8h8M835.8 249.8h8M1147.8 249.8h8M827.8 253.8h8M1139.8 253.8h8M819.8 257.8h8M1139.8 257.8h8M747.8 261.8h56M1139.8 261.8h16M723.8 265.8h8M1155.8 265.8h16M1195.8 269.8h8M1203.8 273.8h8M699.8 341.8h8M699.8 365.8h8M1203.8 405.8h8M731.8 409.8h8M827.8 409.8h16M1187.8 409.8h16M859.8 417.8h8M875.8 417.8h16M907.8 421.8h8M1027.8 421.8h16M939.8 425.8h8M987.8 425.8h8"/>
<path stroke="#434343" d="M995.8 129.8h8M907.8 161.8h8M875.8 209.8h8M1059.8 225.8h8M1067.8 229.8h8M1083.8 237.8h8M1115.8 237.8h8M1139.8 237.8h8M1091.8 241.8h24M843.8 245.8h8M1099.8 245.8h8M1099.8 249.8h16M1139.8 249.8h8M835.8 253.8h8M1099.8 253.8h40M827.8 257.8h8M1107.8 257.8h32M803.8 261.8h16M1123.8 261.8h16M1139.8 265.8h16M1171.8 269.8h24M715.8 273.8h8M1219.8 305.8h8M699.8 345.8h8M699.8 361.8h8M1211.8 397.8h8M739.8 409.8h88M1099.8 409.8h88M915.8 421.8h8M1019.8 421.8h8M947.8 425.8h16M971.8 425.8h16"/>
<path stroke="#444444" d="M971.8 121.8h8M987.8 125.8h8M931.8 129.8h8M1003.8 137.8h8M1011.8 153.8h8M1027.8 177.8h8M891.8 189.8h8M1035.8 189.8h8M1043.8 197.8h8M1075.8 233.8h8M1123.8 237.8h16M1115.8 241.8h8M1139.8 241.8h8M1091.8 245.8h8M1107.8 245.8h16M1139.8 245.8h8M843.8 249.8h8M1091.8 249.8h8M1115.8 249.8h24M1091.8 253.8h8M1099.8 257.8h8M819.8 261.8h8M1107.8 261.8h16M731.8 265.8h48M1123.8 265.8h16M1155.8 269.8h16M1211.8 285.8h8M707.8 289.8h8M699.8 349.8h8M699.8 353.8h8M699.8 357.8h8M715.8 401.8h8M723.8 405.8h8M843.8 405.8h8M1075.8 409.8h24M851.8 417.8h8M891.8 417.8h8M1011.8 421.8h8M1043.8 421.8h8M963.8 425.8h8"/>
<path stroke="#454545" d="M955.8 121.8h16M939.8 125.8h8M923.8 137.8h8M899.8 177.8h8M883.8 201.8h8M867.8 221.8h8M1051.8 221.8h8M859.8 225.8h8M1083.8 241.8h8M1123.8 241.8h16M1083.8 245.8h8M1123.8 245.8h16M843.8 253.8h8M835.8 257.8h8M1091.8 257.8h8M1099.8 261.8h8M779.8 265.8h24M1115.8 265.8h8M723.8 269.8h8M1139.8 269.8h16M1195.8 273.8h8M1203.8 277.8h8M1219.8 309.8h8M1219.8 381.8h8M707.8 389.8h8M835.8 405.8h8M1195.8 405.8h8M1051.8 409.8h24M867.8 413.8h16M899.8 417.8h8M923.8 421.8h8M1003.8 421.8h8"/>
<path stroke="#464646" d="M915.8 153.8h8M1019.8 165.8h8M875.8 213.8h8M1075.8 237.8h8M1083.8 249.8h8M827.8 261.8h8M803.8 265.8h16M1107.8 265.8h8M1123.8 269.8h16M1163.8 273.8h32M715.8 277.8h8M707.8 293.8h8M1219.8 313.8h8M1203.8 401.8h8M731.8 405.8h104M1131.8 405.8h64M859.8 413.8h8M883.8 413.8h8M907.8 417.8h8M931.8 421.8h8M995.8 421.8h8"/>
<path stroke="#474747" d="M1083.8 253.8h8M843.8 257.8h8M835.8 261.8h8M1091.8 261.8h8M819.8 265.8h8M1099.8 265.8h8M731.8 269.8h48M1115.8 269.8h8M1139.8 273.8h24M1211.8 289.8h8M1219.8 317.8h8M1219.8 377.8h8M1211.8 393.8h8M715.8 397.8h8M1091.8 405.8h40M851.8 413.8h8M891.8 413.8h8M1019.8 417.8h24M939.8 421.8h8M987.8 421.8h8"/>
<path stroke="#484848" d="M1003.8 141.8h8M907.8 165.8h8M1027.8 181.8h8M891.8 193.8h8M1035.8 193.8h8M1043.8 201.8h8M851.8 229.8h8M1067.8 233.8h8M1075.8 241.8h8M1075.8 245.8h8M1083.8 257.8h8M827.8 265.8h8M779.8 269.8h24M1107.8 269.8h8M723.8 273.8h8M1123.8 273.8h16M1195.8 277.8h8M1203.8 281.8h8M707.8 297.8h8M1219.8 321.8h8M1219.8 373.8h8M723.8 401.8h8M843.8 401.8h8M1067.8 405.8h24M915.8 417.8h8M1011.8 417.8h8M947.8 421.8h8M979.8 421.8h8"/>
<path stroke="#494949" d="M899.8 181.8h8M883.8 205.8h8M875.8 217.8h8M1059.8 229.8h8M1075.8 249.8h8M843.8 261.8h8M1083.8 261.8h8M1091.8 265.8h8M803.8 269.8h16M1099.8 269.8h8M1115.8 273.8h8M1155.8 277.8h40M715.8 281.8h8M1211.8 293.8h8M1219.8 325.8h8M1219.8 329.8h8M1219.8 333.8h8M1219.8 369.8h8M707.8 385.8h8M835.8 401.8h8M1195.8 401.8h8M1051.8 405.8h16M859.8 409.8h24M899.8 413.8h8M923.8 417.8h8M1043.8 417.8h8M955.8 421.8h24"/>
<path stroke="#4a4a4a" d="M995.8 133.8h8M923.8 141.8h8M1011.8 157.8h8M867.8 225.8h8M1075.8 253.8h8M835.8 265.8h8M819.8 269.8h8M731.8 273.8h40M1107.8 273.8h8M1131.8 277.8h24M1219.8 337.8h8M1219.8 341.8h8M1219.8 365.8h8M1203.8 397.8h8M731.8 401.8h104M1147.8 401.8h48M883.8 409.8h8M907.8 413.8h8M1003.8 417.8h8"/>
<path stroke="#4b4b4b" d="M979.8 125.8h8M1003.8 145.8h8M1019.8 169.8h8M1027.8 185.8h8M1051.8 225.8h8M859.8 229.8h8M1067.8 237.8h8M1075.8 257.8h8M1083.8 265.8h8M827.8 269.8h8M1091.8 269.8h8M771.8 273.8h32M723.8 277.8h8M1123.8 277.8h8M1195.8 281.8h8M1203.8 285.8h8M707.8 301.8h8M1219.8 345.8h8M1219.8 349.8h8M1219.8 353.8h8M1219.8 357.8h8M1219.8 361.8h8M1211.8 389.8h8M1099.8 401.8h48M851.8 409.8h8M891.8 409.8h8M1027.8 413.8h16M931.8 417.8h8M995.8 417.8h8"/>
<path stroke="#4c4c4c" d="M947.8 125.8h8M931.8 133.8h8M915.8 157.8h8M891.8 197.8h8M1035.8 197.8h8M1043.8 205.8h8M883.8 209.8h8M851.8 233.8h8M1067.8 241.8h8M843.8 265.8h8M803.8 273.8h16M1099.8 273.8h8M1115.8 277.8h8M1155.8 281.8h40M715.8 285.8h8M1211.8 297.8h8M715.8 393.8h8M723.8 397.8h8M1075.8 401.8h24M867.8 405.8h8M915.8 413.8h8M1019.8 413.8h8M939.8 417.8h8M987.8 417.8h8"/>
<path stroke="#4d4d4d" d="M987.8 129.8h8M923.8 145.8h8M1003.8 149.8h8M907.8 169.8h8M899.8 185.8h8M875.8 221.8h8M1067.8 245.8h8M1075.8 261.8h8M835.8 269.8h8M819.8 273.8h8M731.8 277.8h48M1107.8 277.8h8M1131.8 281.8h24M707.8 305.8h8M707.8 381.8h8M843.8 397.8h8M1195.8 397.8h8M1051.8 401.8h24M859.8 405.8h8M875.8 405.8h8M899.8 409.8h8M1011.8 413.8h8M1043.8 413.8h8M947.8 417.8h40"/>
<path stroke="#4e4e4e" d="M939.8 129.8h8M1019.8 173.8h8M1059.8 233.8h8M1067.8 249.8h8M1083.8 269.8h8M1091.8 273.8h8M779.8 277.8h24M1099.8 277.8h8M723.8 281.8h8M1115.8 281.8h16M1195.8 285.8h8M715.8 289.8h8M1203.8 289.8h8M731.8 397.8h8M827.8 397.8h16M1187.8 397.8h8M851.8 405.8h8M883.8 405.8h8M907.8 409.8h8M923.8 413.8h8M1003.8 413.8h8"/>
<path stroke="#4f4f4f" d="M971.8 125.8h8M923.8 149.8h8M1011.8 161.8h8M1043.8 209.8h8M859.8 233.8h8M851.8 237.8h8M1067.8 253.8h8M1075.8 265.8h8M843.8 269.8h8M827.8 273.8h8M803.8 277.8h16M1155.8 285.8h40M1211.8 301.8h8M707.8 309.8h8M1203.8 393.8h8M739.8 397.8h88M1107.8 397.8h80M891.8 405.8h8M1027.8 409.8h16M931.8 413.8h8M995.8 413.8h8"/>
<path stroke="#505050" d="M955.8 125.8h8M995.8 137.8h8M907.8 173.8h8M1027.8 189.8h8M891.8 201.8h8M883.8 213.8h8M851.8 241.8h8M1067.8 257.8h8M835.8 273.8h8M819.8 277.8h8M731.8 281.8h48M1107.8 281.8h8M1131.8 285.8h24M1211.8 385.8h8M715.8 389.8h8M1083.8 397.8h24M915.8 409.8h8M1019.8 409.8h8M1043.8 409.8h8M939.8 413.8h8M987.8 413.8h8"/>
<path stroke="#515151" d="M963.8 125.8h8M899.8 189.8h8M1035.8 201.8h8M867.8 229.8h8M1051.8 229.8h8M1059.8 237.8h8M851.8 245.8h8M1083.8 273.8h8M827.8 277.8h8M1091.8 277.8h8M779.8 281.8h24M1099.8 281.8h8M723.8 285.8h8M1115.8 285.8h16M1195.8 289.8h8M715.8 293.8h8M1203.8 293.8h8M707.8 313.8h8M707.8 317.8h8M707.8 377.8h8M723.8 393.8h8M843.8 393.8h8M1067.8 397.8h16M859.8 401.8h24M899.8 405.8h8M1011.8 409.8h8M947.8 413.8h8M979.8 413.8h8"/>
<path stroke="#525252" d="M931.8 137.8h8M1003.8 153.8h8M915.8 161.8h8M1019.8 177.8h8M859.8 237.8h8M1059.8 241.8h8M851.8 249.8h8M1067.8 261.8h8M1075.8 269.8h8M843.8 273.8h8M803.8 281.8h16M1171.8 289.8h24M1211.8 305.8h8M707.8 321.8h8M835.8 393.8h8M1195.8 393.8h8M1051.8 397.8h16M883.8 401.8h8M923.8 409.8h8M1003.8 409.8h8M955.8 413.8h24"/>
<path stroke="#535353" d="M1043.8 213.8h8M883.8 217.8h8M875.8 225.8h8M835.8 277.8h8M819.8 281.8h8M1091.8 281.8h8M731.8 285.8h48M1107.8 285.8h8M1131.8 289.8h40M707.8 325.8h8M707.8 373.8h8M1203.8 389.8h8M731.8 393.8h104M1131.8 393.8h64M851.8 401.8h8M907.8 405.8h8M1027.8 405.8h16"/>
<path stroke="#545454" d="M923.8 153.8h8M907.8 177.8h8M1027.8 193.8h8M859.8 241.8h8M1059.8 245.8h8M851.8 253.8h8M1083.8 277.8h8M827.8 281.8h8M779.8 285.8h24M1099.8 285.8h8M723.8 289.8h8M1123.8 289.8h8M1195.8 293.8h8M715.8 297.8h8M1203.8 297.8h8M1211.8 309.8h8M707.8 329.8h8M707.8 333.8h8M1211.8 381.8h8M1099.8 393.8h32M891.8 401.8h8M1019.8 405.8h8M1043.8 405.8h8M931.8 409.8h8M995.8 409.8h8"/>
<path stroke="#555555" d="M979.8 129.8h8M987.8 133.8h8M995.8 141.8h8M1011.8 165.8h8M899.8 193.8h8M891.8 205.8h8M1035.8 205.8h8M867.8 233.8h8M859.8 245.8h8M1059.8 249.8h8M851.8 257.8h8M1067.8 265.8h8M1075.8 273.8h8M843.8 277.8h8M803.8 285.8h16M1115.8 289.8h8M1187.8 293.8h8M707.8 369.8h8M715.8 385.8h8M723.8 389.8h8M1083.8 393.8h16M867.8 397.8h8M915.8 405.8h8M1011.8 405.8h8M939.8 409.8h8M987.8 409.8h8"/>
<path stroke="#565656" d="M947.8 129.8h8M939.8 133.8h8M1019.8 181.8h8M1043.8 217.8h8M1051.8 233.8h8M859.8 249.8h8M1059.8 253.8h8M835.8 281.8h8M1083.8 281.8h8M819.8 285.8h8M1091.8 285.8h8M731.8 289.8h32M1107.8 289.8h8M1139.8 293.8h48M715.8 301.8h8M1211.8 313.8h8M707.8 337.8h8M843.8 389.8h8M1195.8 389.8h8M1067.8 393.8h16M859.8 397.8h8M875.8 397.8h8M899.8 401.8h8M923.8 405.8h8M947.8 409.8h8M979.8 409.8h8"/>
<path stroke="#575757" d="M931.8 141.8h8M883.8 221.8h8M859.8 253.8h8M1059.8 257.8h8M851.8 261.8h8M1067.8 269.8h8M843.8 281.8h8M827.8 285.8h8M763.8 289.8h40M1099.8 289.8h8M723.8 293.8h8M1123.8 293.8h16M1195.8 297.8h8M1203.8 301.8h8M1211.8 317.8h8M707.8 341.8h8M707.8 365.8h8M1211.8 377.8h8M731.8 389.8h8M835.8 389.8h8M1187.8 389.8h8M1051.8 393.8h16M851.8 397.8h8M883.8 397.8h8M1035.8 401.8h8M1003.8 405.8h8M955.8 409.8h24"/>
<path stroke="#585858" d="M995.8 145.8h8M1003.8 157.8h8M915.8 165.8h8M907.8 181.8h8M1027.8 197.8h8M891.8 209.8h8M1035.8 209.8h8M867.8 237.8h8M1075.8 277.8h8M803.8 289.8h16M1115.8 293.8h8M1187.8 297.8h8M1211.8 321.8h8M707.8 345.8h8M1211.8 373.8h8M1203.8 385.8h8M739.8 389.8h96M1123.8 389.8h64M907.8 401.8h8M1027.8 401.8h8M931.8 405.8h8M995.8 405.8h8"/>
<path stroke="#595959" d="M875.8 229.8h8M1051.8 237.8h8M859.8 257.8h8M1059.8 261.8h8M835.8 285.8h8M1083.8 285.8h8M819.8 289.8h8M1091.8 289.8h8M731.8 293.8h32M1107.8 293.8h8M723.8 297.8h8M1139.8 297.8h48M715.8 305.8h8M1211.8 325.8h8M1211.8 329.8h8M707.8 361.8h8M1099.8 389.8h24M891.8 397.8h8M1019.8 401.8h8M1043.8 401.8h8"/>
<path stroke="#5a5a5a" d="M971.8 129.8h8M931.8 145.8h8M1019.8 185.8h8M899.8 197.8h8M1043.8 221.8h8M867.8 241.8h8M1051.8 241.8h8M851.8 265.8h8M1067.8 273.8h8M1075.8 281.8h8M843.8 285.8h8M827.8 289.8h8M763.8 293.8h40M1099.8 293.8h8M1123.8 297.8h16M1203.8 305.8h8M1211.8 333.8h8M1211.8 337.8h8M707.8 349.8h8M707.8 353.8h8M707.8 357.8h8M1211.8 369.8h8M715.8 381.8h8M1083.8 389.8h16M859.8 393.8h16M915.8 401.8h8M1011.8 401.8h8M939.8 405.8h8M987.8 405.8h8"/>
<path stroke="#5b5b5b" d="M995.8 149.8h8M923.8 157.8h8M1011.8 169.8h8M867.8 245.8h8M859.8 261.8h8M1059.8 265.8h8M835.8 289.8h8M803.8 293.8h16M1115.8 297.8h8M1195.8 301.8h8M1211.8 341.8h8M1211.8 345.8h8M1211.8 361.8h8M1211.8 365.8h8M723.8 385.8h8M843.8 385.8h8M1195.8 385.8h8M1067.8 389.8h16M875.8 393.8h8M899.8 397.8h8M923.8 401.8h8M947.8 405.8h16M971.8 405.8h16"/>
<path stroke="#5c5c5c" d="M955.8 129.8h16M987.8 137.8h8M907.8 185.8h8M891.8 213.8h8M1035.8 213.8h8M1051.8 245.8h8M1083.8 289.8h8M819.8 293.8h8M1091.8 293.8h8M731.8 297.8h32M1107.8 297.8h8M723.8 301.8h8M1139.8 301.8h56M715.8 309.8h8M1211.8 349.8h8M1211.8 353.8h8M1211.8 357.8h8M1203.8 381.8h8M835.8 385.8h8M1051.8 389.8h16M851.8 393.8h8M883.8 393.8h8M1003.8 401.8h8M963.8 405.8h8"/>
<path stroke="#5d5d5d" d="M931.8 149.8h8M915.8 169.8h8M1027.8 201.8h8M883.8 225.8h8M867.8 249.8h8M1051.8 249.8h8M851.8 269.8h8M1067.8 277.8h8M1075.8 285.8h8M843.8 289.8h8M827.8 293.8h8M763.8 297.8h40M1099.8 297.8h8M1123.8 301.8h16M1203.8 309.8h8M715.8 313.8h8M731.8 385.8h8M779.8 385.8h56M1139.8 385.8h56M907.8 397.8h8M1027.8 397.8h16M931.8 401.8h8M995.8 401.8h8"/>
<path stroke="#5e5e5e" d="M979.8 133.8h8M939.8 137.8h8M1019.8 189.8h8M899.8 201.8h8M875.8 233.8h8M867.8 253.8h8M1051.8 253.8h8M859.8 265.8h8M1059.8 269.8h8M835.8 293.8h8M803.8 297.8h16M1115.8 301.8h8M1195.8 305.8h8M715.8 377.8h8M739.8 385.8h40M1107.8 385.8h32M891.8 393.8h8M1019.8 397.8h8M1043.8 397.8h8"/>
<path stroke="#5f5f5f" d="M947.8 133.8h8M1003.8 161.8h8M1011.8 173.8h8M867.8 257.8h8M1051.8 257.8h8M1067.8 281.8h8M843.8 293.8h8M1083.8 293.8h8M819.8 297.8h8M1091.8 297.8h8M731.8 301.8h16M1107.8 301.8h8M723.8 305.8h8M1155.8 305.8h40M1203.8 313.8h8M715.8 317.8h8M715.8 321.8h8M1091.8 385.8h16M859.8 389.8h16M915.8 397.8h8M939.8 401.8h8M987.8 401.8h8"/>
<path stroke="#606060" d="M995.8 153.8h8M891.8 217.8h8M1035.8 217.8h8M1043.8 225.8h8M851.8 273.8h8M1059.8 273.8h8M1075.8 289.8h8M827.8 297.8h8M747.8 301.8h48M1099.8 301.8h8M1123.8 305.8h32M1203.8 317.8h8M715.8 325.8h8M1203.8 377.8h8M723.8 381.8h8M843.8 381.8h8M1195.8 381.8h8M1075.8 385.8h16M875.8 389.8h8M899.8 393.8h8M1011.8 397.8h8M947.8 401.8h8M979.8 401.8h8"/>
<path stroke="#616161" d="M987.8 141.8h8M907.8 189.8h8M1027.8 205.8h8M875.8 237.8h8M1051.8 261.8h8M859.8 269.8h8M835.8 297.8h8M1083.8 297.8h8M795.8 301.8h16M1115.8 305.8h8M1195.8 309.8h8M1203.8 321.8h8M715.8 329.8h8M715.8 373.8h8M835.8 381.8h8M1187.8 381.8h8M1059.8 385.8h16M851.8 389.8h8M923.8 397.8h8M1003.8 397.8h8M955.8 401.8h24"/>
<path stroke="#626262" d="M931.8 153.8h8M923.8 161.8h8M915.8 173.8h8M867.8 261.8h8M1067.8 285.8h8M1075.8 293.8h8M843.8 297.8h8M811.8 301.8h16M1091.8 301.8h8M731.8 305.8h8M1107.8 305.8h8M723.8 309.8h8M1147.8 309.8h48M1203.8 325.8h8M1203.8 329.8h8M715.8 333.8h8M1203.8 373.8h8M731.8 381.8h8M795.8 381.8h40M1147.8 381.8h40M1051.8 385.8h8M883.8 389.8h8M1027.8 393.8h16"/>
<path stroke="#636363" d="M939.8 141.8h8M1011.8 177.8h8M1019.8 193.8h8M899.8 205.8h8M875.8 241.8h8M1051.8 265.8h8M859.8 273.8h8M851.8 277.8h8M1059.8 277.8h8M827.8 301.8h8M739.8 305.8h32M1099.8 305.8h8M1123.8 309.8h24M1195.8 313.8h8M1203.8 333.8h8M1203.8 337.8h8M715.8 369.8h8M1203.8 369.8h8M739.8 381.8h56M1123.8 381.8h24M907.8 393.8h8M1043.8 393.8h8M931.8 397.8h8M995.8 397.8h8"/>
<path stroke="#646464" d="M971.8 133.8h8M891.8 221.8h8M1035.8 221.8h8M883.8 229.8h8M875.8 245.8h8M867.8 265.8h8M1067.8 289.8h8M835.8 301.8h16M1083.8 301.8h8M771.8 305.8h32M1115.8 309.8h8M723.8 313.8h8M1147.8 313.8h48M1195.8 317.8h8M715.8 337.8h8M1203.8 341.8h8M1203.8 365.8h8M723.8 377.8h8M843.8 377.8h8M1195.8 377.8h8M1099.8 381.8h24M859.8 385.8h8M891.8 389.8h8M1019.8 393.8h8"/>
<path stroke="#656565" d="M955.8 133.8h8M987.8 145.8h8M907.8 193.8h8M1027.8 209.8h8M875.8 249.8h8M1051.8 269.8h8M851.8 281.8h8M1059.8 281.8h8M1075.8 297.8h8M803.8 305.8h16M1091.8 305.8h8M731.8 309.8h8M1107.8 309.8h8M1123.8 313.8h24M723.8 317.8h8M1171.8 317.8h24M1195.8 321.8h8M1203.8 345.8h8M1203.8 349.8h8M1203.8 361.8h8M827.8 377.8h16M1187.8 377.8h8M1083.8 381.8h16M867.8 385.8h16M915.8 393.8h8M1011.8 393.8h8M939.8 397.8h8M987.8 397.8h8"/>
<path stroke="#666666" d="M963.8 133.8h8M979.8 137.8h8M1003.8 165.8h8M915.8 177.8h8M1043.8 229.8h8M859.8 277.8h8M819.8 305.8h16M739.8 309.8h16M1099.8 309.8h8M1115.8 313.8h8M1131.8 317.8h40M723.8 321.8h8M1179.8 321.8h16M1195.8 325.8h8M1195.8 329.8h8M715.8 341.8h8M1203.8 353.8h8M1203.8 357.8h8M715.8 365.8h8M843.8 373.8h8M1195.8 373.8h8M795.8 377.8h32M1155.8 377.8h32M1067.8 381.8h16M851.8 385.8h8M899.8 389.8h8M947.8 397.8h8M979.8 397.8h8"/>
<path stroke="#676767" d="M947.8 137.8h8M939.8 145.8h8M1011.8 181.8h8M1019.8 197.8h8M899.8 209.8h8M875.8 253.8h8M867.8 269.8h8M1067.8 293.8h8M1075.8 301.8h8M835.8 305.8h16M1083.8 305.8h8M755.8 309.8h24M1091.8 309.8h8M731.8 313.8h8M1107.8 313.8h8M1115.8 317.8h16M1131.8 321.8h48M723.8 325.8h8M1179.8 325.8h16M1195.8 333.8h8M715.8 345.8h8M843.8 369.8h8M1195.8 369.8h8M827.8 373.8h16M1187.8 373.8h8M731.8 377.8h8M771.8 377.8h24M1131.8 377.8h24M1051.8 381.8h16M883.8 385.8h8M1035.8 389.8h8M923.8 393.8h8M1003.8 393.8h8M955.8 397.8h24"/>
<path stroke="#686868" d="M987.8 149.8h8M995.8 157.8h8M875.8 257.8h8M1051.8 273.8h8M859.8 281.8h8M851.8 285.8h8M1059.8 285.8h8M779.8 309.8h24M739.8 313.8h8M1099.8 313.8h8M731.8 317.8h8M1107.8 317.8h8M1115.8 321.8h16M1139.8 325.8h40M723.8 329.8h8M1171.8 329.8h24M1187.8 333.8h8M1195.8 337.8h8M1195.8 341.8h8M715.8 361.8h8M1195.8 365.8h8M835.8 369.8h8M723.8 373.8h8M803.8 373.8h24M1163.8 373.8h24M739.8 377.8h32M1107.8 377.8h24M907.8 389.8h8M1027.8 389.8h8M1043.8 389.8h8"/>
<path stroke="#696969" d="M923.8 165.8h8M1027.8 213.8h8M883.8 233.8h8M867.8 273.8h8M1067.8 297.8h8M803.8 309.8h24M747.8 313.8h16M1091.8 313.8h8M1099.8 317.8h8M731.8 321.8h8M1107.8 321.8h8M1123.8 325.8h16M1139.8 329.8h32M1163.8 333.8h24M1187.8 337.8h8M1195.8 345.8h8M715.8 349.8h8M1195.8 361.8h8M843.8 365.8h8M827.8 369.8h8M1179.8 369.8h16M787.8 373.8h16M1147.8 373.8h16M1091.8 377.8h16M859.8 381.8h16M891.8 385.8h8M1019.8 389.8h8M931.8 393.8h8M995.8 393.8h8"/>
<path stroke="#6a6a6a" d="M939.8 149.8h8M931.8 157.8h8M915.8 181.8h8M907.8 197.8h8M899.8 213.8h8M891.8 225.8h8M1035.8 225.8h8M875.8 261.8h8M1051.8 277.8h8M851.8 289.8h8M1059.8 289.8h8M1075.8 305.8h8M827.8 309.8h24M1083.8 309.8h8M763.8 313.8h16M739.8 317.8h16M1091.8 317.8h8M1099.8 321.8h8M1107.8 325.8h16M1123.8 329.8h16M723.8 333.8h8M1147.8 333.8h16M1163.8 337.8h24M1187.8 341.8h8M1195.8 349.8h8M715.8 353.8h8M1195.8 353.8h8M715.8 357.8h8M1195.8 357.8h8M843.8 361.8h8M835.8 365.8h8M1187.8 365.8h8M811.8 369.8h16M1163.8 369.8h16M779.8 373.8h8M1131.8 373.8h16M1075.8 377.8h16M875.8 381.8h8"/>
<path stroke="#6b6b6b" d="M1011.8 185.8h8M1043.8 233.8h8M859.8 285.8h8M1067.8 301.8h8M779.8 313.8h24M1083.8 313.8h8M755.8 317.8h8M739.8 321.8h8M1091.8 321.8h8M731.8 325.8h8M1099.8 325.8h8M1115.8 329.8h8M1131.8 333.8h16M723.8 337.8h8M1147.8 337.8h16M1171.8 341.8h16M1179.8 345.8h16M1187.8 349.8h8M843.8 353.8h8M843.8 357.8h8M835.8 361.8h8M1187.8 361.8h8M819.8 365.8h16M1171.8 365.8h16M723.8 369.8h8M795.8 369.8h16M1147.8 369.8h16M731.8 373.8h16M763.8 373.8h16M1115.8 373.8h16M1051.8 377.8h24M851.8 381.8h8M899.8 385.8h8M915.8 389.8h8M1011.8 389.8h8M939.8 393.8h8M987.8 393.8h8"/>
<path stroke="#6c6c6c" d="M971.8 137.8h8M979.8 141.8h8M1019.8 201.8h8M883.8 237.8h8M867.8 277.8h8M1051.8 281.8h8M1059.8 293.8h8M1075.8 309.8h8M803.8 313.8h32M843.8 313.8h8M763.8 317.8h16M1083.8 317.8h8M747.8 321.8h8M739.8 325.8h8M731.8 329.8h8M1107.8 329.8h8M1115.8 333.8h16M1139.8 337.8h8M843.8 341.8h8M1155.8 341.8h16M843.8 345.8h8M1171.8 345.8h8M843.8 349.8h8M1179.8 349.8h8M835.8 353.8h8M1187.8 353.8h8M835.8 357.8h8M1187.8 357.8h8M819.8 361.8h16M1179.8 361.8h8M803.8 365.8h16M1163.8 365.8h8M787.8 369.8h8M1139.8 369.8h8M747.8 373.8h16M1099.8 373.8h16M883.8 381.8h8M947.8 393.8h8M979.8 393.8h8"/>
<path stroke="#6d6d6d" d="M955.8 137.8h8M947.8 141.8h8M1003.8 169.8h8M1027.8 217.8h8M875.8 265.8h8M859.8 289.8h8M851.8 293.8h8M1067.8 305.8h8M835.8 313.8h8M779.8 317.8h24M755.8 321.8h16M1083.8 321.8h8M747.8 325.8h8M1091.8 325.8h8M739.8 329.8h8M1099.8 329.8h8M731.8 333.8h8M1107.8 333.8h8M843.8 337.8h8M1131.8 337.8h8M835.8 341.8h8M1147.8 341.8h8M827.8 345.8h16M1163.8 345.8h8M827.8 349.8h16M1171.8 349.8h8M827.8 353.8h8M1171.8 353.8h16M819.8 357.8h16M1171.8 357.8h16M811.8 361.8h8M1163.8 361.8h16M795.8 365.8h8M1155.8 365.8h8M779.8 369.8h8M1131.8 369.8h8M1083.8 373.8h16M859.8 377.8h16M1027.8 385.8h16M923.8 389.8h8M1003.8 389.8h8M955.8 393.8h24"/>
<path stroke="#6e6e6e" d="M987.8 153.8h8M915.8 185.8h8M907.8 201.8h8M883.8 241.8h8M867.8 281.8h8M1051.8 285.8h8M1059.8 297.8h8M1075.8 313.8h8M803.8 317.8h48M771.8 321.8h16M755.8 325.8h16M1083.8 325.8h8M747.8 329.8h8M1091.8 329.8h8M739.8 333.8h8M843.8 333.8h8M1099.8 333.8h8M827.8 337.8h16M1115.8 337.8h16M723.8 341.8h8M819.8 341.8h16M1139.8 341.8h8M811.8 345.8h16M1155.8 345.8h8M811.8 349.8h16M1163.8 349.8h8M811.8 353.8h16M1163.8 353.8h8M811.8 357.8h8M1163.8 357.8h8M803.8 361.8h8M1155.8 361.8h8M723.8 365.8h8M787.8 365.8h8M1147.8 365.8h8M731.8 369.8h8M771.8 369.8h8M1123.8 369.8h8M1051.8 373.8h32M851.8 377.8h8M875.8 377.8h8M891.8 381.8h8M907.8 385.8h8M1043.8 385.8h8"/>
<path stroke="#6f6f6f" d="M963.8 137.8h8M979.8 145.8h8M899.8 217.8h8M1043.8 237.8h8M875.8 269.8h8M859.8 293.8h8M851.8 297.8h8M1075.8 317.8h8M787.8 321.8h24M835.8 321.8h16M1075.8 321.8h8M771.8 325.8h8M843.8 325.8h8M755.8 329.8h16M835.8 329.8h16M1083.8 329.8h8M747.8 333.8h8M827.8 333.8h16M1091.8 333.8h8M731.8 337.8h8M803.8 337.8h24M1107.8 337.8h8M803.8 341.8h16M1131.8 341.8h8M803.8 345.8h8M1147.8 345.8h8M803.8 349.8h8M1155.8 349.8h8M803.8 353.8h8M1155.8 353.8h8M803.8 357.8h8M1155.8 357.8h8M795.8 361.8h8M1147.8 361.8h8M1139.8 365.8h8M739.8 369.8h32M1107.8 369.8h16M859.8 373.8h16M1019.8 385.8h8M931.8 389.8h8"/>
<path stroke="#707070" d="M939.8 153.8h8M995.8 161.8h8M923.8 169.8h8M1011.8 189.8h8M1019.8 205.8h8M1035.8 229.8h8M883.8 245.8h8M867.8 285.8h8M1051.8 289.8h8M1059.8 301.8h8M1067.8 309.8h8M811.8 321.8h24M779.8 325.8h64M1075.8 325.8h8M771.8 329.8h64M755.8 333.8h72M739.8 337.8h8M787.8 337.8h16M1099.8 337.8h8M795.8 341.8h8M1123.8 341.8h8M723.8 345.8h8M795.8 345.8h8M1139.8 345.8h8M1147.8 349.8h8M795.8 357.8h8M1147.8 357.8h8M723.8 361.8h8M787.8 361.8h8M779.8 365.8h8M1131.8 365.8h8M1091.8 369.8h16M851.8 373.8h8M875.8 373.8h8M883.8 377.8h8M899.8 381.8h8M915.8 385.8h8M995.8 389.8h8"/>
<path stroke="#717171" d="M947.8 145.8h8M1027.8 221.8h8M891.8 229.8h8M1043.8 241.8h8M883.8 249.8h8M875.8 273.8h8M1051.8 293.8h8M859.8 297.8h8M851.8 301.8h8M1067.8 313.8h8M1075.8 329.8h8M1083.8 333.8h8M747.8 337.8h40M1091.8 337.8h8M731.8 341.8h8M779.8 341.8h16M1115.8 341.8h8M787.8 345.8h8M1131.8 345.8h8M723.8 349.8h8M795.8 349.8h8M1139.8 349.8h8M795.8 353.8h8M1147.8 353.8h8M1139.8 361.8h8M731.8 365.8h8M771.8 365.8h8M1123.8 365.8h8M859.8 369.8h16M1075.8 369.8h16M1011.8 385.8h8M939.8 389.8h8M987.8 389.8h8"/>
<path stroke="#727272" d="M971.8 141.8h8M1003.8 173.8h8M1043.8 245.8h8M883.8 253.8h8M867.8 289.8h8M1059.8 305.8h8M1067.8 317.8h8M1067.8 321.8h8M1075.8 333.8h8M1083.8 337.8h8M739.8 341.8h8M771.8 341.8h8M1107.8 341.8h8M779.8 345.8h8M1123.8 345.8h8M787.8 349.8h8M1131.8 349.8h8M723.8 353.8h8M787.8 353.8h8M1139.8 353.8h8M723.8 357.8h8M787.8 357.8h8M1139.8 357.8h8M779.8 361.8h8M1131.8 361.8h8M755.8 365.8h16M859.8 365.8h8M1107.8 365.8h16M851.8 369.8h8M875.8 369.8h8M1051.8 369.8h24M883.8 373.8h8M891.8 377.8h8M1035.8 381.8h8"/>
<path stroke="#737373" d="M979.8 149.8h8M931.8 161.8h8M915.8 189.8h8M907.8 205.8h8M899.8 221.8h8M1043.8 249.8h8M1043.8 253.8h8M883.8 257.8h8M867.8 293.8h8M1051.8 297.8h8M859.8 301.8h8M1059.8 309.8h8M1067.8 325.8h8M1067.8 329.8h8M747.8 341.8h24M1099.8 341.8h8M731.8 345.8h8M771.8 345.8h8M1115.8 345.8h8M779.8 349.8h8M1131.8 353.8h8M779.8 357.8h8M1131.8 357.8h8M771.8 361.8h8M1123.8 361.8h8M739.8 365.8h16M851.8 365.8h8M867.8 365.8h8M1099.8 365.8h8M907.8 381.8h8M1027.8 381.8h8M1043.8 381.8h8M923.8 385.8h8M1003.8 385.8h8M947.8 389.8h8M979.8 389.8h8"/>
<path stroke="#747474" d="M955.8 141.8h8M1011.8 193.8h8M1019.8 209.8h8M875.8 277.8h8M1051.8 301.8h8M851.8 305.8h8M1067.8 333.8h8M1075.8 337.8h8M1091.8 341.8h8M763.8 345.8h8M1107.8 345.8h8M1123.8 349.8h8M779.8 353.8h8M1123.8 357.8h8M731.8 361.8h8M763.8 361.8h8M859.8 361.8h16M1115.8 361.8h8M875.8 365.8h8M1075.8 365.8h24M883.8 369.8h8M891.8 373.8h8M899.8 377.8h8M1019.8 381.8h8M955.8 389.8h24"/>
<path stroke="#757575" d="M963.8 141.8h8M947.8 149.8h8M923.8 173.8h8M1043.8 257.8h8M883.8 261.8h8M867.8 297.8h8M1059.8 313.8h8M1059.8 317.8h8M1059.8 321.8h8M1067.8 337.8h8M1083.8 341.8h8M739.8 345.8h24M1099.8 345.8h8M731.8 349.8h8M771.8 349.8h8M1115.8 349.8h8M771.8 353.8h8M859.8 353.8h8M1123.8 353.8h8M771.8 357.8h8M859.8 357.8h16M739.8 361.8h8M755.8 361.8h8M851.8 361.8h8M1107.8 361.8h8M1051.8 365.8h24M915.8 381.8h8M931.8 385.8h8M995.8 385.8h8"/>
<path stroke="#767676" d="M971.8 145.8h8M987.8 157.8h8M1003.8 177.8h8M891.8 233.8h8M1035.8 233.8h8M1043.8 261.8h8M875.8 281.8h8M859.8 305.8h8M1051.8 305.8h8M1059.8 325.8h8M1059.8 329.8h8M1059.8 333.8h8M1075.8 341.8h8M859.8 345.8h8M1091.8 345.8h8M763.8 349.8h8M859.8 349.8h8M1107.8 349.8h8M731.8 353.8h8M851.8 353.8h8M867.8 353.8h8M1115.8 353.8h8M731.8 357.8h8M763.8 357.8h8M851.8 357.8h8M1115.8 357.8h8M747.8 361.8h8M875.8 361.8h8M1099.8 361.8h8M883.8 365.8h8M891.8 369.8h8M1035.8 377.8h8M1011.8 381.8h8"/>
<path stroke="#777777" d="M915.8 193.8h8M907.8 209.8h8M1027.8 225.8h8M883.8 265.8h8M875.8 285.8h8M867.8 301.8h8M851.8 309.8h8M1059.8 337.8h8M851.8 341.8h16M1067.8 341.8h8M851.8 345.8h8M867.8 345.8h8M1083.8 345.8h8M739.8 349.8h24M851.8 349.8h8M867.8 349.8h8M1099.8 349.8h8M763.8 353.8h8M1107.8 353.8h8M739.8 357.8h8M755.8 357.8h8M875.8 357.8h8M1107.8 357.8h8M1051.8 361.8h48M899.8 373.8h8M907.8 377.8h8M1027.8 377.8h8M1043.8 377.8h8M939.8 385.8h8M987.8 385.8h8"/>
<path stroke="#787878" d="M955.8 145.8h8M995.8 165.8h8M1011.8 197.8h8M1019.8 213.8h8M1043.8 265.8h8M859.8 309.8h8M1051.8 309.8h8M1051.8 313.8h8M1051.8 329.8h8M1051.8 333.8h8M851.8 337.8h16M1051.8 337.8h8M867.8 341.8h8M1059.8 341.8h8M1067.8 345.8h16M1091.8 349.8h8M739.8 353.8h24M875.8 353.8h8M1099.8 353.8h8M747.8 357.8h8M1091.8 357.8h16M883.8 361.8h8M891.8 365.8h8M1019.8 377.8h8M923.8 381.8h8M1003.8 381.8h8"/>
<path stroke="#797979" d="M963.8 145.8h8M979.8 153.8h8M939.8 157.8h8M923.8 177.8h8M899.8 225.8h8M1035.8 237.8h8M883.8 269.8h8M875.8 289.8h8M867.8 305.8h8M851.8 313.8h16M1051.8 317.8h8M1051.8 321.8h8M1051.8 325.8h8M851.8 333.8h16M867.8 337.8h8M1051.8 341.8h8M875.8 345.8h8M1059.8 345.8h8M875.8 349.8h8M1075.8 349.8h16M1083.8 353.8h16M883.8 357.8h8M1051.8 357.8h40M899.8 369.8h8M1035.8 373.8h8M915.8 377.8h8M947.8 385.8h8M979.8 385.8h8"/>
<path stroke="#7a7a7a" d="M971.8 149.8h8M1003.8 181.8h8M891.8 237.8h8M1043.8 269.8h8M875.8 293.8h8M851.8 317.8h16M851.8 321.8h8M851.8 325.8h16M851.8 329.8h16M867.8 333.8h8M875.8 341.8h8M1051.8 345.8h8M1051.8 349.8h24M883.8 353.8h8M1051.8 353.8h32M891.8 361.8h8M907.8 373.8h8M1027.8 373.8h8M1011.8 377.8h8M931.8 381.8h8M995.8 381.8h8M955.8 385.8h24"/>
<path stroke="#7b7b7b" d="M955.8 149.8h8M947.8 153.8h8M931.8 165.8h8M915.8 197.8h8M907.8 213.8h8M883.8 273.8h8M875.8 297.8h8M867.8 309.8h8M859.8 321.8h8M867.8 329.8h8M875.8 337.8h8M883.8 349.8h8M899.8 365.8h8M1019.8 373.8h8M1043.8 373.8h8"/>
<path stroke="#7c7c7c" d="M963.8 149.8h8M1011.8 201.8h8M1019.8 217.8h8M891.8 241.8h8M1035.8 241.8h8M1035.8 245.8h8M1043.8 273.8h8M875.8 301.8h8M867.8 313.8h8M867.8 317.8h8M867.8 325.8h8M883.8 345.8h8M891.8 357.8h8M907.8 369.8h8M1035.8 369.8h8M915.8 373.8h8M923.8 377.8h8M1003.8 377.8h8M939.8 381.8h8M987.8 381.8h8"/>
<path stroke="#7d7d7d" d="M891.8 245.8h8M1035.8 249.8h8M883.8 277.8h8M867.8 321.8h8M875.8 333.8h8M883.8 341.8h8M899.8 361.8h8M1027.8 369.8h8M1011.8 373.8h8"/>
<path stroke="#7e7e7e" d="M923.8 181.8h8M1003.8 185.8h8M1027.8 229.8h8M891.8 249.8h8M1035.8 253.8h8M1035.8 257.8h8M875.8 305.8h8M875.8 329.8h8M891.8 353.8h8M907.8 365.8h8M1019.8 369.8h8M1043.8 369.8h8M931.8 377.8h8M947.8 381.8h8M979.8 381.8h8"/>
<path stroke="#7f7f7f" d="M987.8 161.8h8M907.8 217.8h8M891.8 253.8h8M1043.8 277.8h8M883.8 281.8h8M875.8 309.8h8M875.8 325.8h8M883.8 337.8h8M891.8 349.8h8M899.8 357.8h8M1035.8 365.8h8M915.8 369.8h8M923.8 373.8h8M995.8 377.8h8M955.8 381.8h24"/>
<path stroke="#808080" d="M971.8 153.8h8M995.8 169.8h8M915.8 201.8h8M899.8 229.8h8M891.8 257.8h8M1035.8 261.8h8M883.8 285.8h8M875.8 313.8h8M875.8 317.8h8M875.8 321.8h8M883.8 333.8h8M891.8 345.8h8M1027.8 365.8h8M1043.8 365.8h8M1011.8 369.8h8M1003.8 373.8h8M939.8 377.8h8M987.8 377.8h8"/>
<path stroke="#818181" d="M1011.8 205.8h8M1019.8 221.8h8M891.8 261.8h8M1035.8 265.8h8M1043.8 281.8h8M883.8 289.8h8M891.8 341.8h8M899.8 353.8h8M907.8 361.8h8M1019.8 365.8h8"/>
<path stroke="#828282" d="M955.8 153.8h8M979.8 157.8h8M939.8 161.8h8M923.8 185.8h8M1003.8 189.8h8M1043.8 285.8h8M883.8 293.8h8M883.8 329.8h8M1027.8 361.8h16M915.8 365.8h8M923.8 369.8h8M931.8 373.8h8M995.8 373.8h8M947.8 377.8h8M979.8 377.8h8"/>
<path stroke="#838383" d="M963.8 153.8h8M931.8 169.8h8M891.8 265.8h8M1035.8 269.8h8M1043.8 289.8h8M883.8 297.8h8M883.8 301.8h8M891.8 337.8h8M899.8 349.8h8M907.8 357.8h8M1043.8 361.8h8M1011.8 365.8h8M1003.8 369.8h8M955.8 377.8h24"/>
<path stroke="#848484" d="M947.8 157.8h8M915.8 205.8h8M907.8 221.8h8M1027.8 233.8h8M1043.8 293.8h8M883.8 305.8h8M883.8 325.8h8M899.8 345.8h8M1035.8 357.8h8M915.8 361.8h8M1019.8 361.8h8M939.8 373.8h8M987.8 373.8h8"/>
<path stroke="#858585" d="M995.8 173.8h8M1011.8 209.8h8M891.8 269.8h8M1035.8 273.8h8M1043.8 297.8h8M883.8 309.8h8M883.8 317.8h8M883.8 321.8h8M891.8 333.8h8M907.8 353.8h8M1035.8 353.8h8M1027.8 357.8h8M1043.8 357.8h8M923.8 365.8h8M931.8 369.8h8M995.8 369.8h8M947.8 373.8h8M979.8 373.8h8"/>
<path stroke="#868686" d="M923.8 189.8h8M1003.8 193.8h8M899.8 233.8h8M1043.8 301.8h8M883.8 313.8h8M1043.8 337.8h8M899.8 341.8h8M1035.8 349.8h8M1027.8 353.8h8M1043.8 353.8h8M1019.8 357.8h8M1011.8 361.8h8M1003.8 365.8h8M955.8 373.8h8M971.8 373.8h8"/>
<path stroke="#878787" d="M1019.8 225.8h8M891.8 273.8h8M1035.8 277.8h8M891.8 329.8h8M1043.8 333.8h8M1035.8 341.8h16M1035.8 345.8h16M907.8 349.8h8M1027.8 349.8h8M1043.8 349.8h8M915.8 357.8h8M923.8 361.8h8M939.8 369.8h8M987.8 369.8h8M963.8 373.8h8"/>
<path stroke="#888888" d="M931.8 173.8h8M915.8 209.8h8M1027.8 237.8h8M1035.8 281.8h8M1043.8 305.8h8M1043.8 325.8h8M1043.8 329.8h8M1035.8 333.8h8M899.8 337.8h8M1035.8 337.8h8M1027.8 345.8h8M1019.8 353.8h8M931.8 365.8h8M995.8 365.8h8"/>
<path stroke="#898989" d="M987.8 165.8h8M1011.8 213.8h8M891.8 277.8h8M1035.8 285.8h8M1043.8 309.8h8M1043.8 313.8h8M1043.8 317.8h8M1043.8 321.8h8M891.8 325.8h8M1027.8 341.8h8M907.8 345.8h8M915.8 353.8h8M1011.8 357.8h8M1003.8 361.8h8M947.8 369.8h8M979.8 369.8h8"/>
<path stroke="#8a8a8a" d="M971.8 157.8h8M995.8 177.8h8M923.8 193.8h8M1003.8 197.8h8M907.8 225.8h8M899.8 237.8h8M1027.8 241.8h8M891.8 281.8h8M1035.8 289.8h8M1035.8 293.8h8M1035.8 329.8h8M899.8 333.8h8M1027.8 337.8h8M1019.8 349.8h8M923.8 357.8h8M939.8 365.8h8M987.8 365.8h8M955.8 369.8h24"/>
<path stroke="#8b8b8b" d="M939.8 165.8h8M1027.8 245.8h8M1027.8 249.8h8M1027.8 253.8h8M1027.8 257.8h8M891.8 285.8h8M891.8 289.8h8M891.8 293.8h8M891.8 297.8h8M1035.8 297.8h8M1035.8 301.8h8M891.8 321.8h8M1035.8 325.8h8M907.8 341.8h8M1019.8 345.8h8M915.8 349.8h8M1011.8 353.8h8M1003.8 357.8h8M931.8 361.8h8M995.8 361.8h8"/>
<path stroke="#8c8c8c" d="M955.8 157.8h8M979.8 161.8h8M915.8 213.8h8M899.8 241.8h8M1027.8 261.8h8M891.8 301.8h8M891.8 305.8h8M1035.8 305.8h8M891.8 309.8h8M891.8 313.8h8M891.8 317.8h8M1035.8 321.8h8M1027.8 333.8h8M947.8 365.8h8M979.8 365.8h8"/>
<path stroke="#8d8d8d" d="M963.8 157.8h8M931.8 177.8h8M1011.8 217.8h8M899.8 245.8h8M899.8 249.8h8M1027.8 265.8h8M1035.8 309.8h8M1035.8 313.8h8M1035.8 317.8h8M899.8 329.8h8M907.8 337.8h8M1019.8 341.8h8M915.8 345.8h8M1011.8 349.8h8M923.8 353.8h8M931.8 357.8h8M939.8 361.8h8M987.8 361.8h8M955.8 365.8h24"/>
<path stroke="#8e8e8e" d="M947.8 161.8h8M995.8 181.8h8M923.8 197.8h8M1003.8 201.8h8M899.8 253.8h8M899.8 257.8h8M1027.8 329.8h8M1003.8 353.8h8M995.8 357.8h8"/>
<path stroke="#8f8f8f" d="M1019.8 229.8h8M899.8 261.8h8M1027.8 269.8h8M899.8 325.8h8M1019.8 337.8h8M1011.8 345.8h8M923.8 349.8h8M947.8 361.8h8M979.8 361.8h8"/>
<path stroke="#909090" d="M1027.8 273.8h8M1027.8 325.8h8M907.8 333.8h8M915.8 341.8h8M1003.8 349.8h8M931.8 353.8h8M939.8 357.8h8M955.8 361.8h8M971.8 361.8h8"/>
<path stroke="#919191" d="M987.8 169.8h8M931.8 181.8h8M915.8 217.8h8M907.8 229.8h8M899.8 265.8h8M899.8 321.8h8M1027.8 321.8h8M1019.8 333.8h8M1011.8 341.8h8M995.8 353.8h8M987.8 357.8h8M963.8 361.8h8"/>
<path stroke="#929292" d="M995.8 185.8h8M923.8 201.8h8M1003.8 205.8h8M1011.8 221.8h8M1027.8 277.8h8M1027.8 317.8h8M915.8 337.8h8M923.8 345.8h8M947.8 357.8h8"/>
<path stroke="#939393" d="M899.8 269.8h8M1027.8 281.8h8M1027.8 285.8h8M1027.8 289.8h8M1027.8 293.8h8M1027.8 297.8h8M1027.8 301.8h8M1027.8 305.8h8M1027.8 309.8h8M1027.8 313.8h8M899.8 317.8h8M907.8 329.8h8M1019.8 329.8h8M1011.8 337.8h8M1003.8 345.8h8M931.8 349.8h8M939.8 353.8h8M979.8 357.8h8"/>
<path stroke="#949494" d="M939.8 169.8h8M899.8 273.8h8M899.8 305.8h8M899.8 309.8h8M899.8 313.8h8M995.8 349.8h8M987.8 353.8h8M955.8 357.8h24"/>
<path stroke="#959595" d="M971.8 161.8h8M931.8 185.8h8M995.8 189.8h8M915.8 221.8h8M1019.8 233.8h8M899.8 277.8h8M899.8 293.8h8M899.8 297.8h8M899.8 301.8h8M923.8 341.8h8M1003.8 341.8h8"/>
<path stroke="#969696" d="M979.8 165.8h8M923.8 205.8h8M1003.8 209.8h8M899.8 281.8h8M899.8 285.8h8M899.8 289.8h8M907.8 325.8h8M1019.8 325.8h8M915.8 333.8h8M1011.8 333.8h8M931.8 345.8h8M995.8 345.8h8M939.8 349.8h8M947.8 353.8h8M979.8 353.8h8"/>
<path stroke="#979797" d="M955.8 161.8h8M987.8 173.8h8M907.8 233.8h8M1019.8 321.8h8M987.8 349.8h8M955.8 353.8h24"/>
<path stroke="#989898" d="M963.8 161.8h8M907.8 321.8h8M923.8 337.8h8M1003.8 337.8h8"/>
<path stroke="#999999" d="M947.8 165.8h8M931.8 189.8h8M995.8 193.8h8M1011.8 225.8h8M1019.8 317.8h8M915.8 329.8h8M1011.8 329.8h8M931.8 341.8h8M995.8 341.8h8M939.8 345.8h8M947.8 349.8h8M979.8 349.8h8"/>
<path stroke="#9a9a9a" d="M939.8 173.8h8M923.8 209.8h8M1003.8 213.8h8M1019.8 237.8h8M1019.8 253.8h8M1019.8 257.8h8M1019.8 261.8h8M1019.8 313.8h8M907.8 317.8h8M987.8 345.8h8M955.8 349.8h8M971.8 349.8h8"/>
<path stroke="#9b9b9b" d="M1019.8 249.8h8M1019.8 265.8h8M1019.8 301.8h8M1019.8 305.8h8M1019.8 309.8h8M923.8 333.8h8M1003.8 333.8h8M963.8 349.8h8"/>
<path stroke="#9c9c9c" d="M987.8 177.8h8M931.8 193.8h8M995.8 197.8h8M915.8 225.8h8M907.8 237.8h8M1019.8 241.8h8M1019.8 245.8h8M1019.8 269.8h8M1019.8 297.8h8M907.8 313.8h8M915.8 325.8h8M1011.8 325.8h8M931.8 337.8h8M947.8 345.8h8M979.8 345.8h8"/>
<path stroke="#9d9d9d" d="M1019.8 273.8h8M1019.8 293.8h8M907.8 305.8h8M907.8 309.8h8M995.8 337.8h8M939.8 341.8h8M987.8 341.8h8"/>
<path stroke="#9e9e9e" d="M923.8 213.8h8M1003.8 217.8h8M907.8 241.8h8M907.8 245.8h8M907.8 249.8h8M907.8 253.8h8M907.8 257.8h8M907.8 261.8h8M1019.8 277.8h8M1019.8 285.8h8M1019.8 289.8h8M907.8 301.8h8M1011.8 321.8h8M955.8 345.8h24"/>
<path stroke="#9f9f9f" d="M971.8 165.8h8M939.8 177.8h8M1019.8 281.8h8M907.8 297.8h8M915.8 321.8h8M923.8 329.8h8M1003.8 329.8h8"/>
<path stroke="#a0a0a0" d="M979.8 169.8h8M987.8 181.8h8M931.8 197.8h8M995.8 201.8h8M907.8 265.8h8M907.8 293.8h8M1011.8 317.8h8M995.8 333.8h8M947.8 341.8h8M979.8 341.8h8"/>
<path stroke="#a1a1a1" d="M955.8 165.8h8M1011.8 229.8h8M907.8 269.8h8M907.8 289.8h8M931.8 333.8h8M939.8 337.8h8M987.8 337.8h8M955.8 341.8h8M971.8 341.8h8"/>
<path stroke="#a2a2a2" d="M923.8 217.8h8M907.8 273.8h8M907.8 285.8h8M1011.8 313.8h8M915.8 317.8h8M1003.8 325.8h8M963.8 341.8h8"/>
<path stroke="#a3a3a3" d="M963.8 165.8h8M947.8 169.8h8M939.8 181.8h8M987.8 185.8h8M931.8 201.8h8M995.8 205.8h8M907.8 277.8h8M907.8 281.8h8M1011.8 309.8h8M923.8 325.8h8"/>
<path stroke="#a4a4a4" d="M1003.8 221.8h8M915.8 229.8h8M1011.8 305.8h8M915.8 313.8h8M947.8 337.8h8M979.8 337.8h8"/>
<path stroke="#a5a5a5" d="M1011.8 301.8h8M915.8 309.8h8M1003.8 321.8h8M931.8 329.8h8M995.8 329.8h8M939.8 333.8h8M987.8 333.8h8"/>
<path stroke="#a6a6a6" d="M979.8 173.8h8M987.8 189.8h8M1011.8 297.8h8M923.8 321.8h8M955.8 337.8h24"/>
<path stroke="#a7a7a7" d="M939.8 185.8h8M931.8 205.8h8M995.8 209.8h8M923.8 221.8h8M1011.8 293.8h8M915.8 305.8h8M1003.8 317.8h8"/>
<path stroke="#a8a8a8" d="M1011.8 233.8h8M915.8 301.8h8M995.8 325.8h8M947.8 333.8h8M979.8 333.8h8"/>
<path stroke="#a9a9a9" d="M971.8 169.8h8M947.8 173.8h8M987.8 193.8h8M1011.8 261.8h8M1011.8 265.8h8M1011.8 289.8h8M915.8 297.8h8M1003.8 313.8h8M923.8 317.8h8M931.8 325.8h8M987.8 329.8h8"/>
<path stroke="#aaaaaa" d="M939.8 189.8h8M915.8 233.8h8M1011.8 257.8h8M1011.8 269.8h8M1011.8 285.8h8M939.8 329.8h8M955.8 333.8h8M971.8 333.8h8"/>
<path stroke="#ababab" d="M979.8 177.8h8M931.8 209.8h8M995.8 213.8h8M1003.8 225.8h8M1011.8 253.8h8M1011.8 273.8h8M1011.8 277.8h8M1011.8 281.8h8M915.8 293.8h8M1003.8 309.8h8M963.8 333.8h8"/>
<path stroke="#acacac" d="M955.8 169.8h8M987.8 197.8h8M1003.8 305.8h8M923.8 313.8h8M995.8 321.8h8"/>
<path stroke="#adadad" d="M963.8 169.8h8M939.8 193.8h8M1011.8 249.8h8M915.8 289.8h8M931.8 321.8h8M947.8 329.8h8M979.8 329.8h8"/>
<path stroke="#aeaeae" d="M947.8 177.8h8M923.8 225.8h8M1011.8 237.8h8M915.8 257.8h8M915.8 261.8h8M915.8 265.8h8M1003.8 301.8h8M923.8 309.8h8M995.8 317.8h8M939.8 325.8h8M987.8 325.8h8"/>
<path stroke="#afafaf" d="M979.8 181.8h8M987.8 201.8h8M931.8 213.8h8M995.8 217.8h8M915.8 237.8h8M1011.8 245.8h8M915.8 253.8h8M915.8 269.8h8M915.8 285.8h8M923.8 305.8h8M971.8 329.8h8"/>
<path stroke="#b0b0b0" d="M971.8 173.8h8M939.8 197.8h8M1011.8 241.8h8M915.8 249.8h8M915.8 273.8h8M915.8 277.8h8M915.8 281.8h8M1003.8 297.8h8M931.8 317.8h8M955.8 329.8h16"/>
<path stroke="#b1b1b1" d="M923.8 301.8h8M995.8 313.8h8M987.8 321.8h8"/>
<path stroke="#b2b2b2" d="M955.8 173.8h8M947.8 181.8h8M979.8 185.8h8M915.8 241.8h8M915.8 245.8h8M1003.8 293.8h8M995.8 309.8h8M939.8 321.8h8M947.8 325.8h8M979.8 325.8h8"/>
<path stroke="#b3b3b3" d="M939.8 201.8h8M987.8 205.8h8M931.8 217.8h8M1003.8 229.8h8M931.8 313.8h8"/>
<path stroke="#b4b4b4" d="M963.8 173.8h8M979.8 189.8h8M995.8 221.8h8M1003.8 289.8h8M923.8 297.8h8M995.8 305.8h8M987.8 317.8h8M971.8 325.8h8"/>
<path stroke="#b5b5b5" d="M971.8 177.8h8M947.8 185.8h8M931.8 309.8h8M955.8 325.8h16"/>
<path stroke="#b6b6b6" d="M939.8 205.8h8M987.8 209.8h8M923.8 229.8h8M1003.8 285.8h8M923.8 293.8h8M939.8 317.8h8M979.8 321.8h8"/>
<path stroke="#b7b7b7" d="M955.8 177.8h8M947.8 189.8h8M979.8 193.8h8M995.8 301.8h8M931.8 305.8h8M987.8 313.8h8M947.8 321.8h8"/>
<path stroke="#b8b8b8" d="M963.8 177.8h8M971.8 181.8h8M931.8 221.8h8M1003.8 261.8h8M1003.8 265.8h8M1003.8 269.8h8M1003.8 273.8h8M1003.8 277.8h8M1003.8 281.8h8M923.8 289.8h8M971.8 321.8h8"/>
<path stroke="#b9b9b9" d="M979.8 197.8h8M1003.8 257.8h8M995.8 297.8h8M987.8 309.8h8M939.8 313.8h8M979.8 317.8h8M955.8 321.8h16"/>
<path stroke="#bababa" d="M947.8 193.8h8M939.8 209.8h8M987.8 213.8h8M931.8 301.8h8M947.8 317.8h8"/>
<path stroke="#bbbbbb" d="M955.8 181.8h8M971.8 185.8h8M923.8 285.8h8M995.8 293.8h8M987.8 305.8h8M979.8 313.8h8"/>
<path stroke="#bcbcbc" d="M963.8 181.8h8M947.8 197.8h8M979.8 201.8h8M995.8 225.8h8M1003.8 233.8h8M1003.8 253.8h8M939.8 309.8h8M971.8 317.8h8"/>
<path stroke="#bdbdbd" d="M971.8 189.8h8M923.8 261.8h8M923.8 265.8h8M923.8 269.8h8M923.8 281.8h8M931.8 297.8h8M947.8 313.8h8M955.8 317.8h16"/>
<path stroke="#bebebe" d="M955.8 185.8h8M939.8 213.8h8M987.8 217.8h8M923.8 233.8h8M923.8 257.8h8M923.8 273.8h8M923.8 277.8h8M995.8 289.8h8M987.8 301.8h8M939.8 305.8h8M979.8 309.8h8M971.8 313.8h8"/>
<path stroke="#bfbfbf" d="M963.8 185.8h8M971.8 193.8h8M947.8 201.8h8M979.8 205.8h8M931.8 225.8h8"/>
<path stroke="#c0c0c0" d="M955.8 189.8h8M1003.8 249.8h8M923.8 253.8h8M931.8 293.8h8M947.8 309.8h8M955.8 313.8h16"/>
<path stroke="#c1c1c1" d="M963.8 189.8h8M971.8 197.8h8M995.8 285.8h8M987.8 297.8h8M939.8 301.8h8M979.8 305.8h8M971.8 309.8h8"/>
<path stroke="#c2c2c2" d="M955.8 193.8h16M947.8 205.8h8M979.8 209.8h8M939.8 217.8h8M1003.8 237.8h8M963.8 309.8h8"/>
<path stroke="#c3c3c3" d="M987.8 221.8h8M923.8 249.8h8M931.8 289.8h8M947.8 305.8h8"/>
<path stroke="#c4c4c4" d="M955.8 197.8h16M971.8 201.8h8M923.8 237.8h8M1003.8 245.8h8M995.8 277.8h8M995.8 281.8h8M987.8 293.8h8M979.8 301.8h8M971.8 305.8h8M955.8 309.8h8"/>
<path stroke="#c5c5c5" d="M1003.8 241.8h8M923.8 245.8h8M995.8 265.8h8M995.8 269.8h8M995.8 273.8h8M939.8 297.8h8M963.8 305.8h8"/>
<path stroke="#c6c6c6" d="M947.8 209.8h8M979.8 213.8h8M995.8 229.8h8M923.8 241.8h8M995.8 261.8h8M931.8 285.8h8"/>
<path stroke="#c7c7c7" d="M955.8 201.8h16M971.8 205.8h8M939.8 221.8h8M987.8 289.8h8M979.8 297.8h8M947.8 301.8h8M971.8 301.8h8M955.8 305.8h8"/>
<path stroke="#c8c8c8" d="M931.8 229.8h8M995.8 257.8h8M939.8 293.8h8M963.8 301.8h8"/>
<path stroke="#c9c9c9" d="M963.8 205.8h8M947.8 213.8h8M979.8 217.8h8M931.8 281.8h8"/>
<path stroke="#cacaca" d="M955.8 205.8h8M971.8 209.8h8M931.8 265.8h8M931.8 269.8h8M931.8 273.8h8M931.8 277.8h8M979.8 293.8h8M955.8 301.8h8"/>
<path stroke="#cbcbcb" d="M987.8 225.8h8M931.8 261.8h8M987.8 285.8h8M947.8 297.8h8M971.8 297.8h8"/>
<path stroke="#cccccc" d="M939.8 289.8h8M963.8 297.8h8"/>
<path stroke="#cdcdcd" d="M955.8 209.8h16M971.8 213.8h8M947.8 217.8h8M995.8 253.8h8M931.8 257.8h8"/>
<path stroke="#cecece" d="M939.8 225.8h8M987.8 281.8h8M979.8 289.8h8M947.8 293.8h8M971.8 293.8h8M955.8 297.8h8"/>
<path stroke="#cfcfcf" d="M979.8 221.8h8M995.8 233.8h8M987.8 273.8h8M987.8 277.8h8M939.8 285.8h8"/>
<path stroke="#d0d0d0" d="M955.8 213.8h16M931.8 253.8h8M987.8 265.8h8M987.8 269.8h8M963.8 293.8h8"/>
<path stroke="#d1d1d1" d="M971.8 217.8h8M931.8 233.8h8"/>
<path stroke="#d2d2d2" d="M947.8 221.8h8M995.8 249.8h8M987.8 261.8h8M979.8 285.8h8M947.8 289.8h8M971.8 289.8h8M955.8 293.8h8"/>
<path stroke="#d3d3d3" d="M963.8 217.8h8M939.8 281.8h8"/>
<path stroke="#d4d4d4" d="M955.8 217.8h8M939.8 277.8h8M963.8 289.8h8"/>
<path stroke="#d5d5d5" d="M931.8 249.8h8M987.8 257.8h8M939.8 269.8h8M939.8 273.8h8M979.8 281.8h8"/>
<path stroke="#d6d6d6" d="M971.8 221.8h8M987.8 229.8h8M939.8 265.8h8M955.8 289.8h8"/>
<path stroke="#d7d7d7" d="M979.8 225.8h8M995.8 237.8h8M939.8 261.8h8M979.8 277.8h8M947.8 285.8h8M971.8 285.8h8"/>
<path stroke="#d8d8d8" d="M939.8 229.8h8M931.8 237.8h8M995.8 245.8h8M979.8 269.8h8M979.8 273.8h8M963.8 285.8h8"/>
<path stroke="#d9d9d9" d="M955.8 221.8h16M931.8 245.8h8M979.8 265.8h8"/>
<path stroke="#dadada" d="M947.8 225.8h8M931.8 241.8h8M995.8 241.8h8M939.8 257.8h8M947.8 281.8h8M971.8 281.8h8"/>
<path stroke="#dbdbdb" d="M987.8 253.8h8M979.8 261.8h8M955.8 285.8h8"/>
<path stroke="#dcdcdc" d="M947.8 277.8h8M971.8 277.8h8M963.8 281.8h8"/>
<path stroke="#dddddd" d="M947.8 273.8h8M971.8 273.8h8"/>
<path stroke="#dedede" d="M947.8 269.8h8M971.8 269.8h8M963.8 277.8h8"/>
<path stroke="#dfdfdf" d="M971.8 225.8h8M939.8 253.8h8M947.8 265.8h8M971.8 265.8h8M963.8 273.8h8M955.8 281.8h8"/>
<path stroke="#e0e0e0" d="M979.8 257.8h8M947.8 261.8h8M963.8 269.8h8"/>
<path stroke="#e1e1e1" d="M963.8 225.8h8M987.8 233.8h8M971.8 261.8h8M963.8 265.8h8M955.8 277.8h8"/>
<path stroke="#e2e2e2" d="M955.8 225.8h8M987.8 249.8h8M955.8 273.8h8"/>
<path stroke="#e3e3e3" d="M979.8 229.8h8M939.8 233.8h8M955.8 269.8h8"/>
<path stroke="#e4e4e4" d="M947.8 257.8h8M963.8 261.8h8M955.8 265.8h8"/>
<path stroke="#e5e5e5" d="M947.8 229.8h8M939.8 249.8h8"/>
<path stroke="#e6e6e6" d="M979.8 253.8h8M971.8 257.8h8M955.8 261.8h8"/>
<path stroke="#e8e8e8" d="M963.8 257.8h8"/>
<path stroke="#e9e9e9" d="M987.8 245.8h8"/>
<path stroke="#eaeaea" d="M939.8 237.8h8M987.8 237.8h8M947.8 253.8h8M955.8 257.8h8"/>
<path stroke="#ebebeb" d="M971.8 229.8h8M939.8 245.8h8"/>
<path stroke="#ededed" d="M963.8 229.8h8M939.8 241.8h8M987.8 241.8h8M971.8 253.8h8"/>
<path stroke="#eeeeee" d="M955.8 229.8h8"/>
<path stroke="#efefef" d="M979.8 233.8h8M979.8 249.8h8"/>
<path stroke="#f0f0f0" d="M963.8 253.8h8"/>
<path stroke="#f1f1f1" d="M947.8 233.8h8M955.8 253.8h8"/>
<path stroke="#f2f2f2" d="M947.8 249.8h8"/>
<path stroke="#f7f7f7" d="M971.8 233.8h8M979.8 245.8h8M971.8 249.8h8"/>
<path stroke="#f8f8f8" d="M979.8 237.8h8"/>
<path stroke="#f9f9f9" d="M947.8 245.8h8M963.8 249.8h8"/>
<path stroke="#fafafa" d="M955.8 233.8h16M947.8 237.8h8M955.8 249.8h8"/>
<path stroke="#fbfbfb" d="M979.8 241.8h8"/>
<path stroke="#fdfdfd" d="M947.8 241.8h8"/>
<path stroke="#ffffff" d="M955.8 237.8h24M955.8 241.8h24M955.8 245.8h24"/>
</g></g>
<path d="M851.4 47.81V521M1048.5 47.81V521" stroke="#fff" stroke-width="1" fill="none"/>
</g>
<path d="M699.76 393.45H1232.19" stroke="#cd2626" stroke-width="1.5" stroke-dasharray="6 6" stroke-linecap="round" fill="none"/>
<path d="M932.4 580.24V47.81" stroke="#006400" stroke-width="1.5" stroke-dasharray="6 6" stroke-linecap="round" fill="none"/>
<path d="M998.2 580.24V47.81" stroke="#006400" stroke-width="1.5" stroke-dasharray="6 6" stroke-linecap="round" fill="none"/>
<rect x="699.76" y="47.81" width="532.43" height="532.43" fill="none" stroke="#000" stroke-width="0.75"/>
<text x="965.98" y="31.91" text-anchor="middle" font-weight="bold" font-size="21.5">Density heat map for the top hits</text>
<text x="965.98" y="626.14" text-anchor="middle" font-size="16">Distance to peak summit</text>
<text transform="translate(661.96 314.02) rotate(-90)" text-anchor="middle" font-size="15.7">Motif score</text>
<path d="M751.3 580.24H1179.3M751.3 580.24v5.98M858.3 580.24v5.98M965.3 580.24v5.98M1072.3 580.24v5.98M1179.3 580.24v5.98" fill="none" stroke="#000" stroke-width="0.75"/>
<text x="751.3" y="601.74" text-anchor="middle" font-size="10.5">-400</text>
<text x="858.3" y="601.74" text-anchor="middle" font-size="10.5">-200</text>
<text x="965.3" y="601.74" text-anchor="middle" font-size="10.5">0</text>
<text x="1072.3" y="601.74" text-anchor="middle" font-size="10.5">200</text>
<text x="1179.3" y="601.74" text-anchor="middle" font-size="10.5">400</text>
<path d="M699.76 47.6V491M699.76 491h-5.98M699.76 343.2h-5.98M699.76 195.4h-5.98M699.76 47.6h-5.98" fill="none" stroke="#000" stroke-width="0.75"/>
<text transform="translate(685.06 491) rotate(-90)" text-anchor="middle" font-size="10.5">85</text>
<text transform="translate(685.06 343.2) rotate(-90)" text-anchor="middle" font-size="10.5">90</text>
<text transform="translate(685.06 195.4) rotate(-90)" text-anchor="middle" font-size="10.5">95</text>
<text transform="translate(685.06 47.6) rotate(-90)" text-anchor="middle" font-size="10.5">100</text>
<path d="M79.1 1200.45 79.6 1200.45 80.1 1200.45 80.6 1200.44 81.1 1200.44 81.6 1200.44 82.1 1200.44 82.6 1200.43 83.1 1200.43 83.6 1200.43 84.1 1200.43 84.6 1200.42 85.1 1200.42 85.6 1200.42 86.1 1200.42 86.6 1200.41 87.1 1200.41 87.6 1200.41 88.1 1200.4 88.6 1200.4 89.1 1200.4 89.6 1200.39 90.1 1200.39 90.6 1200.39 91.1 1200.38 91.6 1200.38 92.1 1200.37 92.6 1200.37 93.1 1200.36 93.6 1200.36 94.1 1200.36 94.6 1200.35 95.1 1200.34 95.6 1200.34 96.1 1200.33 96.6 1200.33 97.1 1200.32 97.6 1200.32 98.1 1200.31 98.6 1200.3 99.1 1200.3 99.6 1200.29 100.1 1200.28 100.6 1200.27 101.1 1200.27 101.6 1200.26 102.1 1200.25 102.6 1200.24 103.1 1200.23 103.6 1200.22 104.1 1200.21 104.6 1200.2 105.1 1200.19 105.6 1200.18 106.1 1200.17 106.6 1200.16 107.1 1200.15 107.6 1200.14 108.1 1200.13 108.6 1200.11 109.1 1200.1 109.6 1200.09 110.1 1200.08 110.6 1200.06 111.1 1200.05 111.6 1200.03 112.1 1200.02 112.6 1200 113.1 1199.99 113.6 1199.97 114.1 1199.96 114.6 1199.94 115.1 1199.92 115.6 1199.91 116.1 1199.89 116.6 1199.87 117.1 1199.85 117.6 1199.83 118.1 1199.81 118.6 1199.8 119.1 1199.77 119.6 1199.75 120.1 1199.73 120.6 1199.71 121.1 1199.69 121.6 1199.67 122.1 1199.64 122.6 1199.62 123.1 1199.6 123.6 1199.57 124.1 1199.55 124.6 1199.52 125.1 1199.49 125.6 1199.46 126.1 1199.43 126.6 1199.39 127.1 1199.36 127.6 1199.32 128.1 1199.28 128.6 1199.23 129.1 1199.18 129.6 1199.13 130.1 1199.08 130.6 1199.02 131.1 1198.95 131.6 1198.88 132.1 1198.81 132.6 1198.74 133.1 1198.66 133.6 1198.58 134.1 1198.49 134.6 1198.4 135.1 1198.31 135.6 1198.22 136.1 1198.13 136.6 1198.03 137.1 1197.93 137.6 1197.83 138.1 1197.73 138.6 1197.63 139.1 1197.53 139.6 1197.42 140.1 1197.32 140.6 1197.21 141.1 1197.1 141.6 1197 142.1 1196.89 142.6 1196.78 143.1 1196.67 143.6 1196.55 144.1 1196.44 144.6 1196.32 145.1 1196.21 145.6 1196.09 146.1 1195.97 146.6 1195.85 147.1 1195.73 147.6 1195.6 148.1 1195.48 148.6 1195.35 149.1 1195.21 149.6 1195.08 150.1 1194.94 150.6 1194.79 151.1 1194.64 151.6 1194.49 152.1 1194.33 152.6 1194.16 153.1 1193.98 153.6 1193.8 154.1 1193.6 154.6 1193.4 155.1 1193.19 155.6 1192.97 156.1 1192.74 156.6 1192.5 157.1 1192.25 157.6 1191.99 158.1 1191.72 158.6 1191.44 159.1 1191.15 159.6 1190.86 160.1 1190.55 160.6 1190.24 161.1 1189.92 161.6 1189.59 162.1 1189.26 162.6 1188.91 163.1 1188.56 163.6 1188.2 164.1 1187.84 164.6 1187.46 165.1 1187.08 165.6 1186.69 166.1 1186.3 166.6 1185.89 167.1 1185.48 167.6 1185.05 168.1 1184.62 168.6 1184.18 169.1 1183.74 169.6 1183.28 170.1 1182.81 170.6 1182.33 171.1 1181.84 171.6 1181.34 172.1 1180.83 172.6 1180.3 173.1 1179.76 173.6 1179.21 174.1 1178.64 174.6 1178.06 175.1 1177.47 175.6 1176.86 176.1 1176.23 176.6 1175.59 177.1 1174.94 177.6 1174.27 178.1 1173.59 178.6 1172.9 179.1 1172.19 179.6 1171.47 180.1 1170.74 180.6 1169.99 181.1 1169.23 181.6 1168.46 182.1 1167.68 182.6 1166.88 183.1 1166.07 183.6 1165.24 184.1 1164.4 184.6 1163.55 185.1 1162.68 185.6 1161.81 186.1 1160.91 186.6 1160 187.1 1159.08 187.6 1158.15 188.1 1157.2 188.6 1156.23 189.1 1155.26 189.6 1154.27 190.1 1153.27 190.6 1152.25 191.1 1151.23 191.6 1150.19 192.1 1149.14 192.6 1148.08 193.1 1147.01 193.6 1145.93 194.1 1144.83 194.6 1143.71 195.1 1142.57 195.6 1141.4 196.1 1140.2 196.6 1138.97 197.1 1137.69 197.6 1136.37 198.1 1135.01 198.6 1133.6 199.1 1132.13 199.6 1130.62 200.1 1129.08 200.6 1127.49 201.1 1125.87 201.6 1124.22 202.1 1122.54 202.6 1120.84 203.1 1119.11 203.6 1117.38 204.1 1115.63 204.6 1113.86 205.1 1112.08 205.6 1110.29 206.1 1108.49 206.6 1106.68 207.1 1104.86 207.6 1103.03 208.1 1101.19 208.6 1099.35 209.1 1097.49 209.6 1095.62 210.1 1093.73 210.6 1091.82 211.1 1089.87 211.6 1087.88 212.1 1085.85 212.6 1083.77 213.1 1081.63 213.6 1079.42 214.1 1077.14 214.6 1074.8 215.1 1072.39 215.6 1069.93 216.1 1067.41 216.6 1064.85 217.1 1062.24 217.6 1059.6 218.1 1056.94 218.6 1054.24 219.1 1051.52 219.6 1048.79 220.1 1046.03 220.6 1043.27 221.1 1040.49 221.6 1037.7 222.1 1034.91 222.6 1032.11 223.1 1029.32 223.6 1026.53 224.1 1023.75 224.6 1021 225.1 1018.26 225.6 1015.56 226.1 1012.88 226.6 1010.25 227.1 1007.65 227.6 1005.09 228.1 1002.56 228.6 1000.07 229.1 997.61 229.6 995.18 230.1 992.78 230.6 990.4 231.1 988.05 231.6 985.73 232.1 983.44 232.6 981.18 233.1 978.95 233.6 976.75 234.1 974.59 234.6 972.47 235.1 970.38 235.6 968.32 236.1 966.28 236.6 964.26 237.1 962.24 237.6 960.22 238.1 958.19 238.6 956.14 239.1 954.07 239.6 951.96 240.1 949.82 240.6 947.66 241.1 945.47 241.6 943.26 242.1 941.03 242.6 938.78 243.1 936.52 243.6 934.25 244.1 931.97 244.6 929.69 245.1 927.4 245.6 925.11 246.1 922.82 246.6 920.55 247.1 918.28 247.6 916.01 248.1 913.76 248.6 911.49 249.1 909.22 249.6 906.93 250.1 904.61 250.6 902.27 251.1 899.88 251.6 897.45 252.1 894.97 252.6 892.43 253.1 889.83 253.6 887.15 254.1 884.39 254.6 881.55 255.1 878.62 255.6 875.63 256.1 872.57 256.6 869.47 257.1 866.32 257.6 863.15 258.1 859.97 258.6 856.77 259.1 853.59 259.6 850.42 260.1 847.27 260.6 844.16 261.1 841.1 261.6 838.07 262.1 835.1 262.6 832.17 263.1 829.3 263.6 826.49 264.1 823.74 264.6 821.04 265.1 818.4 265.6 815.81 266.1 813.27 266.6 810.78 267.1 808.34 267.6 805.96 268.1 803.63 268.6 801.38 269.1 799.19 269.6 797.08 270.1 795.05 270.6 793.11 271.1 791.24 271.6 789.44 272.1 787.71 272.6 786.02 273.1 784.36 273.6 782.73 274.1 781.11 274.6 779.49 275.1 777.86 275.6 776.21 276.1 774.53 276.6 772.83 277.1 771.1 277.6 769.37 278.1 767.64 278.6 765.91 279.1 764.19 279.6 762.49 280.1 760.82 280.6 759.18 281.1 757.58 281.6 756.03 282.1 754.54 282.6 753.09 283.1 751.71 283.6 750.38 284.1 749.13 284.6 747.94 285.1 746.83 285.6 745.8 286.1 744.85 286.6 743.99 287.1 743.22 287.6 742.54 288.1 741.96 288.6 741.48 289.1 741.09 289.6 740.8 290.1 740.58 290.6 740.44 291.1 740.37 291.6 740.37 292.1 740.42 292.6 740.51 293.1 740.64 293.6 740.78 294.1 740.94 294.6 741.09 295.1 741.24 295.6 741.37 296.1 741.48 296.6 741.56 297.1 741.61 297.6 741.61 298.1 741.58 298.6 741.5 299.1 741.37 299.6 741.2 300.1 740.99 300.6 740.73 301.1 740.43 301.6 740.09 302.1 739.71 302.6 739.31 303.1 738.88 303.6 738.44 304.1 737.98 304.6 737.52 305.1 737.05 305.6 736.58 306.1 736.1 306.6 735.62 307.1 735.13 307.6 734.63 308.1 734.13 308.6 733.61 309.1 733.09 309.6 732.55 310.1 731.99 310.6 731.42 311.1 730.82 311.6 730.19 312.1 729.52 312.6 728.8 313.1 728.02 313.6 727.19 314.1 726.28 314.6 725.3 315.1 724.26 315.6 723.16 316.1 722.03 316.6 720.86 317.1 719.66 317.6 718.46 318.1 717.26 318.6 716.07 319.1 714.9 319.6 713.77 320.1 712.69 320.6 711.69 321.1 710.76 321.6 709.94 322.1 709.22 322.6 708.6 323.1 708.1 323.6 707.71 324.1 707.43 324.6 707.28 325.1 707.25 325.6 707.36 326.1 707.61 326.6 708.01 327.1 708.58 327.6 709.33 328.1 710.25 328.6 711.34 329.1 712.58 329.6 713.94 330.1 715.41 330.6 716.97 331.1 718.61 331.6 720.29 332.1 722 332.6 723.7 333.1 725.38 333.6 727 334.1 728.54 334.6 729.99 335.1 731.35 335.6 732.62 336.1 733.78 336.6 734.85 337.1 735.8 337.6 736.64 338.1 737.34 338.6 737.87 339.1 738.2 339.6 738.32 340.1 738.21 340.6 737.92 341.1 737.46 341.6 736.87 342.1 736.16 342.6 735.38 343.1 734.55 343.6 733.69 344.1 732.85 344.6 732.06 345.1 731.34 345.6 730.72 346.1 730.21 346.6 729.8 347.1 729.49 347.6 729.28 348.1 729.17 348.6 729.14 349.1 729.21 349.6 729.4 350.1 729.71 350.6 730.15 351.1 730.75 351.6 731.52 352.1 732.46 352.6 733.55 353.1 734.78 353.6 736.13 354.1 737.58 354.6 739.11 355.1 740.72 355.6 742.41 356.1 744.19 356.6 746.06 357.1 748.03 357.6 750.12 358.1 752.32 358.6 754.61 359.1 756.96 359.6 759.35 360.1 761.74 360.6 764.1 361.1 766.4 361.6 768.64 362.1 770.82 362.6 772.97 363.1 775.09 363.6 777.19 364.1 779.29 364.6 781.38 365.1 783.45 365.6 785.49 366.1 787.47 366.6 789.38 367.1 791.21 367.6 792.94 368.1 794.57 368.6 796.11 369.1 797.55 369.6 798.9 370.1 800.17 370.6 801.33 371.1 802.38 371.6 803.28 372.1 804 372.6 804.51 373.1 804.77 373.6 804.75 374.1 804.46 374.6 803.91 375.1 803.11 375.6 802.08 376.1 800.84 376.6 799.4 377.1 797.82 377.6 796.15 378.1 794.44 378.6 792.74 379.1 791.09 379.6 789.54 380.1 788.09 380.6 786.76 381.1 785.57 381.6 784.54 382.1 783.67 382.6 782.97 383.1 782.45 383.6 782.11 384.1 781.94 384.6 781.97 385.1 782.19 385.6 782.64 386.1 783.34 386.6 784.3 387.1 785.55 387.6 787.08 388.1 788.89 388.6 790.96 389.1 793.29 389.6 795.85 390.1 798.63 390.6 801.63 391.1 804.82 391.6 808.2 392.1 811.75 392.6 815.44 393.1 819.26 393.6 823.15 394.1 827.09 394.6 831.05 395.1 834.98 395.6 838.86 396.1 842.65 396.6 846.32 397.1 849.84 397.6 853.17 398.1 856.31 398.6 859.25 399.1 861.98 399.6 864.49 400.1 866.79 400.6 868.89 401.1 870.82 401.6 872.61 402.1 874.29 402.6 875.87 403.1 877.37 403.6 878.79 404.1 880.13 404.6 881.39 405.1 882.57 405.6 883.66 406.1 884.68 406.6 885.64 407.1 886.55 407.6 887.44 408.1 888.33 408.6 889.22 409.1 890.15 409.6 891.11 410.1 892.13 410.6 893.21 411.1 894.36 411.6 895.59 412.1 896.92 412.6 898.33 413.1 899.82 413.6 901.35 414.1 902.92 414.6 904.52 415.1 906.12 415.6 907.72 416.1 909.29 416.6 910.81 417.1 912.28 417.6 913.67 418.1 914.98 418.6 916.18 419.1 917.28 419.6 918.29 420.1 919.22 420.6 920.07 421.1 920.85 421.6 921.55 422.1 922.2 422.6 922.78 423.1 923.31 423.6 923.8 424.1 924.24 424.6 924.64 425.1 925.03 425.6 925.42 426.1 925.83 426.6 926.28 427.1 926.79 427.6 927.39 428.1 928.07 428.6 928.83 429.1 929.67 429.6 930.59 430.1 931.58 430.6 932.64 431.1 933.76 431.6 934.94 432.1 936.16 432.6 937.43 433.1 938.72 433.6 940.04 434.1 941.38 434.6 942.72 435.1 944.06 435.6 945.39 436.1 946.71 436.6 948 437.1 949.25 437.6 950.46 438.1 951.61 438.6 952.7 439.1 953.73 439.6 954.68 440.1 955.56 440.6 956.4 441.1 957.21 441.6 958.03 442.1 958.86 442.6 959.74 443.1 960.68 443.6 961.7 444.1 962.83 444.6 964.04 445.1 965.36 445.6 966.77 446.1 968.27 446.6 969.87 447.1 971.58 447.6 973.44 448.1 975.51 448.6 977.85 449.1 980.5 449.6 983.48 450.1 986.72 450.6 990.12 451.1 993.59 451.6 997.08 452.1 1000.56 452.6 1004.06 453.1 1007.59 453.6 1011.14 454.1 1014.7 454.6 1018.21 455.1 1021.64 455.6 1024.93 456.1 1028.08 456.6 1031.07 457.1 1033.88 457.6 1036.5 458.1 1038.93 458.6 1041.18 459.1 1043.25 459.6 1045.15 460.1 1046.87 460.6 1048.4 461.1 1049.75 461.6 1050.9 462.1 1051.86 462.6 1052.65 463.1 1053.28 463.6 1053.79 464.1 1054.19 464.6 1054.49 465.1 1054.69 465.6 1054.79 466.1 1054.8 466.6 1054.76 467.1 1054.71 467.6 1054.68 468.1 1054.73 468.6 1054.89 469.1 1055.18 469.6 1055.6 470.1 1056.14 470.6 1056.81 471.1 1057.6 471.6 1058.51 472.1 1059.54 472.6 1060.68 473.1 1061.94 473.6 1063.3 474.1 1064.78 474.6 1066.36 475.1 1068.05 475.6 1069.83 476.1 1071.71 476.6 1073.69 477.1 1075.75 477.6 1077.88 478.1 1080.06 478.6 1082.29 479.1 1084.55 479.6 1086.83 480.1 1089.13 480.6 1091.45 481.1 1093.79 481.6 1096.13 482.1 1098.49 482.6 1100.83 483.1 1103.17 483.6 1105.48 484.1 1107.76 484.6 1110.01 485.1 1112.21 485.6 1114.37 486.1 1116.51 486.6 1118.61 487.1 1120.69 487.6 1122.76 488.1 1124.79 488.6 1126.8 489.1 1128.76 489.6 1130.67 490.1 1132.53 490.6 1134.31 491.1 1136.02 491.6 1137.66 492.1 1139.24 492.6 1140.74 493.1 1142.18 493.6 1143.54 494.1 1144.83 494.6 1146.04 495.1 1147.17 495.6 1148.21 496.1 1149.16 496.6 1150.02 497.1 1150.78 497.6 1151.47 498.1 1152.07 498.6 1152.6 499.1 1153.05 499.6 1153.43 500.1 1153.75 500.6 1153.99 501.1 1154.17 501.6 1154.28 502.1 1154.35 502.6 1154.4 503.1 1154.45 503.6 1154.53 504.1 1154.65 504.6 1154.82 505.1 1155.06 505.6 1155.37 506.1 1155.76 506.6 1156.23 507.1 1156.79 507.6 1157.43 508.1 1158.16 508.6 1158.96 509.1 1159.83 509.6 1160.78 510.1 1161.78 510.6 1162.83 511.1 1163.92 511.6 1165.05 512.1 1166.2 512.6 1167.36 513.1 1168.53 513.6 1169.7 514.1 1170.89 514.6 1172.07 515.1 1173.26 515.6 1174.46 516.1 1175.65 516.6 1176.83 517.1 1178 517.6 1179.15 518.1 1180.28 518.6 1181.38 519.1 1182.44 519.6 1183.48 520.1 1184.48 520.6 1185.43 521.1 1186.35 521.6 1187.22 522.1 1188.05 522.6 1188.83 523.1 1189.57 523.6 1190.26 524.1 1190.91 524.6 1191.51 525.1 1192.06 525.6 1192.58 526.1 1193.05 526.6 1193.49 527.1 1193.89 527.6 1194.26 528.1 1194.6 528.6 1194.91 529.1 1195.2 529.6 1195.45 530.1 1195.67 530.6 1195.87 531.1 1196.03 531.6 1196.17 532.1 1196.28 532.6 1196.37 533.1 1196.44 533.6 1196.5 534.1 1196.54 534.6 1196.58 535.1 1196.61 535.6 1196.63 536.1 1196.64 536.6 1196.65 537.1 1196.65 537.6 1196.64 538.1 1196.62 538.6 1196.6 539.1 1196.58 539.6 1196.55 540.1 1196.51 540.6 1196.47 541.1 1196.43 541.6 1196.39 542.1 1196.36 542.6 1196.32 543.1 1196.29 543.6 1196.26 544.1 1196.25 544.6 1196.24 545.1 1196.25 545.6 1196.26 546.1 1196.3 546.6 1196.34 547.1 1196.41 547.6 1196.49 548.1 1196.58 548.6 1196.68 549.1 1196.8 549.6 1196.92 550.1 1197.05 550.6 1197.19 551.1 1197.34 551.6 1197.48 552.1 1197.64 552.6 1197.79 553.1 1197.94 553.6 1198.1 554.1 1198.25 554.6 1198.39 555.1 1198.54 555.6 1198.68 556.1 1198.81 556.6 1198.94 557.1 1199.06 557.6 1199.18 558.1 1199.3 558.6 1199.41 559.1 1199.52 559.6 1199.62 560.1 1199.71 560.6 1199.81 561.1 1199.89 561.6 1199.97 562.1 1200.05 562.6 1200.12 563.1 1200.19 563.6 1200.25 564.1 1200.31 564.6 1200.36 565.1 1200.4 565.6 1200.45 566.1 1200.45 566.6 1200.45 567.1 1200.45 567.6 1200.45 568.1 1200.45 568.6 1200.45 569.1 1200.45 569.6 1200.45 570.1 1200.45 570.6 1200.45 571.1 1200.45 571.6 1200.45 572.1 1200.45 572.6 1200.45Z" fill="#f5deb3" stroke="#000" stroke-width="1.3" stroke-linejoin="round"/>
<path d="M259.75 1220.24V687.81" stroke="#cd2626" stroke-width="1.5" stroke-dasharray="6 6" stroke-linecap="round" fill="none"/>
<rect x="59.76" y="687.81" width="532.43" height="532.43" fill="none" stroke="#000" stroke-width="0.75"/>
<text x="325.98" y="671.91" text-anchor="middle" font-weight="bold" font-size="21.5">Motif score threshold: 88.300</text>
<text x="325.98" y="1266.14" text-anchor="middle" font-size="16">Motif score</text>
<text transform="translate(21.96 954.02) rotate(-90)" text-anchor="middle" font-size="16">Density</text>
<path d="M178.75 1220.24H546.7M178.75 1220.24v5.98M301.4 1220.24v5.98M424.05 1220.24v5.98M546.7 1220.24v5.98" fill="none" stroke="#000" stroke-width="0.75"/>
<text x="178.75" y="1241.74" text-anchor="middle" font-size="10.5">85</text>
<text x="301.4" y="1241.74" text-anchor="middle" font-size="10.5">90</text>
<text x="424.05" y="1241.74" text-anchor="middle" font-size="10.5">95</text>
<text x="546.7" y="1241.74" text-anchor="middle" font-size="10.5">100</text>
<path d="M59.76 731.25V1200.45M59.76 1200.45h-5.98M59.76 1122.25h-5.98M59.76 1044.05h-5.98M59.76 965.85h-5.98M59.76 887.65h-5.98M59.76 809.45h-5.98M59.76 731.25h-5.98" fill="none" stroke="#000" stroke-width="0.75"/>
<text transform="translate(45.06 1200.45) rotate(-90)" text-anchor="middle" font-size="10.5">0.00</text>
<text transform="translate(45.06 1122.25) rotate(-90)" text-anchor="middle" font-size="10.5">0.02</text>
<text transform="translate(45.06 1044.05) rotate(-90)" text-anchor="middle" font-size="10.5">0.04</text>
<text transform="translate(45.06 965.85) rotate(-90)" text-anchor="middle" font-size="10.5">0.06</text>
<text transform="translate(45.06 887.65) rotate(-90)" text-anchor="middle" font-size="10.5">0.08</text>
<text transform="translate(45.06 809.45) rotate(-90)" text-anchor="middle" font-size="10.5">0.10</text>
<text transform="translate(45.06 731.25) rotate(-90)" text-anchor="middle" font-size="10.5">0.12</text>
<path d="M719.1 1200.45 719.6 1200.42 720.1 1200.39 720.6 1200.35 721.1 1200.3 721.6 1200.25 722.1 1200.19 722.6 1200.12 723.1 1200.04 723.6 1199.94 724.1 1199.84 724.6 1199.72 725.1 1199.58 725.6 1199.43 726.1 1199.26 726.6 1199.08 727.1 1198.87 727.6 1198.64 728.1 1198.39 728.6 1198.12 729.1 1197.82 729.6 1197.5 730.1 1197.15 730.6 1196.77 731.1 1196.37 731.6 1195.93 732.1 1195.46 732.6 1194.95 733.1 1194.41 733.6 1193.83 734.1 1193.21 734.6 1192.54 735.1 1191.83 735.6 1191.07 736.1 1190.26 736.6 1189.39 737.1 1188.47 737.6 1187.48 738.1 1186.43 738.6 1185.32 739.1 1184.13 739.6 1182.88 740.1 1181.56 740.6 1180.2 741.1 1178.77 741.6 1177.3 742.1 1175.79 742.6 1174.23 743.1 1172.63 743.6 1170.99 744.1 1169.32 744.6 1167.6 745.1 1165.84 745.6 1164.03 746.1 1162.18 746.6 1160.27 747.1 1158.32 747.6 1156.31 748.1 1154.24 748.6 1152.09 749.1 1149.86 749.6 1147.53 750.1 1145.11 750.6 1142.58 751.1 1139.93 751.6 1137.17 752.1 1134.31 752.6 1131.37 753.1 1128.38 753.6 1125.33 754.1 1122.27 754.6 1119.19 755.1 1116.12 755.6 1113.04 756.1 1109.94 756.6 1106.82 757.1 1103.66 757.6 1100.46 758.1 1097.21 758.6 1093.92 759.1 1090.63 759.6 1087.39 760.1 1084.21 760.6 1081.14 761.1 1078.21 761.6 1075.4 762.1 1072.7 762.6 1070.09 763.1 1067.54 763.6 1065.04 764.1 1062.58 764.6 1060.17 765.1 1057.81 765.6 1055.52 766.1 1053.31 766.6 1051.17 767.1 1049.13 767.6 1047.17 768.1 1045.31 768.6 1043.53 769.1 1041.84 769.6 1040.24 770.1 1038.72 770.6 1037.28 771.1 1035.92 771.6 1034.62 772.1 1033.38 772.6 1032.2 773.1 1031.06 773.6 1029.97 774.1 1028.93 774.6 1027.93 775.1 1026.98 775.6 1026.08 776.1 1025.23 776.6 1024.43 777.1 1023.68 777.6 1022.97 778.1 1022.3 778.6 1021.67 779.1 1021.08 779.6 1020.51 780.1 1019.98 780.6 1019.47 781.1 1018.99 781.6 1018.53 782.1 1018.09 782.6 1017.67 783.1 1017.28 783.6 1016.91 784.1 1016.57 784.6 1016.26 785.1 1015.97 785.6 1015.71 786.1 1015.48 786.6 1015.27 787.1 1015.08 787.6 1014.92 788.1 1014.77 788.6 1014.63 789.1 1014.52 789.6 1014.41 790.1 1014.32 790.6 1014.23 791.1 1014.15 791.6 1014.08 792.1 1014.02 792.6 1013.96 793.1 1013.92 793.6 1013.88 794.1 1013.86 794.6 1013.85 795.1 1013.84 795.6 1013.85 796.1 1013.87 796.6 1013.9 797.1 1013.94 797.6 1013.99 798.1 1014.05 798.6 1014.12 799.1 1014.19 799.6 1014.27 800.1 1014.35 800.6 1014.44 801.1 1014.54 801.6 1014.63 802.1 1014.73 802.6 1014.83 803.1 1014.94 803.6 1015.04 804.1 1015.14 804.6 1015.24 805.1 1015.34 805.6 1015.44 806.1 1015.54 806.6 1015.63 807.1 1015.72 807.6 1015.81 808.1 1015.89 808.6 1015.97 809.1 1016.05 809.6 1016.12 810.1 1016.2 810.6 1016.27 811.1 1016.34 811.6 1016.4 812.1 1016.46 812.6 1016.52 813.1 1016.58 813.6 1016.63 814.1 1016.67 814.6 1016.71 815.1 1016.73 815.6 1016.75 816.1 1016.76 816.6 1016.76 817.1 1016.74 817.6 1016.72 818.1 1016.68 818.6 1016.64 819.1 1016.58 819.6 1016.51 820.1 1016.43 820.6 1016.34 821.1 1016.24 821.6 1016.12 822.1 1016 822.6 1015.87 823.1 1015.73 823.6 1015.57 824.1 1015.42 824.6 1015.25 825.1 1015.08 825.6 1014.9 826.1 1014.72 826.6 1014.53 827.1 1014.34 827.6 1014.15 828.1 1013.95 828.6 1013.75 829.1 1013.55 829.6 1013.35 830.1 1013.15 830.6 1012.94 831.1 1012.74 831.6 1012.53 832.1 1012.33 832.6 1012.13 833.1 1011.93 833.6 1011.73 834.1 1011.54 834.6 1011.35 835.1 1011.17 835.6 1010.99 836.1 1010.83 836.6 1010.68 837.1 1010.54 837.6 1010.41 838.1 1010.29 838.6 1010.18 839.1 1010.09 839.6 1010 840.1 1009.93 840.6 1009.86 841.1 1009.81 841.6 1009.75 842.1 1009.71 842.6 1009.67 843.1 1009.64 843.6 1009.62 844.1 1009.6 844.6 1009.59 845.1 1009.59 845.6 1009.59 846.1 1009.61 846.6 1009.63 847.1 1009.66 847.6 1009.7 848.1 1009.75 848.6 1009.81 849.1 1009.87 849.6 1009.93 850.1 1010 850.6 1010.07 851.1 1010.13 851.6 1010.2 852.1 1010.26 852.6 1010.31 853.1 1010.35 853.6 1010.38 854.1 1010.4 854.6 1010.41 855.1 1010.41 855.6 1010.39 856.1 1010.36 856.6 1010.31 857.1 1010.25 857.6 1010.17 858.1 1010.07 858.6 1009.95 859.1 1009.82 859.6 1009.66 860.1 1009.49 860.6 1009.29 861.1 1009.08 861.6 1008.85 862.1 1008.6 862.6 1008.33 863.1 1008.04 863.6 1007.73 864.1 1007.4 864.6 1007.05 865.1 1006.69 865.6 1006.3 866.1 1005.9 866.6 1005.47 867.1 1005.03 867.6 1004.56 868.1 1004.08 868.6 1003.58 869.1 1003.06 869.6 1002.52 870.1 1001.96 870.6 1001.39 871.1 1000.79 871.6 1000.17 872.1 999.54 872.6 998.88 873.1 998.2 873.6 997.51 874.1 996.79 874.6 996.05 875.1 995.3 875.6 994.52 876.1 993.73 876.6 992.92 877.1 992.09 877.6 991.25 878.1 990.38 878.6 989.51 879.1 988.61 879.6 987.7 880.1 986.77 880.6 985.82 881.1 984.85 881.6 983.85 882.1 982.83 882.6 981.78 883.1 980.71 883.6 979.6 884.1 978.47 884.6 977.3 885.1 976.12 885.6 974.91 886.1 973.69 886.6 972.47 887.1 971.24 887.6 970.02 888.1 968.81 888.6 967.62 889.1 966.45 889.6 965.3 890.1 964.17 890.6 963.05 891.1 961.93 891.6 960.79 892.1 959.63 892.6 958.43 893.1 957.19 893.6 955.89 894.1 954.53 894.6 953.09 895.1 951.57 895.6 950 896.1 948.36 896.6 946.69 897.1 944.97 897.6 943.24 898.1 941.48 898.6 939.72 899.1 937.97 899.6 936.23 900.1 934.51 900.6 932.82 901.1 931.18 901.6 929.56 902.1 927.98 902.6 926.42 903.1 924.87 903.6 923.34 904.1 921.82 904.6 920.29 905.1 918.76 905.6 917.23 906.1 915.67 906.6 914.1 907.1 912.5 907.6 910.87 908.1 909.2 908.6 907.5 909.1 905.76 909.6 903.99 910.1 902.19 910.6 900.37 911.1 898.52 911.6 896.65 912.1 894.76 912.6 892.86 913.1 890.94 913.6 889.01 914.1 887.07 914.6 885.12 915.1 883.17 915.6 881.21 916.1 879.23 916.6 877.25 917.1 875.25 917.6 873.23 918.1 871.2 918.6 869.14 919.1 867.07 919.6 864.98 920.1 862.86 920.6 860.72 921.1 858.56 921.6 856.38 922.1 854.18 922.6 851.95 923.1 849.71 923.6 847.44 924.1 845.15 924.6 842.84 925.1 840.51 925.6 838.16 926.1 835.79 926.6 833.4 927.1 831 927.6 828.59 928.1 826.16 928.6 823.72 929.1 821.26 929.6 818.8 930.1 816.33 930.6 813.85 931.1 811.36 931.6 808.86 932.1 806.36 932.6 803.84 933.1 801.33 933.6 798.8 934.1 796.28 934.6 793.74 935.1 791.22 935.6 788.69 936.1 786.18 936.6 783.69 937.1 781.21 937.6 778.76 938.1 776.33 938.6 773.94 939.1 771.59 939.6 769.27 940.1 767 940.6 764.78 941.1 762.6 941.6 760.49 942.1 758.43 942.6 756.43 943.1 754.49 943.6 752.6 944.1 750.75 944.6 748.95 945.1 747.19 945.6 745.46 946.1 743.75 946.6 742.07 947.1 740.41 947.6 738.77 948.1 737.13 948.6 735.52 949.1 733.94 949.6 732.38 950.1 730.86 950.6 729.38 951.1 727.95 951.6 726.56 952.1 725.23 952.6 723.95 953.1 722.74 953.6 721.58 954.1 720.48 954.6 719.43 955.1 718.43 955.6 717.47 956.1 716.56 956.6 715.68 957.1 714.84 957.6 714.02 958.1 713.24 958.6 712.49 959.1 711.78 959.6 711.11 960.1 710.48 960.6 709.91 961.1 709.39 961.6 708.94 962.1 708.54 962.6 708.21 963.1 707.94 963.6 707.73 964.1 707.56 964.6 707.45 965.1 707.37 965.6 707.33 966.1 707.33 966.6 707.36 967.1 707.42 967.6 707.53 968.1 707.67 968.6 707.87 969.1 708.12 969.6 708.42 970.1 708.78 970.6 709.21 971.1 709.69 971.6 710.24 972.1 710.84 972.6 711.49 973.1 712.19 973.6 712.93 974.1 713.72 974.6 714.56 975.1 715.43 975.6 716.34 976.1 717.3 976.6 718.3 977.1 719.34 977.6 720.43 978.1 721.56 978.6 722.74 979.1 723.97 979.6 725.24 980.1 726.56 980.6 727.92 981.1 729.33 981.6 730.78 982.1 732.28 982.6 733.82 983.1 735.41 983.6 737.04 984.1 738.71 984.6 740.43 985.1 742.2 985.6 744.01 986.1 745.87 986.6 747.79 987.1 749.75 987.6 751.76 988.1 753.81 988.6 755.91 989.1 758.05 989.6 760.22 990.1 762.43 990.6 764.67 991.1 766.93 991.6 769.22 992.1 771.54 992.6 773.89 993.1 776.26 993.6 778.66 994.1 781.08 994.6 783.52 995.1 785.99 995.6 788.48 996.1 790.99 996.6 793.51 997.1 796.03 997.6 798.54 998.1 801.05 998.6 803.54 999.1 806 999.6 808.44 1000.1 810.85 1000.6 813.23 1001.1 815.6 1001.6 817.96 1002.1 820.31 1002.6 822.67 1003.1 825.02 1003.6 827.39 1004.1 829.76 1004.6 832.14 1005.1 834.53 1005.6 836.92 1006.1 839.3 1006.6 841.67 1007.1 844.04 1007.6 846.38 1008.1 848.71 1008.6 851.03 1009.1 853.32 1009.6 855.58 1010.1 857.82 1010.6 860.04 1011.1 862.22 1011.6 864.38 1012.1 866.5 1012.6 868.6 1013.1 870.66 1013.6 872.7 1014.1 874.71 1014.6 876.7 1015.1 878.66 1015.6 880.61 1016.1 882.54 1016.6 884.45 1017.1 886.35 1017.6 888.23 1018.1 890.09 1018.6 891.94 1019.1 893.78 1019.6 895.59 1020.1 897.38 1020.6 899.14 1021.1 900.88 1021.6 902.6 1022.1 904.29 1022.6 905.95 1023.1 907.58 1023.6 909.2 1024.1 910.8 1024.6 912.38 1025.1 913.96 1025.6 915.54 1026.1 917.11 1026.6 918.69 1027.1 920.28 1027.6 921.88 1028.1 923.49 1028.6 925.11 1029.1 926.73 1029.6 928.35 1030.1 929.97 1030.6 931.58 1031.1 933.18 1031.6 934.76 1032.1 936.32 1032.6 937.86 1033.1 939.37 1033.6 940.85 1034.1 942.3 1034.6 943.72 1035.1 945.11 1035.6 946.46 1036.1 947.78 1036.6 949.06 1037.1 950.29 1037.6 951.49 1038.1 952.64 1038.6 953.75 1039.1 954.81 1039.6 955.83 1040.1 956.81 1040.6 957.75 1041.1 958.66 1041.6 959.54 1042.1 960.4 1042.6 961.23 1043.1 962.05 1043.6 962.86 1044.1 963.65 1044.6 964.44 1045.1 965.22 1045.6 966 1046.1 966.77 1046.6 967.53 1047.1 968.28 1047.6 969.03 1048.1 969.77 1048.6 970.5 1049.1 971.22 1049.6 971.93 1050.1 972.64 1050.6 973.34 1051.1 974.03 1051.6 974.71 1052.1 975.38 1052.6 976.05 1053.1 976.7 1053.6 977.35 1054.1 977.99 1054.6 978.63 1055.1 979.25 1055.6 979.87 1056.1 980.48 1056.6 981.08 1057.1 981.68 1057.6 982.27 1058.1 982.85 1058.6 983.42 1059.1 983.99 1059.6 984.56 1060.1 985.12 1060.6 985.68 1061.1 986.25 1061.6 986.81 1062.1 987.37 1062.6 987.94 1063.1 988.51 1063.6 989.09 1064.1 989.67 1064.6 990.26 1065.1 990.86 1065.6 991.46 1066.1 992.07 1066.6 992.69 1067.1 993.31 1067.6 993.93 1068.1 994.56 1068.6 995.18 1069.1 995.81 1069.6 996.43 1070.1 997.05 1070.6 997.66 1071.1 998.27 1071.6 998.87 1072.1 999.46 1072.6 1000.04 1073.1 1000.62 1073.6 1001.18 1074.1 1001.74 1074.6 1002.28 1075.1 1002.82 1075.6 1003.34 1076.1 1003.85 1076.6 1004.35 1077.1 1004.84 1077.6 1005.31 1078.1 1005.77 1078.6 1006.22 1079.1 1006.65 1079.6 1007.07 1080.1 1007.47 1080.6 1007.87 1081.1 1008.24 1081.6 1008.6 1082.1 1008.94 1082.6 1009.25 1083.1 1009.54 1083.6 1009.8 1084.1 1010.02 1084.6 1010.22 1085.1 1010.39 1085.6 1010.54 1086.1 1010.65 1086.6 1010.75 1087.1 1010.82 1087.6 1010.86 1088.1 1010.89 1088.6 1010.89 1089.1 1010.88 1089.6 1010.85 1090.1 1010.8 1090.6 1010.74 1091.1 1010.67 1091.6 1010.59 1092.1 1010.5 1092.6 1010.4 1093.1 1010.29 1093.6 1010.18 1094.1 1010.07 1094.6 1009.96 1095.1 1009.85 1095.6 1009.75 1096.1 1009.65 1096.6 1009.55 1097.1 1009.46 1097.6 1009.38 1098.1 1009.31 1098.6 1009.25 1099.1 1009.19 1099.6 1009.14 1100.1 1009.11 1100.6 1009.08 1101.1 1009.07 1101.6 1009.07 1102.1 1009.08 1102.6 1009.1 1103.1 1009.14 1103.6 1009.18 1104.1 1009.25 1104.6 1009.33 1105.1 1009.42 1105.6 1009.53 1106.1 1009.65 1106.6 1009.79 1107.1 1009.95 1107.6 1010.12 1108.1 1010.3 1108.6 1010.5 1109.1 1010.71 1109.6 1010.92 1110.1 1011.14 1110.6 1011.37 1111.1 1011.61 1111.6 1011.84 1112.1 1012.08 1112.6 1012.33 1113.1 1012.57 1113.6 1012.82 1114.1 1013.07 1114.6 1013.32 1115.1 1013.57 1115.6 1013.82 1116.1 1014.08 1116.6 1014.33 1117.1 1014.59 1117.6 1014.85 1118.1 1015.1 1118.6 1015.36 1119.1 1015.61 1119.6 1015.87 1120.1 1016.12 1120.6 1016.38 1121.1 1016.63 1121.6 1016.88 1122.1 1017.13 1122.6 1017.37 1123.1 1017.62 1123.6 1017.86 1124.1 1018.09 1124.6 1018.32 1125.1 1018.55 1125.6 1018.78 1126.1 1019 1126.6 1019.22 1127.1 1019.44 1127.6 1019.65 1128.1 1019.87 1128.6 1020.08 1129.1 1020.28 1129.6 1020.49 1130.1 1020.69 1130.6 1020.89 1131.1 1021.08 1131.6 1021.28 1132.1 1021.47 1132.6 1021.67 1133.1 1021.87 1133.6 1022.06 1134.1 1022.26 1134.6 1022.46 1135.1 1022.66 1135.6 1022.87 1136.1 1023.08 1136.6 1023.29 1137.1 1023.51 1137.6 1023.74 1138.1 1023.96 1138.6 1024.2 1139.1 1024.44 1139.6 1024.69 1140.1 1024.94 1140.6 1025.2 1141.1 1025.46 1141.6 1025.74 1142.1 1026.02 1142.6 1026.31 1143.1 1026.6 1143.6 1026.91 1144.1 1027.23 1144.6 1027.55 1145.1 1027.9 1145.6 1028.25 1146.1 1028.63 1146.6 1029.02 1147.1 1029.43 1147.6 1029.86 1148.1 1030.32 1148.6 1030.8 1149.1 1031.3 1149.6 1031.82 1150.1 1032.37 1150.6 1032.94 1151.1 1033.53 1151.6 1034.15 1152.1 1034.8 1152.6 1035.46 1153.1 1036.16 1153.6 1036.9 1154.1 1037.67 1154.6 1038.48 1155.1 1039.34 1155.6 1040.25 1156.1 1041.22 1156.6 1042.25 1157.1 1043.34 1157.6 1044.49 1158.1 1045.7 1158.6 1046.96 1159.1 1048.29 1159.6 1049.68 1160.1 1051.12 1160.6 1052.62 1161.1 1054.18 1161.6 1055.8 1162.1 1057.48 1162.6 1059.23 1163.1 1061.04 1163.6 1062.91 1164.1 1064.85 1164.6 1066.86 1165.1 1068.94 1165.6 1071.07 1166.1 1073.27 1166.6 1075.52 1167.1 1077.81 1167.6 1080.15 1168.1 1082.52 1168.6 1084.93 1169.1 1087.36 1169.6 1089.82 1170.1 1092.3 1170.6 1094.8 1171.1 1097.31 1171.6 1099.84 1172.1 1102.37 1172.6 1104.92 1173.1 1107.46 1173.6 1110.01 1174.1 1112.55 1174.6 1115.08 1175.1 1117.6 1175.6 1120.09 1176.1 1122.55 1176.6 1124.99 1177.1 1127.39 1177.6 1129.74 1178.1 1132.07 1178.6 1134.35 1179.1 1136.6 1179.6 1138.83 1180.1 1141.02 1180.6 1143.18 1181.1 1145.33 1181.6 1147.45 1182.1 1149.54 1182.6 1151.6 1183.1 1153.63 1183.6 1155.63 1184.1 1157.58 1184.6 1159.5 1185.1 1161.36 1185.6 1163.17 1186.1 1164.94 1186.6 1166.65 1187.1 1168.32 1187.6 1169.94 1188.1 1171.51 1188.6 1173.03 1189.1 1174.51 1189.6 1175.95 1190.1 1177.34 1190.6 1178.69 1191.1 1179.99 1191.6 1181.25 1192.1 1182.46 1192.6 1183.64 1193.1 1184.76 1193.6 1185.85 1194.1 1186.89 1194.6 1187.88 1195.1 1188.83 1195.6 1189.73 1196.1 1190.59 1196.6 1191.39 1197.1 1192.15 1197.6 1192.86 1198.1 1193.52 1198.6 1194.13 1199.1 1194.69 1199.6 1195.21 1200.1 1195.7 1200.6 1196.15 1201.1 1196.57 1201.6 1196.96 1202.1 1197.32 1202.6 1197.66 1203.1 1197.98 1203.6 1198.28 1204.1 1198.56 1204.6 1198.82 1205.1 1199.05 1205.6 1199.27 1206.1 1199.46 1206.6 1199.64 1207.1 1199.8 1207.6 1199.94 1208.1 1200.06 1208.6 1200.17 1209.1 1200.26 1209.6 1200.33 1210.1 1200.39 1210.6 1200.43 1211.1 1200.45 1211.6 1200.45 1212.1 1200.45 1212.6 1200.45Z" fill="#f5deb3" stroke="#000" stroke-width="1.3" stroke-linejoin="round"/>
<path d="M939.55 1220.24V687.81" stroke="#006400" stroke-width="1.5" stroke-dasharray="6 6" stroke-linecap="round" fill="none"/>
<path d="M991.45 1220.24V687.81" stroke="#006400" stroke-width="1.5" stroke-dasharray="6 6" stroke-linecap="round" fill="none"/>
<rect x="699.76" y="687.81" width="532.43" height="532.43" fill="none" stroke="#000" stroke-width="0.75"/>
<text x="965.98" y="671.91" text-anchor="middle" font-weight="bold" font-size="21.5">Enrichment zone: 61.50</text>
<text x="965.98" y="1266.14" text-anchor="middle" font-size="16">Distance to peak summit</text>
<text transform="translate(661.96 954.02) rotate(-90)" text-anchor="middle" font-size="16">Density</text>
<path d="M712 1220.24H1219M712 1220.24v5.98M796.5 1220.24v5.98M881 1220.24v5.98M965.5 1220.24v5.98M1050 1220.24v5.98M1134.5 1220.24v5.98M1219 1220.24v5.98" fill="none" stroke="#000" stroke-width="0.75"/>
<text x="712" y="1241.74" text-anchor="middle" font-size="10.5">-600</text>
<text x="796.5" y="1241.74" text-anchor="middle" font-size="10.5">-400</text>
<text x="881" y="1241.74" text-anchor="middle" font-size="10.5">-200</text>
<text x="965.5" y="1241.74" text-anchor="middle" font-size="10.5">0</text>
<text x="1050" y="1241.74" text-anchor="middle" font-size="10.5">200</text>
<text x="1134.5" y="1241.74" text-anchor="middle" font-size="10.5">400</text>
<text x="1219" y="1241.74" text-anchor="middle" font-size="10.5">600</text>
<path d="M699.76 692.45V1200.45M699.76 1200.45h-5.98M699.76 1073.45h-5.98M699.76 946.45h-5.98M699.76 819.45h-5.98M699.76 692.45h-5.98" fill="none" stroke="#000" stroke-width="0.75"/>
<text transform="translate(685.06 1200.45) rotate(-90)" text-anchor="middle" font-size="10.5">0.0000</text>
<text transform="translate(685.06 1073.45) rotate(-90)" text-anchor="middle" font-size="10.5">0.0005</text>
<text transform="translate(685.06 946.45) rotate(-90)" text-anchor="middle" font-size="10.5">0.0010</text>
<text transform="translate(685.06 819.45) rotate(-90)" text-anchor="middle" font-size="10.5">0.0015</text>
<text transform="translate(685.06 692.45) rotate(-90)" text-anchor="middle" font-size="10.5">0.0020</text>
<path d="M1017.8 703.4H1041.8" stroke="#006400" stroke-width="1.125" stroke-dasharray="1.125 3.375" stroke-linecap="round" fill="none"/>
<path d="M1017.8 718.9H1041.8" stroke="#cd2626" stroke-width="1.125" stroke-dasharray="1.125 3.375" stroke-linecap="round" fill="none"/>
<circle cx="1028.8" cy="734.6" r="2.7" fill="#0000ff"/>
<text x="1052" y="707.5" font-size="12.9">enrichment zone = 61.5</text>
<text x="1052" y="723.3" font-size="12.9">motif score threshold = 88.300</text>
<text x="1052" y="738.7" font-size="12.9">centrality p-val = -0.0436</text>
</svg></body></html>
